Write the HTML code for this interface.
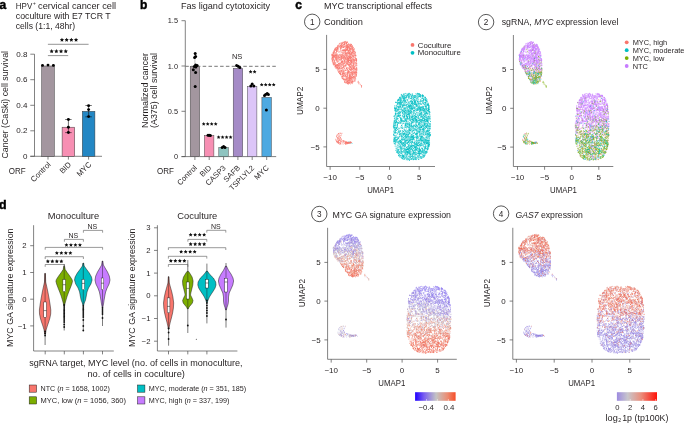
<!DOCTYPE html>
<html><head><meta charset="utf-8"><style>
html,body{margin:0;padding:0;background:#fff;}
body{width:685px;height:424px;overflow:hidden;}
svg{display:block;font-family:"Liberation Sans",sans-serif;will-change:transform;}
</style></head><body>
<svg width="685" height="424" viewBox="0 0 685 424" fill="#231f20">
<text x="-0.4" y="8.8" font-size="12" font-weight="bold" fill="#000" stroke="#000" stroke-width="0.45">a</text>
<text x="15.8" y="9.1" font-size="8.6" textLength="16.4" lengthAdjust="spacingAndGlyphs">HPV</text>
<text x="33" y="5.4" font-size="4.8">+</text>
<text x="38.1" y="9.1" font-size="8.6" textLength="77.9" lengthAdjust="spacingAndGlyphs">cervical cancer cell</text>
<text x="15.8" y="19.3" font-size="8.6" textLength="94.9" lengthAdjust="spacingAndGlyphs">coculture with E7 TCR T</text>
<text x="15.8" y="29.4" font-size="8.6" textLength="59.2" lengthAdjust="spacingAndGlyphs">cells (1:1, 48hr)</text>
<text transform="translate(8.4,104.8) rotate(-90)" text-anchor="middle" font-size="8.6" textLength="107.5" lengthAdjust="spacingAndGlyphs" fill="#231f20">Cancer (CaSki) cell survival</text>
<line x1="34.5" y1="54.2" x2="34.5" y2="156.3" stroke="#4d4d4d" stroke-width="0.7"/>
<line x1="30.3" y1="156.3" x2="102" y2="156.3" stroke="#4d4d4d" stroke-width="0.7"/>
<line x1="30.3" y1="54.2" x2="34.5" y2="54.2" stroke="#4d4d4d" stroke-width="0.7"/>
<text x="27.4" y="56.8" font-size="7.6" text-anchor="end" textLength="11.2" lengthAdjust="spacingAndGlyphs">0.8</text>
<line x1="30.3" y1="79.7" x2="34.5" y2="79.7" stroke="#4d4d4d" stroke-width="0.7"/>
<text x="27.4" y="82.3" font-size="7.6" text-anchor="end" textLength="11.2" lengthAdjust="spacingAndGlyphs">0.6</text>
<line x1="30.3" y1="105.3" x2="34.5" y2="105.3" stroke="#4d4d4d" stroke-width="0.7"/>
<text x="27.4" y="107.9" font-size="7.6" text-anchor="end" textLength="11.2" lengthAdjust="spacingAndGlyphs">0.4</text>
<line x1="30.3" y1="130.8" x2="34.5" y2="130.8" stroke="#4d4d4d" stroke-width="0.7"/>
<text x="27.4" y="133.4" font-size="7.6" text-anchor="end" textLength="11.2" lengthAdjust="spacingAndGlyphs">0.2</text>
<line x1="30.3" y1="156.3" x2="34.5" y2="156.3" stroke="#4d4d4d" stroke-width="0.7"/>
<text x="27.4" y="158.9" font-size="7.6" text-anchor="end" textLength="4.48" lengthAdjust="spacingAndGlyphs">0</text>
<line x1="48" y1="156.3" x2="48" y2="159.6" stroke="#4d4d4d" stroke-width="0.7"/>
<line x1="68.4" y1="156.3" x2="68.4" y2="159.6" stroke="#4d4d4d" stroke-width="0.7"/>
<line x1="88.6" y1="156.3" x2="88.6" y2="159.6" stroke="#4d4d4d" stroke-width="0.7"/>
<rect x="41.7" y="66" width="12.6" height="90.3" fill="#a3969f" stroke="#3a3a3a" stroke-width="0.5"/>
<rect x="62.1" y="127.2" width="12.6" height="29.1" fill="#f78fb3" stroke="#3a3a3a" stroke-width="0.5"/>
<rect x="82.3" y="111.3" width="12.6" height="45" fill="#2387c4" stroke="#3a3a3a" stroke-width="0.5"/>
<line x1="68.4" y1="119.5" x2="68.4" y2="132.6" stroke="#111" stroke-width="0.6"/>
<line x1="65.2" y1="119.5" x2="71.6" y2="119.5" stroke="#111" stroke-width="0.6"/>
<line x1="65.2" y1="132.6" x2="71.6" y2="132.6" stroke="#111" stroke-width="0.6"/>
<line x1="88.6" y1="105.5" x2="88.6" y2="116.8" stroke="#111" stroke-width="0.6"/>
<line x1="85.4" y1="105.5" x2="91.8" y2="105.5" stroke="#111" stroke-width="0.6"/>
<line x1="85.4" y1="116.8" x2="91.8" y2="116.8" stroke="#111" stroke-width="0.6"/>
<circle cx="42.5" cy="65.4" r="1.45" fill="#000"/>
<circle cx="48" cy="65.1" r="1.45" fill="#000"/>
<circle cx="53.4" cy="65.4" r="1.45" fill="#000"/>
<circle cx="68.4" cy="119.5" r="1.45" fill="#000"/>
<circle cx="68.4" cy="127.3" r="1.45" fill="#000"/>
<circle cx="68.4" cy="132.5" r="1.45" fill="#000"/>
<circle cx="88.6" cy="105.7" r="1.45" fill="#000"/>
<circle cx="88.6" cy="109.6" r="1.45" fill="#000"/>
<circle cx="88.6" cy="116.6" r="1.45" fill="#000"/>
<line x1="47.9" y1="44.3" x2="88.6" y2="44.3" stroke="#7a7a7a" stroke-width="0.8"/>
<line x1="47.9" y1="55.6" x2="68.2" y2="55.6" stroke="#7a7a7a" stroke-width="0.8"/>
<path d="M61.95 37.80L62.60 39.11L64.04 39.32L63.00 40.34L63.24 41.78L61.95 41.10L60.66 41.78L60.90 40.34L59.86 39.32L61.30 39.11ZM66.65 37.80L67.30 39.11L68.74 39.32L67.70 40.34L67.94 41.78L66.65 41.10L65.36 41.78L65.60 40.34L64.56 39.32L66.00 39.11ZM71.35 37.80L72.00 39.11L73.44 39.32L72.40 40.34L72.64 41.78L71.35 41.10L70.06 41.78L70.30 40.34L69.26 39.32L70.70 39.11ZM76.05 37.80L76.70 39.11L78.14 39.32L77.10 40.34L77.34 41.78L76.05 41.10L74.76 41.78L75.00 40.34L73.96 39.32L75.40 39.11Z" fill="#111"/>
<path d="M51.65 49.10L52.30 50.41L53.74 50.62L52.70 51.64L52.94 53.08L51.65 52.40L50.36 53.08L50.60 51.64L49.56 50.62L51.00 50.41ZM56.35 49.10L57.00 50.41L58.44 50.62L57.40 51.64L57.64 53.08L56.35 52.40L55.06 53.08L55.30 51.64L54.26 50.62L55.70 50.41ZM61.05 49.10L61.70 50.41L63.14 50.62L62.10 51.64L62.34 53.08L61.05 52.40L59.76 53.08L60.00 51.64L58.96 50.62L60.40 50.41ZM65.75 49.10L66.40 50.41L67.84 50.62L66.80 51.64L67.04 53.08L65.75 52.40L64.46 53.08L64.70 51.64L63.66 50.62L65.10 50.41Z" fill="#111"/>
<text x="8.8" y="174" font-size="8.6" textLength="16.9" lengthAdjust="spacingAndGlyphs">ORF</text>
<text transform="translate(51.3,165.0) rotate(-45)" text-anchor="end" font-size="7.7" fill="#231f20">Control</text>
<text transform="translate(71.7,165.0) rotate(-45)" text-anchor="end" font-size="7.7" fill="#231f20">BID</text>
<text transform="translate(91.9,165.0) rotate(-45)" text-anchor="end" font-size="7.7" fill="#231f20">MYC</text>
<text x="140" y="8.8" font-size="12" font-weight="bold" fill="#000" stroke="#000" stroke-width="0.45">b</text>
<text x="180.9" y="8.8" font-size="8.6" textLength="89.3" lengthAdjust="spacingAndGlyphs">Fas ligand cytotoxicity</text>
<text transform="translate(147.8,90.5) rotate(-90)" text-anchor="middle" font-size="8.6" textLength="75" lengthAdjust="spacingAndGlyphs" fill="#231f20">Normalized cancer</text>
<text transform="translate(157.0,90.5) rotate(-90)" text-anchor="middle" font-size="8.6" textLength="75" lengthAdjust="spacingAndGlyphs" fill="#231f20">(A375) cell survival</text>
<line x1="185.3" y1="20.7" x2="185.3" y2="156.6" stroke="#4d4d4d" stroke-width="0.7"/>
<line x1="181.5" y1="156.6" x2="276.2" y2="156.6" stroke="#4d4d4d" stroke-width="0.7"/>
<line x1="181.5" y1="20.7" x2="185.3" y2="20.7" stroke="#4d4d4d" stroke-width="0.7"/>
<text x="178" y="23.3" font-size="7.6" text-anchor="end" textLength="10.25" lengthAdjust="spacingAndGlyphs">1.5</text>
<line x1="181.5" y1="66" x2="185.3" y2="66" stroke="#4d4d4d" stroke-width="0.7"/>
<text x="178" y="68.6" font-size="7.6" text-anchor="end" textLength="10.25" lengthAdjust="spacingAndGlyphs">1.0</text>
<line x1="181.5" y1="111.3" x2="185.3" y2="111.3" stroke="#4d4d4d" stroke-width="0.7"/>
<text x="178" y="113.9" font-size="7.6" text-anchor="end" textLength="10.25" lengthAdjust="spacingAndGlyphs">0.5</text>
<line x1="181.5" y1="156.6" x2="185.3" y2="156.6" stroke="#4d4d4d" stroke-width="0.7"/>
<text x="178" y="159.2" font-size="7.6" text-anchor="end" textLength="4.1" lengthAdjust="spacingAndGlyphs">0</text>
<line x1="194.9" y1="156.6" x2="194.9" y2="160" stroke="#4d4d4d" stroke-width="0.7"/>
<line x1="209.2" y1="156.6" x2="209.2" y2="160" stroke="#4d4d4d" stroke-width="0.7"/>
<line x1="223.6" y1="156.6" x2="223.6" y2="160" stroke="#4d4d4d" stroke-width="0.7"/>
<line x1="237.9" y1="156.6" x2="237.9" y2="160" stroke="#4d4d4d" stroke-width="0.7"/>
<line x1="252.2" y1="156.6" x2="252.2" y2="160" stroke="#4d4d4d" stroke-width="0.7"/>
<line x1="266.7" y1="156.6" x2="266.7" y2="160" stroke="#4d4d4d" stroke-width="0.7"/>
<rect x="190.2" y="66.3" width="9.5" height="90.3" fill="#a3969f" stroke="#3a3a3a" stroke-width="0.45"/>
<rect x="204.4" y="135.5" width="9.5" height="21.1" fill="#f78fb3" stroke="#3a3a3a" stroke-width="0.45"/>
<rect x="218.8" y="147.5" width="9.5" height="9.1" fill="#8ec4c0" stroke="#3a3a3a" stroke-width="0.45"/>
<rect x="233.2" y="68.4" width="9.5" height="88.2" fill="#a58bc7" stroke="#3a3a3a" stroke-width="0.45"/>
<rect x="247.4" y="86.5" width="9.5" height="70.1" fill="#dcc5f8" stroke="#3a3a3a" stroke-width="0.45"/>
<rect x="261.9" y="97.4" width="9.5" height="59.2" fill="#4da9e1" stroke="#3a3a3a" stroke-width="0.45"/>
<line x1="185.3" y1="66.3" x2="277" y2="66.3" stroke="#777" stroke-width="1.0" stroke-dasharray="3.5 2.3"/>
<line x1="194.9" y1="57" x2="194.9" y2="75.5" stroke="#999" stroke-width="0.6"/>
<circle cx="195.2" cy="53.5" r="1.5" fill="#000"/>
<circle cx="195.6" cy="56.6" r="1.5" fill="#000"/>
<circle cx="194.6" cy="57.6" r="1.5" fill="#000"/>
<circle cx="195.6" cy="64.9" r="1.5" fill="#000"/>
<circle cx="197.1" cy="65.4" r="1.5" fill="#000"/>
<circle cx="194.3" cy="66.4" r="1.5" fill="#000"/>
<circle cx="195.8" cy="67.1" r="1.5" fill="#000"/>
<circle cx="193.3" cy="69.8" r="1.5" fill="#000"/>
<circle cx="195.6" cy="72.6" r="1.5" fill="#000"/>
<circle cx="195.2" cy="86.5" r="1.5" fill="#000"/>
<circle cx="208" cy="135.3" r="1.5" fill="#000"/>
<circle cx="209.2" cy="135.3" r="1.5" fill="#000"/>
<circle cx="210.4" cy="135.5" r="1.5" fill="#000"/>
<circle cx="222.2" cy="147.6" r="1.5" fill="#000"/>
<circle cx="223.6" cy="146.6" r="1.5" fill="#000"/>
<circle cx="225" cy="147.6" r="1.5" fill="#000"/>
<circle cx="236.6" cy="65.6" r="1.5" fill="#000"/>
<circle cx="238.2" cy="66.2" r="1.5" fill="#000"/>
<circle cx="239.8" cy="67.4" r="1.5" fill="#000"/>
<circle cx="250.8" cy="85.9" r="1.5" fill="#000"/>
<circle cx="252.2" cy="83.9" r="1.5" fill="#000"/>
<circle cx="253.8" cy="86.1" r="1.5" fill="#000"/>
<circle cx="265.6" cy="94.4" r="1.5" fill="#000"/>
<circle cx="267.2" cy="93.4" r="1.5" fill="#000"/>
<circle cx="268.4" cy="94.6" r="1.5" fill="#000"/>
<circle cx="264.5" cy="95.6" r="1.5" fill="#000"/>
<circle cx="266.4" cy="110" r="1.5" fill="#000"/>
<path d="M203.70 122.00L204.29 123.19L205.60 123.38L204.65 124.31L204.88 125.62L203.70 125.00L202.52 125.62L202.75 124.31L201.80 123.38L203.11 123.19ZM207.70 122.00L208.29 123.19L209.60 123.38L208.65 124.31L208.88 125.62L207.70 125.00L206.52 125.62L206.75 124.31L205.80 123.38L207.11 123.19ZM211.70 122.00L212.29 123.19L213.60 123.38L212.65 124.31L212.88 125.62L211.70 125.00L210.52 125.62L210.75 124.31L209.80 123.38L211.11 123.19ZM215.70 122.00L216.29 123.19L217.60 123.38L216.65 124.31L216.88 125.62L215.70 125.00L214.52 125.62L214.75 124.31L213.80 123.38L215.11 123.19Z" fill="#111"/>
<path d="M218.60 135.20L219.19 136.39L220.50 136.58L219.55 137.51L219.78 138.82L218.60 138.20L217.42 138.82L217.65 137.51L216.70 136.58L218.01 136.39ZM222.60 135.20L223.19 136.39L224.50 136.58L223.55 137.51L223.78 138.82L222.60 138.20L221.42 138.82L221.65 137.51L220.70 136.58L222.01 136.39ZM226.60 135.20L227.19 136.39L228.50 136.58L227.55 137.51L227.78 138.82L226.60 138.20L225.42 138.82L225.65 137.51L224.70 136.58L226.01 136.39ZM230.60 135.20L231.19 136.39L232.50 136.58L231.55 137.51L231.78 138.82L230.60 138.20L229.42 138.82L229.65 137.51L228.70 136.58L230.01 136.39Z" fill="#111"/>
<text x="237.1" y="58.9" font-size="7.5" text-anchor="middle">NS</text>
<path d="M250.60 69.80L251.19 70.99L252.50 71.18L251.55 72.11L251.78 73.42L250.60 72.80L249.42 73.42L249.65 72.11L248.70 71.18L250.01 70.99ZM254.60 69.80L255.19 70.99L256.50 71.18L255.55 72.11L255.78 73.42L254.60 72.80L253.42 73.42L253.65 72.11L252.70 71.18L254.01 70.99Z" fill="#111"/>
<path d="M261.70 82.70L262.29 83.89L263.60 84.08L262.65 85.01L262.88 86.32L261.70 85.70L260.52 86.32L260.75 85.01L259.80 84.08L261.11 83.89ZM265.70 82.70L266.29 83.89L267.60 84.08L266.65 85.01L266.88 86.32L265.70 85.70L264.52 86.32L264.75 85.01L263.80 84.08L265.11 83.89ZM269.70 82.70L270.29 83.89L271.60 84.08L270.65 85.01L270.88 86.32L269.70 85.70L268.52 86.32L268.75 85.01L267.80 84.08L269.11 83.89ZM273.70 82.70L274.29 83.89L275.60 84.08L274.65 85.01L274.88 86.32L273.70 85.70L272.52 86.32L272.75 85.01L271.80 84.08L273.11 83.89Z" fill="#111"/>
<text x="157" y="174" font-size="8.6" textLength="16.9" lengthAdjust="spacingAndGlyphs">ORF</text>
<text transform="translate(197.5,168.4) rotate(-45)" text-anchor="end" font-size="7.6" fill="#231f20">Control</text>
<text transform="translate(211.8,168.4) rotate(-45)" text-anchor="end" font-size="7.6" fill="#231f20">BID</text>
<text transform="translate(226.2,168.4) rotate(-45)" text-anchor="end" font-size="7.6" fill="#231f20">CASP3</text>
<text transform="translate(240.5,168.4) rotate(-45)" text-anchor="end" font-size="7.6" fill="#231f20">SAFB</text>
<text transform="translate(254.8,168.4) rotate(-45)" text-anchor="end" font-size="7.6" fill="#231f20">TSPLYL2</text>
<text transform="translate(269.3,168.4) rotate(-45)" text-anchor="end" font-size="7.6" fill="#231f20">MYC</text>
<text x="295.2" y="9.1" font-size="12" font-weight="bold" fill="#000" stroke="#000" stroke-width="0.45">c</text>
<text x="323.9" y="9.1" font-size="8.6" textLength="108.2" lengthAdjust="spacingAndGlyphs">MYC transcriptional effects</text>
<circle cx="312.2" cy="21.8" r="7.7" fill="none" stroke="#222" stroke-width="0.75"/>
<text x="312.2" y="24.7" font-size="8.2" text-anchor="middle">1</text>
<text x="323.9" y="24.6" font-size="8.6" textLength="39" lengthAdjust="spacingAndGlyphs">Condition</text>
<path d="M412.5 119.0h0M403.6 105.2h0M426.8 120.8h0M410.8 139.2h0M404.1 102.2h0M408.7 129.5h0M407.6 139.9h0M420.7 115.2h0M413.7 129.0h0M420.9 132.8h0M423.2 99.0h0M399.8 143.1h0M419.6 94.0h0M420.2 134.7h0M418.8 131.2h0M429.4 130.3h0M396.9 137.6h0M410.8 101.6h0M395.7 129.7h0M401.4 104.5h0M399.4 121.4h0M413.7 137.1h0M421.0 143.7h0M418.0 117.7h0M395.3 141.7h0M411.8 125.6h0M400.4 99.8h0M414.5 110.8h0M418.0 120.4h0M401.7 125.5h0M394.7 108.7h0M408.7 107.4h0M405.5 115.0h0M429.6 128.6h0M415.1 127.1h0M405.2 135.9h0M401.9 120.4h0M395.7 129.9h0M350.4 142.8h0M426.7 119.6h0M396.5 116.1h0M418.9 127.2h0M400.4 118.6h0M417.8 95.7h0M426.3 125.5h0M420.2 120.5h0M395.1 144.0h0M427.0 142.9h0M399.3 134.3h0M409.6 141.9h0M427.0 146.5h0M406.5 136.2h0M416.9 125.7h0M412.1 145.4h0M403.8 109.6h0M422.3 156.3h0M402.3 95.7h0M408.7 144.6h0M419.0 94.6h0M395.9 128.7h0M411.5 117.8h0M403.7 93.9h0M405.0 99.8h0M399.8 134.5h0M417.6 108.9h0M402.5 156.0h0M425.8 105.9h0M416.3 124.0h0M420.4 151.5h0M417.1 95.8h0M414.9 156.0h0M423.5 109.1h0M401.0 156.8h0M409.2 139.1h0M416.0 104.5h0M415.5 115.2h0M429.7 111.9h0M409.2 106.6h0M415.3 143.5h0M426.4 143.6h0M428.9 123.7h0M398.9 123.5h0M417.2 105.4h0M409.8 125.1h0M402.0 97.7h0M423.5 129.1h0M423.9 133.5h0M403.0 138.5h0M418.8 156.0h0M424.7 112.9h0M402.8 101.9h0M403.4 131.3h0M405.7 125.3h0M403.6 135.2h0M424.0 150.9h0M423.9 142.0h0M401.6 120.8h0M427.9 120.8h0M417.5 93.8h0M421.5 126.3h0M423.9 103.2h0M427.9 110.6h0M399.5 112.6h0M423.5 128.8h0M402.4 156.6h0M418.4 143.9h0M410.1 123.2h0M419.6 109.0h0M406.8 120.5h0M412.2 135.8h0M423.7 106.7h0M400.9 103.1h0M409.2 130.4h0M402.2 144.3h0M402.1 102.0h0M429.7 136.5h0M419.9 122.1h0M403.3 121.5h0M403.7 123.1h0M419.2 124.0h0M423.2 100.8h0M414.0 111.0h0M408.6 98.2h0M428.6 135.2h0M400.7 134.8h0M426.2 98.6h0M407.3 149.2h0M408.3 131.2h0M403.6 108.9h0M422.3 106.8h0M411.4 119.3h0M424.9 112.0h0M407.2 138.6h0M397.7 102.2h0M427.3 120.7h0M412.3 137.8h0M394.4 131.7h0M405.1 124.4h0M417.0 121.5h0M416.0 149.9h0M409.3 128.0h0M420.6 97.1h0M427.2 126.6h0M410.5 105.5h0M425.8 144.6h0M398.6 128.2h0M395.1 135.4h0M399.7 154.8h0M409.9 139.9h0M395.8 139.5h0M406.9 149.2h0M416.5 149.0h0M400.5 100.6h0M409.6 145.6h0M422.5 98.0h0M403.4 94.4h0M425.7 102.7h0M414.9 141.3h0M397.2 114.3h0M420.3 128.7h0M395.3 123.7h0M402.5 155.4h0M410.2 151.8h0M409.6 101.9h0M407.9 111.1h0M396.6 127.7h0M417.2 141.8h0M397.7 129.1h0M403.4 104.9h0M395.0 120.2h0M426.4 151.6h0M399.0 146.5h0M430.2 128.5h0M409.6 118.8h0M412.8 150.5h0M416.5 150.1h0M407.0 111.6h0M427.6 127.9h0M396.4 111.4h0M413.0 150.6h0M428.0 144.3h0M414.5 144.1h0M420.7 113.6h0M418.4 153.5h0M416.6 130.7h0M411.3 156.7h0M408.5 152.4h0M414.1 139.8h0M404.7 121.1h0M410.8 126.1h0M406.0 157.1h0M428.3 108.6h0M426.9 119.6h0M397.7 110.6h0M426.8 141.1h0M405.1 142.6h0M429.2 109.5h0M414.9 159.4h0M414.2 119.1h0M420.5 131.2h0M429.8 123.7h0M429.9 117.9h0M426.2 136.5h0M404.9 154.1h0M407.1 113.1h0M397.1 142.7h0M405.0 158.6h0M413.7 150.9h0M407.9 97.1h0M395.1 129.3h0M426.6 106.9h0M427.1 131.7h0M412.7 126.8h0M396.0 141.4h0M429.3 126.8h0M401.0 126.9h0M412.2 102.9h0M420.6 114.2h0M422.6 144.8h0M419.8 144.9h0M425.7 113.2h0M421.8 123.0h0M413.6 139.0h0M398.2 142.7h0M393.9 125.9h0M407.3 134.2h0M409.8 147.7h0M397.2 148.7h0M419.1 152.7h0M415.0 102.8h0M398.2 153.0h0M422.4 151.9h0M429.2 123.7h0M425.4 100.1h0M414.9 147.2h0M410.5 154.0h0M396.6 132.8h0M411.7 143.4h0M425.8 142.0h0M400.0 107.2h0M423.8 138.1h0M416.3 147.2h0M407.2 118.2h0M414.3 125.6h0M407.9 109.1h0M419.4 134.2h0M426.7 100.9h0M425.4 139.9h0M405.6 144.7h0M414.3 159.0h0M408.4 150.0h0M400.6 142.2h0M426.1 133.2h0M411.9 122.0h0M396.2 119.5h0M404.7 148.2h0M421.5 113.7h0M398.8 141.3h0M417.6 155.1h0M406.8 157.0h0M410.9 127.1h0M417.0 121.5h0M423.8 115.9h0M413.7 158.0h0M423.4 107.9h0M408.6 145.9h0M430.2 134.6h0M417.4 101.4h0M429.7 113.0h0M405.9 141.3h0M427.5 121.4h0M420.2 120.0h0M426.3 108.7h0M415.7 129.7h0M413.3 110.2h0M411.3 107.4h0M428.8 144.2h0M405.1 134.8h0M401.8 133.9h0M402.3 140.2h0M420.5 109.0h0M410.7 154.4h0M427.9 144.7h0M426.9 137.2h0M411.1 116.5h0M423.3 114.5h0M412.0 119.5h0M400.9 155.2h0M413.9 147.2h0M408.9 94.8h0M408.7 156.2h0M425.1 154.3h0M403.2 145.2h0M422.8 113.2h0M400.8 142.4h0M416.0 119.7h0M410.1 105.5h0M410.9 113.4h0M402.9 136.4h0M426.6 142.0h0M399.7 152.8h0M421.7 109.8h0M403.6 142.8h0M414.7 120.9h0M420.1 114.2h0M420.6 127.3h0M399.0 100.5h0M415.3 157.7h0M422.6 94.7h0M409.4 143.2h0M424.4 149.1h0M398.2 129.2h0M406.4 125.2h0M428.8 146.5h0M399.7 106.4h0M420.2 150.4h0M410.2 133.5h0M410.0 95.3h0M424.4 97.2h0M404.0 113.7h0M416.3 117.8h0M420.2 108.2h0M415.8 144.7h0M409.4 150.0h0M415.9 108.7h0M419.6 106.1h0M426.4 100.8h0M404.7 104.6h0M413.0 117.3h0M411.7 106.4h0M408.5 96.3h0M409.1 141.6h0M422.5 98.2h0M395.4 120.3h0M415.8 158.9h0M407.7 119.3h0M405.0 117.1h0M404.5 112.1h0M404.2 100.0h0M429.4 144.3h0M412.6 102.4h0M410.9 105.0h0M412.7 119.9h0M401.7 135.3h0M420.0 150.3h0M427.4 149.7h0M399.9 123.1h0M426.9 125.9h0M429.5 140.0h0M420.3 150.5h0M413.1 98.3h0M422.9 149.3h0M419.4 108.8h0M419.3 114.9h0M415.5 146.6h0M411.1 123.6h0M401.2 120.0h0M416.6 140.3h0M419.7 107.4h0M423.2 140.1h0M426.3 119.9h0M414.2 97.2h0M417.4 109.3h0M396.8 117.8h0M395.5 125.0h0M409.1 125.4h0M416.7 122.5h0M398.7 102.8h0M425.4 117.9h0M400.8 140.8h0M430.0 128.5h0M410.8 142.5h0M408.4 134.7h0M414.6 107.9h0M394.4 129.7h0M409.6 137.0h0M421.8 148.2h0M419.1 131.6h0M406.3 140.6h0M425.7 146.4h0M425.2 146.3h0M423.3 117.9h0M407.3 158.6h0M404.2 102.2h0M396.9 110.3h0M393.8 140.0h0M415.7 123.1h0M423.2 137.7h0M412.2 140.2h0M408.9 144.1h0M393.5 138.0h0M410.2 139.5h0M412.4 116.4h0M398.7 99.8h0M414.2 102.6h0M408.9 125.1h0M425.7 139.3h0M398.9 107.4h0M411.9 119.9h0M397.9 147.5h0M408.4 131.0h0M425.9 137.4h0M430.0 127.5h0M405.6 150.7h0M416.8 97.1h0M405.4 119.2h0M414.7 96.0h0M401.7 143.2h0M395.6 137.7h0M398.7 141.5h0M402.8 112.9h0M396.1 108.6h0M414.1 154.1h0M402.0 107.2h0M418.4 157.2h0M395.3 110.8h0M425.6 115.4h0M419.2 126.7h0M414.2 101.7h0M421.6 117.0h0M399.3 113.3h0M407.3 158.1h0M420.5 116.9h0M420.0 95.1h0M419.5 148.6h0M426.1 150.0h0M398.4 115.8h0M397.9 138.3h0M420.6 127.3h0M414.6 101.8h0M403.3 117.9h0M420.4 113.0h0M399.5 116.0h0M416.0 154.1h0M423.6 99.3h0M424.5 104.8h0M413.6 130.4h0M419.3 93.5h0M405.7 100.8h0M419.2 113.6h0M414.8 147.8h0M421.7 139.4h0M427.3 120.1h0M418.9 106.1h0M394.6 127.2h0M416.8 146.8h0M397.3 113.1h0M428.7 118.4h0M427.2 105.2h0M418.2 101.5h0M402.5 96.0h0M399.8 140.3h0M414.7 102.8h0M428.3 117.9h0M407.8 151.8h0M411.1 158.9h0M416.3 106.3h0M423.2 157.4h0M409.8 130.1h0M423.5 152.6h0M416.4 142.6h0M416.0 159.6h0M426.1 135.7h0M423.9 111.4h0M415.4 118.2h0M407.4 117.6h0M407.5 143.6h0M401.8 157.1h0M402.2 136.7h0M422.5 150.4h0M427.2 120.2h0M393.4 122.9h0M423.6 108.5h0M406.4 126.8h0M398.1 109.9h0M427.3 135.5h0M420.2 96.1h0M415.2 147.2h0M413.9 96.2h0M396.1 141.9h0M408.4 114.3h0M424.3 114.3h0M414.8 143.1h0M415.6 145.0h0M410.4 152.1h0M422.1 140.6h0M398.4 137.9h0M421.3 140.1h0M395.2 122.7h0M425.5 119.5h0M402.1 99.0h0M408.6 97.1h0M413.6 159.2h0M415.6 101.4h0M413.3 98.8h0M426.9 131.3h0M401.6 136.6h0M418.9 159.5h0M409.2 124.5h0M412.2 156.6h0M398.9 122.6h0M413.6 127.9h0M408.5 134.5h0M406.7 113.8h0M397.9 103.7h0M415.4 119.8h0M415.0 144.4h0M414.2 136.0h0M403.0 113.1h0M425.0 111.3h0M422.6 126.3h0M394.1 130.2h0M415.8 95.2h0M406.1 118.7h0M414.8 137.4h0M411.3 110.2h0M401.1 151.2h0M403.6 157.4h0M396.6 128.1h0M395.7 114.6h0M399.8 135.8h0M409.3 150.7h0M402.1 151.7h0M406.9 113.6h0M412.8 159.6h0M400.8 120.0h0M420.9 156.7h0M405.7 113.2h0M413.3 98.1h0M428.3 116.4h0M399.4 141.5h0M420.7 108.5h0M419.1 149.4h0M425.0 142.6h0M402.0 144.8h0M395.1 141.9h0M429.3 117.6h0M409.5 106.5h0M400.2 114.7h0M428.6 109.4h0M413.7 153.0h0M424.0 120.0h0M426.7 143.3h0M412.1 95.1h0M402.7 144.3h0M413.3 133.7h0M415.5 104.7h0M421.6 144.9h0M406.2 159.8h0M422.9 145.4h0M425.9 108.5h0M395.5 142.7h0M407.4 152.1h0M393.9 140.4h0M395.4 132.0h0M405.8 151.3h0M415.7 129.2h0M393.9 135.6h0M407.5 114.5h0M423.1 132.0h0M414.4 150.5h0M401.1 96.4h0M413.3 137.6h0M403.9 129.1h0M419.1 155.7h0M401.2 119.6h0M407.8 149.3h0M415.1 118.3h0M415.8 100.3h0M410.2 136.2h0M416.5 144.7h0M428.3 149.2h0M410.4 154.0h0M402.1 120.4h0M406.0 126.6h0M412.0 108.8h0M412.7 151.9h0M401.8 139.6h0M403.3 110.6h0M416.1 137.3h0M410.3 128.7h0M397.1 122.3h0M403.5 143.6h0M403.0 105.4h0M409.6 93.8h0M429.0 108.4h0M398.5 115.7h0M417.8 94.1h0M420.3 95.7h0M398.7 112.9h0M402.5 112.9h0M403.5 156.5h0M399.3 102.7h0M407.1 136.8h0M402.6 105.3h0M406.0 122.1h0M419.1 132.1h0M395.0 143.7h0M405.9 124.7h0M403.8 143.4h0M412.2 116.3h0M402.9 145.8h0M418.2 103.9h0M399.8 97.2h0M401.9 141.1h0M423.4 95.7h0M425.2 113.3h0M424.9 123.9h0M406.5 140.0h0M407.4 151.5h0M412.9 115.2h0M403.0 98.0h0M428.3 131.9h0M408.1 135.9h0M396.3 128.4h0M422.3 154.4h0M395.8 108.3h0M417.5 135.2h0M404.2 110.9h0M400.3 101.5h0M410.6 94.5h0M429.0 142.2h0M429.5 144.5h0M425.4 107.0h0M427.8 105.0h0M397.2 117.9h0M407.9 154.8h0M400.5 140.7h0M403.6 131.5h0M409.1 93.2h0M405.5 130.2h0M398.4 138.2h0M428.0 134.4h0M394.5 137.8h0M400.9 107.1h0M410.5 150.7h0M410.6 130.8h0M404.3 130.7h0M409.2 147.2h0M421.1 110.0h0M423.7 155.6h0M409.7 127.0h0M425.7 128.7h0M424.6 142.1h0M407.7 149.3h0M404.4 144.8h0M420.9 104.2h0M404.9 93.5h0M429.6 140.3h0M415.6 117.1h0M417.5 145.0h0M394.8 125.8h0M405.3 97.7h0M413.0 107.7h0M419.1 123.3h0M413.8 148.7h0M402.5 106.5h0M409.3 96.7h0M422.5 110.1h0M408.8 148.7h0M424.6 120.6h0M394.5 141.6h0M427.7 142.5h0M419.4 147.2h0M418.9 153.3h0M413.5 103.7h0M395.0 126.1h0M422.0 98.0h0M407.6 130.8h0M408.7 148.9h0M396.4 109.8h0M410.8 101.3h0M421.0 136.5h0M416.3 149.7h0M394.8 107.3h0M415.0 99.2h0M420.0 111.5h0M414.5 95.8h0M404.8 148.9h0M429.7 126.5h0M405.7 100.9h0M415.6 97.4h0M424.2 156.0h0M412.7 149.5h0M401.2 144.3h0M408.9 106.5h0M425.9 103.6h0M418.6 140.4h0M412.8 101.6h0M426.8 137.1h0M402.6 123.9h0M409.2 150.0h0M421.7 103.8h0M397.4 127.2h0M402.3 116.1h0M395.8 113.2h0M423.3 132.2h0M412.4 157.0h0M405.8 130.8h0M418.1 100.7h0M412.6 136.3h0M416.3 158.1h0M399.3 140.2h0M421.4 120.1h0M404.5 146.7h0M427.6 143.0h0M426.6 131.2h0M414.9 107.2h0M398.4 132.0h0M427.2 120.4h0M427.2 140.8h0M408.3 94.4h0M412.5 146.0h0M409.5 107.3h0M399.6 97.6h0M418.7 148.2h0M404.9 150.0h0M419.9 151.5h0M425.4 99.6h0M402.8 113.8h0M421.1 114.8h0M422.0 141.6h0M410.5 149.7h0M409.0 131.8h0M424.7 149.3h0M417.9 142.7h0M429.4 145.0h0M414.7 132.8h0M409.5 115.8h0M408.0 114.6h0M399.6 97.6h0M428.2 133.8h0M417.6 137.9h0M398.1 116.3h0M424.9 105.1h0M421.5 148.2h0M426.6 143.0h0M423.2 118.3h0M414.1 157.5h0M407.5 126.3h0M396.7 141.1h0M422.8 95.2h0M404.5 119.1h0M426.8 123.4h0M420.2 96.4h0M419.1 114.7h0M419.2 153.4h0M426.9 137.8h0M405.9 101.6h0M419.3 133.7h0M413.4 119.9h0M418.2 114.0h0M405.3 119.7h0M396.9 137.0h0M400.3 105.3h0M405.4 139.9h0M426.5 107.8h0M416.4 104.4h0M404.6 105.1h0M425.4 111.2h0M423.1 156.4h0M403.3 157.0h0M413.2 122.8h0M423.4 103.6h0M423.6 125.1h0M407.5 152.6h0M409.6 112.1h0M395.0 130.8h0M422.3 110.3h0M405.5 153.9h0M394.2 125.0h0M401.1 105.4h0M405.8 123.8h0M412.1 103.4h0M394.5 132.6h0M425.5 112.2h0M418.3 137.9h0M402.6 128.5h0M429.9 135.3h0M416.1 120.8h0M427.0 114.4h0M412.1 141.7h0M414.3 130.2h0M404.7 111.4h0M395.1 125.4h0M423.1 108.1h0M425.4 151.8h0M408.9 111.6h0M413.1 148.6h0M412.0 113.9h0M399.3 106.8h0M406.0 98.3h0M428.9 105.4h0M427.1 152.4h0M414.4 125.7h0M429.9 124.3h0M407.1 140.5h0M424.6 148.7h0M404.3 139.9h0M420.8 119.4h0M426.4 120.6h0M412.8 136.6h0M427.1 108.9h0M421.8 116.6h0M406.4 143.6h0M411.2 101.2h0M404.5 158.4h0M411.6 132.0h0M420.2 101.1h0M417.3 101.5h0M396.6 121.1h0M417.0 119.7h0M420.5 110.3h0M421.1 126.0h0M419.9 139.6h0M397.6 133.8h0M409.1 111.5h0M399.5 111.5h0M422.4 120.2h0M413.2 97.5h0M413.9 112.8h0M425.9 140.2h0M415.2 149.1h0M427.1 123.3h0M418.3 142.0h0M413.2 136.5h0M394.9 137.8h0M428.8 111.6h0M408.7 111.8h0M421.2 126.7h0M427.8 128.8h0M393.8 141.8h0M397.9 132.2h0M405.3 101.3h0M425.2 134.5h0M405.8 120.1h0M411.5 136.3h0M406.3 147.5h0M428.2 103.9h0M420.7 109.6h0M398.9 100.8h0M420.5 126.0h0M417.5 148.3h0M405.8 108.8h0M423.2 132.9h0M416.8 132.6h0M410.9 137.1h0M395.9 115.9h0M408.3 149.0h0M398.8 138.2h0M405.4 110.2h0M428.5 145.1h0M418.6 152.5h0M421.6 127.4h0M407.1 149.4h0M405.0 132.1h0M417.4 134.1h0M395.2 109.8h0M422.0 114.6h0M418.1 156.8h0M401.6 141.6h0M418.0 98.1h0M395.7 108.8h0M407.2 139.2h0M411.7 100.3h0M423.7 118.2h0M416.9 105.6h0M413.5 118.9h0M406.0 121.5h0M425.2 100.6h0M408.0 134.5h0M422.4 133.7h0M411.6 105.8h0M400.5 102.7h0M405.5 142.3h0M401.6 153.3h0M402.4 154.3h0M430.1 118.5h0M407.9 133.8h0M400.8 102.7h0M413.7 118.4h0M410.9 139.5h0M405.2 141.8h0M402.9 97.8h0M424.8 99.9h0M400.8 101.3h0M398.6 112.9h0M419.2 110.1h0M409.4 125.3h0M403.5 152.0h0M396.4 152.3h0M409.9 106.3h0M414.3 110.4h0M427.4 125.0h0M419.5 141.8h0M409.3 148.6h0M400.2 105.0h0M420.8 100.5h0M403.8 117.0h0M393.6 126.7h0M408.3 119.3h0M411.4 97.5h0M417.8 109.1h0M409.5 123.4h0M411.4 127.1h0M420.4 127.8h0M401.8 134.2h0M430.1 134.6h0M408.8 122.9h0M402.7 112.1h0M414.3 128.8h0M417.4 99.2h0M414.6 97.3h0M394.3 138.6h0M419.3 149.3h0M424.6 152.0h0M423.8 129.6h0M404.9 100.7h0M420.8 121.2h0M424.5 143.6h0M424.0 123.2h0M409.3 106.7h0M401.5 125.5h0M418.4 151.3h0M428.2 147.4h0M401.0 149.8h0M423.8 140.0h0M402.0 111.8h0M408.2 153.6h0M395.5 133.2h0M415.9 133.5h0M427.0 146.1h0M398.8 123.0h0M415.2 100.8h0M414.8 97.5h0M417.2 126.9h0M420.9 116.9h0M418.0 125.2h0M429.0 144.2h0M398.9 130.8h0M406.2 135.9h0M412.7 142.5h0M398.8 155.5h0M416.9 133.4h0M401.2 108.7h0M409.4 155.0h0M428.2 125.9h0M422.5 119.3h0M400.5 115.5h0M396.8 148.1h0M424.3 123.3h0M422.3 96.5h0M394.9 121.3h0M411.5 148.4h0M410.2 108.4h0M397.6 124.6h0M411.6 113.9h0M422.6 100.6h0M409.8 146.7h0M399.5 154.7h0M393.8 139.8h0M408.8 109.9h0M349.0 142.4h0M417.9 103.8h0M396.6 122.8h0M406.4 95.8h0M429.1 142.9h0M401.1 99.7h0M420.6 150.2h0M430.1 112.3h0M426.3 111.3h0M412.2 122.5h0M412.6 104.5h0M413.9 113.8h0M399.3 108.9h0M429.4 137.1h0M421.2 145.2h0M424.0 122.1h0M398.5 107.0h0M406.7 134.6h0M422.5 125.3h0M420.7 110.1h0M395.6 114.1h0M417.4 93.3h0M395.1 146.2h0M394.3 143.2h0M414.4 99.4h0M396.7 113.3h0M398.0 102.5h0M413.5 135.5h0M419.1 153.6h0M399.6 132.9h0M403.5 155.8h0M421.3 140.7h0M426.8 118.1h0M396.3 107.5h0M412.0 103.3h0M401.0 147.9h0M425.4 113.9h0M411.9 130.6h0M418.3 108.8h0M411.8 103.1h0M425.0 127.3h0M396.0 121.1h0M419.3 127.2h0M412.4 142.7h0M408.1 156.5h0M406.2 147.0h0M415.3 124.6h0M423.8 149.8h0M409.8 119.8h0M395.3 131.9h0M399.8 102.7h0M426.7 127.5h0M398.5 115.5h0M410.6 140.0h0M410.8 147.3h0M419.8 96.7h0M411.3 145.9h0M406.3 154.3h0M424.2 156.4h0M407.8 153.0h0M404.1 105.6h0M423.7 128.8h0M416.3 104.3h0M414.7 96.9h0M401.6 121.4h0M400.8 140.5h0M413.7 145.4h0M417.5 118.0h0M418.9 142.8h0M418.9 157.4h0M418.4 159.4h0M422.9 126.3h0M418.3 151.6h0M400.7 103.6h0M401.3 127.4h0M402.9 134.9h0M415.6 134.1h0M424.0 130.3h0M409.2 151.4h0M401.0 102.0h0M401.9 158.1h0M424.7 127.8h0M412.1 137.8h0M402.8 156.9h0M422.3 98.4h0M416.0 159.0h0M425.9 141.8h0M428.0 140.7h0M406.7 120.8h0M429.6 138.5h0M406.6 115.5h0M395.9 119.3h0M406.1 132.7h0M406.0 143.2h0M413.0 156.1h0M415.4 101.2h0M419.6 131.1h0M403.4 137.5h0M405.5 140.9h0M414.1 139.4h0M399.2 105.4h0M419.9 131.2h0M406.8 131.3h0M427.0 118.7h0M418.6 145.5h0M400.4 133.9h0M416.9 116.1h0M418.4 128.8h0M421.8 140.7h0M415.9 146.9h0M404.0 155.2h0M407.8 135.9h0M404.4 116.7h0M413.3 130.1h0M417.5 147.2h0M415.9 155.8h0M394.9 108.2h0M405.5 123.2h0M404.9 123.2h0M419.0 153.8h0M414.5 108.4h0M425.3 102.9h0M425.5 102.3h0M397.8 151.3h0M414.7 158.8h0M416.5 120.0h0M411.9 137.2h0M429.0 130.8h0M423.2 146.4h0M425.9 152.0h0M427.6 133.0h0M406.4 105.8h0M410.0 96.1h0M424.7 119.4h0M402.1 111.8h0M415.6 151.2h0M419.0 105.4h0M408.0 147.9h0M421.6 120.9h0M427.6 118.2h0M401.0 148.0h0M416.1 121.7h0M411.8 116.7h0M417.2 102.0h0M421.9 136.1h0M404.1 133.1h0M412.7 128.3h0M405.7 112.7h0M417.1 148.2h0M430.4 126.2h0M399.4 103.8h0M407.7 108.7h0M410.7 146.6h0M410.2 138.1h0M412.4 139.4h0M394.2 143.6h0M400.7 98.8h0M397.6 151.2h0M397.2 118.5h0M426.8 141.9h0M409.6 117.1h0M402.9 143.2h0M423.9 142.6h0M424.8 117.9h0M410.3 108.4h0M418.5 159.0h0M426.6 112.3h0M394.7 141.0h0M394.0 134.2h0M396.2 146.3h0M403.0 156.3h0M407.2 143.3h0M419.9 119.0h0M426.6 110.0h0M412.1 95.0h0M395.5 137.3h0M408.3 110.1h0M413.4 121.1h0M403.2 105.7h0M395.0 109.4h0M398.0 99.9h0M404.4 133.7h0M426.1 101.3h0M406.5 114.4h0M413.4 125.4h0M426.3 143.3h0M398.0 123.1h0M395.6 140.3h0M398.3 153.2h0M405.2 102.0h0M422.5 108.1h0M411.9 102.2h0M419.3 122.7h0M416.9 149.5h0M409.2 105.1h0M412.9 114.9h0M430.0 117.0h0M421.7 121.2h0M406.9 132.0h0M425.8 145.1h0M428.0 122.3h0M420.5 138.6h0M402.5 151.4h0M412.0 105.7h0M413.0 122.6h0M409.5 118.8h0M406.6 149.4h0M424.0 118.2h0M410.4 110.8h0M407.1 140.3h0M417.4 101.4h0M406.4 155.8h0M407.5 126.3h0M419.2 155.4h0M403.2 143.3h0M403.0 127.7h0M421.6 119.8h0M415.8 104.0h0M408.7 97.6h0M401.0 119.8h0M406.6 115.5h0M409.9 157.1h0M424.3 139.5h0M412.8 106.9h0M406.6 116.1h0M409.6 108.7h0M422.3 131.3h0M402.0 136.0h0M422.5 117.0h0M422.6 102.9h0M419.4 157.9h0M411.6 109.0h0M409.3 111.7h0M407.0 157.6h0M410.6 111.8h0M423.2 101.9h0M415.2 130.6h0M408.2 142.3h0M419.0 152.1h0M399.9 134.3h0M426.2 148.3h0M408.7 126.8h0M427.2 133.6h0M410.1 128.9h0M428.8 140.5h0M400.5 131.4h0M406.3 97.0h0M403.8 133.9h0M417.8 108.8h0M398.5 107.6h0M403.9 99.5h0M421.4 113.0h0M427.4 121.6h0M407.9 99.9h0M395.6 124.9h0M411.2 123.6h0M425.6 142.1h0M412.2 139.7h0M415.5 96.2h0M405.1 149.0h0M404.9 134.2h0M402.0 157.7h0M408.3 118.5h0M416.8 120.0h0M419.0 118.9h0M395.1 139.7h0M406.1 134.2h0M423.6 140.8h0M414.3 132.6h0M426.6 126.7h0M395.9 114.3h0M418.0 109.5h0M397.9 123.4h0M407.0 117.6h0M413.6 137.9h0M421.1 124.0h0M416.8 96.4h0M400.9 98.6h0M417.3 136.3h0M398.0 110.7h0M422.3 106.2h0M410.3 145.3h0M427.5 104.7h0M405.1 144.1h0M424.0 146.5h0M401.4 143.6h0M422.8 109.7h0M424.8 142.3h0M421.0 109.9h0M419.2 131.7h0M408.4 93.6h0M399.0 155.9h0M403.6 100.7h0M400.6 104.3h0M396.2 108.5h0M415.8 110.0h0M420.7 156.7h0M423.1 130.3h0M429.2 145.7h0M422.9 95.8h0M405.4 146.1h0M424.1 152.7h0M407.7 94.0h0M426.7 134.6h0M422.4 140.6h0M407.7 151.3h0M428.3 134.1h0M396.9 106.7h0M424.0 128.0h0M419.7 144.5h0M421.3 101.3h0M399.9 157.2h0M408.6 141.9h0M417.1 157.6h0M418.9 149.4h0M402.1 109.3h0M422.8 137.8h0M419.0 109.2h0M420.7 109.1h0M412.6 147.0h0M406.6 149.9h0M425.3 99.6h0M405.6 135.7h0M404.2 101.6h0M422.3 148.5h0M416.5 121.4h0M413.5 112.8h0M420.5 107.5h0M427.3 149.4h0M427.3 149.3h0M418.8 132.2h0M424.1 116.0h0M424.6 109.7h0M427.7 113.7h0M393.9 125.1h0M407.7 116.2h0M425.5 147.7h0M419.1 103.7h0M416.3 144.0h0M407.1 131.8h0M406.8 107.1h0M427.1 121.7h0M408.6 138.9h0M398.5 151.1h0M428.8 146.7h0M414.7 133.0h0M411.7 98.5h0M419.3 153.2h0M396.6 130.2h0M394.8 140.3h0M403.4 111.8h0M404.3 99.0h0M400.4 121.0h0M423.8 97.0h0M404.2 156.1h0M404.6 145.7h0M420.2 94.5h0M400.2 133.1h0M425.0 137.9h0M403.6 145.2h0M409.3 148.7h0M402.2 133.9h0M423.7 110.7h0M404.9 105.2h0M407.5 104.1h0M420.8 107.6h0M412.0 96.8h0M429.9 114.9h0M423.7 110.7h0M406.4 149.2h0M414.8 153.0h0M394.2 128.0h0M416.0 147.1h0M418.0 97.0h0M422.5 120.9h0M415.2 157.9h0M422.0 144.0h0M398.8 99.5h0M419.8 115.5h0M428.3 103.2h0M399.0 149.5h0M421.1 122.0h0M420.2 145.4h0M408.5 105.6h0M397.9 145.2h0M406.0 96.8h0M394.2 116.2h0M397.2 152.0h0M427.4 138.1h0M419.6 108.0h0M409.2 124.2h0M417.9 129.1h0M417.0 110.5h0M412.7 142.0h0M419.4 151.4h0M400.5 117.4h0M398.2 111.8h0M419.0 127.4h0M413.5 151.4h0M404.1 94.7h0M400.2 112.5h0M419.0 103.8h0M408.1 103.0h0M397.5 139.5h0M430.1 135.3h0M397.7 133.8h0M418.3 104.3h0M399.4 133.1h0M394.9 105.8h0M410.3 151.9h0M410.9 108.1h0M424.6 147.9h0M404.6 116.4h0M397.4 109.7h0M399.0 152.0h0M424.5 109.7h0M415.0 97.5h0M411.7 158.6h0M398.5 150.3h0M399.1 147.5h0M411.5 103.3h0M411.9 128.3h0M427.0 142.8h0M406.9 152.6h0M417.5 126.0h0M408.0 130.4h0M425.0 97.9h0M407.7 106.9h0M426.8 117.5h0M414.8 129.4h0M404.9 140.3h0M398.5 114.7h0M421.1 109.0h0M408.0 132.6h0M421.4 119.4h0M394.2 125.3h0M427.4 151.0h0M413.4 126.3h0M403.7 99.9h0M417.2 145.2h0M395.4 117.9h0M425.3 117.1h0M410.0 95.2h0M413.1 139.7h0M415.0 119.5h0M394.9 140.0h0M425.5 131.1h0M408.6 127.7h0M419.2 155.6h0M409.6 159.4h0M423.0 108.0h0M406.8 140.1h0M413.5 108.1h0M401.9 122.3h0M420.0 153.4h0M401.3 151.5h0M405.0 113.4h0M395.1 136.0h0M429.7 143.0h0M411.8 139.6h0M415.6 147.4h0M419.9 132.4h0M416.3 98.6h0M407.1 100.2h0M424.7 131.1h0M405.3 125.6h0M410.2 118.1h0M424.1 124.5h0M403.9 148.8h0M408.3 105.2h0M415.8 154.7h0M416.7 134.6h0M407.4 154.5h0M421.1 96.6h0M395.8 110.2h0M405.5 124.4h0M414.7 152.6h0M421.4 98.9h0M414.5 117.8h0M416.5 125.6h0M420.2 138.4h0M350.5 142.3h0M409.2 98.8h0M403.3 156.5h0M409.4 130.4h0M424.8 138.6h0M412.3 120.7h0M407.0 121.6h0M397.4 137.1h0M405.3 145.6h0M417.3 153.2h0M428.1 104.4h0M393.5 128.0h0M419.3 136.0h0M409.8 132.3h0M397.5 103.2h0M399.7 103.7h0M409.1 138.7h0M422.1 141.1h0M410.3 94.2h0M407.0 94.9h0M397.8 139.9h0M428.4 109.6h0M425.7 103.1h0M409.6 117.3h0M413.4 110.5h0M412.9 107.8h0M398.7 109.6h0M414.0 118.3h0M405.8 141.2h0M418.0 120.3h0M402.9 140.0h0M407.6 117.0h0M405.7 105.5h0M404.6 107.3h0M399.4 128.7h0M426.4 151.6h0M397.3 109.4h0M414.9 109.4h0M416.1 104.5h0M395.9 102.5h0M408.0 149.2h0M423.0 155.4h0M412.4 153.3h0M408.3 134.8h0M404.5 98.5h0M418.4 139.9h0M413.0 158.6h0M419.1 146.3h0M408.2 137.4h0M397.5 129.5h0M419.1 153.6h0M403.6 142.8h0M424.6 144.0h0M408.4 142.3h0M406.8 104.4h0M421.9 107.5h0M417.2 140.3h0M415.5 147.8h0M416.2 133.6h0M404.0 103.5h0M426.9 130.6h0M420.6 110.2h0M422.1 140.3h0M412.9 121.9h0M411.0 97.0h0M403.4 134.7h0M411.2 154.0h0M425.7 100.5h0M414.2 153.2h0M415.2 102.4h0M394.1 123.4h0M411.5 129.1h0M409.1 102.2h0M403.8 96.0h0M403.5 98.2h0M404.1 133.7h0M407.4 151.9h0M410.4 159.4h0M418.5 153.6h0M429.5 118.8h0M421.1 115.8h0M398.1 107.0h0M416.5 122.8h0M424.2 98.9h0M424.7 124.0h0M428.4 126.1h0M428.3 142.7h0M405.2 102.8h0M422.4 152.1h0M421.9 153.5h0M426.5 140.6h0M397.6 100.2h0M412.9 126.3h0M426.0 106.0h0M403.2 146.0h0M421.7 112.8h0M401.9 139.2h0M419.8 125.5h0M400.4 145.8h0M412.5 145.2h0M427.7 147.5h0M420.1 129.8h0M423.0 117.7h0M414.6 101.3h0M414.3 95.6h0M429.0 128.5h0M406.0 153.9h0M404.4 136.2h0M408.3 105.1h0M394.9 141.5h0M398.1 118.6h0M413.6 148.6h0M400.1 131.1h0M416.6 130.8h0M406.0 136.4h0M415.6 102.6h0M427.5 121.5h0M409.7 117.7h0M420.3 113.1h0M402.5 95.9h0M407.8 152.4h0M415.4 126.5h0M424.3 109.1h0M428.8 127.0h0M408.3 94.6h0M414.7 110.5h0M418.3 102.0h0M395.7 115.8h0M411.6 123.9h0M428.5 137.0h0M420.5 119.6h0M418.3 137.2h0M414.4 104.5h0M428.4 111.1h0M403.3 145.6h0M399.4 131.3h0M425.0 113.3h0M413.6 135.9h0M404.9 140.8h0M427.7 104.8h0M396.6 149.0h0M400.3 107.1h0M416.4 146.6h0M405.3 98.1h0M415.3 134.4h0M418.8 123.4h0M397.4 141.7h0M409.1 93.5h0M418.5 116.0h0M404.3 142.2h0M427.3 116.8h0M409.6 127.0h0M419.9 106.4h0M422.8 120.6h0M423.7 155.9h0M397.4 109.0h0M412.3 129.8h0M425.5 126.6h0M416.2 159.6h0M400.9 130.9h0M428.8 110.1h0M427.6 113.8h0M404.1 155.2h0M410.0 154.2h0M412.5 106.8h0M429.0 141.5h0M410.5 110.3h0M418.6 145.7h0M428.5 116.5h0M401.5 142.8h0M428.9 106.2h0M400.6 152.4h0M396.0 150.5h0M421.3 112.8h0M410.0 116.5h0M412.3 153.4h0M400.6 153.4h0M412.2 155.8h0M394.7 121.4h0M421.0 154.4h0M425.3 140.6h0M423.6 128.1h0M404.7 109.1h0M412.5 119.1h0M415.4 148.4h0M425.6 114.2h0M405.7 137.8h0M398.2 104.7h0M419.4 154.5h0M412.2 122.0h0M423.7 109.1h0M401.0 155.4h0M415.9 120.4h0M417.8 121.5h0M399.8 113.5h0M407.9 118.1h0M417.4 110.6h0M426.1 134.3h0M415.0 117.8h0M417.1 97.1h0M404.6 129.6h0M424.3 124.8h0M401.4 103.0h0M420.6 99.6h0M425.3 140.3h0M428.4 143.6h0M414.8 145.8h0M405.6 134.0h0M423.3 130.2h0M421.7 136.2h0M402.8 106.0h0M413.8 98.4h0M428.1 124.0h0M413.5 138.2h0M416.7 142.5h0M419.3 144.2h0M415.8 154.5h0M401.8 153.0h0M396.8 151.4h0M403.7 98.6h0M422.1 108.5h0M398.8 154.3h0M408.4 106.1h0M404.1 100.3h0M393.6 131.3h0M420.0 104.4h0M412.9 126.9h0M406.7 134.5h0M402.8 158.6h0M421.2 129.8h0M419.1 121.8h0M400.0 144.3h0M429.5 130.2h0M398.8 131.0h0M416.6 110.7h0M395.2 130.3h0M408.0 142.5h0M425.6 147.8h0M408.3 114.9h0M416.1 104.1h0M400.6 136.0h0M409.8 117.9h0M421.4 127.1h0M428.9 132.9h0M404.7 127.9h0M409.4 153.3h0M402.5 130.5h0M424.1 135.6h0M352.0 143.4h0M426.9 123.3h0M429.6 136.0h0M417.8 136.3h0M419.8 101.7h0M422.9 111.1h0M424.0 110.3h0M423.8 102.9h0M412.0 149.6h0M404.3 120.9h0M398.3 107.2h0M423.6 100.0h0M399.3 140.9h0M410.1 147.4h0M400.2 101.1h0M428.5 108.9h0M416.3 120.1h0M407.0 116.5h0M428.3 107.3h0M425.9 100.0h0M409.2 148.0h0M415.8 153.3h0M424.6 116.5h0M413.1 121.0h0M410.8 106.8h0M419.1 129.0h0M405.2 151.4h0M421.9 138.4h0M418.1 143.5h0M419.0 108.7h0M397.8 116.5h0M423.5 98.8h0M413.2 103.9h0M396.7 121.5h0M407.7 142.6h0M425.0 99.3h0M395.0 143.8h0M428.7 141.1h0M421.2 151.4h0M409.8 94.2h0M402.4 158.9h0M400.9 99.5h0M410.3 154.6h0M425.8 143.8h0M425.4 110.8h0M412.9 156.2h0M409.4 117.8h0M410.6 130.2h0M421.2 116.5h0M403.2 117.1h0M407.3 95.6h0M425.0 146.7h0M396.6 120.3h0M397.5 101.2h0M421.0 100.8h0M410.7 120.0h0M398.6 115.1h0M406.9 151.8h0M420.1 138.9h0M402.7 112.8h0M416.7 135.3h0M413.6 116.1h0M404.5 108.7h0M394.3 127.4h0M429.6 133.3h0M398.3 131.2h0M405.1 149.6h0M421.3 158.5h0M398.0 122.2h0M412.4 95.2h0M405.3 95.5h0M397.4 115.5h0M424.7 108.7h0M413.9 143.0h0M407.1 147.4h0M399.4 136.9h0M428.1 115.0h0M416.4 136.3h0M419.1 127.4h0M425.2 102.5h0M416.2 157.5h0M418.2 117.8h0M426.4 115.6h0M399.5 156.3h0M420.2 143.4h0M409.9 134.1h0M405.1 108.1h0M412.9 115.8h0M420.8 136.1h0M415.0 118.3h0M415.7 137.0h0M425.5 134.6h0M400.8 155.5h0M427.6 130.3h0M414.2 103.3h0M410.6 149.6h0M409.1 115.8h0M410.0 109.7h0M415.2 101.6h0M405.6 126.9h0M430.1 124.8h0M394.6 140.3h0M395.6 127.3h0M423.9 117.2h0M415.4 95.7h0M412.7 133.8h0M419.7 154.3h0M406.4 102.5h0M397.6 122.6h0M398.9 113.4h0M427.7 110.6h0M428.6 145.2h0M402.0 149.5h0M422.6 151.4h0M403.6 98.8h0M416.2 133.9h0M407.0 115.8h0M413.0 127.1h0M410.6 110.9h0M419.1 120.0h0M410.0 137.7h0M399.9 109.4h0M411.8 154.0h0M417.9 112.4h0M424.0 128.9h0M409.5 153.0h0M410.2 130.2h0M416.4 137.7h0M429.3 134.7h0M419.5 151.3h0M402.2 152.7h0M415.3 103.0h0M399.8 101.2h0M404.6 100.0h0M406.4 97.1h0M397.3 125.6h0M409.8 129.6h0M419.8 144.8h0M413.7 138.3h0M396.5 130.5h0M425.9 139.3h0M413.6 152.8h0M400.7 141.4h0M395.5 109.9h0M412.3 150.6h0M417.7 136.7h0M412.4 119.6h0M407.1 124.9h0M398.2 132.7h0M407.9 118.4h0M419.5 96.5h0M403.2 143.9h0M399.2 132.1h0M400.3 102.6h0M397.6 113.5h0M427.4 136.0h0M397.7 116.1h0M412.6 109.3h0M409.5 140.2h0M415.7 105.0h0M412.6 158.1h0M407.1 108.3h0M410.3 120.3h0M405.2 140.9h0M411.5 143.9h0M411.2 142.4h0M414.1 122.3h0M406.1 141.9h0M411.6 106.7h0M394.9 106.0h0M413.2 138.4h0M395.9 148.2h0M416.5 139.2h0M398.9 136.8h0M400.6 106.7h0M426.0 108.3h0M421.1 145.4h0M422.1 135.8h0M402.3 120.9h0M410.3 113.1h0M417.6 145.5h0M414.5 150.1h0M408.8 110.4h0M408.9 95.8h0M402.1 148.7h0M419.6 111.0h0M422.6 95.4h0M395.7 138.6h0M423.8 130.9h0M420.0 130.1h0M400.7 148.1h0M428.4 140.6h0M419.3 151.5h0M417.2 98.3h0M405.4 104.1h0M417.4 128.5h0M406.1 99.4h0M418.6 93.7h0M421.3 126.6h0M405.4 120.5h0M399.9 141.6h0M395.7 128.1h0M413.3 106.0h0M402.4 127.0h0M412.2 101.3h0M421.0 133.5h0M413.3 99.6h0M414.4 147.3h0M417.0 150.3h0M426.9 130.3h0M414.5 112.2h0M419.2 145.5h0M421.3 157.4h0M417.0 131.3h0M407.3 135.2h0M400.7 115.8h0M425.6 121.6h0M412.6 154.8h0M427.7 143.3h0M426.2 99.9h0M405.5 97.2h0M401.7 139.1h0M406.0 133.4h0M413.4 145.9h0M403.6 139.9h0M423.7 152.3h0M427.2 119.1h0M419.7 140.5h0M411.2 98.6h0M398.8 110.0h0M424.6 116.5h0M397.1 107.1h0M411.4 111.6h0M402.9 133.8h0M415.0 141.1h0M430.2 119.2h0M413.5 138.6h0M402.3 102.7h0M420.8 156.3h0M402.5 110.6h0M408.7 113.2h0M412.8 118.0h0M429.3 135.5h0M399.6 104.6h0M404.6 112.7h0M415.7 156.9h0M407.6 106.4h0M406.7 149.6h0M408.1 96.2h0M407.7 123.1h0M428.8 108.9h0M416.2 126.9h0M407.1 152.9h0M407.5 152.4h0M400.2 112.0h0M401.3 138.0h0M423.8 110.4h0M404.6 150.2h0M418.7 120.5h0M428.3 129.9h0M408.5 153.1h0M405.1 127.3h0M427.9 147.9h0M407.9 94.8h0M421.7 120.2h0M398.6 149.3h0M403.2 120.7h0M409.7 110.4h0M399.1 102.6h0M418.3 145.6h0M427.0 102.0h0M405.7 93.4h0M416.7 144.9h0M406.5 119.5h0M393.8 134.0h0M411.8 126.5h0M407.7 126.3h0M398.3 116.4h0M422.9 154.9h0M422.3 117.2h0M408.6 145.6h0M404.5 151.2h0M416.2 120.3h0M416.1 154.6h0M419.6 132.2h0M407.6 100.8h0M419.2 156.3h0M430.1 132.5h0M401.9 125.7h0M399.1 115.1h0M411.8 95.8h0M403.9 103.3h0M403.4 121.1h0M407.6 110.4h0M401.6 137.0h0M400.9 118.1h0M418.6 124.5h0M416.9 134.7h0M421.7 127.5h0M395.8 122.2h0M409.8 124.7h0M422.9 95.6h0M395.6 129.2h0M430.4 121.3h0M416.8 144.8h0M420.3 129.9h0M401.2 94.8h0M406.6 147.5h0M403.4 158.9h0M411.1 137.3h0M420.9 140.0h0M413.7 119.9h0M409.1 103.8h0M409.5 124.4h0M407.2 112.6h0M407.5 114.4h0M427.5 140.1h0M401.1 109.3h0M403.2 137.5h0M422.4 149.0h0M421.5 156.9h0M399.5 98.2h0M424.0 121.6h0M424.1 110.8h0M419.5 148.0h0M397.8 146.9h0M428.0 109.9h0M409.9 106.5h0M394.9 108.0h0M426.3 126.7h0M426.6 140.1h0M412.8 103.1h0M427.4 148.5h0M417.3 104.9h0M398.0 152.8h0M423.0 107.8h0M411.8 125.6h0M395.8 140.3h0M407.5 117.5h0M426.6 148.3h0M413.5 159.5h0M426.5 117.4h0M417.7 145.2h0M408.4 136.3h0M410.3 126.1h0M408.8 127.8h0M419.4 150.8h0M394.8 120.2h0M428.4 145.6h0M424.3 141.2h0M411.8 146.1h0M420.0 111.9h0M426.1 133.8h0M422.4 128.7h0M416.4 119.7h0M424.1 139.4h0M415.3 149.9h0M424.1 122.8h0M420.2 123.8h0M400.3 106.4h0M403.3 151.8h0M429.1 130.9h0M420.8 146.6h0M405.9 127.5h0M402.9 148.8h0M418.4 124.2h0M425.7 141.2h0M397.1 127.2h0M425.4 124.8h0M410.4 148.2h0M428.2 116.6h0M408.6 150.4h0M419.4 120.1h0M425.0 126.8h0M411.1 101.8h0M403.7 150.9h0M425.5 128.6h0M412.3 155.6h0M416.7 145.7h0M404.2 114.3h0M410.3 120.7h0M404.7 144.4h0M422.4 120.9h0M407.2 149.0h0M419.2 142.5h0M418.3 151.4h0M421.7 131.9h0M412.1 108.3h0M395.7 102.4h0M408.9 134.0h0M421.3 101.1h0M420.6 153.5h0M402.9 137.3h0M410.9 140.8h0M394.5 138.8h0M406.8 110.0h0M423.0 95.7h0M398.9 122.4h0M404.6 95.9h0M418.9 118.3h0M397.4 152.4h0M396.3 102.7h0M402.1 96.5h0M400.1 111.2h0M413.5 126.0h0M401.1 104.2h0M406.1 152.6h0M405.9 125.5h0M413.6 120.3h0M428.3 145.6h0M404.9 152.3h0M421.6 108.0h0M423.6 145.1h0M405.5 125.3h0M425.9 121.4h0M416.6 137.8h0M410.4 98.6h0M413.5 96.6h0M396.4 117.1h0M401.2 148.0h0M417.4 144.9h0M422.9 122.8h0M428.2 104.4h0M421.1 133.7h0M412.4 149.9h0M404.8 139.5h0M424.7 125.2h0M412.1 137.1h0M413.7 152.7h0M415.7 122.8h0M402.2 142.4h0M415.5 114.7h0M398.0 142.3h0M426.7 132.5h0M427.4 140.9h0M410.3 124.8h0M415.6 126.5h0M427.0 111.8h0M395.8 144.8h0M419.0 120.5h0M412.4 99.7h0M422.2 132.1h0M393.6 134.5h0M420.8 150.2h0M396.6 122.1h0M406.8 121.4h0M400.9 149.8h0M428.8 128.0h0M408.7 111.0h0M412.5 147.4h0M417.3 138.1h0M423.8 138.4h0M411.8 115.3h0M394.0 132.6h0M428.9 105.6h0M396.7 118.3h0M394.6 118.2h0M427.8 130.6h0M423.6 142.7h0M416.5 99.7h0M424.8 124.0h0M394.6 138.2h0M406.2 120.9h0M427.7 143.4h0M415.0 103.5h0M426.5 106.3h0M409.3 97.5h0M411.4 96.6h0M410.8 141.6h0M414.0 113.5h0M414.0 157.0h0M409.6 156.3h0M402.5 101.2h0M423.3 120.3h0M394.0 127.1h0M420.5 157.8h0M411.9 117.5h0M409.9 105.3h0M402.7 107.4h0M424.8 113.2h0M348.5 142.1h0M416.4 133.5h0M417.1 140.2h0M410.2 119.4h0M410.9 105.2h0M412.4 154.6h0M408.8 124.4h0M405.8 110.6h0M402.2 155.2h0M415.4 116.4h0M398.8 153.1h0M412.2 131.4h0M398.7 155.5h0M428.7 122.0h0M403.4 116.6h0M417.3 106.3h0M419.7 94.7h0M428.0 141.1h0M425.1 147.0h0M411.5 121.9h0M406.0 137.0h0M397.7 138.5h0M426.1 151.1h0M419.3 129.4h0M411.5 159.3h0M423.9 154.1h0M395.7 114.2h0M426.5 131.5h0M396.0 108.2h0M407.6 146.6h0M430.0 129.3h0M417.0 106.4h0M424.3 125.0h0M398.6 109.3h0M397.3 125.7h0M413.2 106.8h0M424.7 118.8h0M413.8 116.5h0M415.8 134.4h0M421.3 122.1h0M404.5 109.1h0M426.9 100.3h0M423.7 108.3h0M407.6 137.0h0M405.6 153.0h0M404.3 98.7h0M417.3 131.4h0M405.5 157.3h0M427.8 118.6h0M428.3 143.5h0M420.6 96.8h0M400.9 157.1h0M414.3 107.1h0M413.9 154.4h0M406.7 122.2h0M419.7 109.0h0M400.6 122.3h0M411.5 96.1h0M398.8 150.6h0M424.1 156.9h0M401.2 142.7h0M399.5 107.3h0M421.6 127.5h0M400.4 140.4h0M423.3 126.6h0M420.6 139.5h0M423.5 125.7h0M396.0 127.4h0M421.6 151.4h0M415.3 102.9h0M403.6 133.8h0M396.0 150.2h0M411.7 124.9h0M404.6 115.6h0M425.8 122.2h0M417.1 132.9h0M409.8 125.1h0M404.8 132.9h0M415.4 147.1h0M407.2 150.1h0M414.7 137.8h0M424.3 104.2h0M398.9 145.7h0M427.5 103.8h0M423.3 115.8h0M428.5 139.1h0M404.8 118.9h0M411.4 146.5h0M401.0 103.7h0M409.5 114.9h0M412.3 101.7h0M412.2 134.4h0M421.8 127.6h0M427.3 128.8h0M423.7 120.9h0M416.9 102.9h0M398.4 102.4h0M421.4 158.3h0M428.5 148.3h0M411.7 134.3h0M426.3 109.6h0M416.0 93.5h0M404.5 146.3h0M418.2 109.8h0M423.3 131.0h0M408.4 141.9h0M395.2 122.8h0M407.5 153.9h0M399.1 99.6h0M399.5 115.1h0M417.8 97.9h0M404.5 159.2h0M428.3 134.4h0M402.5 132.1h0M402.7 96.4h0M404.5 111.5h0M407.8 127.2h0M400.6 112.6h0M406.5 151.0h0M412.0 123.7h0M426.9 119.1h0M401.9 136.0h0M408.3 141.3h0M417.9 110.0h0M400.9 99.9h0M417.4 151.0h0M410.1 138.3h0M414.8 108.3h0M422.6 118.5h0M405.2 144.1h0M419.9 125.8h0M420.8 125.2h0M415.4 150.7h0M425.7 109.0h0M421.2 153.4h0M425.5 132.5h0M422.5 148.2h0M414.6 115.6h0M398.6 99.7h0M410.8 156.4h0M402.7 146.3h0M424.0 129.7h0M406.2 140.6h0M397.6 118.8h0M400.1 128.0h0M411.7 100.1h0M427.8 125.5h0M394.3 123.0h0M413.8 153.0h0M403.5 111.0h0M411.1 158.9h0M412.0 103.4h0M404.3 97.2h0M395.1 137.6h0M427.9 138.2h0M420.4 149.7h0M407.6 149.3h0M394.2 116.6h0M421.3 136.5h0M425.6 148.4h0M429.0 109.1h0M398.8 103.6h0M415.1 116.8h0M397.1 111.6h0M411.2 134.7h0M404.1 144.8h0M425.8 139.8h0M404.1 134.2h0M403.6 139.4h0M406.9 127.6h0M421.7 104.5h0M405.4 135.1h0M427.8 105.3h0M406.7 118.6h0M405.8 125.1h0M415.1 103.9h0M420.6 145.4h0M406.7 96.5h0M418.6 116.3h0M411.0 112.7h0M395.1 136.3h0M413.6 142.9h0M404.8 130.3h0M406.1 105.5h0M405.0 116.2h0M418.3 143.0h0M408.4 151.5h0M423.4 100.1h0M413.3 139.1h0M425.7 121.0h0M428.8 112.8h0M422.7 129.5h0M428.0 130.1h0M410.1 104.1h0M421.3 136.4h0M395.4 113.3h0M409.7 132.0h0M394.4 128.4h0M401.0 121.1h0M409.2 140.5h0M426.4 137.9h0M394.2 139.6h0M421.5 111.9h0M403.5 157.4h0M425.8 119.5h0M420.0 134.7h0M425.0 109.5h0M411.8 98.6h0M394.5 133.1h0M421.4 151.0h0M415.5 114.0h0M417.4 126.9h0M421.5 107.4h0M400.8 113.0h0M411.1 148.0h0M427.7 110.4h0M427.9 128.2h0M427.9 104.9h0M397.5 103.6h0M405.5 152.6h0M430.2 135.7h0M404.6 136.8h0M426.7 121.0h0M420.0 149.6h0M423.7 141.5h0M398.4 106.6h0M421.9 145.4h0M421.1 134.2h0M397.3 104.7h0M416.9 103.9h0M428.9 109.4h0M414.3 146.3h0M414.7 117.0h0M426.1 101.3h0M418.7 118.4h0M424.9 114.4h0M416.0 125.0h0M418.3 95.9h0M426.0 104.9h0M413.4 120.5h0M427.8 131.4h0M409.6 129.9h0M395.3 132.0h0M411.7 111.2h0M409.2 96.3h0M412.1 101.9h0M410.8 146.6h0M409.7 116.3h0M422.9 134.6h0M418.4 124.9h0M402.8 102.7h0M427.5 120.6h0M423.7 99.4h0M406.2 131.0h0M421.9 137.2h0M403.3 114.6h0M421.0 139.8h0M397.8 118.8h0M408.3 121.3h0M402.4 96.9h0M405.3 113.9h0M394.4 127.7h0M417.1 137.5h0M411.8 148.4h0M415.3 149.3h0M406.6 129.0h0M429.1 109.6h0M401.5 98.1h0M407.9 94.8h0M409.6 150.8h0M394.8 107.9h0M402.0 110.0h0M401.7 95.2h0M420.1 94.9h0M401.1 146.9h0M423.9 150.4h0M417.9 141.6h0M425.6 151.6h0M394.8 110.5h0M404.6 114.3h0M408.6 102.2h0M419.3 115.5h0M429.0 143.2h0M400.9 120.0h0M424.5 110.3h0M429.2 118.9h0M404.4 133.9h0M416.3 147.3h0M425.3 126.7h0M407.6 142.2h0M421.0 143.1h0M418.3 93.7h0M405.7 149.6h0M412.9 130.5h0M423.7 132.1h0M405.2 112.1h0M426.8 102.9h0M408.4 123.7h0M411.1 147.2h0M422.7 125.3h0M418.2 122.8h0M393.4 125.0h0M419.0 127.3h0M399.4 99.9h0M409.5 133.3h0M406.2 111.5h0M417.1 113.0h0M420.2 101.5h0M397.4 124.1h0M403.2 106.8h0M413.9 114.2h0M419.8 148.4h0M417.6 115.8h0M411.8 122.0h0M426.2 127.5h0M410.1 105.7h0M425.8 148.2h0M425.4 102.7h0M427.9 142.6h0M420.4 129.8h0M409.7 140.4h0M404.5 115.8h0M405.9 108.5h0M422.9 107.1h0M412.8 108.7h0M423.9 144.4h0M411.4 107.7h0M412.3 105.2h0M426.2 143.3h0M396.5 105.5h0M403.6 100.6h0M411.9 103.2h0M424.6 120.1h0M417.6 156.7h0M403.8 145.9h0M400.7 148.0h0M421.9 124.4h0M417.2 143.5h0M404.2 110.5h0M409.3 152.0h0M404.9 149.6h0M399.1 113.2h0M395.3 130.2h0M401.9 100.5h0M429.0 144.8h0M408.7 159.6h0M406.5 149.8h0M408.2 114.6h0M411.2 136.9h0M404.1 143.3h0M414.4 115.5h0M412.7 131.5h0M415.6 159.2h0M401.7 107.9h0M408.1 146.7h0M396.4 135.2h0M414.0 154.6h0M424.7 119.6h0M424.1 129.5h0M403.6 98.2h0M425.4 97.3h0M428.5 134.0h0M409.9 127.4h0M398.4 138.0h0M426.6 113.0h0M410.3 157.7h0M418.2 102.5h0M426.8 139.2h0M409.1 128.1h0M414.3 143.0h0M409.7 140.8h0M417.0 153.3h0M404.2 139.4h0M404.2 152.9h0M404.1 133.3h0M410.5 146.0h0M429.3 111.5h0M412.8 132.5h0M425.0 123.8h0M408.9 106.9h0M428.2 111.4h0M410.2 106.0h0M409.9 136.5h0M413.8 110.9h0M414.1 152.4h0M421.9 107.0h0M409.8 152.5h0M419.7 131.9h0M417.9 122.3h0M417.0 133.5h0M397.5 106.4h0M412.6 97.1h0M409.6 107.9h0M421.0 136.6h0M416.6 94.8h0M420.1 117.8h0M411.6 108.4h0M407.1 132.7h0M404.6 142.8h0M404.3 139.0h0M414.2 121.2h0M424.1 118.3h0M404.7 111.4h0M428.2 110.7h0M420.3 103.3h0M412.1 112.6h0M407.5 159.8h0M422.6 95.7h0M408.8 158.1h0M411.1 108.3h0M400.8 151.3h0M414.2 132.0h0M412.7 141.7h0M412.7 119.6h0M424.8 119.7h0M421.5 137.2h0M402.8 97.9h0M404.8 156.6h0M415.7 158.2h0M410.8 146.0h0M422.1 152.3h0M404.3 157.3h0M393.3 126.4h0M412.9 137.2h0M422.4 157.8h0M415.1 149.8h0M411.1 103.6h0M425.0 120.7h0M405.0 157.2h0M401.8 94.4h0M428.6 122.2h0M421.6 114.2h0M410.8 104.6h0M411.9 96.9h0M396.4 128.5h0M405.2 136.9h0M403.1 104.8h0M407.0 152.0h0M393.9 141.9h0M411.8 138.0h0M403.4 108.0h0M408.6 112.2h0M409.0 133.5h0M403.2 131.8h0M423.4 106.4h0M428.7 119.0h0M419.0 110.4h0M400.9 147.1h0M407.6 99.7h0M395.7 122.7h0M424.5 125.3h0M405.8 137.1h0M428.2 120.3h0M416.8 148.8h0M424.7 152.1h0M408.7 149.2h0M413.4 145.7h0M403.8 95.2h0M394.6 138.7h0M416.6 127.9h0M428.9 107.8h0M422.9 139.5h0M421.3 110.3h0M399.2 151.7h0M414.6 156.0h0M419.8 135.1h0M395.7 109.1h0M408.0 152.4h0M400.8 150.2h0M419.6 114.9h0M423.9 118.3h0M406.0 158.4h0M418.0 150.6h0M416.2 137.9h0M428.7 107.1h0M429.7 114.4h0M417.9 115.7h0M401.4 103.2h0M416.8 117.8h0M424.3 114.7h0M414.7 99.4h0M407.7 123.2h0M411.0 135.9h0M423.8 153.8h0M395.7 122.1h0M410.7 102.0h0M406.4 104.8h0M426.7 152.0h0M426.8 124.8h0M407.4 155.0h0M409.0 145.0h0M412.0 101.4h0M405.5 110.4h0M409.8 144.0h0M398.1 153.6h0M429.4 133.2h0M425.2 97.3h0M415.8 120.1h0M403.1 134.9h0M402.0 158.3h0M412.7 109.0h0M417.9 148.5h0M401.3 95.0h0M409.3 114.4h0M405.2 100.5h0M404.2 97.9h0M429.8 134.8h0M401.8 152.4h0M414.0 137.6h0M418.9 94.2h0M396.7 125.1h0M402.3 116.1h0M417.2 158.6h0M403.6 134.0h0M407.1 140.4h0M397.6 124.5h0M404.0 118.2h0M426.1 116.7h0M409.9 114.2h0M415.9 116.3h0M416.5 124.9h0M409.8 132.4h0M406.2 110.2h0M404.5 121.2h0M414.1 107.1h0M401.1 122.0h0M405.2 143.2h0M401.8 118.4h0M405.5 145.8h0M406.4 156.4h0M427.4 101.7h0M423.7 134.2h0M402.5 145.0h0M428.7 105.3h0M413.7 156.5h0M405.6 107.3h0M398.8 108.5h0M412.3 122.1h0M425.6 97.8h0M426.4 112.9h0M422.6 116.6h0M418.2 107.3h0M411.7 126.9h0M404.0 115.2h0M420.6 121.4h0M400.2 141.9h0M424.1 128.1h0M412.0 116.6h0M408.3 114.0h0M425.2 104.5h0M399.9 143.7h0M412.5 157.9h0M412.2 126.4h0M404.8 97.6h0M421.0 95.4h0M428.1 104.1h0M425.3 126.1h0M413.3 130.6h0M411.5 125.0h0M409.4 113.5h0M410.9 112.0h0M427.6 124.1h0M427.1 140.4h0M406.4 137.5h0M416.6 109.4h0M416.3 116.5h0M401.7 148.5h0M396.5 137.1h0M411.1 142.9h0M417.9 133.1h0M423.1 123.0h0M421.1 129.3h0M411.6 146.5h0M403.0 155.7h0M415.8 116.5h0M428.5 109.3h0M422.3 119.1h0M410.7 140.6h0M412.1 138.1h0M422.1 143.2h0M405.7 120.5h0M401.1 101.2h0M411.8 111.3h0M411.2 112.2h0M420.4 158.0h0M416.8 114.0h0M404.6 108.4h0M422.9 151.8h0M429.5 111.4h0M410.0 126.2h0M428.6 146.5h0M415.6 147.4h0M418.5 103.3h0M395.5 112.1h0M403.3 96.1h0M398.3 143.1h0M425.1 106.6h0M407.8 123.9h0M429.8 116.4h0M427.1 143.0h0M418.6 96.9h0M412.3 145.7h0M426.1 153.3h0M424.7 124.5h0M412.5 102.1h0M406.9 158.8h0M426.7 112.6h0M416.5 129.9h0M404.5 96.5h0M397.1 152.4h0M416.2 98.2h0M395.2 113.8h0M414.9 153.2h0M395.5 132.4h0M409.4 160.3h0M408.0 152.1h0M410.2 106.2h0M411.7 146.1h0M411.2 155.0h0M399.1 103.4h0M400.2 142.4h0M417.1 126.4h0M413.7 151.3h0M409.1 114.8h0M413.8 108.1h0M413.3 152.7h0M401.1 111.5h0M416.2 119.3h0M411.8 118.1h0M426.0 98.6h0M416.5 105.8h0M425.4 106.4h0M403.9 159.4h0M396.4 121.4h0M422.0 152.3h0M414.6 102.1h0M413.1 95.6h0M420.4 103.8h0M414.1 121.0h0M414.1 104.6h0M403.5 96.9h0M413.5 159.7h0M419.8 107.7h0M419.9 152.4h0M421.6 115.2h0M402.4 155.8h0M406.8 93.9h0M419.7 140.2h0M410.4 112.7h0M412.2 138.3h0M411.9 145.2h0M402.6 106.1h0M405.0 138.1h0M396.8 139.4h0M415.4 152.5h0M416.1 136.7h0M425.2 115.8h0M410.4 157.6h0M409.1 140.4h0M406.7 137.6h0M422.1 130.9h0M397.5 149.6h0M422.1 95.4h0M394.0 123.9h0M425.5 133.7h0M407.9 95.4h0M404.1 138.3h0M414.6 146.7h0M407.5 111.9h0M419.5 96.4h0M407.8 109.9h0M421.7 116.9h0M427.5 140.9h0M429.0 142.3h0M423.6 115.5h0M411.2 125.7h0M406.5 151.3h0M415.5 96.2h0M426.9 152.2h0M422.7 136.7h0M410.3 107.2h0M394.8 108.3h0M424.2 153.5h0M407.8 153.1h0M428.8 146.1h0M414.9 151.8h0M428.9 110.6h0M395.3 122.7h0M430.2 124.7h0M430.0 116.2h0M398.0 116.5h0M420.6 144.1h0M420.7 137.6h0M418.8 106.7h0M420.8 121.9h0M396.0 108.5h0M424.9 122.9h0M415.9 127.8h0M406.6 97.6h0M401.2 147.0h0M423.3 134.4h0M421.1 95.4h0M422.1 125.2h0M403.9 147.8h0M411.3 152.1h0M414.4 101.0h0M408.1 104.0h0M406.0 153.7h0M428.9 137.2h0M419.2 128.5h0M428.0 136.6h0M413.7 100.7h0M423.3 96.4h0M416.4 119.8h0M428.4 109.2h0M400.6 98.3h0M412.7 108.4h0M425.9 153.4h0M404.6 116.4h0M399.3 134.6h0M425.8 106.1h0M414.1 100.5h0M422.5 150.2h0M406.7 159.2h0M429.5 112.7h0M410.7 155.4h0M420.1 109.9h0M404.1 101.4h0M427.8 134.1h0M424.5 120.9h0M411.5 123.0h0M400.7 118.8h0M416.1 129.7h0M409.9 129.8h0M410.0 157.1h0M413.5 133.6h0M418.9 154.8h0M406.6 123.6h0M419.0 124.4h0M416.7 117.1h0M423.7 126.8h0M416.1 141.1h0M426.5 127.3h0M421.6 143.5h0M410.3 98.4h0M412.2 139.5h0M423.4 120.7h0M421.5 142.2h0M404.2 105.3h0M405.5 131.5h0M403.2 148.6h0M413.1 127.7h0M427.3 124.6h0M421.9 122.3h0M428.7 105.2h0M426.5 152.6h0M419.4 95.6h0M412.9 95.3h0M396.8 127.2h0M411.3 129.7h0M413.4 136.0h0M418.8 107.2h0M409.1 159.1h0M427.6 149.3h0M427.9 126.2h0M411.0 109.5h0M409.0 126.0h0M428.0 130.3h0M396.1 139.9h0M402.2 147.7h0M415.1 128.4h0M416.1 134.4h0M427.8 108.6h0M427.9 110.5h0M408.1 102.0h0M415.8 109.8h0M424.3 140.6h0M394.1 125.0h0M414.0 128.6h0M430.4 121.5h0M402.5 115.3h0M417.2 114.4h0M423.5 151.4h0M416.5 152.4h0M398.1 100.6h0M412.0 111.9h0M412.8 137.2h0M397.2 104.3h0M394.0 116.3h0M411.2 135.8h0M409.1 111.7h0M419.9 124.2h0M398.3 144.0h0M425.7 153.2h0M429.6 132.6h0M411.7 136.6h0M414.9 152.9h0M397.2 119.4h0M398.0 100.2h0M413.5 145.3h0M393.6 135.1h0M400.9 117.9h0M400.3 106.4h0M400.9 120.1h0M427.0 125.9h0M398.9 155.7h0M415.4 118.5h0M420.3 141.8h0M418.1 140.6h0M416.7 105.9h0M420.9 114.2h0M418.5 117.1h0M396.5 140.0h0M420.0 136.0h0M413.6 153.2h0M430.5 126.2h0M406.2 138.3h0M402.5 139.0h0M402.4 133.0h0M414.9 126.4h0M423.7 104.0h0M412.6 136.4h0M401.4 119.2h0M409.2 103.3h0M409.5 129.8h0M424.3 111.4h0M420.2 145.0h0M415.1 149.1h0M405.7 118.9h0M420.6 94.9h0M423.1 150.2h0M394.8 120.9h0M401.0 145.9h0M409.8 154.0h0M402.2 143.8h0M408.3 146.1h0M412.5 93.9h0M410.5 100.9h0M420.2 152.2h0M403.5 97.0h0M394.0 141.5h0M398.3 120.4h0M399.9 148.1h0M401.1 100.6h0M403.6 156.3h0M399.4 98.8h0M424.9 142.3h0M394.3 122.4h0M401.5 141.3h0M425.8 148.9h0M416.8 125.3h0M428.0 145.6h0M416.8 144.3h0M408.8 152.9h0M418.6 130.9h0M396.8 140.5h0M422.6 96.5h0M414.7 144.1h0M416.1 135.0h0M428.2 133.0h0M422.2 149.2h0M413.9 103.0h0M416.6 112.5h0M406.1 95.5h0M417.2 133.5h0M419.8 111.6h0M424.0 143.0h0M427.8 131.3h0M426.5 104.9h0M420.0 129.8h0M401.9 123.9h0M409.3 120.3h0M406.2 102.7h0M426.5 121.0h0M416.8 149.2h0M396.9 102.4h0M419.9 120.6h0M415.8 111.7h0M400.3 122.7h0M405.0 154.2h0M409.6 148.4h0M419.0 142.5h0M419.6 150.2h0M402.4 158.4h0M400.7 155.8h0M395.8 102.1h0M428.2 107.2h0M420.7 102.1h0M406.6 154.9h0M406.9 142.6h0M409.9 128.7h0M401.2 139.2h0M400.8 109.2h0M399.9 115.4h0M415.9 148.9h0M415.3 121.3h0M420.6 153.5h0M416.6 104.9h0M417.7 131.0h0M397.7 145.2h0M398.5 99.1h0M400.7 123.5h0M409.0 116.4h0M404.6 152.1h0M417.5 153.3h0M417.4 120.9h0M407.4 124.5h0M395.2 111.0h0M412.2 117.7h0M408.8 147.1h0M400.3 130.7h0M408.3 141.7h0M410.0 106.8h0M421.6 152.6h0M416.2 100.6h0M401.5 135.9h0M419.5 122.4h0M409.0 107.2h0M415.9 119.9h0M396.0 111.1h0M400.5 142.6h0M418.2 94.4h0M406.6 107.0h0M415.8 125.6h0M417.3 156.0h0M413.7 146.0h0M430.4 135.2h0M418.7 99.4h0M401.0 118.5h0M405.8 155.5h0M429.2 126.5h0M411.9 139.7h0M401.5 110.1h0M424.2 141.0h0M395.9 142.7h0M424.4 150.9h0M414.7 147.4h0M411.1 148.7h0M410.6 130.6h0M423.7 142.7h0M428.3 131.4h0M417.7 130.2h0M405.6 135.6h0M421.7 112.4h0M394.3 118.8h0M411.6 141.6h0M425.6 152.0h0M418.9 138.1h0M405.8 150.7h0M425.9 125.2h0M420.0 153.3h0M409.2 151.3h0M421.9 138.7h0M422.8 95.9h0M405.2 144.8h0M429.0 125.9h0M406.1 110.9h0M422.8 140.8h0M419.8 136.2h0M427.8 121.3h0M414.4 104.4h0M417.0 110.4h0M409.2 158.1h0M401.5 151.0h0M417.2 100.9h0M397.5 126.3h0M397.0 139.6h0M419.0 112.7h0M429.0 107.1h0M411.9 109.4h0M404.3 113.0h0M395.5 113.7h0M410.9 121.2h0M418.0 149.1h0M409.9 153.5h0M414.6 118.8h0M411.6 149.4h0M415.6 107.1h0M400.1 146.6h0M414.4 142.7h0M412.6 108.7h0M416.8 143.5h0M411.9 151.2h0M407.0 104.6h0M394.7 135.5h0M424.7 150.4h0M407.8 116.9h0M411.5 156.5h0M428.6 140.9h0M410.6 112.8h0M425.3 145.8h0M415.4 144.7h0M420.5 109.7h0M423.2 157.2h0M415.4 116.9h0M410.2 137.7h0M400.1 142.1h0M422.7 103.0h0M421.8 137.5h0M430.1 134.4h0M412.8 104.2h0M411.2 105.1h0M406.0 136.8h0M415.2 143.0h0M417.7 132.9h0M429.0 113.6h0M411.6 108.2h0M425.5 152.8h0M408.8 149.4h0M400.7 104.3h0M416.3 141.1h0M425.2 106.7h0M404.5 133.7h0M419.4 103.2h0M413.5 105.4h0M424.7 120.9h0M412.0 94.1h0M418.3 107.6h0M418.1 136.1h0M414.9 101.6h0M429.9 133.1h0M397.4 151.0h0M426.7 143.4h0M424.9 143.9h0M429.2 125.4h0M397.9 100.7h0M420.3 107.8h0M426.6 113.1h0M402.1 128.4h0M399.6 102.5h0M412.5 136.1h0M404.6 117.5h0M402.7 142.9h0M402.0 157.8h0M404.7 141.4h0M424.3 155.8h0M426.5 127.0h0M401.3 133.0h0M408.1 136.4h0M406.8 134.0h0M408.2 132.4h0M399.7 146.3h0M421.9 133.8h0M416.7 108.3h0M399.5 116.7h0M407.6 144.0h0M399.5 152.7h0M405.8 124.1h0M422.6 101.7h0M421.7 137.7h0M411.1 148.9h0M410.1 115.4h0M408.7 113.3h0M407.7 149.2h0M395.8 123.0h0M403.7 111.6h0M401.1 142.8h0M426.5 113.6h0M430.3 123.4h0M419.4 128.1h0M396.3 119.0h0M408.5 158.9h0M424.8 131.6h0M406.8 116.5h0M421.2 134.1h0M408.0 159.8h0M408.4 139.9h0M394.6 121.1h0M413.4 111.6h0M405.9 118.9h0M409.4 160.4h0M414.2 100.5h0M412.5 119.3h0M393.8 121.1h0M416.1 143.2h0M399.7 136.6h0M403.5 150.3h0M407.8 95.7h0M418.7 151.0h0M403.6 155.6h0M424.6 155.1h0M428.5 136.1h0M410.2 156.2h0M402.6 121.4h0M405.3 138.7h0M408.8 113.6h0M422.4 136.5h0M420.1 123.2h0M409.2 112.7h0M409.4 147.8h0M408.2 136.1h0M418.0 122.7h0M419.3 124.2h0M422.3 115.2h0M419.7 119.8h0M416.2 105.9h0M401.5 153.7h0M408.4 110.1h0M407.6 118.7h0M424.0 155.7h0M421.9 140.5h0M410.0 108.9h0M417.3 145.2h0M395.9 132.8h0M418.8 132.0h0M400.7 97.4h0M406.7 112.6h0M427.5 133.7h0M419.8 113.7h0M410.2 142.5h0M417.3 136.6h0M421.0 106.6h0M423.3 112.4h0M423.1 137.4h0M417.3 94.0h0M414.4 142.5h0M425.9 116.3h0M393.8 127.4h0M427.7 146.1h0M403.5 123.4h0M417.0 138.3h0M417.5 108.0h0M425.2 155.2h0M396.0 111.0h0M396.9 106.1h0M409.7 113.4h0M404.3 121.4h0M405.7 109.1h0M427.5 113.2h0M406.4 134.8h0M400.7 133.6h0M427.7 134.3h0M404.7 97.9h0M426.0 107.3h0M422.7 109.6h0M416.8 129.5h0M422.4 129.5h0M409.7 122.5h0M425.6 97.9h0M402.2 139.5h0M407.6 136.0h0M408.2 137.6h0M429.2 107.1h0M422.7 129.3h0M426.2 110.0h0M422.1 138.8h0M404.4 126.0h0M427.0 99.8h0M406.3 151.9h0M415.0 129.9h0M420.0 150.1h0M398.6 113.0h0M404.2 116.4h0M420.6 138.1h0M411.7 134.9h0M428.8 106.7h0M419.6 149.7h0M416.2 154.4h0M409.5 133.2h0M415.5 113.6h0M400.5 146.0h0M411.7 159.0h0M428.9 146.1h0M402.2 119.2h0M423.0 100.7h0M429.1 120.3h0M401.4 150.0h0M406.1 123.6h0M417.0 143.3h0M407.2 107.4h0M402.8 110.1h0M428.1 119.4h0M427.8 131.1h0M408.8 147.0h0M427.4 125.1h0M424.8 132.7h0M425.5 123.6h0M422.1 128.1h0M397.6 150.1h0M416.4 116.5h0M418.7 96.2h0M402.1 105.8h0M423.3 101.0h0M402.5 110.4h0M399.8 144.6h0M426.9 112.8h0M411.8 117.4h0M398.8 149.4h0M349.6 142.3h0M394.6 118.1h0M400.8 148.9h0M402.8 104.5h0M406.5 116.9h0M400.4 97.8h0M424.0 135.0h0M428.6 105.2h0M409.6 105.3h0M412.6 141.2h0M425.6 147.3h0M411.2 138.9h0M424.6 102.4h0M401.4 120.7h0M405.5 112.3h0M399.6 117.3h0M403.1 120.9h0M401.5 102.4h0M405.2 148.8h0M414.0 124.8h0M416.2 120.2h0M417.1 138.6h0M407.5 148.9h0M394.4 115.4h0M402.9 131.4h0M420.1 140.5h0M399.2 151.5h0M414.4 145.3h0M412.7 116.7h0M407.3 123.8h0M427.5 149.1h0M411.8 137.1h0M398.8 143.0h0M404.9 94.9h0M411.3 144.9h0M410.3 118.1h0M426.1 109.3h0M420.8 138.3h0M418.7 108.0h0M419.1 123.8h0M428.8 144.5h0M420.7 139.9h0M424.1 147.6h0M409.4 153.0h0M421.4 126.8h0M428.1 117.6h0M401.7 127.9h0" stroke="#00BFC4" stroke-width="0.72" stroke-linecap="round" fill="none"/>
<path d="M353.0 77.3h0M351.2 58.9h0M343.7 55.9h0M356.5 60.9h0M349.5 80.3h0M349.3 57.4h0M345.3 49.8h0M346.8 45.3h0M356.6 60.7h0M360.5 84.8h0M347.8 143.1h0M336.8 57.3h0M344.9 60.4h0M334.4 64.7h0M333.7 53.5h0M348.2 82.7h0M349.8 78.9h0M354.6 60.6h0M358.2 82.2h0M342.6 78.5h0M336.1 65.6h0M342.0 67.8h0M344.1 46.8h0M347.1 142.9h0M348.0 58.3h0M348.8 73.3h0M345.6 51.2h0M349.3 49.6h0M347.2 67.5h0M350.0 46.4h0M338.6 65.5h0M348.8 58.4h0M343.9 72.1h0M345.1 80.9h0M352.9 73.3h0M352.6 46.3h0M338.3 133.5h0M352.9 71.6h0M340.3 63.1h0M354.6 59.6h0M356.7 64.1h0M333.7 53.9h0M352.0 47.3h0M346.4 45.2h0M332.9 57.5h0M351.7 62.2h0M353.6 72.3h0M349.1 53.3h0M339.0 142.2h0M347.6 142.7h0M346.4 43.3h0M337.5 58.2h0M346.8 76.6h0M336.2 57.8h0M341.8 62.7h0M339.1 72.5h0M349.7 57.7h0M341.8 74.3h0M342.6 45.9h0M335.8 53.4h0M342.0 62.5h0M350.1 69.4h0M351.2 68.6h0M344.0 61.5h0M344.9 54.1h0M345.6 58.7h0M352.4 48.5h0M348.2 50.7h0M355.9 55.6h0M332.8 59.9h0M345.9 69.5h0M347.1 42.1h0M348.6 50.9h0M345.9 53.5h0M352.8 82.4h0M346.2 59.6h0M343.1 75.1h0M344.5 43.2h0M339.2 66.0h0M352.4 73.4h0M335.1 66.9h0M345.9 65.7h0M339.9 73.0h0M335.5 56.8h0M345.6 144.0h0M346.9 74.8h0M351.6 62.8h0M350.3 51.0h0M351.6 57.3h0M353.4 56.4h0M351.4 68.8h0M342.6 64.8h0M352.3 58.2h0M349.0 142.3h0M348.5 46.2h0M331.8 55.1h0M355.1 80.9h0M342.0 56.9h0M351.0 75.9h0M334.6 52.1h0M347.2 82.0h0M339.4 73.2h0M348.8 72.0h0M346.6 80.3h0M353.9 57.7h0M347.5 83.1h0M338.9 60.3h0M343.2 53.4h0M345.1 53.9h0M356.8 69.4h0M346.6 50.0h0M355.4 55.6h0M356.6 76.3h0M355.8 71.9h0M346.4 43.3h0M340.9 47.2h0M344.5 56.6h0M348.2 52.4h0M338.2 69.2h0M337.1 57.3h0M350.8 66.6h0M335.1 57.4h0M354.0 76.0h0M343.8 46.5h0M354.3 59.8h0M354.9 63.1h0M348.7 75.0h0M355.2 76.7h0M352.3 62.4h0M336.7 68.1h0M349.4 75.3h0M337.4 46.1h0M345.8 56.1h0M347.2 49.7h0M341.0 59.9h0M349.4 82.3h0M347.9 83.5h0M348.7 43.5h0M338.8 66.8h0M347.1 58.0h0M347.4 62.8h0M349.8 49.1h0M333.7 52.7h0M335.2 59.3h0M332.1 59.2h0M350.8 57.2h0M332.8 55.6h0M350.2 50.4h0M340.6 48.6h0M351.2 64.8h0M343.9 58.4h0M337.9 141.1h0M345.8 79.7h0M345.5 57.7h0M345.0 58.2h0M340.1 132.9h0M344.0 79.4h0M347.7 52.3h0M348.7 58.1h0M340.6 47.1h0M347.3 81.7h0M333.0 58.6h0M337.3 49.0h0M352.2 60.1h0M350.5 45.3h0M337.5 138.1h0M338.6 64.9h0M346.5 49.7h0M348.4 80.3h0M348.1 61.8h0M350.4 67.4h0M345.3 79.5h0M344.7 44.6h0M353.9 51.3h0M336.0 50.3h0M347.6 59.1h0M346.8 58.8h0M356.6 59.8h0M338.3 138.8h0M333.2 59.7h0M340.7 73.3h0M337.7 138.9h0M352.5 61.2h0M333.5 56.7h0M353.3 61.1h0M349.3 47.0h0M335.7 55.8h0M340.9 68.9h0M341.5 44.9h0M344.2 75.9h0M340.8 63.8h0M346.9 56.8h0M344.3 49.2h0M341.8 55.1h0M336.8 59.0h0M344.2 45.9h0M352.9 51.0h0M337.1 57.1h0M348.3 61.6h0M349.2 77.2h0M348.6 64.0h0M343.5 47.5h0M347.4 49.3h0M350.5 64.0h0M348.8 64.3h0M348.6 44.4h0M333.8 52.3h0M333.7 64.7h0M337.8 137.9h0M353.1 62.2h0M341.6 64.2h0M349.5 65.7h0M345.7 142.8h0M342.1 76.5h0M343.6 55.1h0M347.7 48.3h0M350.2 58.7h0M342.9 72.4h0M343.8 52.2h0M342.8 63.9h0M341.2 55.2h0M351.3 82.3h0M354.1 64.0h0M361.6 87.1h0M361.4 85.6h0M337.4 139.8h0M339.5 64.3h0M342.6 43.7h0M340.6 73.5h0M348.7 83.6h0M355.4 58.4h0M350.5 56.1h0M334.6 63.9h0M340.8 135.9h0M354.6 51.3h0M353.8 53.3h0M347.6 74.1h0M349.6 56.1h0M355.5 53.0h0M347.6 48.1h0M354.1 60.2h0M343.0 51.0h0M349.4 66.7h0M336.2 56.8h0M348.3 77.8h0M354.2 80.9h0M342.8 71.0h0M337.7 66.9h0M346.7 143.0h0M355.6 65.9h0M350.7 58.5h0M339.9 68.1h0M355.3 76.1h0M346.4 82.0h0M335.9 66.8h0M348.5 61.5h0M356.1 69.6h0M350.4 70.7h0M355.0 54.7h0M341.8 56.3h0M349.7 72.3h0M335.7 65.8h0M355.6 72.2h0M350.2 56.9h0M352.0 51.3h0M348.2 82.2h0M348.6 48.0h0M345.9 70.3h0M354.8 57.9h0M338.0 56.0h0M351.6 67.7h0M339.4 67.1h0M347.5 49.2h0M333.6 57.5h0M334.3 60.5h0M346.9 56.7h0M341.5 48.1h0M355.7 65.2h0M355.9 69.2h0M348.1 142.5h0M349.7 55.2h0M335.7 57.4h0M347.7 80.0h0M355.1 77.7h0M354.3 54.2h0M353.1 72.8h0M337.4 48.4h0M352.1 63.3h0M350.4 60.5h0M351.5 68.8h0M352.5 53.2h0M347.7 75.4h0M345.4 48.8h0M337.6 65.9h0M345.9 82.6h0M332.2 54.1h0M346.2 70.3h0M356.6 72.6h0M353.4 59.4h0M333.5 56.0h0M334.9 56.0h0M348.9 52.1h0M350.7 57.0h0M343.7 58.8h0M339.1 44.8h0M342.8 50.7h0M334.4 50.9h0M333.5 55.8h0M334.7 63.2h0M351.8 79.8h0M353.0 76.6h0M349.1 79.3h0M346.8 73.7h0M342.2 61.4h0M341.5 46.8h0M349.0 60.4h0M341.7 42.8h0M342.0 65.5h0M345.4 72.7h0M340.8 43.0h0M345.7 62.7h0M347.2 76.7h0M342.5 58.5h0M350.3 60.3h0M347.6 47.5h0M352.9 66.6h0M346.5 79.2h0M339.6 63.8h0M340.6 143.8h0M354.0 67.7h0M347.7 44.9h0M347.9 142.4h0M337.1 64.6h0M349.6 77.0h0M352.0 47.1h0M335.7 55.2h0M346.3 47.8h0M350.7 81.3h0M346.5 42.2h0M341.5 67.9h0M345.6 50.5h0M343.2 65.9h0M351.5 52.6h0M352.1 77.1h0M353.0 58.5h0M341.5 46.9h0M342.8 69.5h0M353.3 81.1h0M349.9 49.9h0M339.7 140.5h0M338.8 63.7h0M346.5 142.3h0M345.7 53.9h0M352.0 45.5h0M341.9 70.8h0M348.8 81.7h0M336.4 51.8h0M349.7 45.1h0M347.1 52.9h0M353.2 56.5h0M354.2 72.1h0M336.1 60.9h0M349.8 54.7h0M345.2 42.7h0M337.2 66.1h0M347.4 71.3h0M352.1 81.5h0M345.3 76.2h0M346.8 81.2h0M355.9 58.5h0M349.6 54.9h0M333.9 56.6h0M336.9 57.6h0M338.1 48.7h0M346.9 53.1h0M349.1 83.5h0M355.2 55.3h0M346.7 47.6h0M359.8 83.9h0M347.2 76.6h0M346.9 47.3h0M356.0 75.0h0M336.5 141.4h0M348.8 142.6h0M350.8 44.0h0M342.9 64.0h0M348.1 58.7h0M341.7 76.3h0M346.7 78.7h0M342.9 70.1h0M338.5 63.4h0M336.5 140.3h0M350.0 72.7h0M348.1 62.7h0M354.8 81.3h0M336.4 65.7h0M347.1 143.1h0M346.2 74.4h0M344.2 50.5h0M343.7 66.4h0M352.5 82.6h0M338.8 68.5h0M350.9 60.5h0M340.5 133.6h0M351.3 49.2h0M341.5 59.0h0M351.1 46.3h0M336.7 137.0h0M343.0 63.2h0M352.7 52.7h0M349.2 52.3h0M343.1 73.5h0M339.0 57.2h0M348.2 84.3h0M347.2 58.6h0M335.4 58.5h0M344.4 43.7h0M351.0 77.7h0M356.3 60.4h0M348.9 143.3h0M350.9 44.8h0M337.4 49.0h0M351.6 52.2h0M343.3 57.4h0M338.9 143.6h0M341.3 56.4h0M347.0 143.0h0M351.4 76.8h0M348.7 71.8h0M349.2 53.7h0M348.1 143.1h0M358.4 83.7h0M337.1 64.7h0M348.5 47.2h0M343.9 78.4h0M346.0 55.3h0M350.6 142.6h0M353.2 60.5h0M332.2 57.7h0M353.9 57.2h0M341.8 44.1h0M344.5 57.0h0M353.6 51.9h0M347.7 142.6h0M341.8 74.2h0M350.1 61.0h0M334.6 49.5h0M338.1 56.8h0M349.0 57.4h0M341.2 66.3h0M348.5 64.9h0M346.2 59.6h0M341.3 46.4h0M334.8 66.7h0M345.7 48.1h0M340.7 70.6h0M349.7 143.4h0M337.4 48.5h0M338.1 64.9h0M339.3 43.8h0M356.3 70.5h0M352.8 74.6h0M349.6 80.0h0M355.7 79.4h0M346.6 68.3h0M349.9 76.1h0M361.7 85.9h0M340.4 143.6h0M344.3 141.1h0M337.1 65.5h0M348.7 61.5h0M345.4 75.0h0M337.5 64.7h0M344.7 73.5h0M343.8 59.3h0M343.9 62.3h0M343.8 47.4h0M351.3 82.5h0M333.1 57.9h0M342.2 77.9h0M347.9 83.7h0M345.3 141.8h0M346.0 141.7h0M340.3 66.1h0M344.7 82.5h0M355.0 55.2h0M332.1 54.4h0M351.9 64.0h0M342.8 58.7h0M354.3 69.3h0M352.5 75.0h0M348.1 55.3h0M345.1 52.8h0M344.1 42.8h0M356.1 74.8h0M339.1 71.5h0M339.2 140.5h0M346.3 79.5h0M347.4 77.9h0M346.2 67.9h0M349.8 71.9h0M355.8 72.6h0M354.6 73.9h0M346.4 44.0h0M335.2 50.4h0M350.3 78.6h0M352.7 56.4h0M352.1 47.0h0M348.5 72.2h0M348.7 79.5h0M351.5 44.6h0M349.6 78.1h0M338.4 141.3h0M336.4 49.7h0M350.3 82.2h0M339.0 70.6h0M341.6 59.8h0M342.9 55.2h0M336.1 59.6h0M341.5 62.6h0M350.5 48.9h0M346.2 49.9h0M348.7 53.6h0M339.0 56.0h0M348.6 56.6h0M338.2 141.6h0M350.4 84.0h0M353.6 49.4h0M355.4 52.7h0M349.5 79.7h0M356.4 74.4h0M349.9 53.6h0M343.7 55.8h0M337.0 67.0h0M348.2 78.2h0M350.5 63.0h0M345.3 50.5h0M354.7 72.7h0M353.5 59.6h0M353.1 52.5h0M345.0 76.6h0M340.4 143.2h0M355.5 62.5h0M342.0 62.3h0M353.5 67.8h0M353.0 74.4h0M350.0 51.7h0M340.3 47.9h0M352.5 75.4h0M352.3 69.6h0M351.3 47.7h0M346.0 54.9h0M350.0 66.4h0M342.6 61.3h0M350.4 51.5h0M354.9 51.7h0M352.4 66.2h0M343.0 73.1h0M337.1 69.1h0M353.4 62.2h0M346.3 53.7h0M347.8 59.2h0M354.9 60.2h0M345.1 142.6h0M345.9 57.9h0M336.7 141.7h0M355.9 58.5h0M348.7 71.4h0M346.6 63.5h0M352.9 57.3h0M352.3 51.9h0M342.2 77.7h0M349.9 49.2h0M334.3 56.7h0M340.5 55.1h0M345.9 55.6h0M344.5 56.7h0M336.6 51.0h0M355.2 63.5h0M338.4 69.3h0M353.3 72.5h0M343.9 50.7h0M346.4 78.7h0M349.5 78.8h0M353.0 56.0h0M347.9 82.2h0M342.1 56.6h0M347.0 68.1h0M333.1 53.3h0M340.6 74.8h0M337.5 137.3h0M346.8 49.0h0M340.9 45.7h0M337.9 47.1h0M354.4 68.7h0M349.9 66.2h0M347.6 60.2h0M350.7 63.6h0M335.8 48.1h0M336.1 56.3h0M352.7 59.6h0M337.8 55.3h0M337.3 47.6h0M336.4 47.5h0M335.4 64.1h0M332.1 59.0h0M343.3 45.2h0M346.4 76.7h0M336.7 53.8h0M343.6 63.7h0M347.5 78.6h0M338.7 45.3h0M352.7 49.9h0M337.4 61.9h0M342.5 76.4h0M340.6 47.8h0M334.1 50.6h0M352.7 67.8h0M343.7 79.4h0M351.4 55.0h0M341.1 140.1h0M359.0 82.5h0M343.5 75.5h0M334.1 56.8h0M338.9 67.6h0M339.4 57.6h0M344.3 42.5h0M352.2 48.5h0M353.6 65.6h0M334.6 65.0h0M348.2 60.0h0M344.2 59.6h0M351.4 82.6h0M352.7 69.4h0M342.3 54.6h0M345.7 82.8h0M342.7 74.1h0M346.4 62.5h0M342.3 61.7h0M335.1 49.0h0M352.5 59.0h0M352.7 80.1h0M351.0 81.5h0M349.0 56.8h0M350.7 77.0h0M351.1 65.9h0M342.4 50.6h0M356.0 55.8h0M353.0 49.6h0M339.1 57.7h0M355.3 73.9h0M349.4 48.0h0M354.2 70.0h0M337.6 48.9h0M355.4 78.0h0M336.3 55.4h0M350.2 78.4h0M352.2 79.9h0M349.5 63.0h0M348.0 80.7h0M353.9 55.1h0M343.3 64.4h0M350.3 80.6h0M351.6 58.0h0M349.2 76.2h0M334.2 61.7h0M349.2 67.9h0M348.5 56.6h0M352.0 54.7h0M350.5 69.6h0M347.1 54.3h0M356.3 60.7h0M347.7 59.3h0M357.0 70.0h0M350.5 58.2h0M342.2 63.0h0M354.2 67.6h0M350.0 75.1h0M349.1 47.0h0M346.0 48.4h0M340.7 65.0h0M351.7 73.4h0M346.2 57.6h0M347.6 46.9h0M341.0 57.0h0M343.9 46.8h0M340.4 141.6h0M350.8 77.0h0M349.8 56.9h0M346.6 45.9h0M332.3 54.6h0M351.0 48.6h0M345.4 59.3h0M351.3 53.0h0M351.6 44.9h0M338.3 66.0h0M341.8 68.3h0M353.0 78.6h0M349.0 58.6h0M348.0 44.9h0M351.4 142.5h0M338.1 46.1h0M339.9 60.8h0M338.7 49.1h0M350.7 64.0h0M343.1 56.7h0M336.2 59.0h0M349.5 52.6h0M354.0 64.1h0M345.0 59.9h0M352.3 71.7h0M345.3 79.8h0M340.7 45.6h0M351.4 62.7h0M351.0 76.5h0M350.0 63.8h0M353.8 69.4h0M346.9 76.7h0M335.4 66.2h0M353.2 62.9h0M345.1 43.9h0M351.5 57.4h0M353.5 68.7h0M353.4 53.9h0M344.2 79.0h0M354.7 61.9h0M346.9 60.6h0M334.0 63.3h0M345.8 65.5h0M354.2 50.0h0M350.0 53.4h0M344.9 141.2h0M336.1 64.9h0M344.4 79.8h0M349.3 71.8h0M338.3 140.9h0M338.1 68.2h0M339.0 71.9h0M343.4 57.4h0M347.6 78.9h0M333.4 63.4h0M332.3 56.2h0M339.5 46.3h0M352.0 77.5h0M342.4 78.3h0M354.9 74.8h0M346.3 142.1h0M349.0 76.8h0M347.4 73.0h0M356.9 65.4h0M341.8 50.6h0M342.0 71.7h0M347.5 44.4h0M345.6 58.5h0M337.7 58.7h0M347.4 81.6h0M343.7 50.6h0M350.6 57.9h0M339.6 73.6h0M351.0 59.8h0M347.3 48.1h0M333.1 59.0h0M348.0 54.5h0M351.3 57.4h0M348.8 143.1h0M341.9 46.0h0M345.5 65.2h0M350.6 77.0h0M338.4 61.7h0M351.1 74.6h0M350.0 55.2h0M355.3 69.3h0M345.5 49.8h0M351.1 55.2h0M353.2 47.5h0M344.2 50.6h0M349.1 47.9h0M348.7 77.7h0M344.7 68.1h0M352.1 54.6h0M348.0 46.6h0M353.8 58.2h0M338.9 139.5h0M343.5 141.7h0M342.2 142.9h0M349.2 58.7h0M340.1 73.6h0M349.4 77.1h0M344.0 67.0h0M353.7 63.9h0M343.9 42.8h0M346.5 53.8h0M349.5 45.1h0M350.3 47.9h0M356.3 63.1h0M354.3 53.7h0M338.2 45.4h0M341.9 56.6h0M339.1 68.2h0M351.3 65.2h0M339.1 65.8h0M346.4 77.9h0M336.9 54.7h0M349.1 47.5h0M338.2 57.2h0M351.0 80.7h0M349.6 82.6h0M335.8 67.9h0M340.1 52.1h0M343.8 76.7h0M351.3 49.9h0M341.8 57.3h0M336.4 49.0h0M349.8 78.2h0M345.2 57.4h0M351.0 59.7h0M343.2 50.3h0M352.3 81.0h0M336.8 50.9h0M342.8 140.6h0M350.9 56.4h0M339.5 67.7h0M344.0 55.8h0M333.2 58.1h0M340.1 139.0h0M348.1 53.5h0M347.7 48.6h0M347.4 55.3h0M346.5 43.6h0M349.9 141.9h0M343.1 79.4h0M348.4 80.5h0M334.6 53.9h0M336.2 50.8h0M350.2 75.5h0M352.5 77.5h0M340.3 137.6h0M355.9 73.9h0M344.6 41.7h0M351.7 72.4h0M354.3 76.3h0M337.8 70.6h0M344.3 51.1h0M351.5 54.1h0M341.3 58.1h0M345.4 50.9h0M352.6 50.0h0M336.7 55.9h0M349.4 65.5h0M341.9 141.5h0M344.7 60.5h0M337.3 48.7h0M356.1 71.1h0M336.4 58.8h0M337.0 49.0h0M348.8 58.2h0M339.9 54.7h0M340.0 142.4h0M340.7 64.0h0M343.3 66.0h0M351.1 80.2h0M339.7 59.4h0M334.0 54.6h0M348.5 47.2h0M340.2 137.5h0M352.9 73.3h0M347.8 73.0h0M338.7 142.6h0M351.2 68.7h0M344.7 74.3h0M345.0 50.9h0M356.2 75.7h0M340.9 142.6h0M355.1 56.9h0M341.3 54.5h0M337.2 67.3h0M353.2 48.0h0M349.6 81.4h0M332.6 60.5h0M332.3 56.1h0M346.4 55.5h0M342.8 61.7h0M334.3 62.5h0M337.5 67.8h0M350.7 56.3h0M342.5 45.0h0M333.0 55.3h0M356.8 70.9h0M341.9 61.0h0M345.8 46.2h0M348.3 58.9h0M334.1 52.0h0M347.6 63.6h0M349.7 76.1h0M351.7 77.4h0M344.7 70.0h0M351.9 72.8h0M336.8 141.3h0M351.9 69.4h0M356.4 72.0h0M337.3 67.9h0M333.9 51.4h0M343.9 66.3h0M344.6 52.3h0M352.8 47.8h0M350.7 53.7h0M343.4 44.8h0M338.1 71.1h0M340.2 63.1h0M349.7 79.3h0M349.5 74.5h0M337.8 49.6h0M354.1 79.5h0M340.9 144.1h0M345.9 78.1h0M349.1 50.5h0M332.6 57.7h0M356.6 67.9h0M338.2 46.5h0M348.9 59.4h0M347.4 46.2h0M339.7 47.0h0M347.4 69.9h0M347.8 62.0h0M349.7 64.4h0M349.1 69.0h0M347.3 83.5h0M347.0 42.8h0M339.7 65.4h0M333.7 52.8h0M336.2 59.8h0M350.2 45.1h0M358.3 81.3h0M341.0 48.6h0M345.8 43.1h0M343.9 64.0h0M348.2 44.8h0M348.2 142.8h0M351.1 78.1h0M339.3 142.8h0M341.4 71.7h0M349.1 68.5h0M347.2 80.9h0M346.9 143.6h0M347.7 42.3h0M347.9 52.3h0M351.7 61.5h0M343.4 67.2h0M342.3 68.0h0M335.7 65.4h0M346.8 50.0h0M346.0 53.3h0M343.9 141.5h0M354.1 55.6h0M349.3 60.6h0M332.1 60.1h0M354.2 67.8h0M342.4 76.2h0M346.3 144.0h0M347.3 57.3h0M347.0 79.6h0M334.5 61.4h0M338.7 133.6h0M334.0 51.2h0M347.5 142.7h0M344.6 81.6h0M347.2 47.2h0M339.6 134.0h0M352.6 55.5h0M348.0 48.7h0M343.5 71.7h0M340.2 71.9h0M351.9 53.9h0M351.7 66.0h0M349.5 57.4h0M347.7 81.4h0M351.2 72.0h0M353.8 64.9h0M334.2 60.2h0M354.2 65.8h0M352.4 65.2h0M350.3 70.3h0M335.1 49.0h0M355.1 74.9h0M347.2 83.5h0M338.5 140.6h0M337.1 53.9h0M336.3 58.1h0M343.4 57.0h0M355.5 57.7h0M350.3 45.2h0M337.2 67.4h0M346.0 63.0h0M336.4 49.5h0M351.6 44.6h0M345.7 41.4h0M341.9 77.8h0M346.7 82.5h0M336.4 135.9h0M349.2 77.7h0M356.6 59.5h0M353.2 56.1h0M354.5 55.9h0M337.0 50.1h0M347.0 142.1h0M335.3 48.2h0M352.6 67.0h0M343.3 72.1h0M338.1 54.7h0M353.7 68.5h0M354.6 62.1h0M352.7 74.8h0M354.2 77.9h0M337.5 135.1h0M341.8 58.1h0M349.4 50.3h0M347.1 46.8h0M345.7 144.3h0M340.3 57.5h0M356.1 72.5h0M351.0 66.2h0M353.6 65.1h0M341.7 43.3h0M346.2 43.0h0M345.5 70.5h0M345.2 46.1h0M345.6 79.1h0M348.4 80.4h0M355.7 78.6h0M341.9 55.4h0M333.8 65.0h0M344.8 61.5h0M361.6 86.8h0M353.6 70.8h0M349.4 60.4h0M354.2 48.9h0M337.5 142.5h0M351.5 48.7h0M351.4 70.2h0M354.9 75.9h0M341.6 134.0h0M335.3 52.7h0M350.5 69.5h0M349.1 60.1h0M350.6 52.0h0M343.6 58.9h0M344.4 79.9h0M342.0 133.3h0M344.3 44.4h0M350.3 54.6h0M341.3 70.5h0M346.8 77.6h0M345.8 82.7h0M339.3 140.0h0M343.4 71.9h0M345.8 75.5h0M351.4 60.7h0M348.1 50.4h0M347.5 45.7h0M349.4 57.2h0M353.3 53.9h0M347.1 47.4h0M350.6 142.9h0M336.5 136.3h0M351.0 49.8h0M335.4 49.8h0M349.1 64.5h0M339.4 57.4h0M350.6 61.2h0M342.7 43.2h0M339.2 63.4h0M346.4 46.3h0M346.8 42.4h0M342.5 76.3h0M339.9 65.2h0M354.0 60.9h0M353.9 67.9h0M346.4 61.9h0M347.9 59.8h0M342.8 57.4h0M348.5 72.6h0M350.5 46.2h0M340.6 140.8h0M335.3 55.8h0M349.1 44.3h0M352.5 81.7h0M338.3 135.1h0M349.6 80.9h0M347.3 64.4h0M346.0 142.3h0M333.1 62.2h0M351.5 53.5h0M353.7 77.0h0M336.8 56.3h0M340.3 49.4h0M335.7 140.1h0M334.6 51.1h0M351.4 68.9h0M348.9 70.3h0M342.1 47.7h0M349.2 62.9h0M356.8 69.1h0M341.9 70.8h0M337.1 47.6h0M332.5 61.2h0M352.6 83.6h0M332.4 57.5h0M344.9 62.8h0M350.7 66.7h0M335.2 64.9h0M349.6 82.9h0M348.8 68.2h0M356.5 75.3h0M337.8 67.4h0M348.1 55.8h0M338.8 56.8h0M355.1 68.0h0M355.5 71.1h0M356.5 72.9h0M352.7 52.8h0M349.8 44.9h0M341.3 72.2h0M337.6 68.9h0M356.6 63.6h0M348.6 82.7h0M336.9 51.3h0M341.2 141.2h0M349.8 66.7h0M351.4 79.2h0M340.5 72.6h0M340.2 55.4h0M335.5 55.3h0M340.5 48.8h0M348.3 143.2h0M355.5 73.7h0M333.1 52.4h0M351.6 83.2h0M343.3 50.0h0M344.5 60.4h0M345.5 66.2h0M349.4 77.4h0M352.1 52.7h0M345.1 70.6h0M347.1 81.6h0M346.5 142.4h0M335.5 49.7h0M338.9 68.3h0M344.9 62.9h0M345.8 61.7h0M352.1 61.6h0M354.8 51.4h0M344.8 60.8h0M352.9 51.0h0M346.8 58.2h0M349.9 73.8h0M352.3 72.4h0M348.1 82.2h0M339.4 54.7h0M342.4 67.9h0M355.4 72.8h0M334.2 52.9h0M354.9 80.5h0M350.9 54.5h0M354.1 66.7h0M347.4 77.1h0M335.8 66.4h0M348.5 53.3h0M353.5 61.1h0M347.5 42.1h0M342.0 141.1h0M336.6 54.6h0M349.1 58.8h0M339.5 144.2h0M341.0 56.2h0M337.0 54.9h0M343.0 42.4h0M348.4 46.4h0M347.6 74.9h0M343.1 144.1h0M335.4 65.9h0M345.9 51.0h0M353.9 63.9h0M342.4 73.2h0M334.2 62.7h0M348.6 60.6h0M350.6 79.0h0M333.9 59.4h0M350.1 48.4h0M350.6 72.7h0M347.9 63.6h0M350.5 48.8h0M352.2 75.0h0M354.5 60.9h0M356.7 73.2h0M353.8 78.2h0M340.3 74.5h0M343.9 63.9h0M354.1 72.1h0M344.8 46.6h0M340.1 138.6h0M340.5 50.7h0M350.7 54.8h0M351.0 61.8h0M335.3 48.3h0M340.7 71.4h0M351.4 77.0h0M341.5 61.7h0M344.3 63.4h0M334.8 64.2h0M345.7 53.8h0M341.5 61.8h0M350.5 67.7h0M344.2 54.0h0M333.7 56.8h0M340.2 45.2h0M349.4 82.4h0M338.8 47.0h0M353.7 74.0h0M333.5 55.5h0M352.9 68.2h0M354.1 77.7h0M340.3 60.1h0M351.5 142.5h0M350.5 74.6h0M342.3 52.3h0M346.6 68.3h0M337.1 55.3h0M345.1 54.4h0M356.5 74.7h0M342.6 54.9h0M356.6 62.0h0M351.6 46.7h0M355.1 52.8h0M333.5 62.3h0M356.3 60.2h0M355.7 60.1h0M341.1 56.5h0M339.9 68.4h0M347.4 142.9h0M347.3 69.7h0M348.5 70.8h0M349.7 76.9h0M338.8 71.6h0M340.1 45.5h0M332.9 63.9h0M349.7 67.9h0M333.2 58.2h0M344.2 44.6h0M340.6 73.7h0M333.0 54.8h0M341.8 46.3h0M336.8 68.0h0M350.8 76.9h0M355.1 72.6h0M345.0 73.3h0M349.5 69.4h0M348.5 59.6h0M343.5 70.4h0M350.9 60.9h0M333.0 56.4h0M333.1 53.0h0M343.1 60.6h0M343.7 78.1h0M347.2 46.2h0M339.5 139.0h0M341.8 57.7h0M346.3 56.3h0M338.1 143.1h0M333.4 64.5h0M344.7 49.8h0M348.9 60.5h0M349.7 56.8h0M351.8 57.2h0M351.9 73.0h0M346.3 142.9h0M346.7 47.2h0M342.4 55.4h0M353.4 63.7h0M341.7 64.6h0M349.9 78.8h0M345.4 142.3h0M335.8 65.3h0M343.2 42.5h0M354.4 72.5h0M342.3 47.0h0M350.8 141.8h0M347.7 72.8h0M351.6 81.6h0M349.1 142.9h0M341.8 58.4h0M340.2 54.1h0M345.9 75.8h0M337.4 142.2h0M338.4 141.9h0M337.6 141.5h0M353.6 50.7h0M348.9 71.4h0M336.1 65.8h0M348.7 65.0h0M344.2 43.2h0M343.3 47.3h0M350.0 46.9h0M331.9 58.5h0M350.6 57.9h0M346.9 72.4h0M356.1 61.8h0M347.1 50.4h0M354.1 62.1h0M348.0 50.2h0M338.4 63.8h0M348.0 64.6h0M348.2 70.9h0M345.7 143.0h0M350.7 45.6h0M348.5 65.3h0M337.1 62.5h0M347.7 75.1h0M353.1 73.9h0M333.5 63.4h0M345.0 81.4h0M347.8 73.1h0M344.9 58.0h0M347.5 143.7h0M355.0 77.1h0M347.1 80.8h0M348.3 61.5h0M347.9 61.2h0M350.4 73.0h0M353.0 65.6h0M342.9 57.3h0M344.7 65.8h0M340.6 67.8h0M341.7 46.3h0M347.4 58.3h0M341.5 70.4h0M345.6 143.2h0M350.4 62.8h0M347.1 142.9h0M347.1 55.8h0M353.5 59.7h0M347.7 142.4h0M342.4 43.3h0M343.4 73.4h0M351.9 75.2h0M340.8 58.4h0M343.5 140.8h0M345.9 42.3h0M338.4 133.9h0M349.9 56.8h0M343.2 53.9h0M352.3 55.7h0M342.4 74.2h0M335.6 54.3h0M346.7 54.5h0M353.3 55.8h0M341.7 43.9h0M356.5 58.5h0M338.3 57.1h0M345.8 52.6h0M332.3 57.7h0M350.1 53.0h0M343.6 140.8h0M339.6 43.4h0M345.0 56.2h0M344.8 55.6h0M335.8 139.2h0M344.2 66.3h0M336.9 59.6h0M334.4 55.8h0M344.6 72.8h0M332.2 57.5h0M347.2 45.5h0M350.9 80.6h0M338.0 47.5h0M355.7 54.3h0M341.0 58.9h0M345.7 47.0h0M354.5 49.0h0M336.9 59.2h0M347.6 75.0h0M336.0 60.1h0M337.5 50.9h0M342.7 72.9h0M344.1 41.6h0M334.0 63.1h0M346.5 59.8h0M343.8 75.0h0M353.1 65.7h0M346.0 66.0h0M347.4 63.7h0M346.8 142.7h0M341.1 70.8h0M347.3 46.0h0M338.0 69.1h0M350.6 49.7h0M338.2 137.7h0M341.0 63.2h0M349.5 48.7h0M344.6 75.0h0M347.2 68.8h0M334.0 61.2h0M352.4 81.2h0M348.0 61.9h0M348.8 71.1h0M339.2 46.7h0M338.8 143.3h0M354.2 79.8h0M351.2 67.4h0M352.5 49.9h0M356.7 67.0h0M346.6 63.6h0M342.3 62.6h0M347.8 73.2h0M351.2 59.5h0M354.7 77.2h0M351.7 62.3h0M338.6 72.3h0M341.6 68.8h0M332.2 61.3h0M336.7 64.3h0M339.9 64.4h0M339.4 136.4h0M342.2 75.1h0M352.2 45.7h0M344.2 49.9h0M347.4 60.7h0M332.2 56.5h0M343.4 67.7h0M341.4 44.3h0M353.6 50.0h0M353.7 51.6h0M340.0 68.9h0M341.2 138.8h0M344.4 68.6h0M338.4 142.8h0M339.9 58.0h0M337.2 134.7h0M338.5 58.2h0M351.3 61.3h0M337.8 65.0h0M345.2 43.0h0M352.3 48.8h0M341.3 46.9h0M345.3 41.5h0M353.2 81.7h0M350.8 82.8h0M343.3 73.8h0M333.0 55.5h0M351.6 60.8h0M339.3 67.4h0M335.9 49.1h0M340.9 46.3h0M342.0 65.0h0M356.3 68.1h0M352.8 52.2h0M355.4 69.9h0M338.8 66.6h0M350.3 142.9h0M344.3 63.1h0M356.7 69.0h0M339.4 70.9h0M334.2 51.1h0M334.8 56.6h0M345.7 52.8h0M356.9 68.2h0M340.0 69.0h0M342.3 45.9h0M349.5 53.0h0M344.3 44.0h0M336.4 66.8h0M347.9 49.8h0M349.9 52.4h0M337.1 47.5h0M335.1 49.1h0M350.3 141.9h0M332.1 59.3h0M347.1 72.9h0M351.8 69.8h0M354.4 73.0h0M354.8 53.0h0M348.0 60.7h0M342.8 67.4h0M339.3 135.7h0M348.7 78.7h0M353.5 68.5h0M344.0 80.0h0M341.4 139.4h0M348.0 51.1h0M348.1 60.0h0M355.7 69.0h0M348.9 46.9h0M343.8 52.2h0M354.3 70.8h0M348.8 51.6h0M346.4 43.9h0M346.9 49.5h0M347.0 48.1h0M348.9 142.9h0M349.3 53.5h0M345.0 47.0h0M350.0 143.0h0M339.7 71.4h0M344.0 62.3h0M344.6 143.3h0M337.2 46.8h0M337.2 56.4h0M348.7 52.0h0M332.4 61.1h0M341.9 76.1h0M355.0 71.5h0M336.6 60.6h0M349.1 45.6h0M344.4 73.8h0M342.6 73.6h0M334.0 54.6h0M348.0 72.7h0M340.0 56.0h0M352.6 77.8h0M343.0 47.2h0M341.0 135.6h0M355.0 66.4h0M345.7 80.7h0M348.1 46.9h0M347.0 52.4h0M355.3 60.2h0M353.9 71.7h0M344.5 82.0h0M344.6 44.8h0M349.3 73.7h0M341.2 66.1h0M341.6 46.8h0M351.9 71.8h0M345.6 45.2h0M352.7 81.5h0M351.3 72.5h0M343.0 78.3h0M355.8 59.4h0M337.1 142.6h0M347.5 71.0h0M338.8 55.6h0M352.8 77.3h0M342.9 42.3h0M346.4 43.0h0M351.4 78.8h0M353.4 76.9h0M352.8 52.0h0M340.1 137.5h0M346.2 142.6h0M361.4 86.0h0M336.4 55.6h0M347.2 56.7h0M344.5 57.6h0M352.4 73.4h0M344.8 58.7h0M335.3 55.6h0M351.7 60.4h0M343.0 71.7h0M341.2 56.5h0M355.6 64.1h0M334.7 49.6h0M342.8 53.5h0M340.0 140.0h0M343.9 65.6h0M354.5 73.2h0M338.8 58.8h0M351.0 46.4h0M350.8 44.4h0M338.6 52.1h0M354.4 68.7h0M351.1 78.8h0M345.3 64.4h0M351.5 62.6h0M356.4 59.7h0M346.7 50.0h0M340.4 43.9h0M345.3 74.1h0M341.2 45.1h0M340.2 59.3h0M349.1 51.1h0M351.2 74.5h0M335.5 54.9h0M335.2 57.5h0M346.1 143.0h0M355.4 55.9h0M334.3 55.4h0M332.5 55.1h0M338.5 138.2h0M334.0 55.4h0M349.2 60.1h0M346.8 61.5h0M342.1 68.3h0M356.9 72.8h0M339.6 73.4h0M338.4 59.1h0M350.8 79.3h0M335.8 68.0h0M349.4 60.4h0M340.7 74.6h0M337.3 67.8h0M337.4 46.0h0M344.0 76.3h0M348.9 50.8h0M348.0 142.6h0M348.3 45.1h0M353.8 66.5h0M353.3 67.6h0M353.7 76.5h0M352.8 78.7h0M350.4 78.8h0M356.2 65.4h0M336.4 67.6h0M343.8 68.0h0M336.2 48.1h0M349.4 75.6h0M338.2 48.1h0M350.7 48.7h0M347.2 47.0h0M349.1 49.9h0M351.3 70.9h0M342.8 61.5h0M349.9 83.3h0M347.3 69.3h0M337.8 65.6h0M353.2 50.9h0M342.0 45.2h0M337.4 64.7h0M358.0 82.1h0M339.5 51.8h0M338.3 64.0h0M332.6 62.7h0M354.2 66.5h0M349.1 78.3h0M336.0 52.7h0M353.5 76.6h0M349.6 48.5h0M337.0 61.5h0M354.5 52.9h0M351.1 54.0h0M346.8 64.7h0M346.9 82.9h0M337.3 48.1h0M343.8 76.0h0M346.8 46.3h0M332.4 60.3h0M341.5 52.7h0M353.0 48.2h0M353.3 64.1h0M343.3 47.5h0M332.3 55.3h0M345.6 76.9h0M334.0 56.2h0M349.8 76.8h0M343.0 74.6h0M349.4 62.5h0M336.4 52.2h0M336.9 50.8h0M343.5 73.4h0M334.6 57.2h0M352.9 60.1h0M338.4 136.6h0M351.8 53.2h0M340.4 74.5h0M356.4 68.0h0M347.1 142.4h0M337.9 60.7h0M335.5 63.4h0M356.7 65.0h0M350.2 46.3h0M349.8 64.9h0M346.8 45.2h0M342.2 49.7h0M351.0 78.2h0M347.1 49.3h0M340.9 46.1h0M331.7 55.1h0M348.9 67.1h0M351.2 73.5h0M342.1 60.7h0M343.9 79.7h0M352.9 47.0h0M343.4 44.8h0M343.2 69.9h0M341.1 51.5h0M339.8 59.5h0M338.8 56.0h0M347.5 53.5h0M349.4 75.1h0M346.6 68.5h0M345.4 51.7h0M343.6 49.9h0M337.8 61.4h0M337.0 51.5h0M347.5 60.8h0M348.6 58.2h0M339.2 69.1h0M345.6 75.6h0M338.7 50.9h0M353.1 49.9h0M339.9 63.0h0M350.3 75.7h0M352.9 68.4h0M340.9 46.0h0M346.0 61.2h0M344.6 71.2h0M337.1 60.2h0M347.6 80.0h0M347.4 62.0h0M356.8 63.4h0M350.9 64.6h0M349.5 69.3h0M334.3 60.8h0M336.0 66.0h0M344.7 61.5h0M350.6 61.7h0M345.0 50.0h0M351.9 63.2h0M350.5 78.7h0M336.0 58.0h0M347.6 57.5h0M349.4 80.3h0M333.4 59.9h0M351.7 60.1h0M346.9 64.6h0M335.5 65.9h0M351.0 78.2h0M345.1 65.6h0M343.2 142.6h0M354.3 78.7h0M335.8 65.7h0M348.4 81.9h0M355.8 59.9h0M341.2 61.7h0M341.3 59.7h0M348.9 60.6h0M334.0 55.7h0M340.9 66.4h0M350.8 67.8h0M350.1 64.5h0M342.8 52.6h0M344.3 44.4h0M345.9 142.3h0M343.2 75.2h0M341.2 58.0h0M337.8 59.9h0M355.9 69.0h0M335.2 58.6h0M356.8 60.1h0M345.2 143.1h0M348.3 82.7h0M353.0 70.8h0M348.7 62.4h0M352.1 46.5h0M356.6 71.8h0M350.4 59.0h0M335.4 62.5h0M351.3 61.8h0" stroke="#F8766D" stroke-width="0.72" stroke-linecap="round" fill="none"/>
<line x1="326.6" y1="34.9" x2="326.6" y2="166.5" stroke="#4d4d4d" stroke-width="0.7"/>
<line x1="326.6" y1="166.5" x2="435" y2="166.5" stroke="#4d4d4d" stroke-width="0.7"/>
<line x1="323.4" y1="69.4" x2="326.6" y2="69.4" stroke="#4d4d4d" stroke-width="0.7"/>
<text x="319.6" y="72" font-size="7.6" text-anchor="end" textLength="4.44" lengthAdjust="spacingAndGlyphs">5</text>
<line x1="323.4" y1="108.2" x2="326.6" y2="108.2" stroke="#4d4d4d" stroke-width="0.7"/>
<text x="319.6" y="110.8" font-size="7.6" text-anchor="end" textLength="4.44" lengthAdjust="spacingAndGlyphs">0</text>
<line x1="323.4" y1="146.9" x2="326.6" y2="146.9" stroke="#4d4d4d" stroke-width="0.7"/>
<text x="319.6" y="149.5" font-size="7.6" text-anchor="end" textLength="9.1" lengthAdjust="spacingAndGlyphs">−5</text>
<line x1="330.1" y1="166.5" x2="330.1" y2="169.8" stroke="#4d4d4d" stroke-width="0.7"/>
<text x="330.1" y="179.7" font-size="7.6" text-anchor="middle" textLength="13.54" lengthAdjust="spacingAndGlyphs">−10</text>
<line x1="359.8" y1="166.5" x2="359.8" y2="169.8" stroke="#4d4d4d" stroke-width="0.7"/>
<text x="359.8" y="179.7" font-size="7.6" text-anchor="middle" textLength="9.1" lengthAdjust="spacingAndGlyphs">−5</text>
<line x1="389.5" y1="166.5" x2="389.5" y2="169.8" stroke="#4d4d4d" stroke-width="0.7"/>
<text x="389.5" y="179.7" font-size="7.6" text-anchor="middle" textLength="4.44" lengthAdjust="spacingAndGlyphs">0</text>
<line x1="419.2" y1="166.5" x2="419.2" y2="169.8" stroke="#4d4d4d" stroke-width="0.7"/>
<text x="419.2" y="179.7" font-size="7.6" text-anchor="middle" textLength="4.44" lengthAdjust="spacingAndGlyphs">5</text>
<text x="380.6" y="192.6" font-size="8.6" text-anchor="middle" textLength="26.9" lengthAdjust="spacingAndGlyphs">UMAP1</text>
<text transform="translate(303.2,100.8) rotate(-90)" text-anchor="middle" font-size="8.6" textLength="28.3" lengthAdjust="spacingAndGlyphs" fill="#231f20">UMAP2</text>
<circle cx="412.5" cy="44.9" r="1.9" fill="#F8766D"/>
<circle cx="412.5" cy="52.8" r="1.9" fill="#00BFC4"/>
<text x="417.8" y="47.5" font-size="7.4" textLength="33.5" lengthAdjust="spacingAndGlyphs">Coculture</text>
<text x="417.8" y="55.4" font-size="7.4" textLength="43" lengthAdjust="spacingAndGlyphs">Monoculture</text>
<circle cx="486.1" cy="22.1" r="7.7" fill="none" stroke="#222" stroke-width="0.75"/>
<text x="486.1" y="25" font-size="8.2" text-anchor="middle">2</text>
<text x="501.7" y="24.7" font-size="8.6" textLength="116.8" lengthAdjust="spacingAndGlyphs">sgRNA, <tspan font-style="italic">MYC</tspan> expression level</text>
<path d="M592.7 119.1h0M538.4 77.5h0M599.7 134.9h0M578.5 137.7h0M577.0 141.9h0M520.8 53.6h0M535.4 79.0h0M528.9 78.6h0M605.9 143.1h0M596.7 125.8h0M531.1 81.0h0M594.8 156.1h0M525.0 133.6h0M595.3 143.6h0M607.6 123.9h0M538.3 71.8h0M537.5 47.4h0M603.1 151.1h0M528.2 62.8h0M589.7 130.5h0M595.9 150.0h0M531.9 69.7h0M581.0 154.9h0M583.6 155.6h0M590.6 152.0h0M588.5 111.3h0M534.8 142.4h0M586.8 157.3h0M605.7 141.2h0M534.3 46.3h0M540.3 81.1h0M521.6 52.2h0M532.6 80.5h0M601.9 145.0h0M579.6 153.2h0M539.3 76.1h0M534.4 75.1h0M589.2 156.3h0M584.2 145.4h0M531.8 79.9h0M603.6 149.2h0M530.2 79.5h0M533.2 81.8h0M531.4 79.6h0M594.2 97.4h0M524.4 139.0h0M586.2 119.3h0M587.9 158.2h0M579.4 138.5h0M593.7 130.6h0M528.5 76.6h0M529.2 72.6h0M539.4 64.1h0M595.5 145.2h0M601.5 140.8h0M582.8 136.7h0M598.5 159.6h0M589.1 134.7h0M534.5 83.7h0M533.5 74.2h0M581.1 135.9h0M583.1 144.9h0M540.5 76.2h0M583.8 144.5h0M536.0 70.8h0M588.0 152.2h0M594.4 150.6h0M598.7 155.9h0M584.5 143.7h0M521.3 60.6h0M579.9 115.9h0M533.5 80.1h0M607.1 132.1h0M537.1 69.0h0M601.7 154.6h0M604.4 107.1h0M597.2 145.2h0M532.7 73.9h0M589.3 148.9h0M576.2 141.7h0M599.0 147.4h0M596.2 149.9h0M536.3 81.5h0M527.9 68.1h0M592.9 149.7h0M592.6 157.1h0M580.6 140.3h0M526.3 140.7h0M597.4 138.0h0M579.5 116.4h0M605.8 123.6h0M605.8 137.9h0M531.3 42.9h0M593.3 122.9h0M520.9 56.7h0M586.3 154.0h0M608.6 135.5h0M533.1 76.8h0M523.3 141.6h0M532.6 78.9h0M523.4 140.4h0M540.0 81.4h0M523.3 65.9h0M538.0 82.7h0M527.0 133.8h0M534.0 84.4h0M534.6 143.5h0M536.9 77.0h0M530.1 78.5h0M586.3 142.4h0M586.0 142.0h0M527.2 70.8h0M589.7 148.7h0M535.3 80.1h0M530.4 141.3h0M600.4 117.1h0M579.1 124.8h0M530.9 82.6h0M541.2 74.9h0M582.2 148.0h0M532.3 79.7h0M533.3 78.1h0M534.3 72.3h0M535.3 78.2h0M591.1 147.5h0M535.9 82.4h0M588.4 153.1h0M602.9 128.9h0M582.0 140.7h0M593.8 145.5h0M598.1 159.5h0M604.9 142.0h0M586.9 132.8h0M593.1 156.3h0M584.4 137.6h0M531.1 76.7h0M595.8 147.1h0M598.6 153.9h0M603.8 119.5h0M582.2 148.2h0M590.6 138.3h0M584.0 156.5h0M534.5 71.5h0M535.2 78.9h0M524.3 137.4h0M584.2 143.4h0M581.7 131.5h0M604.7 142.3h0M532.3 76.9h0M528.8 76.5h0M605.6 134.7h0M601.6 148.7h0M606.2 149.5h0M607.5 146.9h0M587.2 149.4h0M535.9 78.6h0M595.2 158.1h0M599.7 145.5h0M535.7 75.2h0M579.2 134.0h0M590.7 152.1h0M526.9 141.7h0M588.5 130.6h0M536.4 77.2h0M588.6 132.7h0M538.4 78.8h0M589.1 127.8h0M536.9 142.6h0M590.1 159.6h0M599.4 132.6h0M584.8 148.9h0M596.6 134.8h0M588.0 154.6h0M530.4 79.1h0M536.1 142.4h0M598.9 136.2h0M590.2 132.5h0M601.5 141.3h0M530.6 80.0h0M525.6 72.0h0M584.6 143.0h0M603.8 144.1h0M534.8 76.9h0M584.4 134.9h0M601.7 152.3h0M536.2 77.1h0M593.7 148.8h0M591.8 124.1h0M530.8 68.3h0M529.8 141.9h0M526.6 73.8h0M535.1 77.3h0M592.5 129.9h0M607.8 141.7h0M600.5 154.5h0M536.6 80.9h0M535.3 82.8h0M578.3 151.5h0M607.6 133.1h0M603.3 135.7h0M526.8 137.8h0M608.3 136.2h0M537.2 72.6h0M580.7 141.0h0M590.5 147.5h0M589.7 148.2h0M601.2 138.5h0M529.5 66.2h0M607.5 141.3h0M536.7 68.9h0M596.5 135.5h0M579.7 131.4h0M594.0 143.2h0M580.8 156.5h0M541.9 71.0h0M537.4 73.0h0M589.6 116.0h0M599.3 154.4h0M524.8 71.2h0M590.4 137.9h0M531.9 78.3h0M534.6 59.6h0M533.3 70.0h0M534.8 69.1h0M590.7 113.2h0M582.0 148.2h0M533.1 81.0h0M530.1 141.6h0M528.7 76.4h0M525.4 133.8h0M533.4 142.8h0M533.5 81.6h0M536.7 72.2h0M540.3 75.0h0M525.2 140.7h0M598.8 156.5h0M596.6 144.9h0M606.3 140.2h0M601.7 149.1h0M539.0 68.7h0M538.1 75.0h0M601.8 128.9h0M584.3 152.0h0M541.3 72.7h0M607.0 116.7h0M604.5 128.7h0M540.9 78.7h0M536.9 70.4h0M536.1 69.7h0M602.8 145.3h0M585.6 139.6h0M531.8 75.6h0M579.5 142.4h0M536.2 143.1h0M577.4 145.0h0M601.5 132.3h0M539.3 68.0h0M591.2 141.7h0M534.3 142.2h0M537.9 81.9h0M605.1 151.3h0M577.6 108.4h0M536.9 69.1h0M580.0 109.5h0M588.2 137.2h0M536.3 66.8h0M540.6 71.3h0M580.2 145.8h0M534.1 143.4h0M583.6 132.3h0M525.5 68.4h0M583.7 146.4h0M581.4 128.2h0M588.2 149.5h0M585.1 144.9h0M585.0 134.3h0M533.5 75.1h0M576.2 128.6h0M529.4 144.3h0M576.0 139.7h0M528.7 73.3h0M536.2 79.2h0M541.8 73.3h0M585.5 137.0h0M579.8 106.8h0M527.1 71.5h0M588.9 121.4h0M592.1 148.6h0M587.3 129.2h0M536.1 74.8h0M534.3 70.9h0M525.4 71.7h0M536.4 77.1h0M540.3 72.7h0M603.1 144.6h0M577.0 130.3h0M578.0 135.3h0M524.8 143.3h0M590.2 152.6h0M597.6 122.5h0M587.8 132.9h0M539.7 72.7h0M534.8 143.0h0M594.2 132.2h0M534.0 71.1h0M520.6 63.5h0M531.1 81.6h0M540.2 77.3h0M576.4 138.9h0M594.6 156.1h0M533.5 142.5h0M591.0 102.2h0M605.7 152.1h0M588.0 155.1h0M528.8 74.4h0M583.1 158.5h0M529.8 141.0h0M522.7 139.3h0M602.9 134.3h0M593.7 156.7h0M524.7 69.2h0M524.9 137.9h0M537.9 81.3h0M592.3 138.2h0M595.5 147.6h0M533.6 73.4h0M539.9 77.4h0M603.8 124.7h0M529.7 67.9h0M588.6 152.3h0M581.5 142.5h0M530.6 68.8h0M599.3 140.3h0M594.9 151.9h0M601.5 125.3h0M586.8 153.9h0M596.2 119.9h0M534.5 78.9h0M540.8 69.2h0M590.4 157.3h0M534.6 143.1h0M530.8 143.4h0M606.4 149.4h0M539.2 71.9h0M593.6 145.5h0M580.3 155.8h0M582.5 119.3h0M595.1 149.2h0M532.2 142.8h0M575.8 141.7h0M604.0 142.4h0M601.6 149.4h0M599.6 130.0h0M536.6 78.9h0M536.8 74.6h0M598.6 142.6h0M582.0 109.3h0M595.8 149.1h0M536.4 79.4h0M527.1 74.7h0M524.1 68.0h0M598.3 99.6h0M535.1 75.7h0M586.0 145.0h0M579.0 126.5h0M603.8 150.5h0M596.2 141.3h0M608.6 133.2h0M525.1 136.8h0M537.3 53.3h0M609.0 123.6h0M588.6 159.9h0M582.6 153.9h0M577.5 132.9h0M598.4 132.2h0M525.8 69.2h0M535.9 75.8h0M606.6 146.3h0M606.5 134.5h0M607.7 146.3h0M582.5 150.1h0M589.4 147.1h0M539.6 78.9h0M579.1 150.2h0M605.8 112.9h0M580.2 149.5h0M576.4 118.2h0M594.4 145.4h0" stroke="#F8766D" stroke-width="0.62" stroke-linecap="round" fill="none"/>
<path d="M584.5 105.4h0M605.8 121.0h0M536.8 59.1h0M529.9 56.0h0M585.0 102.4h0M541.6 61.1h0M589.2 129.7h0M588.2 140.0h0M535.0 57.6h0M600.2 115.3h0M593.8 129.2h0M602.4 99.2h0M531.4 50.0h0M599.2 94.2h0M532.8 45.5h0M608.1 130.5h0M541.6 60.8h0M591.1 101.8h0M533.7 143.2h0M577.3 129.8h0M523.6 57.5h0M582.5 104.6h0M580.7 121.6h0M531.0 60.5h0M521.4 64.8h0M597.7 117.9h0M592.0 125.8h0M594.5 110.9h0M597.7 120.6h0M582.9 125.6h0M576.4 108.8h0M589.3 107.6h0M586.3 115.2h0M586.0 136.0h0M583.0 120.6h0M605.6 119.8h0M578.1 116.2h0M523.0 65.7h0M581.6 118.7h0M597.5 95.9h0M599.7 120.7h0M530.3 46.9h0M533.0 143.1h0M533.9 58.5h0M592.4 145.6h0M584.8 109.8h0M531.7 51.4h0M583.4 95.9h0M598.7 94.8h0M535.0 49.7h0M533.1 67.6h0M535.6 46.5h0M591.8 117.9h0M584.7 94.1h0M585.8 100.0h0M534.5 58.6h0M597.3 109.0h0M604.8 106.0h0M596.2 124.1h0M596.8 96.0h0M602.7 109.2h0M595.9 104.6h0M595.5 115.3h0M608.4 112.1h0M589.7 106.8h0M538.0 46.5h0M526.8 63.2h0M539.8 59.8h0M580.3 123.7h0M597.0 105.5h0M541.8 64.3h0M590.3 125.2h0M583.1 97.9h0M603.1 133.7h0M520.8 54.1h0M584.0 138.7h0M603.8 113.1h0M583.8 102.1h0M532.4 45.4h0M586.5 125.4h0M520.0 57.6h0M537.2 62.3h0M603.1 142.2h0M534.9 53.5h0M582.8 120.9h0M533.5 142.9h0M532.3 43.5h0M606.7 120.9h0M597.3 93.9h0M524.3 58.4h0M600.9 126.5h0M523.1 58.0h0M603.1 103.4h0M606.7 110.7h0M580.8 112.7h0M590.5 123.3h0M599.1 109.2h0M587.5 120.7h0M535.4 57.9h0M602.9 106.9h0M583.2 102.1h0M599.4 122.3h0M584.3 121.7h0M584.7 123.3h0M528.9 46.0h0M602.4 101.0h0M594.1 111.2h0M522.7 53.6h0M589.1 98.3h0M528.3 62.7h0M535.7 69.5h0M530.2 61.6h0M531.0 54.3h0M531.7 58.8h0M605.2 98.7h0M537.8 48.6h0M588.9 131.4h0M584.6 109.1h0M601.6 106.9h0M591.6 119.5h0M534.0 50.9h0M579.2 102.4h0M541.1 55.8h0M520.0 60.0h0M592.5 137.9h0M586.0 124.6h0M589.7 128.1h0M600.1 97.3h0M606.1 126.7h0M590.8 105.6h0M580.0 128.3h0M533.0 42.2h0M534.4 51.1h0M590.3 140.0h0M531.9 53.6h0M581.8 100.8h0M532.2 59.8h0M601.8 98.2h0M584.4 94.6h0M530.6 43.4h0M604.7 102.9h0M522.1 67.0h0M532.0 65.8h0M522.4 57.0h0M599.8 128.9h0M590.0 102.1h0M537.2 63.0h0M578.2 127.9h0M535.9 51.1h0M584.4 105.1h0M576.7 120.3h0M608.9 128.7h0M590.0 119.0h0M537.2 57.4h0M592.9 150.7h0M587.6 111.7h0M606.5 128.1h0M578.0 111.5h0M594.5 144.2h0M600.2 113.8h0M537.0 68.9h0M585.6 121.2h0M528.9 65.0h0M537.7 58.4h0M591.1 126.2h0M605.9 119.7h0M579.2 110.8h0M607.9 109.6h0M594.9 159.5h0M594.2 119.3h0M608.5 123.8h0M608.5 118.0h0M605.2 136.7h0M519.1 55.2h0M587.8 113.3h0M528.4 57.0h0M588.5 97.3h0M576.9 129.5h0M605.5 107.1h0M606.0 131.9h0M592.9 126.9h0M608.0 126.9h0M592.5 103.1h0M600.0 114.4h0M534.6 72.2h0M539.2 57.8h0M525.5 60.5h0M604.7 113.4h0M601.2 123.2h0M529.5 53.5h0M593.7 139.1h0M579.6 142.9h0M531.2 54.1h0M575.8 126.1h0M578.7 148.8h0M541.9 69.5h0M532.6 50.2h0M595.0 103.0h0M540.6 55.7h0M608.0 123.9h0M541.7 76.5h0M604.4 100.2h0M594.8 147.3h0M592.0 143.6h0M581.3 107.4h0M596.1 147.3h0M587.9 118.4h0M594.3 125.7h0M588.5 109.3h0M605.6 101.1h0M532.4 43.4h0M527.4 47.4h0M586.4 144.8h0M530.6 56.8h0M534.0 52.5h0M523.9 57.5h0M536.4 66.7h0M522.1 57.6h0M592.1 122.1h0M577.8 119.7h0M530.0 46.6h0M600.9 113.9h0M539.6 60.0h0M591.2 127.2h0M596.8 121.6h0M603.0 116.0h0M537.8 62.5h0M602.6 108.1h0M597.2 101.6h0M523.5 68.3h0M586.6 141.4h0M605.3 108.9h0M524.1 46.3h0M531.8 56.2h0M593.4 110.4h0M591.6 107.6h0M533.1 49.8h0M527.4 60.1h0M600.0 109.2h0M534.5 43.7h0M591.4 116.6h0M602.5 114.6h0M592.2 119.7h0M582.1 155.3h0M589.4 95.0h0M533.0 58.1h0M604.2 154.4h0M602.1 113.3h0M533.3 62.9h0M535.5 49.3h0M595.9 119.9h0M590.5 105.6h0M591.3 113.6h0M520.8 52.9h0M522.1 59.4h0M519.3 59.3h0M601.1 110.0h0M536.4 57.4h0M519.9 55.7h0M535.8 50.6h0M527.1 48.7h0M530.1 58.6h0M599.6 114.3h0M580.4 100.7h0M601.9 94.9h0M531.6 57.9h0M579.7 129.4h0M531.1 58.3h0M587.1 125.3h0M581.0 106.5h0M533.6 52.5h0M527.1 47.3h0M590.4 95.5h0M603.6 97.4h0M585.0 113.8h0M596.1 118.0h0M520.1 58.8h0M599.7 108.4h0M589.8 150.2h0M524.0 49.2h0M595.8 108.9h0M537.6 60.2h0M536.1 45.5h0M599.1 106.3h0M524.3 138.3h0M605.4 100.9h0M585.6 104.7h0M593.2 117.4h0M525.2 65.1h0M591.9 106.5h0M589.0 96.5h0M532.4 49.9h0M533.9 62.0h0M536.0 67.5h0M577.1 120.5h0M530.9 44.8h0M588.3 119.5h0M539.2 51.5h0M585.9 117.2h0M585.4 112.2h0M585.1 100.1h0M522.9 50.4h0M592.8 102.6h0M591.2 105.1h0M592.9 120.1h0M533.5 59.3h0M532.7 58.9h0M541.7 59.9h0M605.8 126.0h0M608.2 140.2h0M593.3 98.4h0M520.3 59.8h0M599.0 109.0h0M598.9 115.1h0M591.4 123.7h0M582.4 120.2h0M599.3 107.5h0M605.3 120.0h0M577.2 125.1h0M589.5 125.5h0M596.5 122.6h0M580.1 103.0h0M604.5 118.0h0M582.0 141.0h0M538.0 61.3h0M520.6 56.8h0M538.7 61.3h0M588.9 134.8h0M594.6 108.1h0M535.0 47.1h0M598.7 131.8h0M602.6 118.0h0M585.1 102.3h0M578.4 110.4h0M575.6 140.2h0M522.6 56.0h0M595.6 123.2h0M592.4 140.3h0M527.4 69.0h0M527.9 45.0h0M590.6 139.7h0M592.6 116.5h0M530.4 76.1h0M580.1 100.0h0M527.2 64.0h0M594.2 102.7h0M589.4 125.3h0M532.8 56.9h0M580.3 107.5h0M530.5 49.3h0M592.1 120.1h0M589.0 131.2h0M608.6 127.6h0M596.6 97.2h0M528.2 55.3h0M523.6 59.2h0M594.7 96.2h0M530.3 46.0h0M577.2 137.8h0M538.3 51.1h0M577.8 108.7h0M594.2 154.3h0M583.1 107.4h0M577.0 110.9h0M523.9 57.3h0M604.6 115.6h0M594.3 101.9h0M601.0 117.1h0M580.6 113.4h0M534.1 61.7h0M534.3 64.1h0M600.0 117.1h0M599.5 95.2h0M529.8 47.7h0M533.3 49.5h0M579.8 116.0h0M536.1 64.1h0M534.6 64.4h0M594.6 101.9h0M584.3 118.1h0M534.4 44.6h0M599.9 113.2h0M580.9 116.2h0M602.8 99.5h0M603.6 104.9h0M598.9 93.7h0M586.5 101.0h0M598.8 113.7h0M520.9 52.4h0M520.7 64.9h0M598.5 106.3h0M538.5 62.4h0M578.9 113.3h0M607.5 118.5h0M606.1 105.3h0M597.9 101.7h0M583.6 96.2h0M528.0 64.3h0M594.7 102.9h0M535.2 65.9h0M607.1 118.0h0M596.1 106.5h0M590.2 130.2h0M602.7 152.8h0M595.8 159.7h0M595.3 118.3h0M588.0 117.7h0M529.8 55.3h0M533.6 48.4h0M535.9 58.8h0M530.0 52.3h0M529.1 64.0h0M527.6 55.4h0M606.1 120.3h0M575.2 123.0h0M602.8 108.6h0M587.1 126.9h0M579.6 110.1h0M606.2 135.7h0M599.7 96.3h0M593.9 96.3h0M589.0 114.5h0M603.5 114.5h0M594.8 143.3h0M576.9 122.8h0M604.6 119.6h0M524.2 140.0h0M526.1 64.4h0M583.2 99.1h0M589.1 97.2h0M528.9 43.9h0M593.7 159.3h0M595.6 101.6h0M593.5 99.0h0M589.7 124.6h0M592.4 156.8h0M580.3 122.7h0M587.4 113.9h0M527.1 73.6h0M579.4 103.9h0M540.6 58.5h0M536.1 56.3h0M594.3 136.2h0M584.0 113.2h0M521.7 64.0h0M604.1 111.5h0M601.9 126.5h0M575.9 130.3h0M595.7 95.3h0M527.3 136.1h0M539.9 51.5h0M539.1 53.4h0M594.8 137.6h0M591.6 110.4h0M535.3 56.3h0M578.2 128.3h0M577.4 114.8h0M540.7 53.1h0M533.5 48.3h0M539.4 60.3h0M583.2 151.9h0M587.6 113.8h0M529.3 51.2h0M582.0 120.1h0M535.1 66.8h0M586.5 113.3h0M593.4 98.3h0M523.0 57.0h0M607.1 116.6h0M529.1 71.2h0M600.2 108.6h0M524.4 67.1h0M608.0 117.7h0M589.9 106.6h0M540.8 66.0h0M581.4 114.9h0M536.3 58.7h0M526.5 68.3h0M607.4 109.5h0M593.8 153.2h0M603.2 120.2h0M522.8 66.9h0M534.3 61.6h0M592.3 95.2h0M593.5 133.9h0M541.2 69.8h0M595.4 104.8h0M540.2 54.9h0M604.9 108.7h0M528.2 56.4h0M577.1 132.1h0M575.7 135.8h0M588.1 114.6h0M602.4 132.2h0M582.3 96.5h0M584.8 129.2h0M522.6 66.0h0M582.4 119.8h0M595.1 118.5h0M535.9 57.1h0M537.5 51.4h0M595.7 100.5h0M596.3 144.9h0M534.4 48.2h0M590.7 154.2h0M583.2 120.5h0M540.0 58.1h0M586.7 126.7h0M592.2 109.0h0M524.7 56.1h0M526.0 67.3h0M533.4 49.4h0M582.9 139.8h0M520.7 57.6h0M590.7 128.9h0M578.6 122.4h0M532.9 56.9h0M527.9 48.3h0M541.0 69.3h0M584.0 105.5h0M590.1 94.0h0M533.9 142.7h0M607.7 108.6h0M597.5 94.3h0M535.4 55.3h0M599.8 95.9h0M580.1 113.0h0M583.5 113.1h0M522.6 57.6h0M580.6 102.8h0M583.6 105.4h0M586.7 122.3h0M586.6 124.9h0M592.4 116.4h0M597.8 104.0h0M539.6 54.3h0M581.1 97.3h0M524.1 48.6h0M537.5 63.4h0M602.7 95.9h0M604.3 113.4h0M604.0 124.1h0M587.2 140.2h0M593.1 115.4h0M584.1 98.2h0M588.7 136.1h0M536.0 60.7h0M538.0 53.3h0M577.9 128.6h0M533.6 75.5h0M531.5 49.0h0M524.4 66.1h0M519.4 54.3h0M577.5 108.4h0M597.3 135.3h0M532.2 70.5h0M585.1 111.0h0M581.5 101.7h0M590.9 94.7h0M520.6 56.1h0M606.7 105.2h0M578.7 118.0h0M521.9 56.2h0M534.7 52.3h0M536.3 57.2h0M529.9 58.9h0M589.6 93.3h0M525.7 45.0h0M576.2 138.0h0M529.1 50.9h0M521.4 51.0h0M582.1 107.2h0M520.6 55.9h0M521.7 63.3h0M537.3 80.0h0M538.4 76.8h0M600.5 110.1h0M590.1 127.1h0M604.7 128.9h0M600.4 104.4h0M585.7 93.7h0M576.6 125.9h0M586.2 97.8h0M593.1 107.8h0M528.5 61.6h0M598.7 123.4h0M527.9 47.0h0M583.6 106.7h0M534.7 60.6h0M589.8 96.8h0M528.1 43.0h0M601.8 110.3h0M528.4 65.6h0M603.7 120.7h0M527.3 43.1h0M531.7 62.9h0M528.8 58.6h0M536.0 60.4h0M533.5 47.6h0M593.6 103.9h0M538.3 66.7h0M601.4 98.2h0M588.2 131.0h0M526.2 63.9h0M589.2 149.1h0M578.0 109.9h0M591.1 101.4h0M539.3 67.8h0M576.6 107.5h0M594.9 99.4h0M533.5 45.0h0M533.7 142.5h0M523.9 64.8h0M599.5 111.7h0M594.5 95.9h0M537.5 47.2h0M522.7 55.3h0M532.3 47.9h0M586.5 101.1h0M595.5 97.6h0M532.4 42.3h0M531.6 50.7h0M529.5 66.0h0M582.4 144.5h0M589.4 106.6h0M604.9 103.7h0M593.0 101.7h0M537.0 52.7h0M583.7 124.0h0M601.0 104.0h0M578.9 127.3h0M583.3 116.2h0M577.5 113.4h0M538.4 58.7h0M602.5 132.3h0M527.9 47.0h0M597.8 100.8h0M600.8 120.2h0M594.9 107.4h0M606.1 120.5h0M588.8 94.5h0M589.9 107.4h0M580.9 97.7h0M535.6 50.0h0M604.4 99.8h0M525.4 63.8h0M583.9 113.9h0M600.5 115.0h0M590.8 149.8h0M589.5 131.9h0M531.8 54.0h0M537.5 45.6h0M528.3 71.0h0M608.1 145.1h0M590.0 116.0h0M588.6 114.8h0M580.9 97.7h0M523.2 52.0h0M604.0 105.3h0M535.4 45.3h0M533.0 53.0h0M539.5 72.2h0M522.9 61.0h0M602.4 118.4h0M588.1 126.5h0M602.1 95.4h0M585.4 119.2h0M599.7 96.5h0M535.5 54.8h0M598.7 114.9h0M598.8 153.6h0M586.7 101.8h0M598.9 133.8h0M593.5 120.0h0M597.9 114.2h0M586.1 119.8h0M581.6 105.5h0M533.3 71.5h0M605.4 107.9h0M596.3 104.5h0M585.5 105.2h0M604.4 111.3h0M602.6 103.7h0M602.8 125.2h0M541.0 58.7h0M535.3 55.1h0M588.1 152.8h0M590.0 112.2h0M576.7 131.0h0M601.6 110.4h0M523.7 57.7h0M524.8 48.9h0M532.8 53.3h0M582.3 105.6h0M586.6 123.9h0M576.3 132.7h0M604.6 112.4h0M598.0 138.0h0M596.0 121.0h0M606.0 114.6h0M540.4 55.5h0M532.6 47.8h0M592.4 141.8h0M532.8 47.4h0M585.6 111.5h0M576.8 125.6h0M602.4 108.2h0M534.6 142.7h0M592.3 114.1h0M580.7 106.9h0M586.7 98.4h0M536.4 44.2h0M607.7 105.5h0M529.2 64.1h0M533.9 58.8h0M608.5 124.4h0M529.1 70.3h0M525.1 63.5h0M600.3 119.5h0M605.3 120.7h0M592.9 136.8h0M606.0 109.1h0M601.2 116.8h0M591.5 101.3h0M532.2 74.6h0M591.8 132.2h0M530.4 50.6h0M599.7 101.2h0M529.9 66.5h0M525.4 68.6h0M597.0 101.7h0M578.1 121.2h0M596.8 119.9h0M600.0 110.5h0M600.6 126.1h0M536.4 60.7h0M536.8 49.3h0M589.5 111.6h0M527.9 59.2h0M536.7 46.4h0M593.3 97.6h0M593.9 113.0h0M529.3 63.4h0M538.1 52.9h0M606.1 123.5h0M607.5 111.7h0M589.2 112.0h0M535.0 52.4h0M600.6 126.8h0M529.4 73.6h0M525.6 57.3h0M606.6 128.9h0M586.1 101.5h0M604.3 134.6h0M586.5 120.2h0M533.1 58.8h0M522.3 58.6h0M530.6 43.8h0M541.4 60.6h0M607.0 104.0h0M600.1 109.8h0M580.3 100.9h0M536.5 45.0h0M600.0 126.2h0M524.1 49.1h0M537.1 52.3h0M529.6 57.5h0M586.6 109.0h0M602.4 133.1h0M527.7 56.6h0M577.5 116.0h0M586.2 110.4h0M534.9 53.8h0M523.8 64.8h0M534.3 47.4h0M600.9 127.5h0M576.9 109.9h0M601.4 114.7h0M532.0 55.5h0M536.2 142.7h0M538.5 60.6h0M597.7 98.2h0M577.3 108.9h0M519.4 57.8h0M592.0 100.5h0M602.9 118.3h0M528.1 44.3h0M596.7 105.7h0M530.6 57.1h0M586.7 121.7h0M538.9 52.0h0M604.3 100.8h0M591.9 106.0h0M581.8 102.9h0M535.8 61.1h0M521.6 49.7h0M524.8 56.9h0M608.7 118.6h0M588.5 133.9h0M582.0 102.9h0M593.8 118.6h0M534.7 57.6h0M534.3 65.1h0M584.0 98.0h0M532.2 59.8h0M527.8 46.5h0M603.9 100.0h0M582.0 101.4h0M580.0 113.0h0M521.8 66.8h0M598.8 110.2h0M531.8 48.3h0M589.8 125.4h0M524.2 48.7h0M524.8 65.1h0M525.9 43.9h0M541.4 70.7h0M590.3 106.5h0M581.4 105.2h0M600.3 100.7h0M584.7 117.1h0M591.7 97.7h0M597.5 109.3h0M589.9 123.6h0M591.7 127.2h0M582.9 134.4h0M532.5 68.5h0M589.4 123.1h0M583.7 112.2h0M597.2 99.3h0M594.6 97.4h0M585.8 100.8h0M600.2 121.3h0M603.2 123.3h0M523.9 65.7h0M589.8 106.9h0M534.5 61.6h0M582.7 125.6h0M603.0 140.2h0M524.2 64.9h0M583.1 111.9h0M588.8 153.7h0M577.1 133.3h0M580.2 123.2h0M594.8 97.7h0M530.0 59.5h0M597.7 125.3h0M596.7 133.5h0M530.1 62.5h0M582.4 108.8h0M607.0 126.1h0M530.0 47.6h0M601.8 119.4h0M581.7 115.7h0M603.4 123.4h0M520.2 58.0h0M601.6 96.7h0M576.6 121.5h0M591.8 148.5h0M590.6 108.6h0M591.9 114.0h0M601.9 100.7h0M589.4 110.0h0M597.6 103.9h0M578.2 123.0h0M587.1 95.9h0M582.3 99.8h0M608.7 112.4h0M605.3 111.5h0M592.4 122.7h0M526.8 66.3h0M592.8 104.6h0M594.0 114.0h0M580.6 109.1h0M540.2 55.4h0M608.1 137.3h0M600.7 145.3h0M603.1 122.2h0M519.3 54.5h0M579.9 107.1h0M537.4 64.2h0M529.1 58.9h0M539.6 69.4h0M587.4 134.7h0M601.8 125.5h0M600.2 110.2h0M577.2 114.2h0M597.2 93.4h0M594.5 99.6h0M578.2 113.5h0M579.4 102.7h0M533.9 55.5h0M531.2 53.0h0M530.3 42.9h0M600.7 140.8h0M605.8 118.3h0M577.9 107.6h0M525.7 71.7h0M592.3 103.4h0M598.0 108.9h0M592.1 103.3h0M532.2 68.0h0M535.4 72.0h0M604.1 127.4h0M577.6 121.2h0M598.9 127.3h0M539.8 74.0h0M595.3 124.8h0M532.4 44.2h0M522.1 50.6h0M577.0 132.0h0M581.1 102.8h0M538.1 56.6h0M537.6 47.1h0M537.0 44.7h0M579.9 115.7h0M599.3 96.9h0M523.3 49.8h0M585.0 105.8h0M528.0 60.0h0M529.2 55.4h0M523.0 59.7h0M527.9 62.8h0M596.2 104.4h0M536.1 49.1h0M532.2 50.1h0M594.7 97.0h0M534.5 53.8h0M582.7 121.5h0M525.6 56.2h0M534.4 56.8h0M597.3 118.2h0M598.5 157.6h0M582.4 127.5h0M603.2 130.5h0M589.7 151.5h0M539.0 49.6h0M540.6 52.9h0M582.2 102.2h0M603.8 128.0h0M592.4 137.9h0M535.6 53.7h0M529.9 55.9h0M601.6 98.5h0M587.4 121.0h0M587.3 115.7h0M577.6 119.5h0M595.3 101.3h0M531.3 50.6h0M580.5 105.5h0M538.8 59.7h0M538.5 52.6h0M605.9 118.9h0M596.7 116.2h0M601.2 140.9h0M540.6 62.6h0M588.4 136.1h0M528.3 62.5h0M585.3 116.9h0M586.3 123.3h0M538.8 68.0h0M594.5 108.5h0M604.3 103.1h0M604.6 102.4h0M526.8 48.1h0M596.4 120.2h0M537.8 69.8h0M536.8 47.9h0M532.0 55.1h0M535.7 66.6h0M587.1 106.0h0M590.4 96.3h0M583.2 112.0h0M528.9 61.5h0M598.6 105.6h0M536.0 51.6h0M601.0 121.0h0M606.4 118.3h0M540.1 51.9h0M595.9 121.9h0M592.1 116.9h0M537.8 66.4h0M597.0 102.2h0M585.1 133.3h0M592.9 128.4h0M609.1 126.3h0M529.2 73.3h0M580.7 103.9h0M588.3 108.9h0M523.8 69.2h0M538.8 62.4h0M581.9 99.0h0M578.7 118.6h0M532.2 53.9h0M533.6 59.3h0M590.1 117.2h0M603.9 118.0h0M590.7 108.6h0M575.8 134.4h0M540.1 60.3h0M531.2 142.7h0M577.8 146.4h0M531.9 58.1h0M587.8 143.4h0M599.4 119.2h0M605.6 110.1h0M592.3 95.1h0M588.8 110.2h0M593.5 121.2h0M541.1 58.7h0M584.2 105.9h0M532.5 63.6h0M576.7 109.6h0M579.4 100.0h0M538.3 57.5h0M537.8 52.0h0M605.1 101.4h0M587.2 114.5h0M593.5 125.6h0M579.4 123.2h0M535.5 49.3h0M521.3 56.9h0M586.0 102.2h0M527.0 55.2h0M601.8 108.3h0M531.9 55.8h0M592.1 102.4h0M530.7 56.9h0M523.5 51.2h0M540.4 63.6h0M589.7 105.3h0M593.1 115.0h0M608.7 117.2h0M601.1 121.4h0M538.7 72.7h0M587.6 132.2h0M600.0 138.7h0M530.1 50.9h0M592.2 105.9h0M593.2 122.7h0M590.0 118.9h0M603.2 118.4h0M538.4 56.2h0M597.2 101.6h0M528.5 56.7h0M532.9 68.3h0M520.2 53.4h0M527.0 75.0h0M588.1 126.5h0M532.7 49.2h0M598.8 155.6h0M601.0 119.9h0M595.7 104.1h0M589.3 97.8h0M582.2 120.0h0M587.3 115.6h0M527.4 45.8h0M592.9 107.1h0M590.1 108.8h0M524.6 47.3h0M583.1 136.1h0M601.8 117.2h0M601.9 103.0h0M591.9 109.1h0M589.8 111.9h0M539.7 68.9h0M535.6 66.4h0M590.9 111.9h0M602.5 102.1h0M595.1 130.8h0M533.5 60.4h0M581.2 134.5h0M589.2 126.9h0M536.3 63.7h0M522.7 48.2h0M523.0 56.4h0M538.1 59.7h0M524.5 55.4h0M590.5 129.1h0M587.0 97.1h0M524.1 47.8h0M523.2 47.7h0M597.5 109.0h0M580.0 107.8h0M584.8 99.7h0M600.8 113.1h0M606.2 121.7h0M588.5 100.1h0M577.3 125.0h0M591.5 123.8h0M595.4 96.3h0M586.0 149.2h0M522.3 64.2h0M519.3 59.2h0M588.9 118.6h0M596.6 120.2h0M529.5 45.4h0M598.6 119.0h0M523.5 53.9h0M529.9 63.9h0M594.4 132.8h0M605.6 126.9h0M597.7 109.6h0M525.4 45.5h0M579.4 123.6h0M587.7 117.8h0M538.1 50.1h0M600.6 124.2h0M596.7 96.6h0M582.1 98.8h0M579.5 110.9h0M601.7 106.4h0M590.7 145.4h0M524.1 62.0h0M606.4 104.8h0M527.0 48.0h0M521.2 50.8h0M602.1 109.9h0M538.1 67.9h0M603.9 142.5h0M536.9 55.1h0M600.4 110.0h0M598.8 131.8h0M588.9 93.7h0M584.6 100.9h0M581.8 104.5h0M577.8 108.7h0M595.7 110.2h0M602.2 96.0h0M529.7 75.7h0M588.3 94.1h0M601.7 140.7h0M521.1 57.0h0M578.5 106.8h0M603.2 128.1h0M596.9 157.8h0M525.5 67.7h0M583.2 109.4h0M598.6 109.4h0M526.0 57.8h0M600.2 109.2h0M592.8 147.1h0M604.4 99.7h0M530.5 42.7h0M585.1 101.7h0M537.7 48.6h0M596.4 121.5h0M539.0 65.8h0M600.0 107.6h0M521.6 65.2h0M534.0 60.2h0M530.3 59.7h0M598.4 132.4h0M603.3 116.1h0M603.7 109.8h0M606.6 113.8h0M575.8 125.2h0M538.1 69.6h0M588.3 116.3h0M528.7 54.7h0M604.6 147.9h0M598.7 103.8h0M596.1 144.1h0M587.8 131.9h0M587.5 107.3h0M592.0 98.7h0M532.3 62.6h0M528.6 61.8h0M522.1 49.1h0M538.0 59.1h0M584.4 111.9h0M534.7 57.0h0M585.2 99.1h0M581.7 121.1h0M603.0 97.1h0M536.6 66.1h0M599.7 94.7h0M528.7 50.8h0M541.1 56.0h0M538.4 49.7h0M581.5 133.2h0M604.1 138.0h0M525.7 57.9h0M602.9 110.8h0M585.7 105.4h0M588.1 104.3h0M535.2 48.1h0M600.3 107.8h0M592.2 97.0h0M608.6 115.1h0M602.9 110.9h0M539.4 70.2h0M524.3 49.0h0M576.0 128.2h0M540.6 78.1h0M523.2 55.5h0M597.7 97.2h0M535.2 63.1h0M539.2 55.3h0M529.6 64.5h0M537.1 58.1h0M580.2 99.7h0M535.0 76.4h0M521.2 61.9h0M599.4 115.7h0M607.1 103.4h0M600.5 122.2h0M535.0 68.1h0M534.3 56.8h0M589.0 105.8h0M537.5 54.9h0M536.2 69.7h0M586.8 97.0h0M533.0 54.5h0M541.4 60.9h0M576.0 116.4h0M599.1 108.1h0M589.7 124.4h0M597.6 129.2h0M533.6 59.4h0M596.8 110.6h0M581.7 117.6h0M579.7 112.0h0M598.6 127.6h0M536.1 58.3h0M528.5 63.2h0M539.5 67.8h0M585.0 94.8h0M534.8 47.1h0M581.4 112.7h0M598.6 103.9h0M588.7 103.1h0M532.0 48.6h0M527.2 65.1h0M598.0 104.5h0M580.7 133.2h0M532.2 57.7h0M533.4 47.0h0M576.6 105.9h0M591.2 108.2h0M527.4 57.2h0M530.1 47.0h0M585.4 116.5h0M579.0 109.8h0M595.0 97.6h0M591.8 103.5h0M597.2 126.2h0M535.5 57.1h0M604.1 98.0h0M588.3 107.0h0M605.7 117.6h0M594.8 129.6h0M579.9 114.8h0M532.6 46.1h0M600.5 109.2h0M519.5 54.7h0M536.6 48.7h0M531.5 59.4h0M536.9 53.2h0M537.2 45.0h0M600.8 119.6h0M576.0 125.4h0M606.3 151.1h0M593.5 126.4h0M525.0 66.2h0M584.6 100.0h0M597.0 145.4h0M604.3 117.2h0M534.7 58.7h0M590.4 95.3h0M595.0 119.7h0M533.8 45.0h0M604.5 131.3h0M524.8 46.2h0M602.3 108.2h0M583.1 122.4h0M526.4 60.9h0M525.4 49.2h0M536.3 64.1h0M529.4 56.9h0M523.1 59.2h0M535.2 52.8h0M539.3 64.3h0M531.1 60.1h0M537.7 71.9h0M585.8 113.5h0M531.4 80.0h0M592.1 139.8h0M596.2 98.8h0M527.2 45.8h0M536.9 62.9h0M535.6 64.0h0M587.8 100.4h0M586.1 125.7h0M539.1 69.6h0M590.6 118.2h0M522.4 66.3h0M603.3 124.7h0M538.6 63.0h0M531.2 44.0h0M588.9 105.3h0M537.1 57.5h0M538.9 68.8h0M577.5 110.4h0M586.3 124.5h0M600.8 99.1h0M594.5 118.0h0M538.8 54.1h0M596.3 125.8h0M599.7 138.6h0M589.7 98.9h0M539.9 62.0h0M532.8 60.8h0M607.0 104.6h0M575.3 128.2h0M531.8 65.6h0M579.0 103.4h0M581.0 103.9h0M539.5 50.2h0M590.7 94.3h0M587.6 95.0h0M607.2 109.7h0M535.7 53.5h0M604.7 103.2h0M590.0 117.4h0M593.5 110.7h0M593.0 108.0h0M580.1 109.7h0M594.0 118.4h0M597.8 120.4h0M523.0 65.1h0M588.2 117.2h0M586.4 105.7h0M585.4 107.4h0M580.7 128.9h0M578.8 109.6h0M594.8 109.6h0M524.8 68.3h0M596.0 104.7h0M577.6 102.6h0M529.6 57.6h0M585.4 98.7h0M598.0 140.1h0M520.5 63.5h0M519.6 56.3h0M526.0 46.4h0M593.2 158.7h0M579.0 129.6h0M587.5 104.6h0M601.3 107.7h0M597.0 140.5h0M595.5 148.0h0M584.9 103.7h0M600.1 110.3h0M542.0 65.5h0M593.1 122.0h0M591.3 97.2h0M528.2 50.8h0M604.8 100.6h0M533.4 44.5h0M531.6 58.6h0M595.2 102.6h0M575.9 123.5h0M589.6 102.4h0M584.7 96.1h0M529.9 50.7h0M584.4 98.3h0M536.2 58.1h0M598.1 153.8h0M608.2 118.9h0M600.5 116.0h0M579.6 107.1h0M596.3 123.0h0M603.4 99.1h0M603.8 124.1h0M607.2 126.2h0M586.0 102.9h0M526.1 73.8h0M536.6 60.0h0M533.2 48.3h0M520.2 59.2h0M533.8 54.6h0M579.1 100.3h0M593.0 126.5h0M605.0 106.2h0M536.8 57.5h0M601.1 113.0h0M599.4 125.7h0M528.2 46.1h0M592.6 145.3h0M531.5 65.4h0M602.3 117.8h0M594.6 101.5h0M594.3 95.8h0M607.7 128.7h0M525.1 61.8h0M585.3 136.3h0M588.9 105.3h0M579.5 118.8h0M535.6 55.3h0M540.5 69.4h0M586.8 136.6h0M595.5 102.7h0M606.4 121.7h0M531.5 50.0h0M536.7 55.4h0M538.6 47.7h0M599.8 113.2h0M583.6 96.1h0M595.3 126.6h0M530.4 50.8h0M603.4 109.2h0M588.9 94.8h0M534.9 48.1h0M594.7 110.6h0M598.0 102.2h0M577.3 116.0h0M598.0 137.4h0M594.5 104.7h0M607.2 111.2h0M537.5 54.7h0M533.9 46.8h0M604.1 113.5h0M539.2 58.3h0M593.7 136.1h0M606.6 105.0h0M581.5 107.3h0M596.3 146.8h0M586.1 98.2h0M589.6 93.6h0M598.2 116.2h0M606.2 116.9h0M590.1 127.2h0M534.9 58.8h0M599.4 106.5h0M602.1 120.7h0M530.2 67.1h0M604.5 126.7h0M582.1 131.1h0M530.1 42.9h0M532.5 53.9h0M535.2 45.3h0M535.9 48.1h0M607.5 110.2h0M606.5 114.0h0M541.4 63.2h0M539.6 53.9h0M524.9 45.6h0M590.4 154.4h0M592.6 106.9h0M607.3 116.7h0M600.7 113.0h0M590.4 116.7h0M528.3 56.8h0M525.7 68.3h0M592.4 156.0h0M576.4 121.5h0M536.9 65.4h0M585.6 109.3h0M592.7 119.2h0M604.6 114.4h0M525.7 65.9h0M579.6 104.9h0M592.5 122.1h0M523.7 54.8h0M602.9 109.2h0M534.8 47.7h0M524.9 57.3h0M595.8 120.5h0M597.6 121.6h0M581.1 113.7h0M588.5 118.3h0M522.7 68.1h0M597.1 110.8h0M595.0 117.9h0M526.6 52.3h0M536.8 50.1h0M528.2 57.4h0M523.2 49.1h0M596.8 97.3h0M585.5 129.8h0M603.5 125.0h0M582.5 103.2h0M531.3 57.6h0M600.1 99.8h0M536.6 59.9h0M529.4 50.4h0M583.8 106.1h0M593.9 98.5h0M606.9 124.1h0M593.6 138.3h0M523.6 51.0h0M529.1 140.7h0M584.6 98.8h0M601.5 108.6h0M588.9 106.2h0M536.5 56.6h0M526.1 67.9h0M585.0 100.5h0M575.5 131.4h0M530.2 56.0h0M599.5 104.6h0M520.4 58.2h0M593.1 127.1h0M533.9 53.7h0M533.6 48.8h0M598.7 121.9h0M533.3 55.5h0M581.3 144.4h0M580.2 131.2h0M532.4 43.8h0M596.4 110.9h0M535.6 142.1h0M588.8 115.1h0M596.0 104.2h0M581.9 136.2h0M521.6 54.1h0M590.3 118.1h0M600.8 127.3h0M523.1 50.9h0M585.6 128.0h0M605.8 123.5h0M530.8 41.9h0M599.4 101.8h0M602.2 111.3h0M603.2 110.5h0M603.0 103.0h0M585.2 121.1h0M579.7 107.4h0M602.8 100.1h0M524.6 70.7h0M530.5 51.3h0M537.0 54.3h0M581.4 101.2h0M527.7 58.3h0M607.3 109.0h0M596.1 120.3h0M587.6 116.7h0M607.1 107.4h0M604.9 100.1h0M531.5 51.1h0M603.8 116.6h0M538.0 50.2h0M523.5 56.0h0M593.3 121.2h0M591.1 106.9h0M535.2 65.6h0M530.8 60.6h0M524.1 48.8h0M523.2 58.9h0M523.8 49.1h0M598.6 108.9h0M526.4 54.9h0M527.2 64.2h0M579.2 116.7h0M526.2 59.6h0M602.7 98.9h0M578.2 121.7h0M604.1 99.5h0M521.1 54.7h0M534.3 47.3h0M590.3 94.3h0M582.1 99.6h0M604.5 110.9h0M589.9 118.0h0M600.7 116.6h0M588.0 95.7h0M578.1 120.5h0M579.0 101.3h0M600.5 101.0h0M533.7 73.1h0M591.1 120.2h0M580.0 115.3h0M525.3 142.7h0M530.8 74.5h0M531.1 51.0h0M583.8 113.0h0M593.7 116.3h0M585.4 108.8h0M579.4 122.3h0M527.7 54.7h0M524.0 67.5h0M592.6 95.3h0M538.5 48.1h0M586.1 95.7h0M578.9 115.7h0M603.8 108.9h0M606.9 115.2h0M519.8 60.7h0M596.2 136.4h0M598.7 127.5h0M604.3 102.6h0M532.4 55.6h0M596.1 157.7h0M529.1 61.8h0M597.9 118.0h0M605.3 115.7h0M524.2 67.9h0M536.3 56.4h0M528.9 45.2h0M520.1 55.4h0M528.3 61.1h0M586.0 108.2h0M531.8 46.3h0M534.1 59.1h0M521.2 52.2h0M593.1 115.9h0M594.9 118.5h0M533.4 63.7h0M535.4 76.2h0M604.5 134.8h0M606.5 130.4h0M594.2 103.4h0M591.0 149.7h0M590.4 109.9h0M595.1 101.7h0M586.4 127.1h0M608.8 124.9h0M577.2 127.5h0M524.1 68.0h0M521.0 51.6h0M530.1 66.5h0M603.1 117.4h0M595.3 95.9h0M530.7 52.4h0M587.1 102.6h0M580.3 113.6h0M606.6 110.8h0M538.2 47.9h0M536.3 53.9h0M529.6 44.9h0M526.7 63.2h0M584.6 98.9h0M596.0 134.1h0M587.7 116.0h0M593.1 127.3h0M590.9 111.0h0M598.7 120.1h0M581.2 109.5h0M597.6 112.5h0M590.6 130.3h0M524.6 49.7h0M596.3 137.9h0M583.3 152.9h0M595.2 103.1h0M581.1 101.4h0M585.5 100.1h0M527.3 144.2h0M587.1 97.3h0M578.9 125.7h0M534.9 50.7h0M519.8 57.9h0M541.7 68.1h0M577.2 110.0h0M592.5 150.7h0M524.9 46.6h0M597.4 136.9h0M592.6 119.8h0M587.8 125.0h0M579.7 132.8h0M533.3 46.3h0M588.5 118.6h0M599.1 96.6h0M581.6 102.8h0M579.1 113.7h0M579.2 116.2h0M592.8 109.5h0M526.2 47.1h0M595.6 105.1h0M592.8 158.3h0M533.7 62.2h0M587.8 108.5h0M590.7 120.4h0M535.4 64.6h0M586.0 141.1h0M591.8 144.1h0M594.2 122.4h0M533.0 42.9h0M591.9 106.9h0M526.2 65.5h0M576.6 106.1h0M520.8 53.0h0M581.8 106.8h0M605.0 108.4h0M523.0 59.9h0M583.4 121.0h0M594.5 150.3h0M535.9 45.3h0M527.5 48.8h0M589.3 110.6h0M589.4 96.0h0M583.2 148.9h0M599.2 111.2h0M601.9 95.5h0M531.8 43.3h0M530.1 64.1h0M603.0 131.0h0M599.5 130.3h0M607.2 140.8h0M597.0 98.4h0M586.2 104.3h0M597.1 128.7h0M586.8 99.5h0M598.3 93.9h0M536.7 78.2h0M586.2 120.7h0M527.8 71.8h0M534.9 68.6h0M581.2 141.7h0M533.6 42.4h0M577.3 128.2h0M583.5 127.2h0M592.4 101.4h0M533.7 52.4h0M593.4 99.8h0M537.2 61.6h0M529.6 67.4h0M594.4 147.5h0M528.6 68.1h0M522.6 65.6h0M605.9 130.4h0M594.5 112.3h0M596.8 131.4h0M587.9 135.4h0M532.8 50.1h0M581.9 116.0h0M605.2 100.0h0M586.3 97.3h0M532.0 53.5h0M539.4 55.7h0M535.1 60.7h0M519.3 60.3h0M593.6 146.0h0M539.5 67.9h0M533.2 57.4h0M591.5 98.7h0M521.5 61.6h0M580.1 110.1h0M603.7 116.7h0M578.6 107.2h0M591.7 111.7h0M583.9 133.9h0M594.9 141.3h0M608.8 119.3h0M583.4 102.9h0M583.6 110.7h0M589.2 113.4h0M593.0 118.2h0M608.0 135.6h0M585.5 112.8h0M588.2 106.5h0M588.6 96.4h0M588.3 123.2h0M607.5 109.1h0M596.1 127.1h0M587.7 153.0h0M533.1 47.4h0M538.1 55.7h0M603.0 110.6h0M598.4 120.6h0M607.1 130.0h0M533.8 48.9h0M529.7 71.8h0M526.8 72.0h0M537.4 54.0h0M537.2 66.1h0M535.2 57.5h0M539.1 65.1h0M588.5 95.0h0M601.1 120.4h0M584.2 120.8h0M590.1 110.5h0M580.4 102.7h0M521.2 60.3h0M605.9 102.1h0M586.4 93.6h0M539.4 65.9h0M587.2 119.7h0M579.7 116.5h0M601.6 117.4h0M589.1 145.7h0M537.9 65.3h0M536.0 70.5h0M596.1 120.4h0M522.0 49.2h0M596.0 154.7h0M523.9 54.1h0M588.2 101.0h0M583.0 125.8h0M580.4 115.2h0M592.0 95.9h0M584.9 103.5h0M523.1 58.2h0M529.6 57.1h0M584.4 121.3h0M588.2 110.6h0M540.7 57.8h0M535.9 45.4h0M582.1 118.3h0M598.3 124.7h0M596.7 134.9h0M523.9 67.5h0M532.0 63.2h0M523.2 49.6h0M537.2 44.8h0M590.2 124.9h0M531.7 41.6h0M602.1 95.8h0M577.3 129.4h0M599.8 130.1h0M541.7 59.6h0M582.4 95.0h0M538.6 56.3h0M591.4 137.4h0M539.8 56.0h0M523.8 50.2h0M589.6 103.9h0M589.9 124.6h0M587.9 112.8h0M588.1 114.5h0M582.3 109.5h0M584.2 137.7h0M522.2 48.4h0M580.8 98.3h0M603.2 111.0h0M538.0 67.2h0M606.9 110.1h0M590.3 106.7h0M576.6 108.2h0M605.3 126.9h0M593.0 103.2h0M597.0 105.1h0M602.2 108.0h0M524.8 54.9h0M588.2 117.6h0M605.5 117.5h0M590.7 126.3h0M589.3 127.9h0M576.5 120.4h0M539.9 62.2h0M599.6 112.1h0M605.1 134.0h0M528.1 58.3h0M596.3 119.8h0M535.1 50.5h0M595.3 150.1h0M603.3 123.0h0M533.0 46.9h0M599.7 123.9h0M581.6 106.6h0M607.8 131.0h0M586.7 127.7h0M578.6 127.4h0M604.5 125.0h0M526.8 57.7h0M536.6 66.3h0M539.0 65.3h0M589.1 150.5h0M528.1 43.5h0M532.2 43.2h0M599.0 120.2h0M591.4 102.0h0M592.5 155.8h0M596.5 145.8h0M585.1 114.5h0M590.7 120.8h0M601.8 121.0h0M531.3 46.3h0M592.4 108.5h0M577.4 102.6h0M589.4 134.2h0M600.1 153.7h0M528.2 55.5h0M520.9 65.2h0M530.9 61.6h0M587.5 110.2h0M602.3 95.8h0M580.3 122.5h0M535.1 60.5h0M585.5 96.0h0M539.5 49.1h0M598.5 118.4h0M583.2 96.7h0M581.4 111.4h0M537.1 48.9h0M582.2 104.4h0M593.6 120.4h0M607.1 145.7h0M522.3 52.9h0M534.9 60.3h0M601.0 108.1h0M586.3 125.4h0M536.2 52.2h0M529.8 59.1h0M604.9 121.6h0M590.7 98.7h0M593.6 96.7h0M578.0 117.3h0M530.5 80.1h0M530.4 44.5h0M535.9 54.7h0M527.7 70.6h0M602.2 123.0h0M607.0 104.6h0M532.7 77.7h0M603.8 125.4h0M592.3 137.2h0M595.6 122.9h0M595.4 114.9h0M536.9 60.8h0M534.0 50.6h0M533.4 45.9h0M535.1 57.3h0M538.7 54.0h0M595.5 126.7h0M606.0 112.0h0M533.0 47.5h0M598.6 120.7h0M592.6 99.9h0M536.6 49.9h0M522.3 50.0h0M578.1 122.2h0M534.8 64.7h0M587.5 121.5h0M526.0 57.6h0M589.2 111.2h0M592.7 147.5h0M536.2 61.4h0M529.0 43.3h0M525.8 63.5h0M532.4 46.4h0M532.8 42.5h0M526.4 65.4h0M592.1 115.5h0M575.8 132.7h0M607.7 105.8h0M578.3 118.5h0M539.3 61.0h0M576.3 118.4h0M606.6 130.7h0M596.4 99.9h0M532.3 62.1h0M586.9 121.1h0M533.8 60.0h0M594.9 103.7h0M605.5 106.4h0M529.1 57.6h0M589.7 97.7h0M591.7 96.7h0M594.0 113.6h0M594.1 157.1h0M590.1 156.4h0M602.6 120.5h0M536.2 46.4h0M527.1 140.9h0M575.8 127.3h0M522.2 56.0h0M592.2 117.7h0M590.3 105.4h0M583.8 107.6h0M603.9 113.4h0M596.2 133.6h0M590.6 119.6h0M591.2 105.3h0M589.3 124.6h0M534.8 44.4h0M586.6 110.8h0M595.3 116.5h0M592.4 131.5h0M580.1 155.6h0M607.4 122.1h0M584.4 116.8h0M533.2 64.5h0M597.1 106.5h0M599.2 94.9h0M537.0 53.7h0M579.2 138.6h0M523.6 56.5h0M598.9 129.6h0M577.3 114.4h0M521.6 51.3h0M596.8 106.5h0M603.5 125.2h0M578.8 125.9h0M534.6 70.4h0M593.4 107.0h0M593.9 116.6h0M528.4 47.8h0M534.9 63.1h0M600.7 122.3h0M585.4 109.3h0M605.8 100.4h0M602.9 108.5h0M541.9 69.3h0M528.3 71.0h0M585.2 98.9h0M523.9 47.7h0M519.7 61.4h0M606.7 118.7h0M600.1 96.9h0M519.6 57.6h0M594.3 107.3h0M599.2 109.1h0M581.8 122.4h0M591.8 96.2h0M531.0 63.0h0M582.4 142.8h0M580.8 107.5h0M601.0 127.7h0M522.1 65.0h0M534.6 68.3h0M541.6 75.5h0M524.5 67.5h0M533.9 56.0h0M595.3 103.1h0M525.4 57.0h0M577.6 150.3h0M591.9 125.0h0M540.3 68.2h0M585.4 115.7h0M604.8 122.4h0M590.2 125.3h0M585.7 133.1h0M538.1 53.0h0M535.5 45.0h0M603.4 104.4h0M606.4 103.9h0M602.5 115.9h0M524.4 69.1h0M541.7 63.7h0M585.7 119.0h0M523.7 51.5h0M535.5 66.9h0M591.6 146.6h0M582.2 103.8h0M590.0 115.1h0M592.5 101.8h0M601.2 127.7h0M596.7 103.0h0M579.8 102.6h0M526.7 55.5h0M522.4 55.4h0M527.0 49.0h0M605.3 109.7h0M595.9 93.7h0M597.9 110.0h0M588.9 142.0h0M576.9 123.0h0M580.5 99.8h0M580.9 115.2h0M597.6 98.0h0M583.8 96.5h0M520.3 52.5h0M585.4 111.7h0M581.8 112.7h0M592.2 123.9h0M605.8 119.3h0M529.6 50.1h0M530.6 60.5h0M597.6 110.2h0M582.1 100.0h0M590.5 138.5h0M594.7 108.5h0M531.6 66.3h0M601.9 118.7h0M599.4 125.9h0M600.3 125.3h0M604.8 109.1h0M537.5 52.8h0M531.2 70.7h0M532.4 142.5h0M522.4 49.8h0M580.0 99.9h0M531.0 63.0h0M531.9 61.8h0M537.6 61.8h0M540.0 51.5h0M579.1 118.9h0M530.9 61.0h0M538.3 51.2h0M532.7 58.4h0M592.0 100.2h0M537.8 72.6h0M533.9 82.4h0M606.7 125.6h0M525.9 54.9h0M576.1 123.2h0M593.9 153.2h0M584.5 111.2h0M528.7 68.1h0M592.2 103.5h0M585.2 97.4h0M521.3 53.0h0M576.0 116.7h0M607.8 109.3h0M580.2 103.8h0M536.5 54.7h0M578.7 111.7h0M591.5 134.8h0M604.8 139.9h0M587.6 127.7h0M601.1 104.6h0M606.7 105.5h0M587.4 118.7h0M539.4 66.9h0M595.1 104.0h0M587.4 96.7h0M522.7 66.6h0M534.2 53.4h0M538.8 61.3h0M598.3 116.5h0M591.3 112.8h0M533.4 42.2h0M523.4 54.7h0M534.8 59.0h0M586.9 105.6h0M585.8 116.4h0M602.7 100.2h0M527.4 56.3h0M523.8 55.0h0M604.7 121.1h0M529.3 42.6h0M607.5 113.0h0M602.0 129.6h0M534.2 46.6h0M606.8 130.2h0M590.5 104.3h0M600.7 136.5h0M577.1 113.4h0M590.1 132.1h0M582.2 121.3h0M522.3 66.0h0M531.9 51.2h0M539.2 64.0h0M600.9 112.0h0M521.3 62.9h0M534.4 60.8h0M521.0 59.6h0M604.1 109.7h0M592.1 98.8h0M576.2 133.3h0M535.8 48.5h0M595.4 114.2h0M533.8 63.7h0M600.9 107.5h0M582.0 113.1h0M536.1 48.9h0M539.7 61.1h0M606.6 110.6h0M606.8 105.1h0M579.0 103.7h0M608.8 135.8h0M530.1 64.1h0M605.7 121.2h0M600.5 134.4h0M578.8 104.8h0M596.7 104.0h0M607.6 109.6h0M530.9 46.8h0M527.0 50.9h0M536.3 54.9h0M536.6 61.9h0M522.3 48.5h0M594.7 117.2h0M605.1 101.4h0M598.4 118.6h0M595.9 125.1h0M598.0 96.1h0M527.9 61.8h0M530.4 63.6h0M605.0 105.1h0M593.5 120.6h0M521.8 64.4h0M531.7 53.9h0M590.0 130.1h0M527.9 61.9h0M536.1 67.9h0M591.9 111.3h0M530.4 54.1h0M520.8 56.9h0M589.7 96.5h0M592.3 102.0h0M526.8 45.4h0M591.1 146.7h0M590.2 116.5h0M598.1 125.0h0M525.4 47.2h0M583.8 102.9h0M602.9 99.5h0M520.6 55.6h0M584.3 114.8h0M579.3 119.0h0M538.3 68.3h0M583.4 97.1h0M586.1 114.1h0M576.1 127.8h0M526.8 60.2h0M607.8 109.7h0M582.6 98.3h0M588.5 95.0h0M576.6 108.1h0M583.1 110.1h0M582.9 95.3h0M528.6 52.4h0M532.5 68.4h0M599.6 95.1h0M582.3 147.0h0M603.1 150.6h0M523.9 55.5h0M531.2 54.5h0M528.9 55.1h0M576.5 110.6h0M585.5 114.4h0M589.1 102.3h0M598.9 115.6h0M537.1 46.9h0M540.4 52.9h0M582.1 120.1h0M603.6 110.5h0M520.6 62.4h0M541.4 60.4h0M540.9 60.3h0M598.0 93.9h0M527.6 56.7h0M593.0 130.7h0M586.0 112.2h0M605.7 103.0h0M589.0 123.9h0M591.4 147.4h0M597.9 123.0h0M598.6 127.5h0M526.6 45.7h0M580.7 100.1h0M520.0 64.1h0M586.9 111.7h0M596.9 113.2h0M599.7 101.6h0M535.4 68.0h0M578.9 124.2h0M584.2 106.9h0M520.3 58.4h0M594.0 114.4h0M530.3 44.8h0M597.4 116.0h0M592.1 122.1h0M590.5 105.9h0M520.1 54.9h0M604.5 102.9h0M528.2 46.4h0M585.4 116.0h0M586.6 108.6h0M523.7 68.1h0M602.2 107.3h0M592.9 108.9h0M531.1 73.4h0M591.7 107.9h0M592.5 105.3h0M578.1 105.7h0M584.6 100.8h0M592.1 103.4h0M603.7 120.2h0M534.3 59.8h0M601.3 124.6h0M585.1 110.7h0M589.7 152.1h0M529.8 70.5h0M580.5 113.4h0M583.0 100.6h0M588.8 114.7h0M536.4 61.1h0M520.2 56.5h0M594.5 115.7h0M520.2 53.2h0M582.8 108.1h0M529.3 60.8h0M603.8 119.8h0M603.3 129.6h0M584.6 98.3h0M604.4 97.4h0M529.9 78.3h0M590.3 127.5h0M533.1 46.3h0M605.5 113.1h0M526.1 139.2h0M589.6 128.3h0M528.2 57.8h0M532.3 56.5h0M530.8 49.9h0M535.4 57.0h0M537.3 57.3h0M537.4 73.2h0M585.0 133.4h0M532.3 143.0h0M590.9 146.1h0M532.7 47.3h0M608.0 111.7h0M592.9 132.6h0M528.7 55.6h0M589.4 107.1h0M607.1 111.6h0M590.6 106.1h0M593.9 111.0h0M594.1 152.6h0M601.2 107.2h0M538.8 63.8h0M579.0 106.5h0M528.1 64.8h0M592.7 97.3h0M590.0 108.1h0M535.6 79.0h0M596.4 94.9h0M591.8 108.5h0M522.7 65.5h0M529.4 42.6h0M594.2 121.4h0M603.3 118.4h0M528.7 47.2h0M585.6 111.5h0M536.4 141.9h0M599.8 103.4h0M592.4 112.7h0M601.9 95.8h0M528.1 58.5h0M526.7 54.2h0M591.4 108.4h0M524.4 141.7h0M539.0 50.9h0M534.7 71.5h0M523.0 66.0h0M592.8 119.8h0M534.5 65.2h0M530.3 43.4h0M603.9 119.9h0M529.6 47.4h0M583.9 98.1h0M535.6 47.0h0M591.1 146.2h0M575.1 126.6h0M519.2 58.7h0M595.1 150.0h0M591.4 103.7h0M536.2 58.1h0M532.8 72.5h0M604.1 120.8h0M541.2 62.0h0M533.0 50.5h0M539.4 62.3h0M582.9 94.5h0M533.8 50.4h0M525.1 64.0h0M533.8 64.7h0M607.3 122.3h0M531.8 143.1h0M536.3 45.7h0M534.3 65.4h0M523.9 62.7h0M601.0 114.4h0M591.1 104.8h0M592.1 97.0h0M578.0 128.6h0M584.1 105.0h0M584.4 108.1h0M589.1 112.4h0M531.0 58.1h0M584.2 132.0h0M602.6 106.5h0M607.5 119.1h0M598.6 110.5h0M534.1 61.6h0M533.8 61.4h0M588.3 99.8h0M577.4 122.9h0M603.7 125.5h0M607.0 120.4h0M529.2 57.5h0M584.7 95.3h0M596.5 128.1h0M530.8 66.0h0M527.1 67.9h0M528.1 46.4h0M533.3 58.4h0M607.7 107.9h0M527.9 70.6h0M600.7 110.5h0M536.1 63.0h0M599.3 135.3h0M577.4 109.2h0M599.1 115.1h0M603.1 118.4h0M607.5 107.3h0M608.4 114.5h0M582.6 103.3h0M596.6 118.0h0M603.5 114.9h0M594.7 99.6h0M588.3 123.3h0M591.3 136.0h0M538.9 59.8h0M587.1 104.9h0M605.7 125.0h0M592.2 101.5h0M586.3 110.6h0M528.7 43.4h0M608.1 133.4h0M527.2 58.5h0M532.0 42.5h0M604.3 97.5h0M525.0 134.0h0M535.6 56.9h0M529.4 54.1h0M537.8 55.8h0M522.5 54.5h0M595.7 120.2h0M532.7 54.7h0M592.8 109.2h0M582.5 95.2h0M538.7 56.0h0M589.7 114.5h0M586.1 100.6h0M585.1 98.1h0M528.0 44.1h0M541.6 58.6h0M525.0 57.2h0M598.6 94.4h0M578.2 125.3h0M583.3 116.2h0M531.8 52.8h0M519.5 57.9h0M535.7 53.1h0M596.9 158.7h0M587.7 140.6h0M579.1 124.7h0M584.9 118.3h0M605.1 116.9h0M590.4 114.3h0M595.8 116.5h0M526.1 43.5h0M531.1 56.3h0M530.9 55.8h0M596.3 125.1h0M590.3 132.5h0M586.9 110.4h0M530.4 66.5h0M523.7 59.8h0M585.4 121.4h0M594.1 107.2h0M582.3 122.2h0M521.5 56.0h0M519.4 57.6h0M582.9 118.5h0M587.2 156.6h0M606.2 101.9h0M533.1 45.6h0M607.4 105.4h0M524.7 47.6h0M540.9 54.4h0M527.4 59.1h0M586.3 107.5h0M531.8 47.1h0M539.7 49.1h0M523.7 59.3h0M580.2 108.7h0M592.5 122.2h0M604.6 97.9h0M522.9 60.3h0M605.4 113.0h0M601.9 116.8h0M524.3 51.1h0M597.9 107.5h0M530.3 41.7h0M521.0 63.3h0M532.5 59.9h0M585.0 115.3h0M538.5 65.8h0M603.2 128.2h0M532.0 66.1h0M592.2 116.7h0M533.2 63.9h0M532.7 142.9h0M588.9 114.1h0M527.5 71.0h0M592.7 158.1h0M592.4 126.5h0M585.7 97.7h0M600.4 95.6h0M533.2 46.2h0M606.9 104.2h0M604.4 126.2h0M593.4 130.8h0M591.8 125.1h0M589.9 113.6h0M591.2 112.2h0M606.5 124.2h0M587.1 137.6h0M596.4 109.5h0M596.1 116.7h0M536.2 49.9h0M527.5 63.3h0M591.9 146.6h0M535.2 48.8h0M595.7 116.6h0M530.7 75.2h0M533.1 68.9h0M521.0 61.4h0M607.3 109.4h0M586.5 120.6h0M582.3 101.4h0M533.8 62.0h0M592.0 111.4h0M525.8 46.8h0M596.6 114.2h0M585.5 108.5h0M608.2 111.5h0M536.7 67.5h0M537.9 50.0h0M541.7 67.2h0M598.2 103.5h0M528.6 62.7h0M577.2 112.3h0M536.8 59.6h0M584.3 96.2h0M537.2 62.4h0M604.2 106.7h0M588.4 124.1h0M608.4 116.6h0M598.2 97.0h0M523.5 64.4h0M526.4 64.5h0M592.6 102.2h0M605.6 112.7h0M596.3 130.0h0M585.4 96.6h0M596.1 98.4h0M528.6 75.2h0M537.7 45.8h0M576.9 114.0h0M530.4 50.0h0M533.3 60.9h0M519.4 56.7h0M589.8 160.5h0M527.8 44.4h0M538.9 50.1h0M539.0 51.7h0M592.0 146.2h0M580.4 103.5h0M526.5 69.0h0M525.1 142.9h0M526.5 58.2h0M589.6 115.0h0M593.9 108.2h0M593.4 152.9h0M582.3 111.7h0M525.2 58.3h0M536.8 61.5h0M592.0 118.3h0M524.5 65.2h0M605.0 98.8h0M596.3 105.9h0M604.4 106.6h0M531.2 43.1h0M584.8 159.5h0M578.0 121.5h0M537.8 48.9h0M527.7 47.1h0M531.3 41.6h0M593.2 95.8h0M599.9 104.0h0M594.2 121.2h0M594.1 104.7h0M520.2 55.7h0M584.5 97.1h0M537.1 61.0h0M522.8 49.3h0M599.3 107.9h0M601.0 115.4h0M587.5 94.0h0M590.8 112.9h0M592.4 138.5h0M583.7 106.2h0M527.4 46.5h0M528.4 65.1h0M595.3 152.6h0M538.2 52.3h0M540.6 70.1h0M604.3 115.9h0M525.5 66.7h0M601.5 131.1h0M601.5 95.5h0M575.8 124.1h0M588.5 95.6h0M530.4 63.2h0M588.2 112.0h0M599.0 96.5h0M541.8 69.1h0M526.0 71.1h0M588.4 110.1h0M521.3 51.2h0M601.1 117.0h0M602.8 115.6h0M591.5 125.9h0M595.5 96.3h0M521.8 56.7h0M590.7 107.4h0M576.5 108.5h0M603.3 153.6h0M531.8 53.0h0M526.5 69.1h0M528.6 46.1h0M535.2 53.2h0M588.4 153.3h0M607.7 110.8h0M577.0 122.8h0M530.5 44.1h0M608.8 124.9h0M523.3 67.0h0M608.7 116.3h0M579.5 116.6h0M533.7 50.0h0M535.6 52.5h0M523.8 47.6h0M598.4 106.9h0M522.1 49.2h0M600.2 122.1h0M604.0 123.0h0M587.3 97.8h0M519.3 59.5h0M537.3 69.9h0M600.5 95.5h0M591.6 152.3h0M594.4 101.1h0M588.7 104.1h0M540.1 53.2h0M593.8 100.8h0M533.8 60.8h0M602.5 96.6h0M529.1 67.5h0M581.9 98.4h0M592.9 108.5h0M604.9 153.6h0M585.5 116.6h0M604.8 106.3h0M608.2 112.8h0M591.0 155.6h0M599.7 110.1h0M533.8 51.2h0M534.0 60.1h0M585.0 101.5h0M603.6 121.0h0M591.8 123.2h0M581.9 118.9h0M534.6 47.0h0M596.0 129.8h0M530.0 52.3h0M539.6 71.0h0M593.6 133.7h0M534.5 51.8h0M532.4 44.0h0M587.3 123.8h0M532.8 49.6h0M532.9 48.3h0M596.5 117.3h0M605.4 127.4h0M531.1 47.2h0M590.7 98.5h0M592.4 139.7h0M602.6 120.8h0M585.1 105.4h0M526.3 71.5h0M593.2 127.8h0M530.2 62.5h0M601.2 122.4h0M607.4 105.3h0M599.0 95.7h0M593.1 95.4h0M591.6 129.9h0M598.4 107.4h0M524.0 56.5h0M534.5 52.2h0M606.7 126.4h0M591.3 109.7h0M589.5 126.1h0M519.6 61.2h0M595.1 128.6h0M595.9 134.5h0M540.3 71.7h0M523.5 60.7h0M606.6 108.7h0M588.7 102.1h0M595.7 110.0h0M534.9 45.7h0M530.6 74.0h0M575.9 125.1h0M594.0 128.7h0M521.1 54.7h0M533.8 72.9h0M526.6 56.1h0M609.0 121.6h0M583.6 115.5h0M597.0 114.6h0M529.3 47.3h0M540.2 66.6h0M579.6 100.7h0M534.0 47.0h0M592.2 112.1h0M592.9 137.4h0M578.7 104.5h0M532.9 52.6h0M575.8 116.5h0M540.5 60.3h0M589.6 111.8h0M599.4 124.4h0M608.3 132.8h0M591.9 136.7h0M530.7 45.0h0M578.8 119.6h0M579.5 100.3h0M535.0 73.8h0M527.6 66.3h0M582.1 118.1h0M581.6 106.6h0M528.0 47.0h0M537.4 72.0h0M531.6 45.4h0M595.3 118.7h0M600.3 114.3h0M598.2 117.2h0M609.1 126.3h0M540.9 59.6h0M583.4 133.1h0M594.9 126.5h0M602.9 104.2h0M525.5 55.7h0M589.6 103.4h0M590.0 129.9h0M603.5 111.6h0M529.2 42.4h0M532.3 43.2h0M586.5 119.0h0M538.2 52.1h0M600.1 95.1h0M533.1 56.8h0M592.7 94.1h0M530.6 57.7h0M590.9 101.0h0M584.5 97.2h0M530.9 58.9h0M579.7 120.6h0M582.2 100.8h0M522.2 55.7h0M580.7 99.0h0M537.2 60.5h0M527.6 56.6h0M576.1 122.5h0M540.7 64.3h0M521.7 49.8h0M529.1 53.6h0M530.1 65.8h0M601.9 96.6h0M596.0 135.1h0M539.8 73.3h0M594.0 103.2h0M525.4 59.0h0M596.4 112.7h0M586.8 95.7h0M599.3 111.7h0M536.5 46.5h0M536.4 44.6h0M605.5 105.1h0M525.3 52.3h0M539.7 68.9h0M583.0 124.0h0M531.4 64.6h0M537.0 62.8h0M541.5 59.8h0M526.9 44.0h0M589.7 120.4h0M587.0 102.9h0M605.4 121.1h0M596.6 149.4h0M527.7 45.3h0M578.5 102.6h0M526.7 59.4h0M599.5 120.7h0M595.7 111.9h0M534.8 51.2h0M581.5 122.8h0M522.4 55.1h0M522.2 57.6h0M577.4 102.3h0M607.0 107.3h0M600.2 102.2h0M590.3 128.9h0M582.4 139.3h0M540.6 56.0h0M595.2 121.5h0M596.4 105.1h0M521.3 55.6h0M519.7 55.3h0M521.0 55.5h0M579.9 99.3h0M582.0 123.6h0M589.5 116.6h0M597.2 153.5h0M597.2 121.1h0M588.0 124.6h0M576.9 111.1h0M535.0 60.3h0M532.7 61.6h0M592.4 117.8h0M528.4 68.4h0M526.1 73.5h0M525.1 59.3h0M522.7 68.1h0M535.1 60.5h0M590.4 106.9h0M524.2 46.2h0M530.2 76.5h0M534.7 51.0h0M596.0 100.8h0M599.1 122.5h0M589.5 107.4h0M595.8 120.1h0M533.8 142.8h0M577.7 111.2h0M597.9 94.6h0M587.3 107.2h0M595.7 125.8h0M534.1 45.3h0M539.1 66.7h0M538.6 67.7h0M582.2 118.7h0M538.2 78.9h0M536.0 78.9h0M608.0 126.6h0M592.1 139.8h0M541.3 65.5h0M582.6 110.2h0M603.4 141.1h0M607.1 131.6h0M523.1 48.3h0M601.1 112.5h0M576.1 119.0h0M591.9 141.7h0M598.5 138.3h0M604.9 125.3h0M524.9 48.2h0M536.3 48.9h0M533.1 47.1h0M602.1 96.1h0M534.8 50.1h0M607.8 126.0h0M586.9 111.1h0M594.4 104.6h0M596.8 110.6h0M582.7 151.2h0M597.0 101.0h0M598.6 112.9h0M529.1 61.6h0M607.7 107.3h0M592.1 109.5h0M585.2 113.1h0M577.2 113.8h0M591.2 121.4h0M594.6 119.0h0M595.5 107.3h0M581.4 146.8h0M524.6 65.7h0M594.4 142.8h0M592.8 108.8h0M587.6 104.8h0M576.5 135.7h0M538.6 51.1h0M591.8 156.7h0M528.3 45.4h0M590.9 112.9h0M524.1 64.9h0M526.1 51.9h0M525.0 64.2h0M519.8 62.9h0M600.0 109.9h0M595.3 117.0h0M602.0 103.2h0M593.0 104.3h0M591.5 105.2h0M522.9 52.8h0M597.4 133.1h0M535.3 48.6h0M591.8 108.3h0M581.9 104.5h0M523.8 61.7h0M539.8 53.1h0M536.6 54.2h0M532.8 64.8h0M604.3 106.8h0M524.1 48.3h0M532.8 46.5h0M519.6 60.4h0M599.0 103.3h0M527.9 52.9h0M538.4 48.3h0M593.6 105.6h0M603.8 121.0h0M592.3 94.3h0M538.7 64.3h0M594.9 101.8h0M529.6 47.7h0M519.5 55.5h0M607.9 125.6h0M579.3 100.8h0M531.6 77.0h0M599.8 107.9h0M605.5 113.3h0M521.0 56.3h0M580.9 102.6h0M585.5 117.6h0M535.1 62.7h0M523.2 52.3h0M605.4 127.2h0M523.7 51.0h0M588.7 136.5h0M529.8 73.5h0M588.7 132.5h0M601.2 133.9h0M596.5 108.5h0M521.6 57.4h0M538.3 60.2h0M580.9 116.9h0M586.6 124.2h0M601.9 101.9h0M524.6 60.8h0M522.5 63.5h0M590.5 115.5h0M589.2 113.5h0M541.8 65.2h0M577.5 123.2h0M535.8 46.4h0M535.5 65.1h0M582.3 142.9h0M605.4 113.7h0M532.7 45.4h0M528.6 49.8h0M577.9 119.2h0M533.0 49.4h0M527.4 46.3h0M587.5 116.6h0M519.0 55.3h0M576.3 121.2h0M593.5 111.8h0M586.6 119.0h0M594.2 100.6h0M592.7 119.5h0M575.6 121.2h0M588.4 95.9h0M538.3 47.1h0M529.6 45.0h0M529.5 70.1h0M526.3 59.7h0M590.6 156.3h0M583.7 121.6h0M586.2 138.9h0M589.3 113.7h0M525.4 56.2h0M533.4 53.7h0M599.6 123.3h0M589.7 112.8h0M597.7 122.9h0M598.9 124.3h0M531.5 51.8h0M601.6 115.3h0M529.8 50.1h0M596.0 106.0h0M590.4 109.1h0M597.0 145.3h0M524.6 61.5h0M581.9 97.5h0M587.4 112.8h0M523.8 51.7h0M599.3 113.8h0M533.4 61.0h0M534.4 58.3h0M525.3 51.0h0M597.0 136.8h0M600.4 106.7h0M538.5 50.0h0M602.5 112.5h0M526.4 63.2h0M597.1 94.2h0M604.9 116.5h0M538.3 68.5h0M575.6 127.5h0M527.4 46.1h0M532.0 61.3h0M530.8 71.3h0M597.3 108.2h0M523.9 60.3h0M533.3 62.2h0M541.9 63.6h0M536.5 64.8h0M577.6 111.2h0M535.2 69.4h0M578.4 106.3h0M521.4 60.9h0M590.1 113.6h0M585.2 121.6h0M522.9 66.2h0M586.5 109.3h0M530.8 61.6h0M606.4 113.4h0M536.2 61.9h0M581.9 133.7h0M605.0 107.5h0M602.0 109.7h0M590.1 122.6h0M604.7 98.0h0M583.3 139.6h0M531.1 50.1h0M537.4 63.4h0M607.9 107.2h0M605.2 110.2h0M585.3 126.1h0M606.0 100.0h0M580.0 113.2h0M585.1 116.5h0M522.9 58.2h0M533.5 57.7h0M600.0 138.3h0M520.5 60.1h0M537.2 60.3h0M532.8 64.8h0M607.5 106.9h0M595.4 113.8h0M522.4 66.0h0M583.3 119.4h0M602.3 100.9h0M536.5 78.4h0M607.8 120.4h0M586.8 123.8h0M596.8 143.4h0M587.8 107.6h0M583.9 110.2h0M607.0 119.5h0M606.3 125.3h0M604.6 123.8h0M601.5 128.3h0M596.2 116.7h0M598.3 96.4h0M583.2 106.0h0M602.6 101.1h0M583.6 110.5h0M540.9 60.1h0M527.6 61.8h0M592.1 117.6h0M527.7 59.8h0M534.6 60.8h0M521.1 55.8h0M527.4 66.5h0M583.9 104.7h0M587.2 117.1h0M581.7 98.0h0M607.4 105.3h0M590.1 105.5h0M535.7 64.6h0M529.1 52.7h0M530.5 44.6h0M603.7 102.6h0M582.5 120.9h0M586.3 112.5h0M527.7 58.2h0M580.9 117.5h0M524.5 60.1h0M522.1 58.8h0M584.1 121.0h0M541.8 60.3h0M582.6 102.5h0M594.0 124.9h0M596.1 120.3h0M534.4 62.5h0M599.6 140.7h0M537.6 46.6h0M580.6 151.6h0M541.7 72.0h0M536.0 59.2h0M592.9 116.8h0M592.1 137.2h0M585.7 95.1h0M590.7 118.2h0M605.1 109.4h0M598.3 108.1h0M522.4 62.7h0M536.9 62.0h0M600.8 126.9h0M607.0 117.7h0M582.8 128.1h0" stroke="#C77CFF" stroke-width="0.62" stroke-linecap="round" fill="none"/>
<path d="M591.2 139.4h0M535.2 80.4h0M600.4 133.0h0M581.1 143.2h0M545.2 85.0h0M581.7 99.9h0M534.0 82.8h0M595.1 127.3h0M539.9 60.8h0M577.4 130.0h0M536.1 143.0h0M543.1 82.3h0M598.5 127.4h0M528.3 68.0h0M605.2 125.6h0M580.7 134.4h0M590.0 142.0h0M605.9 146.6h0M587.2 136.3h0M601.6 156.4h0M577.5 128.9h0M525.3 65.6h0M581.1 134.6h0M583.6 156.1h0M599.9 151.7h0M582.2 157.0h0M538.3 73.4h0M605.4 143.8h0M598.5 156.2h0M584.6 135.4h0M538.9 72.4h0M525.6 142.3h0M532.7 76.8h0M602.7 128.9h0M583.4 156.8h0M525.7 72.6h0M598.1 144.0h0M592.5 135.9h0M583.3 144.4h0M608.4 136.7h0M607.3 135.3h0M581.9 135.0h0M587.9 149.3h0M604.0 112.1h0M606.2 120.9h0M576.2 131.8h0M596.8 121.6h0M604.8 144.7h0M576.8 135.5h0M577.4 139.7h0M587.6 149.4h0M538.2 82.5h0M596.4 149.2h0M590.1 145.8h0M529.4 75.2h0M525.8 66.1h0M594.8 141.4h0M578.7 114.5h0M526.5 73.1h0M577.0 123.8h0M531.6 144.1h0M532.8 74.9h0M579.2 129.3h0M605.4 151.7h0M580.4 146.7h0M538.7 56.6h0M596.3 150.3h0M593.1 150.8h0M606.8 144.5h0M598.1 153.6h0M596.4 130.8h0M591.6 156.8h0M589.0 152.6h0M594.1 140.0h0M607.1 108.7h0M600.0 131.4h0M585.7 154.2h0M593.8 151.1h0M536.6 76.0h0M582.2 127.1h0M526.0 73.4h0M590.2 147.8h0M598.7 152.9h0M601.7 152.1h0M590.8 154.1h0M578.2 132.9h0M604.8 142.2h0M603.0 138.3h0M541.0 72.0h0M599.0 134.4h0M604.4 140.1h0M524.9 69.4h0M589.0 150.2h0M581.8 142.4h0M605.1 133.3h0M585.6 148.4h0M587.5 157.2h0M540.1 63.2h0M540.4 76.8h0M589.1 146.0h0M608.4 113.2h0M535.2 75.4h0M599.7 120.2h0M595.6 129.8h0M607.5 144.4h0M585.9 134.9h0M582.9 134.0h0M583.4 140.3h0M591.0 154.5h0M533.7 83.7h0M606.7 144.8h0M605.8 137.4h0M594.0 147.4h0M525.4 67.0h0M582.0 142.5h0M584.0 136.6h0M581.0 152.9h0M536.8 64.9h0M594.7 121.1h0M524.7 141.3h0M595.2 157.8h0M589.9 143.4h0M526.6 133.0h0M607.5 146.6h0M590.6 133.7h0M595.7 144.9h0M589.6 141.7h0M608.1 144.4h0M582.8 135.4h0M606.3 149.8h0M525.0 139.0h0M599.8 150.7h0M602.1 149.4h0M596.5 140.5h0M527.2 73.5h0M597.2 109.5h0M608.7 128.7h0M576.2 129.9h0M587.0 140.8h0M604.3 146.5h0M588.0 158.7h0M589.4 144.3h0M604.7 139.4h0M579.3 147.6h0M604.9 137.6h0M582.8 143.3h0M580.1 141.6h0M583.8 113.1h0M605.1 150.1h0M595.9 154.2h0M594.8 148.0h0M601.1 139.5h0M606.2 120.3h0M524.5 138.1h0M596.6 146.9h0M581.1 140.4h0M588.4 151.9h0M602.5 157.5h0M596.2 142.8h0M605.1 135.8h0M603.1 111.6h0M582.9 157.3h0M583.3 136.9h0M536.9 82.5h0M601.8 150.5h0M546.2 87.2h0M546.0 85.8h0M595.2 147.4h0M577.7 142.1h0M579.8 138.0h0M600.7 140.3h0M595.3 119.9h0M594.9 144.5h0M586.8 118.9h0M582.3 151.3h0M584.6 157.6h0M589.7 150.8h0M593.0 159.8h0M600.4 156.9h0M534.1 77.9h0M539.5 81.0h0M580.7 141.7h0M598.7 149.6h0M604.1 142.7h0M576.8 142.1h0M532.6 143.1h0M605.7 143.4h0M532.3 82.1h0M601.0 145.0h0M587.0 160.0h0M577.2 142.9h0M586.6 151.5h0M595.6 129.3h0M593.4 137.8h0M535.4 72.5h0M540.8 72.3h0M588.4 149.5h0M607.1 149.3h0M534.0 82.4h0M531.9 70.4h0M537.1 67.9h0M592.9 152.1h0M584.3 110.7h0M596.0 137.5h0M540.9 65.4h0M584.5 156.6h0M587.8 137.0h0M598.7 132.2h0M576.7 143.9h0M584.7 143.6h0M583.9 145.9h0M540.3 77.9h0M538.5 72.9h0M583.1 141.2h0M541.7 72.8h0M607.7 142.3h0M538.8 59.5h0M608.2 144.6h0M588.5 154.9h0M581.7 140.8h0M584.6 131.6h0M586.3 130.4h0M606.8 134.5h0M590.9 150.9h0M590.9 131.0h0M585.2 130.9h0M589.7 147.3h0M602.9 155.7h0M603.8 142.3h0M585.3 144.9h0M534.9 79.4h0M608.3 140.4h0M595.5 117.3h0M593.9 148.8h0M531.5 72.8h0M533.1 76.8h0M576.7 126.3h0M532.5 79.3h0M527.1 144.0h0M600.4 136.7h0M585.7 149.0h0M603.4 156.2h0M605.8 137.3h0M589.7 150.1h0M529.1 69.6h0M586.5 130.9h0M592.8 136.4h0M596.2 158.2h0M538.6 81.3h0M585.4 146.8h0M605.5 131.4h0M579.8 132.2h0M592.7 146.1h0M585.8 150.1h0M601.3 141.8h0M603.8 149.4h0M532.5 142.5h0M597.7 142.9h0M594.7 133.0h0M607.0 134.0h0M605.6 143.2h0M538.6 56.6h0M594.1 157.6h0M578.3 141.3h0M578.4 137.2h0M586.2 140.1h0M537.6 81.6h0M602.3 156.6h0M584.3 157.2h0M575.9 125.2h0M592.3 103.6h0M583.7 128.6h0M534.9 83.7h0M544.6 84.1h0M594.3 130.3h0M541.2 75.2h0M604.5 151.9h0M593.3 148.7h0M606.0 152.5h0M594.4 125.8h0M603.7 148.8h0M585.2 140.0h0M535.7 72.9h0M587.1 143.7h0M533.9 62.8h0M533.0 143.3h0M585.3 158.6h0M579.1 134.0h0M601.7 120.3h0M604.9 140.3h0M595.2 149.2h0M576.6 138.0h0M579.3 132.3h0M587.0 147.6h0M536.6 77.8h0M597.2 148.5h0M596.6 132.8h0M525.5 143.7h0M532.9 143.1h0M591.2 137.3h0M580.2 138.4h0M607.3 145.2h0M598.2 152.7h0M533.9 143.3h0M543.3 83.9h0M587.8 149.6h0M585.8 132.2h0M597.2 134.3h0M597.8 156.9h0M582.7 141.7h0M587.9 139.3h0M539.2 57.3h0M593.6 119.1h0M533.6 142.7h0M588.6 134.7h0M582.7 153.5h0M591.2 139.6h0M584.5 152.2h0M578.0 152.4h0M538.2 74.7h0M575.5 126.9h0M599.9 128.0h0M608.7 134.7h0M594.3 129.0h0M598.9 149.5h0M603.7 152.2h0M603.0 129.8h0M535.6 76.3h0M546.3 86.1h0M603.6 143.8h0M526.9 143.8h0M531.5 75.1h0M598.0 151.4h0M582.2 149.9h0M595.8 133.7h0M605.9 146.3h0M530.8 73.6h0M597.0 127.0h0M607.8 144.3h0M580.2 131.0h0M586.9 136.1h0M592.9 142.7h0M580.2 155.7h0M589.9 155.1h0M536.8 82.7h0M578.3 148.3h0M528.5 78.0h0M590.2 146.9h0M580.8 154.8h0M575.6 140.0h0M607.8 143.1h0M531.3 142.0h0M600.1 150.3h0M532.0 141.9h0M537.9 75.1h0M576.8 146.3h0M576.1 143.4h0M593.6 135.7h0M580.9 133.0h0M584.5 155.9h0M604.4 114.1h0M592.1 130.7h0M525.8 140.6h0M540.9 72.7h0M588.7 156.7h0M586.9 147.2h0M603.0 150.0h0M590.2 120.0h0M535.9 78.7h0M605.7 127.7h0M525.0 141.5h0M591.0 140.1h0M591.5 146.0h0M587.1 154.4h0M603.3 156.5h0M525.6 70.8h0M598.6 142.9h0M598.0 151.8h0M581.9 103.7h0M583.9 135.0h0M536.0 84.1h0M583.0 158.3h0M535.2 79.9h0M541.5 74.5h0M523.8 67.2h0M583.9 157.1h0M595.9 159.1h0M606.8 140.9h0M534.0 78.3h0M608.3 138.6h0M586.7 143.3h0M536.1 63.2h0M599.2 131.2h0M594.1 139.6h0M539.9 72.9h0M581.6 134.0h0M598.1 129.0h0M526.9 143.4h0M584.9 155.4h0M593.4 130.2h0M595.8 156.0h0M576.7 108.4h0M585.8 123.4h0M535.7 51.9h0M579.3 151.4h0M594.7 159.0h0M607.8 130.9h0M602.5 146.5h0M604.9 152.2h0M606.5 133.1h0M595.5 151.3h0M588.6 148.0h0M601.3 136.2h0M596.9 148.4h0M592.6 139.5h0M575.9 143.8h0M579.1 151.4h0M605.8 142.1h0M584.0 143.3h0M598.1 159.2h0M605.5 112.4h0M576.4 141.2h0M523.5 141.9h0M577.2 137.5h0M528.5 77.8h0M605.2 143.5h0M577.3 140.4h0M579.7 153.3h0M598.9 122.8h0M596.7 149.6h0M583.5 151.5h0M587.3 149.5h0M590.7 110.9h0M587.7 140.5h0M533.7 82.4h0M587.1 155.9h0M590.4 157.2h0M587.3 116.3h0M601.7 131.4h0M587.7 157.7h0M598.6 152.3h0M606.1 133.8h0M607.6 140.6h0M584.7 134.1h0M583.1 157.9h0M576.8 139.9h0M586.9 134.4h0M602.8 140.9h0M533.3 78.7h0M577.6 114.4h0M593.6 138.0h0M586.0 144.2h0M582.5 143.8h0M529.9 79.6h0M527.5 140.2h0M580.3 156.1h0M602.3 130.4h0M607.9 145.9h0M586.2 146.3h0M603.3 152.8h0M543.9 82.6h0M588.3 151.4h0M607.1 134.3h0M599.2 144.7h0M600.7 101.4h0M581.2 157.4h0M589.1 142.1h0M598.5 149.6h0M586.3 135.8h0M606.2 149.5h0M536.9 82.7h0M589.1 139.0h0M580.0 151.2h0M531.7 83.0h0M594.7 133.1h0M529.0 74.2h0M598.9 153.3h0M578.2 130.3h0M576.6 140.4h0M538.1 80.2h0M536.3 77.2h0M585.1 156.3h0M585.4 145.9h0M589.7 148.8h0M583.3 134.1h0M540.5 74.0h0M594.8 153.1h0M601.8 121.0h0M537.7 80.0h0M601.4 144.2h0M533.9 80.8h0M579.4 145.3h0M578.7 152.1h0M606.3 138.3h0M592.8 142.1h0M598.9 151.5h0M542.0 70.1h0M593.6 151.6h0M579.0 139.6h0M608.7 135.4h0M537.3 73.6h0M603.7 148.0h0M580.3 152.1h0M603.6 109.8h0M591.9 158.7h0M579.9 150.5h0M592.2 128.5h0M605.9 142.9h0M585.8 140.4h0M528.1 68.5h0M577.0 118.1h0M593.3 139.8h0M576.6 140.1h0M598.8 155.8h0M593.6 108.2h0M599.5 153.6h0M582.5 151.7h0M576.8 136.2h0M608.4 143.2h0M595.5 147.5h0M536.6 76.6h0M603.8 131.3h0M532.8 76.9h0M595.7 154.8h0M600.5 96.7h0M594.7 152.8h0M584.3 156.6h0M589.9 130.5h0M592.5 120.8h0M597.1 153.3h0M589.6 138.8h0M579.2 140.1h0M531.0 141.3h0M586.6 141.4h0M525.0 141.1h0M588.5 149.3h0M602.3 155.5h0M588.9 135.0h0M533.4 79.1h0M537.5 77.7h0M528.7 78.4h0M598.7 146.4h0M598.7 153.8h0M589.0 142.4h0M532.3 142.3h0M601.4 140.5h0M591.5 154.1h0M533.2 81.8h0M588.1 152.1h0M590.7 159.6h0M601.3 153.7h0M583.0 139.4h0M534.6 143.3h0M581.7 145.9h0M606.6 147.7h0M599.6 129.9h0M586.8 154.0h0M581.4 131.2h0M590.2 117.9h0M588.4 152.5h0M607.6 127.1h0M534.5 77.9h0M607.3 137.1h0M584.3 145.7h0M580.7 131.4h0M585.8 140.9h0M578.2 149.2h0M525.5 139.7h0M595.3 134.6h0M598.4 123.6h0M578.9 141.9h0M528.6 143.0h0M578.9 109.1h0M596.0 159.8h0M539.1 64.0h0M585.0 155.4h0M590.9 110.4h0M582.6 143.0h0M607.7 106.3h0M581.9 152.5h0M592.5 153.5h0M581.8 153.5h0M604.4 140.7h0M602.8 128.2h0M595.3 148.5h0M586.5 137.9h0M599.0 154.7h0M582.2 155.5h0M605.1 134.4h0M530.0 76.9h0M535.4 78.3h0M604.4 140.4h0M594.8 145.9h0M586.4 134.1h0M602.5 130.4h0M601.1 136.4h0M596.5 142.7h0M537.8 81.1h0M598.9 144.3h0M595.7 154.7h0M582.9 153.1h0M580.1 154.5h0M526.6 139.2h0M587.4 134.6h0M583.8 158.8h0M600.6 129.9h0M608.2 130.3h0M576.9 130.4h0M588.6 142.7h0M604.6 147.9h0M534.2 80.7h0M589.8 153.5h0M583.6 130.7h0M535.9 75.7h0M537.9 77.7h0M537.5 143.5h0M541.0 74.0h0M597.5 136.5h0M592.2 149.8h0M539.6 76.5h0M595.7 153.4h0M598.7 129.1h0M528.3 141.7h0M586.0 151.5h0M541.2 71.3h0M534.6 58.4h0M597.8 143.6h0M593.4 104.0h0M588.3 142.7h0M576.7 144.0h0M526.7 137.7h0M591.0 130.4h0M604.1 146.8h0M599.6 139.0h0M527.4 142.7h0M576.1 127.6h0M608.3 133.4h0M600.7 158.6h0M535.3 81.5h0M580.7 137.1h0M521.3 62.6h0M599.7 143.6h0M590.3 134.3h0M600.2 136.2h0M595.6 137.2h0M537.2 77.5h0M530.8 70.1h0M582.0 155.7h0M523.6 141.4h0M576.3 140.5h0M537.4 69.6h0M541.5 72.1h0M579.1 122.8h0M607.4 145.3h0M583.1 149.7h0M601.9 151.5h0M603.2 129.0h0M535.4 79.5h0M590.0 153.1h0M535.2 74.6h0M608.1 134.8h0M599.1 151.4h0M590.3 129.7h0M599.3 144.9h0M593.8 138.4h0M578.1 130.6h0M604.9 139.5h0M593.7 153.0h0M581.9 141.6h0M584.2 144.0h0M580.5 132.2h0M606.3 136.2h0M589.9 140.3h0M533.2 83.7h0M591.5 142.6h0M586.9 142.1h0M593.3 138.5h0M577.6 148.3h0M596.4 139.4h0M580.3 136.9h0M601.5 135.9h0M543.2 81.4h0M534.0 45.0h0M534.0 142.9h0M600.4 133.6h0M598.8 145.6h0M600.7 157.6h0M604.6 121.7h0M606.6 143.5h0M582.8 139.3h0M584.6 140.0h0M602.9 152.5h0M606.1 119.2h0M599.2 140.7h0M593.6 138.8h0M600.2 156.5h0M580.9 104.7h0M595.6 157.0h0M587.4 149.8h0M588.2 152.5h0M526.2 134.2h0M581.5 112.2h0M589.1 153.3h0M585.9 127.5h0M606.7 148.1h0M580.0 149.4h0M598.0 145.8h0M596.5 145.1h0M592.0 126.7h0M588.3 126.5h0M602.2 155.1h0M585.4 151.4h0M599.2 132.4h0M608.7 132.6h0M582.8 137.1h0M601.1 127.6h0M528.3 78.0h0M532.6 82.7h0M523.3 136.1h0M534.9 77.8h0M600.4 140.1h0M532.9 142.3h0M603.2 121.8h0M579.3 147.0h0M529.5 72.3h0M605.6 140.3h0M606.2 148.6h0M577.5 140.5h0M605.6 148.4h0M593.6 159.7h0M597.4 145.3h0M588.9 136.4h0M599.0 150.9h0M603.4 141.3h0M603.2 139.5h0M531.7 144.4h0M600.2 146.7h0M583.9 149.0h0M598.1 124.4h0M604.7 141.4h0M590.8 148.4h0M584.7 151.1h0M531.6 70.6h0M585.6 144.6h0M598.8 142.6h0M598.0 151.5h0M531.7 79.3h0M601.1 132.1h0M600.7 101.2h0M583.9 137.5h0M591.2 140.9h0M546.2 87.0h0M538.9 70.9h0M524.2 142.6h0M578.9 152.6h0M577.9 102.8h0M593.6 126.2h0M540.2 76.0h0M528.0 134.2h0M586.9 152.8h0M586.7 125.7h0M582.3 148.1h0M597.2 145.0h0M528.4 133.4h0M600.5 133.8h0M531.8 82.9h0M525.9 140.2h0M592.6 150.1h0M529.6 72.1h0M593.7 152.9h0M583.3 142.6h0M605.7 132.7h0M606.3 141.1h0M575.5 134.7h0M582.1 150.0h0M607.6 128.2h0M597.1 138.2h0M528.9 76.5h0M603.0 138.5h0M602.8 142.9h0M603.9 124.1h0M576.4 138.3h0M606.5 143.5h0M534.3 72.8h0M600.0 157.9h0M596.9 140.4h0M592.6 154.8h0M583.3 155.4h0M525.0 135.2h0M535.3 81.1h0M580.2 153.3h0M532.0 142.5h0M604.2 147.2h0M591.8 122.0h0M539.0 77.1h0M586.8 137.1h0M603.1 154.3h0M526.8 49.5h0M522.6 140.3h0M588.2 146.8h0M603.8 118.9h0M595.7 134.6h0M586.4 153.2h0M586.3 157.5h0M607.1 143.7h0M582.1 157.3h0M594.0 154.5h0M587.4 122.4h0M580.2 150.7h0M603.3 157.1h0M602.6 126.7h0M600.1 139.7h0M602.7 125.8h0M577.6 127.6h0M601.0 151.6h0M584.6 133.9h0M596.9 133.0h0M595.3 147.2h0M587.9 150.2h0M594.7 137.9h0M607.3 139.2h0M527.6 141.3h0M592.4 134.6h0M527.0 72.8h0M606.2 128.9h0M602.9 121.1h0M600.8 158.4h0M607.3 148.4h0M585.4 146.5h0M602.6 131.2h0M588.4 127.4h0M587.2 151.1h0M583.0 136.2h0M537.2 83.4h0M588.9 141.5h0M597.2 151.1h0M586.0 144.2h0M535.1 77.6h0M600.6 153.6h0M533.0 81.8h0M604.6 132.6h0M601.8 148.3h0M591.1 156.6h0M586.9 140.8h0M535.6 73.9h0M591.4 159.1h0M576.8 137.7h0M606.7 138.3h0M540.6 73.0h0M600.7 136.6h0M604.7 148.6h0M540.2 80.6h0M595.0 116.9h0M586.3 135.2h0M586.6 125.3h0M600.1 145.5h0M533.3 77.2h0M576.8 136.5h0M528.3 141.3h0M598.0 143.2h0M588.9 151.7h0M593.4 139.3h0M605.4 138.1h0M604.8 119.6h0M600.8 151.2h0M597.1 127.1h0M537.7 75.1h0M591.4 148.2h0M606.7 128.4h0M586.3 152.7h0M599.5 149.7h0M539.4 72.2h0M602.9 141.6h0M526.6 138.8h0M594.3 146.4h0M604.0 114.5h0M537.0 77.1h0M606.7 131.5h0M535.1 82.6h0M602.2 134.8h0M606.4 120.8h0M539.0 74.2h0M586.9 131.1h0M601.3 137.3h0M539.4 77.8h0M595.3 149.4h0M537.0 142.7h0M590.1 151.0h0M597.6 141.7h0M541.6 74.8h0M604.6 151.8h0M541.7 62.2h0M585.3 134.0h0M604.3 126.9h0M588.2 142.4h0M586.5 149.8h0M602.9 132.3h0M526.4 68.6h0M533.3 143.1h0M602.0 125.4h0M575.2 125.2h0M535.4 77.1h0M589.9 133.4h0M527.1 73.9h0M604.9 148.3h0M606.7 142.7h0M599.9 130.0h0M590.1 140.5h0M605.2 143.4h0M535.2 69.6h0M584.7 146.0h0M581.9 148.1h0M597.0 143.6h0M589.3 159.8h0M587.2 150.0h0M585.0 143.5h0M592.9 131.6h0M588.7 146.8h0M594.1 154.7h0M579.8 138.1h0M590.7 157.9h0M597.9 102.7h0M594.3 143.2h0M534.7 60.7h0M596.8 153.4h0M585.1 139.6h0M585.1 153.0h0M604.0 124.0h0M590.3 136.6h0M599.2 132.1h0M596.8 133.7h0M600.5 136.8h0M599.6 117.9h0M585.4 143.0h0M585.2 139.1h0M607.0 110.9h0M588.1 160.0h0M537.1 81.7h0M589.3 158.2h0M531.9 76.0h0M582.0 151.5h0M524.1 142.3h0M600.9 137.4h0M585.6 156.7h0M595.6 158.3h0M585.2 157.5h0M593.1 137.4h0M601.7 158.0h0M585.8 157.4h0M533.5 75.2h0M538.5 74.0h0M587.6 152.1h0M575.7 142.1h0M589.5 133.6h0M533.4 143.8h0M586.5 137.3h0M596.6 148.9h0M536.0 73.1h0M603.8 152.2h0M589.2 149.4h0M593.5 145.8h0M531.6 143.3h0M602.2 139.7h0M580.5 151.9h0M588.6 152.5h0M582.0 150.4h0M533.0 143.0h0M586.8 158.5h0M597.7 150.8h0M596.0 138.1h0M597.6 115.9h0M533.0 56.0h0M577.4 122.2h0M589.5 145.2h0M579.6 153.8h0M537.4 75.4h0M529.7 141.0h0M584.1 135.0h0M597.6 148.7h0M583.0 152.5h0M594.1 137.8h0M584.5 134.2h0M586.3 145.9h0M536.5 80.7h0M583.5 145.2h0M533.4 75.2h0M591.9 127.0h0M600.0 121.5h0M530.0 75.1h0M581.5 142.1h0M604.2 104.6h0M581.2 143.9h0M606.1 140.6h0M582.9 148.7h0M578.1 137.3h0M602.4 123.2h0M584.0 155.8h0M601.6 119.2h0M591.0 140.7h0M601.5 143.3h0M591.5 112.4h0M525.4 143.5h0M539.5 79.9h0M607.3 146.7h0M606.0 143.2h0M519.4 61.5h0M592.5 145.8h0M605.1 153.5h0M587.6 159.0h0M578.6 152.6h0M526.0 136.6h0M577.2 132.6h0M591.5 155.1h0M596.9 126.5h0M593.8 151.5h0M524.0 134.8h0M596.0 119.4h0M601.4 152.4h0M594.6 102.2h0M536.4 82.9h0M593.6 159.8h0M525.9 67.5h0M592.1 145.3h0M541.4 68.3h0M596.0 136.8h0M587.4 137.7h0M579.0 149.8h0M604.5 133.9h0M535.9 143.1h0M585.0 138.4h0M606.4 141.0h0M607.7 142.5h0M587.2 151.4h0M605.9 152.3h0M602.0 136.8h0M542.0 68.4h0M607.6 146.2h0M600.1 144.2h0M600.2 137.7h0M577.6 108.6h0M595.7 128.0h0M582.4 147.1h0M533.0 73.1h0M602.5 134.5h0M584.8 147.9h0M539.6 73.2h0M607.7 137.3h0M598.8 128.6h0M606.8 136.7h0M525.9 135.8h0M538.9 68.6h0M530.2 80.2h0M580.7 134.8h0M594.1 100.7h0M587.3 159.4h0M598.5 154.9h0M598.7 124.5h0M602.9 126.9h0M535.0 53.6h0M601.0 143.7h0M535.6 143.1h0M586.3 131.6h0M584.2 148.7h0M524.0 46.9h0M605.5 152.7h0M578.3 127.3h0M593.5 136.2h0M589.6 159.2h0M606.9 130.4h0M528.3 76.3h0M583.3 147.8h0M606.8 110.7h0M528.9 73.8h0M538.1 78.0h0M602.7 151.6h0M527.5 135.7h0M596.4 152.5h0M579.7 144.1h0M530.7 82.1h0M604.7 153.4h0M594.9 153.0h0M575.4 135.2h0M582.1 120.3h0M605.9 126.1h0M599.8 141.9h0M538.1 81.6h0M596.5 106.1h0M536.9 72.7h0M578.1 140.2h0M599.6 136.1h0M593.7 153.4h0M529.3 78.4h0M586.9 138.5h0M583.6 139.2h0M523.9 142.7h0M533.4 71.1h0M592.8 136.6h0M538.2 77.4h0M599.8 145.2h0M536.9 78.9h0M538.8 77.1h0M602.4 150.4h0M526.6 137.6h0M546.0 86.1h0M523.3 55.8h0M588.8 146.2h0M581.1 148.2h0M529.2 71.8h0M604.8 149.1h0M596.6 125.5h0M606.8 145.7h0M596.6 144.4h0M589.4 153.1h0M598.2 131.1h0M578.4 140.7h0M594.7 144.2h0M607.0 133.2h0M597.0 133.7h0M603.1 143.2h0M606.7 131.4h0M532.7 50.1h0M531.3 74.3h0M590.0 148.5h0M599.1 150.3h0M583.4 158.5h0M581.9 155.9h0M587.3 155.0h0M587.6 142.8h0M532.1 143.2h0M581.2 115.6h0M600.0 153.7h0M525.1 138.3h0M597.4 131.2h0M579.2 145.3h0M585.4 152.2h0M589.3 147.3h0M541.9 73.0h0M581.6 130.8h0M588.9 141.8h0M601.0 152.7h0M597.0 156.2h0M609.0 135.3h0M539.0 76.6h0M586.6 155.6h0M523.2 67.7h0M530.0 68.1h0M603.5 151.0h0M594.7 147.5h0M591.4 148.9h0M586.4 135.8h0M604.7 152.2h0M586.6 150.9h0M601.3 138.8h0M602.1 140.9h0M599.3 136.4h0M606.6 121.4h0M589.7 158.3h0M536.8 71.1h0M578.6 139.7h0M597.7 149.2h0M590.3 153.6h0M533.2 69.5h0M592.1 151.3h0M588.4 117.1h0M607.4 141.1h0M542.9 82.3h0M595.3 144.9h0M602.4 157.3h0M590.6 137.9h0M581.3 142.2h0M601.2 137.6h0M539.4 66.6h0M608.8 134.6h0M534.8 78.4h0M586.8 136.9h0M595.1 143.1h0M538.8 76.8h0M607.8 113.7h0M532.8 83.0h0M605.7 143.6h0M604.0 144.1h0M583.2 128.6h0M535.5 77.0h0M592.7 136.2h0M583.8 143.1h0M583.1 158.0h0M585.6 141.6h0M603.5 156.0h0M582.4 133.2h0M587.5 134.1h0M581.0 146.4h0M588.2 144.1h0M526.9 74.7h0M533.0 142.6h0M601.1 137.8h0M584.6 111.7h0M536.6 78.4h0M600.6 134.2h0M534.6 67.2h0M536.8 73.7h0M588.9 140.0h0M528.5 60.9h0M530.1 79.8h0M596.0 143.3h0M581.0 136.7h0M584.5 150.4h0M598.3 151.1h0M584.6 155.8h0M527.5 51.7h0M607.3 136.2h0M589.9 148.0h0M588.7 136.3h0M532.6 68.7h0M599.3 120.0h0M589.0 110.3h0M588.2 118.9h0M601.3 140.6h0M606.4 133.8h0M590.6 142.6h0M531.7 75.8h0M602.4 137.6h0M594.4 142.6h0M596.8 138.5h0M533.4 80.1h0M587.1 134.9h0M585.6 98.0h0M596.7 129.7h0M601.7 129.7h0M588.2 136.2h0M602.0 129.4h0M601.4 139.0h0M587.0 152.1h0M594.9 130.0h0M599.5 150.2h0M535.1 80.4h0M591.9 135.0h0M599.1 149.8h0M596.1 154.6h0M591.9 159.1h0M531.2 65.7h0M606.7 131.3h0M529.4 142.8h0M522.7 65.8h0M581.1 144.7h0M536.4 67.9h0M582.0 149.0h0M603.2 135.2h0M604.6 147.5h0M531.9 142.5h0M529.5 75.3h0M541.0 69.1h0M586.0 148.9h0M596.9 138.8h0M531.3 143.2h0M534.1 82.8h0M538.4 70.9h0M588.1 149.0h0M583.9 131.6h0M588.0 124.0h0M606.4 149.3h0M580.2 143.1h0M591.6 145.0h0M607.6 144.6h0M600.1 140.1h0M603.3 147.8h0M589.8 153.1h0" stroke="#7CAE00" stroke-width="0.62" stroke-linecap="round" fill="none"/>
<path d="M598.5 131.3h0M593.7 137.2h0M600.4 143.8h0M608.3 128.8h0M576.8 144.2h0M534.6 73.4h0M589.2 144.8h0M530.1 72.3h0M589.6 139.2h0M602.7 129.2h0M584.4 131.5h0M582.1 103.3h0M528.2 74.5h0M598.8 124.2h0M536.7 68.7h0M587.8 138.7h0M537.9 73.5h0M597.0 142.0h0M585.9 142.7h0M578.6 142.8h0M585.9 158.7h0M533.1 82.2h0M577.6 141.5h0M599.4 145.0h0M533.3 83.3h0M587.9 134.4h0M594.3 159.1h0M580.2 141.5h0M597.3 155.3h0M593.8 158.1h0M608.8 134.7h0M606.4 121.5h0M535.1 82.4h0M605.6 142.1h0M584.6 143.0h0M600.1 127.4h0M599.7 150.5h0M534.4 58.2h0M534.2 80.4h0M601.8 98.4h0M595.7 159.1h0M599.5 150.4h0M581.2 123.3h0M595.4 146.7h0M602.4 140.3h0M578.4 117.9h0M591.1 142.7h0M590.1 137.1h0M601.2 148.4h0M604.8 146.5h0M602.4 137.9h0M575.3 138.1h0M586.4 150.8h0M598.1 157.4h0M598.8 126.8h0M534.9 77.3h0M599.1 148.7h0M600.0 127.5h0M576.4 127.3h0M591.4 159.1h0M531.8 142.9h0M588.1 143.8h0M590.8 152.2h0M605.9 131.5h0M593.7 128.0h0M602.2 145.6h0M575.7 140.6h0M590.6 136.3h0M588.1 151.7h0M531.9 82.7h0M579.8 138.3h0M588.3 149.5h0M606.5 142.6h0M598.6 153.5h0M535.3 77.1h0M608.4 126.6h0M598.3 140.5h0M537.6 77.3h0M606.5 143.2h0M606.1 141.0h0M598.3 148.3h0M599.4 151.6h0M534.5 81.9h0M600.9 148.3h0M524.0 66.3h0M531.3 76.3h0M532.8 81.3h0M589.4 111.7h0M528.1 76.5h0M587.7 140.7h0M599.5 139.8h0M580.8 111.7h0M523.5 137.2h0M598.0 142.1h0M593.4 136.7h0M575.6 141.9h0M591.7 136.5h0M588.8 149.1h0M534.4 72.0h0M601.7 133.9h0M528.2 74.3h0M583.5 154.5h0M527.6 66.4h0M535.4 143.6h0M594.3 110.5h0M606.3 125.2h0M599.1 141.9h0M588.9 119.4h0M540.8 79.5h0M576.1 138.8h0M607.0 147.5h0M595.2 101.0h0M533.7 83.8h0M534.8 142.5h0M598.7 153.8h0M592.6 142.9h0M534.5 79.7h0M602.1 126.5h0M524.9 141.8h0M595.5 134.3h0M586.3 141.1h0M599.4 131.3h0M587.4 131.5h0M598.3 145.7h0M597.3 147.4h0M538.4 74.5h0M537.9 75.5h0M592.2 137.3h0M586.4 112.9h0M591.0 146.8h0M603.1 142.7h0M585.3 133.8h0M525.1 69.4h0M604.8 145.2h0M606.8 122.5h0M532.3 78.9h0M584.0 127.9h0M603.5 139.7h0M598.9 158.0h0M588.8 142.5h0M605.2 148.5h0M592.4 139.9h0M585.7 134.3h0M597.1 136.5h0M603.2 146.7h0M600.1 156.9h0M602.1 138.0h0M587.3 150.1h0M593.6 113.0h0M606.0 121.9h0M536.5 81.7h0M584.6 145.4h0M595.9 147.2h0M535.9 80.8h0M580.3 149.6h0M580.5 147.6h0M587.6 152.8h0M587.5 140.2h0M603.9 138.8h0M587.7 121.7h0M578.9 137.2h0M586.2 145.7h0M521.1 63.5h0M583.9 140.2h0M605.4 151.7h0M535.0 71.9h0M592.6 153.5h0M588.8 137.5h0M540.1 74.9h0M596.0 133.8h0M533.3 73.2h0M605.8 130.7h0M528.4 71.8h0M594.2 153.4h0M591.8 129.2h0M524.5 58.8h0M585.0 133.9h0M607.1 142.8h0M605.5 140.8h0M584.2 146.2h0M536.7 74.7h0M576.6 141.6h0M596.5 130.9h0M599.9 119.7h0M585.2 142.4h0M602.9 156.0h0M598.2 145.8h0M577.6 150.7h0M532.3 78.0h0M607.2 143.8h0M529.4 79.5h0M526.5 142.6h0M536.7 80.4h0M600.6 151.6h0M583.5 159.0h0M590.7 154.7h0M604.8 143.9h0M593.1 156.4h0M538.3 73.5h0M584.2 117.3h0M587.6 151.9h0M541.3 75.9h0M586.0 149.7h0M540.3 57.0h0M587.7 147.6h0M519.5 56.2h0M592.9 134.0h0M592.0 154.2h0M539.4 79.7h0M600.6 145.5h0M597.3 145.7h0M577.3 138.7h0M598.9 151.7h0M600.7 126.7h0M525.9 142.9h0M532.8 143.8h0M593.4 106.2h0M596.8 150.4h0M592.7 154.9h0M586.8 133.5h0M532.3 144.2h0M532.9 79.8h0M521.1 51.4h0M530.7 81.8h0M582.4 138.1h0M585.4 150.4h0M575.7 134.1h0M533.1 83.6h0M577.5 122.4h0M609.0 121.5h0M587.3 147.6h0M584.4 159.1h0M593.8 120.0h0M600.9 157.1h0M599.1 148.1h0M579.4 153.0h0M592.1 125.8h0M607.2 145.7h0M539.5 78.0h0M524.2 135.3h0M592.0 146.2h0M604.1 127.0h0M587.8 149.1h0M534.2 80.5h0M576.3 139.0h0M585.7 152.4h0M596.5 138.0h0M590.7 125.0h0M523.3 136.5h0M600.3 150.4h0M583.6 101.3h0M520.3 62.3h0M606.9 141.2h0M591.8 159.5h0M605.5 131.7h0M608.6 129.5h0M597.1 131.6h0M538.0 83.7h0M581.6 140.5h0M535.3 83.0h0M541.6 73.0h0M527.8 72.4h0M534.4 82.8h0M537.0 79.4h0M592.0 134.4h0M588.2 154.1h0M540.7 73.9h0M585.4 159.4h0M607.1 134.5h0M595.4 150.9h0M594.6 115.8h0M603.2 129.9h0M599.9 149.8h0M584.5 139.5h0M593.7 143.0h0M585.7 130.4h0M526.0 144.4h0M589.7 140.6h0M584.5 157.5h0M599.5 134.9h0M536.2 72.9h0M539.1 78.4h0M526.8 74.6h0M601.3 145.6h0M577.0 132.2h0M600.5 140.0h0M596.9 137.6h0M607.8 143.4h0M608.0 119.1h0M596.2 147.4h0M600.4 143.3h0M533.2 69.9h0M599.4 148.5h0M605.1 127.7h0M597.3 156.9h0M585.7 149.8h0M607.7 145.0h0M591.5 137.1h0M595.5 159.3h0M607.3 134.2h0M605.7 139.3h0M590.1 140.9h0M520.5 64.6h0M531.4 142.4h0M533.6 73.0h0M592.8 141.9h0M525.1 142.1h0M601.4 152.5h0M586.0 137.0h0M592.1 138.2h0M533.7 73.2h0M533.1 81.0h0M582.1 147.2h0M538.4 65.7h0M603.0 154.0h0M590.2 144.2h0M529.7 73.5h0M608.4 134.9h0M530.7 72.9h0M586.0 143.4h0M529.0 73.0h0M591.4 143.0h0M597.6 133.3h0M600.6 129.5h0M599.9 158.1h0M534.6 71.3h0M602.2 152.0h0M590.4 126.3h0M532.5 63.7h0M579.7 143.3h0M525.3 72.4h0M528.0 69.0h0M594.9 153.4h0M590.6 106.4h0M527.7 139.0h0M538.6 81.9h0M529.5 73.9h0M599.5 152.6h0M583.5 155.9h0M585.8 138.3h0M578.3 139.5h0M590.8 157.7h0M589.6 140.6h0M594.6 146.9h0M536.0 142.0h0M607.2 109.3h0M527.8 139.6h0M601.8 150.4h0M606.6 134.3h0M590.3 130.0h0M596.0 141.3h0M600.9 142.4h0M606.2 124.8h0M577.7 140.0h0M603.4 140.8h0M531.7 80.9h0M591.5 135.9h0M597.8 140.8h0M576.5 121.0h0M582.2 146.1h0M590.2 154.1h0M583.3 144.0h0M537.9 73.5h0M599.7 152.3h0M584.5 156.4h0M582.6 141.4h0M526.5 140.1h0M585.9 154.4h0M582.7 136.1h0M581.7 142.8h0M593.8 146.2h0M577.6 142.9h0M591.0 130.8h0M602.9 142.8h0M597.4 130.3h0M599.6 153.4h0M589.7 151.5h0M535.6 83.5h0M591.9 149.5h0M596.6 143.7h0M604.3 145.9h0M604.6 152.9h0M589.3 149.6h0M585.4 133.9h0M530.0 76.2h0M598.0 107.7h0M597.8 136.2h0M578.9 151.1h0M529.2 74.7h0M580.8 152.8h0M541.5 68.2h0M591.4 149.1h0M588.3 149.3h0M599.0 128.2h0M589.0 159.0h0M603.9 131.8h0M589.8 160.6h0M603.7 155.3h0M601.7 136.6h0M535.1 75.2h0M603.1 155.9h0M584.5 123.6h0M604.3 155.3h0M588.7 137.8h0M536.1 78.9h0M589.9 133.3h0M581.7 146.2h0M603.9 132.8h0M534.2 82.0h0M535.3 142.4h0M592.7 141.4h0M591.5 139.0h0M576.1 115.6h0M600.2 138.5h0M598.7 124.0h0" stroke="#00BFC4" stroke-width="0.62" stroke-linecap="round" fill="none"/>
<line x1="513.4" y1="35" x2="513.4" y2="166.5" stroke="#4d4d4d" stroke-width="0.7"/>
<line x1="513.4" y1="166.5" x2="613.3" y2="166.5" stroke="#4d4d4d" stroke-width="0.7"/>
<line x1="510.2" y1="69.5" x2="513.4" y2="69.5" stroke="#4d4d4d" stroke-width="0.7"/>
<text x="506.4" y="72.1" font-size="7.6" text-anchor="end" textLength="4.44" lengthAdjust="spacingAndGlyphs">5</text>
<line x1="510.2" y1="108.3" x2="513.4" y2="108.3" stroke="#4d4d4d" stroke-width="0.7"/>
<text x="506.4" y="110.9" font-size="7.6" text-anchor="end" textLength="4.44" lengthAdjust="spacingAndGlyphs">0</text>
<line x1="510.2" y1="147.1" x2="513.4" y2="147.1" stroke="#4d4d4d" stroke-width="0.7"/>
<text x="506.4" y="149.7" font-size="7.6" text-anchor="end" textLength="9.1" lengthAdjust="spacingAndGlyphs">−5</text>
<line x1="517.5" y1="166.5" x2="517.5" y2="169.8" stroke="#4d4d4d" stroke-width="0.7"/>
<text x="517.5" y="179.7" font-size="7.6" text-anchor="middle" textLength="13.54" lengthAdjust="spacingAndGlyphs">−10</text>
<line x1="544.6" y1="166.5" x2="544.6" y2="169.8" stroke="#4d4d4d" stroke-width="0.7"/>
<text x="544.6" y="179.7" font-size="7.6" text-anchor="middle" textLength="9.1" lengthAdjust="spacingAndGlyphs">−5</text>
<line x1="571.7" y1="166.5" x2="571.7" y2="169.8" stroke="#4d4d4d" stroke-width="0.7"/>
<text x="571.7" y="179.7" font-size="7.6" text-anchor="middle" textLength="4.44" lengthAdjust="spacingAndGlyphs">0</text>
<line x1="598.8" y1="166.5" x2="598.8" y2="169.8" stroke="#4d4d4d" stroke-width="0.7"/>
<text x="598.8" y="179.7" font-size="7.6" text-anchor="middle" textLength="4.44" lengthAdjust="spacingAndGlyphs">5</text>
<text x="563.5" y="192.6" font-size="8.6" text-anchor="middle" textLength="26.9" lengthAdjust="spacingAndGlyphs">UMAP1</text>
<text transform="translate(491.8,100.7) rotate(-90)" text-anchor="middle" font-size="8.6" textLength="28.3" lengthAdjust="spacingAndGlyphs" fill="#231f20">UMAP2</text>
<circle cx="626.7" cy="42.3" r="1.9" fill="#F8766D"/>
<text x="632.7" y="44.9" font-size="7.4">MYC, high</text>
<circle cx="626.7" cy="50.2" r="1.9" fill="#00BFC4"/>
<text x="632.7" y="52.8" font-size="7.4">MYC, moderate</text>
<circle cx="626.7" cy="58.1" r="1.9" fill="#7CAE00"/>
<text x="632.7" y="60.7" font-size="7.4">MYC, low</text>
<circle cx="626.7" cy="66" r="1.9" fill="#C77CFF"/>
<text x="632.7" y="68.6" font-size="7.4">NTC</text>
<circle cx="319.3" cy="214" r="7.7" fill="none" stroke="#222" stroke-width="0.75"/>
<text x="319.3" y="216.9" font-size="8.2" text-anchor="middle">3</text>
<text x="332.6" y="218" font-size="8.6" textLength="118.4" lengthAdjust="spacingAndGlyphs">MYC GA signature expression</text>
<path d="M429.5 311.9h0M352.4 336.0h0M336.3 257.6h0M335.5 246.4h0M360.5 253.6h0M428.4 310.7h0M433.0 336.4h0M343.4 256.0h0M418.7 324.3h0M426.7 316.1h0M422.8 313.5h0M347.8 254.4h0M362.1 248.6h0M408.6 313.1h0M450.7 321.5h0M447.6 320.9h0M357.7 251.2h0M420.7 335.5h0M423.3 327.2h0M421.3 337.6h0M348.4 249.6h0M339.5 250.3h0M434.9 314.4h0M420.7 327.7h0M427.7 306.4h0M343.7 241.5h0M425.9 336.2h0M412.5 322.2h0M353.4 251.0h0M334.6 251.6h0M355.4 260.3h0M416.6 328.2h0M340.3 331.8h0M358.0 254.1h0M442.5 310.8h0M428.8 312.9h0M450.4 320.4h0M358.4 243.9h0M352.9 254.5h0M418.5 310.9h0M335.7 245.2h0M340.4 330.9h0M354.4 258.7h0M422.3 319.7h0M368.8 280.0h0M368.5 278.6h0M359.4 246.2h0M415.6 312.9h0M346.4 264.0h0M416.1 312.6h0M342.3 260.1h0M448.4 324.9h0M358.0 246.1h0M418.9 324.4h0M408.0 330.8h0M336.7 256.1h0M355.4 253.2h0M352.5 335.3h0M409.6 306.2h0M440.2 313.0h0M446.3 324.2h0M349.8 246.8h0M412.3 309.2h0M338.3 253.8h0M420.0 312.0h0M446.7 316.4h0M362.0 251.5h0M408.6 323.8h0M339.3 250.5h0M433.9 313.8h0M420.2 304.3h0M353.5 335.5h0M346.5 256.9h0M355.0 265.7h0M410.5 314.0h0M356.0 253.5h0M411.8 326.8h0M346.6 256.2h0M447.0 316.3h0M351.6 251.6h0M356.9 245.1h0M434.7 325.6h0M341.7 336.5h0M427.6 330.1h0M352.7 336.1h0M339.5 257.6h0M424.2 327.5h0M355.1 253.9h0M450.5 311.4h0M425.8 318.2h0M354.6 336.4h0M419.1 309.9h0M350.8 261.3h0M443.0 322.6h0M417.0 304.7h0M413.2 316.0h0M413.3 323.8h0M428.5 306.8h0M333.6 247.3h0M409.4 307.0h0M350.6 272.5h0M360.4 266.8h0M432.9 317.6h0M426.3 312.8h0M442.9 321.7h0M344.9 252.8h0M346.4 248.2h0M353.3 249.6h0M361.4 245.7h0M354.8 246.5h0M422.6 308.5h0M349.3 243.4h0M445.1 295.2h0M449.3 323.7h0M350.1 250.9h0M358.5 250.3h0M343.6 248.0h0M440.5 314.2h0M439.1 331.5h0M426.0 311.7h0M343.7 267.8h0M432.7 323.6h0M352.1 253.2h0M358.1 252.5h0M431.7 325.6h0M409.8 307.2h0M335.9 249.8h0M443.2 320.9h0M434.4 314.3h0M437.1 325.2h0M424.9 331.8h0M350.6 255.4h0M407.7 321.0h0M354.4 255.9h0M425.6 317.2h0M415.2 310.4h0M412.5 304.8h0M341.0 259.0h0M409.1 310.9h0M444.8 310.0h0M445.0 324.1h0M417.0 315.2h0M342.9 253.7h0M429.3 313.6h0M406.9 321.0h0M425.5 331.6h0M426.1 310.2h0M430.0 300.8h0M348.9 334.1h0M341.0 333.9h0M340.8 261.1h0M335.1 256.3h0M438.7 322.7h0M449.2 321.5h0M414.8 324.0h0M434.5 323.7h0M449.1 319.9h0M442.8 321.0h0M420.2 302.1h0M340.9 250.1h0M338.0 260.9h0M416.3 296.0h0M349.2 250.4h0M356.2 252.7h0M448.1 316.9h0M347.8 248.8h0M334.9 251.0h0M439.9 322.7h0M415.4 329.0h0M446.7 316.3h0M419.8 313.9h0M437.5 321.9h0M354.3 258.4h0M348.6 253.4h0M353.5 251.2h0M339.7 260.3h0M333.8 249.0h0M363.1 263.8h0M336.0 245.0h0M410.5 323.4h0M362.8 260.9h0M423.2 317.8h0M431.5 315.2h0M441.0 328.7h0M352.8 335.7h0M421.1 313.5h0M351.3 336.6h0M345.7 260.9h0M434.9 324.2h0M423.3 328.2h0M333.6 253.1h0M421.8 326.3h0M359.9 260.7h0M336.5 254.4h0M429.9 311.0h0M347.2 264.6h0M343.3 264.8h0M420.7 320.3h0M359.9 258.7h0M355.3 263.3h0M413.5 308.0h0M361.5 250.6h0M358.8 249.1h0M423.6 310.4h0M411.1 320.2h0M343.3 250.5h0M413.3 315.3h0M347.3 251.9h0M445.6 314.4h0M410.4 310.1h0M441.9 315.8h0M407.0 327.5h0M353.8 257.5h0M444.2 316.9h0M343.8 333.7h0M425.1 317.4h0M334.8 255.1h0M411.9 331.4h0M446.3 324.5h0M337.8 333.1h0M415.3 315.2h0M348.9 255.8h0M341.6 249.8h0M358.1 245.8h0M420.4 311.8h0M442.5 324.0h0M408.9 315.8h0M361.5 266.7h0M448.5 327.3h0M416.9 329.0h0M348.3 253.3h0M439.5 318.1h0M350.7 335.3h0M337.6 242.6h0M351.1 251.2h0M421.5 318.1h0M420.6 309.2h0M441.7 322.4h0M407.9 321.4h0M345.9 266.1h0M353.3 253.6h0M408.1 326.1h0M355.7 265.7h0M435.4 319.9h0M415.6 305.9h0M357.6 267.9h0M343.1 331.6h0M433.7 317.9h0M447.8 324.3h0M335.5 249.7h0M436.6 317.8h0M356.7 335.5h0M436.0 334.5h0M415.7 312.9h0M335.3 255.2h0M436.4 315.8h0M425.9 326.2h0M334.9 251.2h0M343.7 266.7h0M426.2 333.3h0M428.2 300.7h0M424.4 307.5h0M356.0 253.9h0M444.4 316.8h0M345.8 248.4h0M359.0 256.6h0M349.4 335.2h0M353.6 264.3h0M406.6 319.4h0M352.6 257.5h0M418.3 297.8h0M408.2 331.7h0M348.6 258.8h0M351.9 251.2h0M423.8 316.1h0M410.6 318.1h0M415.9 315.0h0M344.2 251.9h0M421.3 300.3h0M340.1 243.9h0M428.5 319.8h0M335.8 256.1h0M424.6 306.9h0M430.5 323.6h0M428.4 317.9h0M442.2 316.0h0M340.9 330.7h0M351.6 261.7h0M335.8 254.2h0M429.0 331.0h0M421.4 313.4h0M352.5 254.8h0M423.9 316.9h0M342.8 257.3h0M342.4 329.4h0M433.9 329.6h0M444.8 308.7h0M428.0 318.7h0M354.3 246.0h0M352.5 253.6h0M428.4 316.0h0M361.7 262.0h0M433.8 322.6h0M426.4 322.8h0M422.5 316.6h0M348.6 336.2h0M339.7 249.3h0M335.9 247.5h0M428.0 328.7h0M438.3 317.2h0M411.3 312.4h0M344.4 259.1h0M407.0 328.0h0M438.5 328.9h0M361.9 252.4h0M352.0 263.9h0M443.7 304.4h0M408.4 313.8h0M343.2 330.4h0M350.4 335.6h0M368.5 278.9h0M361.6 257.1h0M448.3 326.0h0M416.9 316.8h0M356.7 255.6h0M343.3 252.2h0M432.8 314.3h0M415.5 316.4h0M425.3 309.4h0M363.1 265.8h0M354.2 253.3h0M343.8 267.5h0M409.9 304.0h0M415.8 311.5h0M359.4 269.4h0M416.4 303.0h0M409.8 335.7h0M421.9 303.9h0M339.9 257.7h0M341.0 257.0h0M435.7 325.9h0M339.5 254.5h0M344.8 245.7h0M333.8 248.3h0M450.3 326.0h0M335.8 249.1h0M420.1 310.4h0M338.7 245.1h0M410.2 312.0h0M424.4 329.1h0M352.0 253.8h0M422.3 327.7h0M441.4 322.5h0M417.2 312.2h0M431.3 317.7h0M427.0 311.0h0" stroke="#c8c8c8" stroke-width="0.65" stroke-linecap="round" fill="none"/>
<path d="M418.9 298.2h0M362.7 253.9h0M438.7 327.7h0M339.2 250.3h0M351.4 335.9h0M349.8 244.2h0M354.1 242.5h0M442.7 302.0h0M360.4 252.6h0M426.4 318.0h0M335.5 246.9h0M444.1 305.9h0M357.3 240.2h0M334.5 250.4h0M416.6 313.7h0M414.1 305.5h0M338.0 246.4h0M424.0 304.1h0M356.9 255.8h0M410.6 320.7h0M429.8 319.7h0M407.4 318.9h0M423.2 311.2h0M360.1 252.8h0M446.1 301.7h0M430.5 303.2h0M352.2 245.3h0M420.3 297.5h0M419.6 292.9h0M429.8 312.9h0M416.0 313.0h0M409.3 317.9h0M450.5 321.5h0M408.0 322.7h0M419.7 295.1h0M410.9 303.2h0M344.7 237.8h0M409.0 303.7h0M355.5 256.9h0M414.1 309.0h0M447.1 313.1h0M412.4 302.9h0M339.9 332.8h0M412.2 296.7h0M352.1 267.0h0M354.3 259.6h0M425.9 299.4h0M428.9 301.8h0M352.0 242.2h0M354.6 248.1h0M335.3 248.9h0M411.3 310.8h0M444.0 313.5h0M343.7 336.8h0M349.7 243.5h0M346.9 258.8h0M447.2 313.3h0M420.9 312.6h0M335.7 249.5h0M426.0 305.0h0M415.9 298.4h0M421.6 316.7h0M450.3 328.3h0M366.7 276.9h0M352.6 251.6h0M338.9 333.2h0M425.4 304.4h0M441.4 313.1h0M350.2 248.3h0M333.7 250.6h0M359.6 250.1h0M348.4 249.9h0M336.6 242.5h0M340.7 249.7h0M418.1 290.8h0M407.0 319.7h0M435.2 319.8h0M347.6 252.3h0M416.1 301.6h0M448.2 318.9h0M334.8 250.8h0M429.7 297.4h0M439.3 303.0h0M436.5 301.7h0M428.7 296.1h0M340.9 334.6h0M358.7 245.4h0M355.0 259.4h0M447.5 311.1h0M438.3 312.0h0M424.5 303.0h0M430.6 314.0h0M350.9 256.4h0M357.7 244.8h0M354.8 242.1h0M336.2 249.7h0M450.4 310.0h0M430.2 315.5h0M423.6 319.3h0M447.3 314.5h0M441.8 302.7h0M439.7 302.8h0M446.5 327.5h0M411.0 299.6h0M407.4 318.0h0M410.6 323.1h0M415.2 313.9h0M441.5 313.8h0M439.8 315.0h0M421.9 289.8h0M362.5 253.7h0M437.3 320.4h0M352.0 239.8h0M420.1 309.3h0M343.5 334.5h0M354.8 249.9h0M440.2 312.4h0M355.6 335.2h0M411.6 296.2h0M412.0 332.9h0M430.6 303.5h0M347.0 250.4h0M419.4 296.5h0M363.2 258.3h0M352.5 247.4h0M411.8 293.1h0M438.3 318.5h0M412.3 311.6h0M356.3 248.2h0M357.4 247.5h0M411.5 301.9h0M347.8 259.9h0M341.9 258.7h0M412.5 297.7h0M424.0 311.1h0M440.6 329.2h0M339.2 243.8h0M343.4 330.6h0M412.6 300.2h0M348.1 244.1h0M434.1 313.1h0M343.0 335.4h0M430.9 309.1h0M437.4 320.3h0M346.4 254.6h0M429.8 326.8h0M433.9 326.9h0M412.5 325.6h0M352.8 237.8h0M352.4 245.2h0M415.5 308.8h0M447.1 312.0h0M414.2 297.5h0M423.8 319.3h0M338.7 328.9h0M426.9 319.1h0M359.3 258.1h0M344.9 327.0h0M353.9 253.1h0M356.6 253.6h0M426.9 317.8h0M441.1 325.1h0M342.3 250.4h0M449.1 321.0h0M425.0 304.0h0M355.6 254.2h0M449.2 298.6h0M408.2 311.2h0M359.7 260.8h0M426.5 298.2h0M339.2 249.3h0M343.4 242.3h0M409.5 307.2h0M422.6 315.2h0M353.5 261.1h0M420.1 308.5h0M362.8 256.5h0M446.1 302.5h0M353.0 336.2h0M414.1 308.0h0M414.8 321.0h0M342.3 247.7h0M344.2 249.1h0M446.5 314.0h0M411.4 297.6h0M348.7 239.6h0M432.2 310.0h0M444.4 307.3h0M417.9 295.7h0M335.3 248.4h0M424.6 314.2h0M346.1 247.9h0M351.8 335.9h0M406.7 318.0h0M438.9 322.8h0M416.9 293.4h0M444.1 312.6h0M426.5 320.3h0M350.5 249.3h0M354.6 249.8h0M338.0 258.3h0M429.1 305.5h0M427.8 301.2h0M429.7 312.6h0M333.4 251.5h0M427.5 297.6h0M348.9 250.9h0M438.0 307.9h0M347.2 333.8h0M345.0 236.9h0M362.7 251.4h0M450.2 327.7h0M411.8 317.5h0M419.4 311.1h0M350.8 252.7h0M427.7 305.0h0M447.6 317.0h0M340.6 262.0h0M433.4 309.4h0M341.5 336.3h0M350.9 256.5h0M345.7 255.5h0M359.4 244.5h0M344.5 331.8h0M356.5 254.3h0M410.4 314.3h0M440.4 308.2h0M355.3 335.9h0M424.0 288.4h0M423.9 302.9h0M336.9 249.5h0M408.4 301.3h0M351.4 241.1h0M442.5 313.6h0M354.9 335.9h0M339.6 239.7h0M344.2 328.5h0M412.3 293.1h0M436.8 310.0h0M358.3 244.9h0M344.5 249.4h0M434.5 305.5h0M438.2 304.5h0M425.7 313.2h0M415.0 315.6h0M414.5 308.4h0M437.9 315.3h0M419.8 305.9h0M409.3 306.6h0M351.8 262.3h0M358.8 243.9h0M449.5 318.4h0M412.1 293.6h0M440.7 326.7h0M429.5 312.3h0M341.5 249.0h0M425.6 305.6h0M351.9 255.0h0M419.7 314.4h0M348.6 254.4h0M349.0 242.9h0M419.8 318.9h0M413.0 306.0h0M449.3 313.2h0M448.2 312.3h0M441.1 321.1h0M417.6 303.3h0M353.6 253.6h0M335.9 248.6h0M418.0 297.5h0M350.1 335.3h0M337.3 251.6h0M363.0 253.1h0M353.4 255.3h0M355.4 252.0h0M429.8 309.6h0M416.7 320.9h0" stroke="#b4a0dc" stroke-width="0.65" stroke-linecap="round" fill="none"/>
<path d="M446.7 313.8h0M442.3 292.0h0M349.4 242.8h0M438.1 287.0h0M427.5 294.6h0M416.3 297.4h0M415.1 292.7h0M436.1 313.4h0M415.1 311.5h0M438.8 313.5h0M347.9 239.7h0M419.2 302.6h0M437.4 287.6h0M354.9 239.3h0M419.1 286.9h0M420.6 292.8h0M445.4 298.8h0M435.0 288.8h0M433.7 297.4h0M433.2 308.1h0M450.1 304.9h0M425.6 299.6h0M417.0 290.7h0M350.7 238.2h0M352.1 335.7h0M350.6 236.3h0M435.6 286.7h0M443.1 296.2h0M438.0 302.0h0M354.6 250.7h0M442.9 299.7h0M417.2 294.9h0M418.6 314.5h0M442.3 293.8h0M424.9 291.1h0M446.0 291.5h0M441.3 299.7h0M352.8 243.7h0M444.3 304.9h0M411.9 295.2h0M439.3 290.1h0M427.1 298.4h0M351.5 235.0h0M441.4 291.0h0M418.7 287.4h0M348.3 236.2h0M445.3 295.7h0M349.6 336.9h0M426.1 294.9h0M446.8 312.5h0M353.2 239.1h0M345.5 249.8h0M424.1 290.1h0M446.3 299.9h0M439.2 307.2h0M445.3 306.2h0M349.1 246.9h0M432.6 295.8h0M444.9 293.0h0M446.5 293.9h0M344.1 240.2h0M347.6 239.4h0M440.3 306.7h0M442.6 300.9h0M450.1 306.0h0M447.5 314.3h0M344.2 252.9h0M439.1 302.0h0M353.5 236.5h0M427.9 309.4h0M425.2 287.8h0M441.9 306.1h0M354.7 242.1h0M335.5 245.7h0M355.2 243.4h0M347.7 251.4h0M432.2 313.9h0M439.2 320.2h0M413.5 293.5h0M441.6 287.7h0M349.0 251.1h0M414.3 299.3h0M426.5 288.3h0M443.8 290.2h0M419.5 306.6h0M355.5 238.3h0M438.0 299.1h0M446.1 293.7h0M424.8 289.3h0M350.7 242.7h0M441.5 291.2h0M348.7 237.6h0M338.2 243.2h0M429.7 295.4h0M341.0 331.8h0M430.3 291.2h0M437.6 307.9h0M438.2 300.3h0M431.6 290.2h0M435.4 302.3h0M445.0 310.8h0M432.1 300.9h0M354.1 239.9h0M413.0 292.8h0M434.7 290.0h0M345.2 248.1h0M432.2 289.0h0M417.0 300.2h0M440.5 309.9h0M413.7 306.2h0M439.1 309.9h0M438.5 288.0h0M351.9 242.3h0M432.1 294.7h0M353.3 237.4h0M442.8 292.3h0M443.8 297.7h0M437.6 286.5h0M421.4 293.8h0M437.2 299.1h0M411.5 306.1h0M448.9 311.3h0M447.0 298.1h0M436.3 294.5h0M417.6 289.0h0M433.0 311.1h0M352.2 241.2h0M347.6 245.1h0M442.8 301.4h0M438.7 289.1h0M431.2 289.1h0M443.7 307.3h0M417.1 291.9h0M424.8 290.0h0M346.1 236.7h0M433.3 294.4h0M430.6 291.8h0M336.6 256.8h0M444.5 304.3h0M433.4 288.1h0M428.2 303.2h0M361.5 245.9h0M352.1 241.1h0M359.8 253.1h0M421.4 306.1h0M430.5 291.1h0M448.4 309.4h0M439.3 301.4h0M449.6 310.5h0M448.7 302.3h0M353.2 254.4h0M429.1 288.0h0M433.1 297.6h0M445.6 301.5h0M345.2 249.2h0M415.9 289.3h0M433.5 293.3h0M418.5 303.5h0M351.3 249.7h0M344.8 241.1h0M426.1 286.8h0M449.2 301.4h0M435.9 287.1h0M438.8 288.7h0M337.9 250.4h0M413.8 295.6h0M414.4 290.1h0M442.6 288.7h0M418.3 291.0h0M427.3 287.5h0M444.9 299.9h0M447.9 298.0h0M425.5 286.1h0M341.9 237.8h0M346.4 243.7h0M415.7 300.0h0M335.3 248.7h0M439.8 302.9h0M439.6 297.2h0M420.4 286.5h0M421.0 290.6h0M430.1 300.6h0M344.9 239.8h0M425.8 289.6h0M345.1 235.8h0M441.5 303.1h0M344.0 235.9h0M352.1 240.4h0M410.4 302.7h0M427.5 294.2h0M432.5 292.2h0M352.2 237.8h0M431.9 288.7h0M357.4 240.0h0M421.4 293.9h0M433.2 290.4h0M425.2 299.4h0M445.5 296.5h0M429.9 294.5h0M440.5 296.8h0M344.8 239.8h0M436.2 293.6h0M432.4 300.2h0M424.5 287.3h0M414.1 290.5h0M444.9 292.6h0M414.1 290.5h0M338.7 244.8h0M441.8 288.2h0M438.7 289.3h0M349.2 235.7h0M420.2 298.0h0M441.2 303.2h0M445.1 305.2h0M446.9 307.4h0M421.7 291.2h0M355.9 237.0h0M449.1 298.3h0M440.6 309.6h0M351.5 336.1h0M428.0 294.1h0M348.1 243.4h0M438.7 294.0h0M435.3 294.5h0M439.1 303.3h0M356.3 239.2h0M431.2 305.8h0M449.0 304.5h0M354.0 245.2h0M337.5 251.4h0M348.3 236.6h0M448.3 296.8h0M413.3 293.7h0M356.0 237.8h0M339.9 241.9h0M344.5 249.4h0M353.2 240.2h0M440.9 307.5h0M428.6 293.3h0M345.1 237.1h0M444.7 293.6h0M428.5 298.8h0M415.6 295.7h0M444.2 292.8h0M339.9 241.5h0M342.1 236.7h0M426.4 299.3h0M439.5 293.5h0M428.3 290.5h0M435.9 302.1h0M435.5 292.1h0M432.1 290.2h0M420.5 293.6h0M432.3 290.5h0M347.5 240.4h0M441.2 289.5h0M426.8 301.4h0M441.6 293.5h0M436.0 296.7h0M422.2 288.7h0M416.0 292.6h0M350.1 334.7h0M450.5 305.2h0M446.0 304.3h0M413.8 301.9h0M412.9 299.9h0M435.4 286.2h0M431.9 292.4h0M412.2 295.5h0M444.9 306.9h0M350.7 237.0h0M337.3 243.4h0M414.4 295.6h0M356.8 237.5h0M438.2 289.7h0M419.5 298.6h0M338.4 252.5h0M434.1 297.2h0M355.5 241.9h0M432.2 289.8h0M415.4 296.5h0M415.9 295.0h0M441.3 291.3h0M422.6 313.8h0M433.0 294.1h0M343.5 336.2h0M431.9 301.3h0M444.8 295.9h0M343.4 240.9h0M422.3 298.8h0M426.6 289.1h0M444.1 312.3h0M428.7 309.7h0M423.8 301.7h0M446.4 302.9h0M429.0 287.9h0M408.6 302.4h0M412.2 292.8h0M445.8 294.2h0M441.5 301.1h0M425.6 298.1h0M430.1 307.8h0M435.4 294.4h0M345.6 249.5h0M334.8 246.2h0M433.4 296.9h0M429.9 299.9h0M428.5 301.9h0M442.3 294.9h0M337.9 241.0h0M422.1 289.9h0M339.8 240.6h0M435.9 301.8h0M419.2 292.5h0M440.2 305.9h0M424.0 292.9h0M433.1 289.1h0M346.9 238.2h0M339.1 246.7h0M341.5 238.3h0M358.1 242.9h0M434.7 289.4h0M415.7 291.6h0M447.4 297.6h0M343.7 240.8h0M424.7 286.5h0M418.9 293.7h0M415.3 297.3h0M433.5 303.0h0M442.0 288.8h0M423.8 286.9h0M440.0 294.2h0M437.3 302.2h0M439.4 302.0h0M444.8 292.5h0M419.6 294.5h0M439.2 300.4h0M345.8 247.5h0M437.4 296.6h0M428.7 291.5h0M345.7 254.6h0M337.2 241.9h0M419.8 291.9h0M443.1 289.9h0M438.7 287.5h0M442.9 303.6h0M420.4 298.2h0M423.6 297.1h0M354.3 240.9h0M450.3 307.9h0M436.1 290.0h0M413.2 292.5h0M438.3 308.5h0M448.4 296.2h0M424.7 298.6h0M438.0 300.9h0M345.6 256.0h0M419.6 287.6h0M436.5 297.3h0M347.7 239.8h0M411.6 302.6h0M443.9 302.6h0M432.6 290.4h0M428.4 296.3h0M444.5 290.8h0M423.8 299.8h0M350.9 238.9h0M439.8 302.0h0M356.1 241.5h0M356.9 237.8h0M407.7 318.2h0M426.6 288.1h0M352.6 237.8h0M340.7 239.0h0M442.1 301.0h0M434.1 291.6h0M423.2 293.2h0M424.6 298.1h0M409.6 303.2h0M425.7 291.7h0M448.2 297.4h0M414.2 296.7h0M360.0 243.0h0M427.0 287.1h0M422.9 287.8h0M448.5 302.5h0M445.3 296.0h0M413.1 302.5h0M423.7 310.0h0M421.4 298.5h0M420.1 300.2h0M432.4 302.4h0M433.9 297.5h0M420.0 291.5h0M342.4 239.2h0M422.7 297.4h0M439.2 303.1h0M430.1 314.8h0M427.7 290.0h0M445.4 293.4h0M352.0 237.3h0M432.8 295.4h0M425.5 295.2h0M419.1 288.9h0M340.3 251.6h0M412.4 299.9h0M420.9 295.7h0M445.7 299.0h0M345.2 238.9h0M432.1 294.3h0M431.7 288.6h0M424.5 298.1h0M433.2 295.5h0M447.5 314.5h0M358.7 240.5h0M438.9 306.0h0M443.6 302.0h0M353.9 240.9h0M432.1 303.4h0M436.5 295.0h0M431.9 297.5h0M448.5 304.0h0M420.9 291.0h0M425.5 286.4h0M354.0 251.6h0M438.3 299.3h0M354.4 238.1h0M355.3 240.9h0M449.0 303.0h0M340.9 238.4h0M427.2 303.2h0M449.1 299.1h0M339.3 247.6h0M442.9 302.0h0M435.4 303.6h0M432.5 310.7h0M435.0 290.1h0M439.2 292.6h0M346.8 243.2h0M346.4 333.5h0M419.6 293.3h0M438.5 297.4h0M433.9 297.0h0M336.6 246.9h0M338.5 243.7h0M438.3 294.6h0M442.0 304.1h0M443.3 303.3h0M443.0 295.8h0M442.8 292.9h0M448.7 301.8h0M448.4 300.2h0M445.6 292.9h0M444.0 309.4h0M427.5 299.7h0M339.8 241.6h0M339.5 241.9h0M442.6 291.7h0M430.4 296.8h0M444.4 292.3h0M335.9 247.5h0M426.4 287.1h0M415.7 292.4h0M343.3 330.5h0M445.0 303.7h0M423.4 288.5h0M439.7 293.8h0M429.5 288.1h0M421.0 288.5h0M444.1 301.7h0M448.1 308.0h0M436.3 310.8h0M446.1 308.5h0M346.1 238.0h0M420.7 301.0h0M349.9 239.1h0M352.9 251.9h0M430.1 308.7h0M352.1 256.5h0M431.5 296.2h0M432.8 294.5h0M433.0 288.7h0M348.5 245.2h0M347.1 237.7h0M418.9 291.7h0M432.8 295.9h0M414.4 294.2h0M420.2 292.9h0M422.3 290.1h0M353.9 243.5h0M409.3 302.8h0M340.9 239.4h0M353.6 252.4h0M437.9 289.4h0M427.0 313.2h0M351.4 235.7h0M408.5 298.9h0M335.5 245.8h0M415.3 299.6h0M445.6 301.2h0M355.2 238.1h0M344.3 241.6h0M425.3 288.8h0M438.1 304.0h0M441.7 288.3h0M435.2 291.2h0M436.8 286.7h0M352.2 235.2h0M429.2 294.2h0M351.2 242.9h0M445.2 314.5h0M445.9 292.8h0M421.2 290.1h0M350.2 246.3h0M347.7 334.4h0M351.8 250.2h0M427.9 291.5h0M335.9 244.2h0M428.2 304.5h0M450.7 312.1h0M417.4 295.7h0M420.1 305.6h0M423.7 299.3h0M424.2 289.2h0M449.0 301.9h0M351.7 240.2h0M443.0 303.4h0M424.1 287.8h0M440.6 313.2h0M426.2 303.3h0M446.9 294.9h0M421.4 286.4h0M423.7 293.8h0M428.7 288.7h0M423.7 303.4h0M355.3 238.2h0M415.7 311.1h0M338.7 242.4h0M356.9 237.6h0M349.8 234.4h0M441.9 288.6h0M416.1 287.8h0M448.1 302.9h0M435.2 297.9h0M442.1 300.8h0M340.8 247.7h0M446.3 310.3h0M354.2 243.3h0M415.0 299.4h0M345.1 236.3h0M350.5 236.0h0M426.9 313.6h0M349.2 239.1h0M429.1 301.3h0M440.0 294.0h0M442.1 288.6h0M420.1 288.8h0M410.2 295.6h0M417.1 289.5h0M414.8 304.2h0M356.8 241.7h0M415.9 297.2h0M427.0 291.5h0M430.7 289.5h0M355.3 247.5h0M448.2 297.4h0M352.0 238.7h0M358.9 246.8h0M446.9 304.8h0M351.5 240.3h0M429.4 292.7h0M356.2 242.7h0M337.5 242.8h0M346.2 236.1h0M351.2 235.3h0M434.3 292.7h0M432.5 296.5h0M446.3 299.2h0M425.7 290.5h0M428.2 289.5h0M417.7 294.1h0M442.5 313.3h0M355.6 239.2h0M434.2 326.4h0M427.7 298.1h0M353.9 237.2h0M438.1 287.7h0M356.8 246.5h0M412.9 302.3h0M430.4 299.8h0M440.1 315.1h0M420.0 302.1h0M446.7 293.2h0M442.9 301.3h0M439.3 289.7h0M431.7 300.1h0M432.9 295.9h0M354.8 237.8h0M447.4 296.7h0M415.9 296.6h0M434.8 295.8h0M337.6 248.2h0M343.6 241.8h0M433.8 286.5h0M436.3 302.8h0M435.9 290.8h0M446.8 312.1h0M436.0 303.0h0M415.7 292.8h0M445.3 301.9h0M360.6 244.3h0M429.0 296.3h0M419.7 290.2h0M336.1 245.8h0M449.3 302.1h0M413.2 296.6h0M440.5 297.4h0M447.8 298.3h0M432.7 296.8h0M422.7 289.5h0M346.7 235.4h0M449.0 305.8h0M353.0 239.4h0M426.7 297.1h0M350.1 244.0h0M440.3 304.8h0M428.7 291.6h0M447.7 303.4h0M412.8 299.6h0M434.8 296.8h0M449.1 302.4h0M343.7 243.7h0M445.7 294.2h0M436.5 288.9h0M445.7 297.9h0M425.6 289.3h0M429.0 294.8h0M343.3 238.2h0M447.5 313.6h0M442.9 292.3h0M412.0 311.8h0M417.5 289.9h0M449.3 302.5h0M416.4 291.1h0M345.7 245.2h0M438.6 287.9h0M424.9 295.1h0M443.8 303.3h0M436.4 286.7h0M344.3 249.5h0M343.1 238.5h0M413.9 292.9h0M438.7 294.4h0M418.5 299.7h0M431.2 307.2h0M348.0 237.6h0M435.7 308.8h0M426.7 298.7h0M445.0 295.7h0M345.2 239.2h0M421.6 301.4h0M442.0 300.1h0M429.9 301.7h0M410.5 298.5h0M428.8 296.2h0M353.2 252.6h0M419.6 303.5h0M334.8 246.0h0M416.6 300.9h0M418.9 291.1h0M444.9 290.2h0M351.7 239.1h0M446.3 305.9h0M345.2 250.6h0M348.6 242.7h0M353.6 253.5h0M351.1 240.1h0M449.6 304.5h0M425.3 299.9h0M448.3 304.4h0M426.9 298.9h0M440.7 300.0h0M411.6 299.3h0M426.0 300.9h0M434.4 287.7h0M346.8 235.4h0M431.6 314.2h0M443.4 311.2h0M345.8 240.0h0M355.9 334.7h0M448.3 303.7h0M438.9 296.2h0M441.6 288.6h0M343.2 247.0h0M359.3 243.7h0M347.0 240.2h0M418.0 290.9h0M354.9 239.8h0M427.8 296.5h0M355.6 250.9h0M444.4 313.6h0M416.7 287.3h0M448.7 315.1h0M440.4 307.2h0M428.8 289.8h0M424.9 305.2h0M442.6 299.3h0M437.3 303.3h0M423.8 292.6h0M419.2 288.1h0M449.2 300.7h0M416.4 296.1h0M443.7 307.7h0M432.2 292.4h0M427.4 295.0h0M422.3 297.7h0M429.0 294.3h0M345.8 236.2h0M350.1 235.3h0M444.7 290.3h0M416.2 288.0h0M425.7 307.3h0M420.9 293.4h0M419.6 290.9h0M437.2 287.2h0M349.9 245.6h0M348.8 248.6h0M431.5 300.0h0M336.4 248.8h0M333.7 250.4h0M447.3 294.7h0M448.8 298.2h0M349.9 239.9h0M413.2 301.5h0M445.2 290.7h0M446.2 305.8h0M436.3 300.3h0M347.9 234.5h0M444.7 297.4h0M420.4 290.5h0M439.7 288.4h0M448.2 297.0h0M354.4 241.6h0M448.6 302.2h0M449.9 304.3h0M436.8 296.3h0M418.6 289.0h0M444.6 299.5h0M436.8 289.8h0M429.5 295.0h0M434.0 291.2h0M333.7 249.5h0M344.7 237.2h0M359.3 242.9h0M426.8 299.2h0M413.5 296.3h0M416.0 304.5h0M445.6 291.6h0M434.3 298.7h0M444.9 299.4h0M349.2 235.9h0M357.7 241.7h0M432.0 295.0h0M344.6 239.9h0M349.3 234.4h0M430.2 288.6h0M431.4 297.5h0M338.1 242.1h0M438.2 300.7h0M422.8 286.8h0M417.8 299.0h0M344.1 239.3h0M358.3 245.1h0M437.9 289.3h0M336.1 244.0h0M440.5 309.8h0M442.8 308.4h0M433.2 289.1h0M426.9 300.2h0M348.2 236.9h0M354.9 245.3h0M339.5 240.4h0M422.6 290.6h0M439.8 288.3h0M431.8 293.9h0M424.3 296.9h0M360.7 246.0h0M431.0 293.6h0M442.4 289.4h0M448.5 302.1h0M445.4 299.1h0M449.9 305.6h0M352.7 252.9h0M353.6 239.8h0M350.7 236.8h0M351.3 242.4h0M434.5 310.1h0M426.9 291.3h0M440.8 315.2h0M448.9 298.1h0M437.8 288.5h0M430.1 288.2h0M437.0 300.2h0M447.8 301.5h0M424.3 294.9h0M353.9 238.5h0M417.6 308.3h0M346.6 240.1h0M411.3 297.3h0M351.4 245.4h0M425.5 304.6h0M348.5 237.8h0M415.0 299.4h0M446.9 318.9h0M433.0 311.5h0M434.6 298.9h0M443.0 297.0h0M425.6 296.2h0M346.5 235.2h0M350.6 236.0h0M439.2 287.9h0M338.8 248.6h0M351.6 249.6h0M429.6 286.9h0M427.2 293.8h0M418.8 290.0h0M413.9 291.8h0M441.6 289.4h0M431.2 296.0h0M421.9 288.5h0M356.1 239.3h0M355.9 237.4h0M446.3 297.9h0M341.4 245.1h0M343.4 236.8h0M422.1 295.7h0M344.5 238.1h0M411.0 295.4h0M433.5 304.7h0M353.9 244.0h0M361.4 248.8h0M336.2 248.4h0M408.9 303.9h0M354.0 253.1h0M426.6 299.7h0M339.9 239.0h0M425.4 300.2h0M436.4 287.4h0M422.5 300.0h0M352.9 238.1h0M436.9 292.4h0M338.5 241.1h0M440.5 305.3h0M340.9 241.0h0M355.8 241.7h0M441.9 288.9h0M353.9 242.9h0M434.9 303.4h0M435.2 293.8h0M433.3 300.1h0M429.6 301.6h0M422.9 297.6h0M439.2 302.7h0M429.9 297.1h0M354.5 241.4h0M415.4 297.3h0M444.7 299.6h0M339.8 241.1h0M351.2 239.3h0M437.8 296.1h0M358.6 241.1h0M430.7 298.4h0M444.1 313.8h0M432.4 294.6h0M347.0 240.5h0M438.9 300.7h0M446.3 306.1h0M434.6 301.3h0M441.7 294.7h0M355.1 239.2h0M419.0 304.5h0M351.1 238.2h0M345.7 242.6h0M450.8 316.4h0M431.6 293.4h0M423.9 288.7h0M347.1 237.8h0M438.7 316.1h0M441.3 308.1h0M438.2 306.6h0M353.3 251.1h0M341.5 243.8h0M358.6 242.8h0M435.3 287.0h0M344.1 238.9h0M435.5 301.0h0M410.9 299.1h0M421.4 302.1h0M447.4 306.2h0M420.3 290.8h0M445.7 300.3h0M441.8 302.5h0M445.2 290.8h0M449.4 300.0h0M446.9 292.8h0M352.1 250.5h0M449.0 299.7h0M433.1 306.6h0M442.1 293.7h0M418.0 303.0h0M447.3 318.1h0M434.2 309.5h0M436.9 289.2h0M417.1 298.8h0M442.5 293.9h0M446.7 305.7h0M428.8 310.4h0M415.2 290.8h0M448.8 298.1h0M348.2 237.4h0M443.9 295.4h0M421.2 305.3h0M416.4 295.3h0M420.4 287.9h0M445.8 302.2h0" stroke="#8c78f0" stroke-width="0.65" stroke-linecap="round" fill="none"/>
<path d="M427.6 332.2h0M449.8 323.3h0M367.4 277.8h0M408.8 337.0h0M422.4 329.1h0M441.2 349.2h0M351.6 260.4h0M341.4 258.4h0M347.7 265.1h0M425.6 332.0h0M358.5 266.2h0M358.4 264.6h0M424.6 324.2h0M426.1 338.6h0M431.4 332.8h0M445.9 329.5h0M353.5 265.0h0M412.5 335.7h0M441.3 344.9h0M432.4 340.1h0M431.6 318.5h0M444.9 332.9h0M444.6 347.2h0M438.5 343.2h0M446.7 318.8h0M449.9 333.0h0M409.4 330.6h0M354.0 270.1h0M432.8 340.2h0M441.1 333.6h0M408.9 315.6h0M437.4 342.4h0M361.3 269.0h0M418.9 349.4h0M352.2 268.3h0M447.7 335.4h0M344.8 260.9h0M440.8 334.6h0M442.2 349.4h0M351.6 269.6h0M362.1 268.0h0M444.0 341.6h0M439.1 319.0h0M353.4 264.8h0M436.2 349.7h0M427.6 332.4h0M437.9 334.7h0M358.3 267.5h0M443.8 336.6h0M340.0 257.7h0M348.6 266.4h0M429.8 335.5h0M408.5 314.3h0M439.2 343.1h0M360.1 262.2h0M430.8 328.5h0M428.8 323.5h0M350.4 260.8h0M444.5 320.2h0M355.3 275.2h0M418.0 349.9h0M448.0 333.7h0M431.5 332.4h0M415.1 326.8h0M358.5 267.3h0M445.5 345.0h0M427.4 339.6h0M429.5 332.3h0M407.7 336.6h0M443.1 335.5h0M423.2 336.2h0M412.6 346.1h0M422.5 342.3h0M441.3 324.2h0M420.8 337.0h0M347.2 268.5h0M352.8 253.0h0M418.7 304.7h0M358.2 273.0h0M433.7 340.0h0M440.9 337.0h0M354.0 269.2h0M430.3 332.6h0M351.2 269.7h0M358.8 255.8h0M437.4 339.2h0M435.2 333.3h0M448.4 335.6h0M419.9 329.1h0M429.4 322.7h0M409.9 343.5h0M350.6 270.8h0M444.9 333.2h0M437.6 337.1h0M449.1 325.9h0M360.1 269.3h0M423.8 335.5h0M445.4 336.7h0M434.6 328.3h0M354.5 274.3h0M343.2 256.0h0M415.5 334.4h0M411.9 309.0h0M428.0 335.4h0M434.4 332.2h0M354.2 253.5h0M422.5 340.4h0M440.3 349.9h0M428.7 339.0h0M437.6 335.4h0M439.2 346.5h0M418.1 330.3h0M408.1 331.8h0M442.8 338.1h0M435.5 337.8h0M439.8 326.6h0M407.5 320.1h0M429.2 324.3h0M423.7 339.6h0M415.1 333.3h0M420.4 325.9h0M356.7 272.2h0M420.0 339.3h0M441.5 341.1h0M447.9 331.1h0M419.6 337.7h0M430.5 332.1h0M415.8 314.1h0M438.5 327.7h0M359.8 265.0h0M343.8 264.3h0M427.5 339.5h0M351.8 262.7h0M334.5 256.9h0M347.2 263.3h0M420.4 342.6h0M419.5 336.3h0M412.7 330.9h0M351.2 265.3h0M360.9 270.1h0M438.2 328.1h0M421.8 351.3h0M449.7 326.2h0M418.9 327.0h0M421.2 338.7h0M346.3 265.8h0M414.9 334.9h0M414.5 336.7h0M410.5 330.1h0M356.4 260.3h0M429.2 331.3h0M419.6 331.2h0M428.1 345.1h0M359.1 261.4h0M437.2 347.7h0M446.3 345.5h0M430.6 329.0h0M410.0 332.8h0M348.3 266.8h0M352.5 265.7h0M434.3 345.3h0M358.2 274.4h0M359.0 269.9h0M426.3 346.9h0M424.5 339.0h0M407.5 334.5h0M414.5 341.0h0M448.0 338.5h0M432.1 337.0h0M437.3 335.4h0M338.0 260.9h0M415.0 323.6h0M358.3 271.7h0M437.2 331.1h0M356.5 263.9h0M436.1 342.0h0M448.8 333.9h0M440.6 330.4h0M425.1 342.4h0M347.6 269.0h0M358.9 257.1h0M417.0 350.8h0M439.9 327.0h0M433.9 336.1h0M421.0 331.7h0M354.3 268.0h0M435.2 329.6h0M358.4 261.3h0M348.6 264.1h0M443.3 328.0h0M445.2 340.3h0M423.6 341.8h0M443.4 340.6h0" stroke="#f07864" stroke-width="0.65" stroke-linecap="round" fill="none"/>
<path d="M358.6 270.3h0M338.4 258.5h0M355.0 262.3h0M445.4 337.5h0M426.5 332.8h0M413.5 339.5h0M446.6 334.0h0M439.2 324.2h0M413.2 334.3h0M424.9 338.8h0M433.4 322.6h0M417.4 333.1h0M431.3 340.2h0M425.0 349.1h0M418.1 329.4h0M426.8 326.5h0M425.5 334.5h0M352.1 252.1h0M441.9 342.2h0M425.4 318.3h0M424.7 327.6h0M426.1 329.9h0M412.1 340.4h0M440.5 332.3h0M434.7 339.7h0M417.3 329.7h0M409.9 334.9h0M432.3 336.1h0M427.1 345.0h0M440.1 333.1h0M359.9 273.8h0M342.9 261.1h0M430.6 326.7h0M426.8 329.1h0M422.4 333.0h0M435.6 328.1h0M412.8 331.1h0M358.5 269.6h0M419.9 337.7h0M435.5 338.0h0M431.1 341.6h0M339.6 257.6h0M450.1 319.4h0M355.8 274.3h0M420.1 339.6h0M438.3 344.4h0M341.6 256.6h0M350.8 335.3h0M421.1 332.9h0M351.9 264.3h0M351.2 274.1h0M407.7 318.0h0M345.1 269.3h0M346.4 263.1h0M350.4 267.4h0M413.2 331.2h0M416.5 334.5h0M355.7 335.5h0M423.3 332.1h0M421.2 335.2h0M416.5 346.3h0M345.2 267.1h0M336.8 259.6h0M340.7 257.9h0M410.4 345.2h0M447.3 318.0h0M437.7 342.3h0M339.5 258.5h0M422.0 328.9h0M411.8 317.6h0M449.3 335.9h0M357.2 257.0h0M362.2 267.7h0M427.5 340.3h0M418.1 327.8h0M425.7 344.3h0M429.1 330.7h0M430.1 349.1h0M422.7 324.3h0M345.4 255.3h0M442.4 339.3h0M409.4 333.2h0M420.4 327.1h0M408.8 332.7h0M347.4 256.7h0M442.8 333.7h0M430.8 330.8h0M427.0 338.2h0M416.3 336.6h0M347.5 272.4h0M437.5 324.6h0M439.3 349.7h0M429.7 339.9h0M445.1 340.7h0M434.0 336.9h0M414.9 326.0h0M444.5 330.8h0M417.3 326.9h0M413.4 342.4h0M343.9 257.9h0M446.8 335.7h0M424.2 325.5h0M419.3 341.7h0M341.8 264.8h0M424.6 327.8h0M419.0 335.8h0M424.7 335.2h0M360.8 267.7h0M418.7 327.7h0M418.5 339.0h0M355.7 269.9h0M428.4 316.9h0M430.9 328.9h0M411.5 334.7h0M419.8 335.2h0M442.9 348.8h0M449.3 334.5h0M347.6 269.7h0M346.7 272.3h0M448.9 334.1h0M352.4 265.9h0M407.9 320.4h0M413.9 329.9h0M347.7 259.3h0M426.5 330.7h0M354.6 272.3h0M426.8 323.1h0M411.5 318.5h0M429.3 343.5h0M354.6 257.4h0M420.8 333.9h0M409.8 341.1h0M413.3 329.7h0M437.6 344.5h0M353.9 261.4h0M434.9 343.2h0M437.6 338.4h0M407.3 326.9h0M361.1 267.8h0M354.0 270.6h0M345.1 251.1h0M418.6 344.8h0M335.7 258.0h0M368.8 279.8h0M359.2 263.7h0M407.4 325.5h0M426.1 349.2h0M445.8 344.1h0M345.3 263.8h0M448.4 336.5h0M355.8 259.6h0M337.3 257.8h0M432.2 330.7h0M343.6 265.6h0M447.2 321.7h0M433.0 343.7h0M445.1 325.4h0M341.7 261.2h0M361.4 265.8h0M407.7 309.5h0M421.1 328.0h0M420.4 323.2h0M446.2 330.9h0M362.8 255.0h0M353.2 263.7h0M354.6 260.8h0M425.1 352.6h0M419.5 326.2h0M352.2 265.8h0M350.1 268.8h0M427.5 339.0h0M352.2 268.0h0M407.3 334.9h0M432.1 348.9h0M412.6 336.1h0M429.3 338.6h0M444.3 315.8h0M360.2 266.0h0M437.5 321.4h0M448.0 329.5h0M429.2 332.5h0M440.3 335.2h0M443.6 333.6h0M407.5 317.9h0M348.4 274.9h0M450.0 325.6h0M426.0 322.7h0M348.8 251.7h0M356.4 267.4h0M426.1 341.3h0M438.0 343.1h0M422.5 347.8h0M416.1 332.1h0M423.4 317.4h0M407.9 311.8h0M440.8 331.6h0M408.4 328.5h0M433.0 337.7h0M414.7 335.0h0M445.1 345.7h0M434.1 334.1h0M351.2 257.6h0M333.9 253.2h0M436.3 329.0h0M429.5 329.0h0M346.6 267.5h0M424.3 329.3h0M414.1 309.7h0M423.7 336.9h0M362.6 261.0h0M363.0 258.0h0M416.0 335.7h0M408.2 314.0h0M347.7 272.6h0M419.0 348.6h0M346.9 262.9h0M435.3 338.1h0M340.4 254.3h0M442.2 330.4h0M447.7 339.1h0M355.6 254.7h0M417.2 332.4h0M360.1 271.7h0M415.6 341.8h0M355.1 257.4h0M346.8 268.1h0M420.8 341.7h0M431.8 338.2h0" stroke="#f08c78" stroke-width="0.65" stroke-linecap="round" fill="none"/>
<path d="M356.4 251.9h0M347.4 248.8h0M449.9 321.6h0M420.8 328.8h0M449.1 316.7h0M357.0 255.1h0M431.4 304.0h0M345.4 255.5h0M407.9 324.6h0M357.8 266.3h0M410.4 304.3h0M431.6 312.1h0M410.1 312.5h0M339.1 261.1h0M354.3 268.2h0M433.7 312.7h0M438.6 307.1h0M340.1 331.1h0M434.6 315.4h0M337.9 248.8h0M439.2 320.3h0M353.6 257.2h0M335.4 257.7h0M423.5 310.5h0M359.9 256.9h0M446.8 324.3h0M417.2 313.3h0M418.3 298.3h0M412.9 308.7h0M421.8 315.1h0M357.4 256.2h0M355.5 253.5h0M415.0 294.5h0M448.1 327.3h0M345.6 254.4h0M358.4 259.5h0M411.5 320.1h0M442.3 311.2h0M423.5 319.3h0M429.0 306.9h0M352.7 255.6h0M341.6 261.4h0M407.2 334.7h0M425.9 316.4h0M443.0 333.0h0M349.3 334.8h0M431.3 306.8h0M444.2 320.8h0M436.6 321.8h0M350.0 248.6h0M422.9 325.0h0M427.0 303.7h0M425.0 319.7h0M415.2 324.3h0M423.0 310.6h0M358.2 260.7h0M355.6 262.5h0M407.7 309.2h0M427.6 301.0h0M435.5 319.0h0M360.6 254.8h0M440.5 305.8h0M341.1 254.6h0M354.9 248.1h0M359.5 251.1h0M426.5 309.5h0M422.6 327.4h0M354.8 334.9h0M417.9 305.8h0M425.5 308.8h0M421.4 319.9h0M334.2 250.7h0M424.0 311.4h0M423.2 301.3h0M353.8 261.9h0M435.4 321.5h0M341.5 326.6h0M450.5 325.4h0M436.9 317.5h0M450.9 314.3h0M438.9 322.9h0M431.0 312.8h0M358.1 260.0h0M434.2 312.6h0M436.6 317.2h0M444.4 319.8h0M419.7 307.3h0M430.7 319.0h0M347.1 264.9h0M437.3 313.5h0M447.8 323.5h0M352.5 252.8h0M337.4 248.8h0M409.8 320.4h0M445.4 315.2h0M344.4 334.1h0M417.6 325.1h0M438.4 318.7h0M411.7 311.7h0M422.9 320.5h0M338.0 259.4h0M348.0 246.9h0M339.5 248.3h0M408.4 303.4h0M334.7 249.3h0M340.8 336.1h0M438.6 310.7h0M351.5 243.3h0M355.8 238.5h0M339.5 255.5h0M335.3 256.3h0M352.0 336.6h0M341.0 326.8h0M354.8 249.7h0M426.4 325.3h0M422.0 303.2h0M348.0 259.3h0M420.0 314.2h0M361.8 247.2h0M356.4 252.4h0M339.0 257.2h0M341.3 251.1h0M340.4 258.0h0M345.4 257.9h0M362.5 261.1h0M437.1 299.7h0M333.5 252.3h0M441.0 318.1h0M347.7 255.3h0M410.8 320.1h0M447.9 319.2h0M448.1 323.2h0M339.0 253.5h0M429.9 330.2h0M416.3 312.1h0M338.7 260.5h0M449.3 306.5h0M349.7 269.8h0M354.2 255.5h0M339.3 243.8h0M347.2 266.3h0M340.5 253.6h0M354.7 257.9h0M351.5 242.2h0M344.1 239.1h0M424.7 332.8h0M422.6 305.6h0M357.2 256.2h0M439.2 331.1h0M335.2 252.9h0M425.9 326.1h0M344.6 252.6h0M407.9 308.4h0M440.2 319.7h0" stroke="#c8b4c8" stroke-width="0.65" stroke-linecap="round" fill="none"/>
<path d="M419.5 295.2h0M408.3 301.6h0M409.7 321.7h0M353.9 246.3h0M341.8 335.1h0M345.1 255.6h0M346.1 238.8h0M348.8 247.1h0M418.9 301.9h0M438.9 321.7h0M423.0 304.5h0M353.8 335.2h0M450.2 316.6h0M450.3 310.8h0M341.7 253.3h0M350.9 243.0h0M337.2 250.4h0M360.8 256.0h0M357.7 255.3h0M438.7 313.0h0M355.9 250.2h0M409.2 313.3h0M437.8 301.8h0M425.2 318.1h0M445.2 308.4h0M439.0 306.0h0M443.2 304.4h0M347.3 248.1h0M424.7 307.3h0M421.9 311.7h0M353.3 241.0h0M413.1 305.8h0M349.5 241.8h0M437.4 316.2h0M346.0 251.4h0M337.9 248.1h0M350.7 235.1h0M357.3 238.4h0M354.6 238.1h0M444.9 304.1h0M354.5 247.9h0M361.1 248.3h0M442.2 301.0h0M447.0 301.9h0M338.7 258.7h0M356.5 242.1h0M430.4 290.4h0M358.2 245.7h0M351.4 335.9h0M421.0 303.2h0M430.7 311.9h0M359.2 244.8h0M353.2 257.9h0M414.8 298.0h0M439.6 309.9h0M441.5 312.2h0M415.2 308.5h0M407.2 332.8h0M412.8 308.5h0M419.8 309.7h0M421.2 316.1h0M339.5 262.0h0M415.5 291.8h0M446.4 305.2h0M360.8 253.1h0M422.4 307.3h0M412.2 316.0h0M429.0 298.7h0M358.5 249.0h0M336.0 243.6h0M348.0 252.5h0M443.4 308.9h0M447.7 306.6h0M439.5 300.6h0M428.9 289.8h0M443.0 303.7h0M428.9 321.3h0M412.8 307.6h0M356.5 246.0h0M423.0 314.5h0M355.0 246.3h0M431.3 311.2h0M345.2 243.6h0M349.7 251.4h0M347.4 243.5h0M418.8 291.1h0M437.0 316.4h0M343.1 245.1h0M443.7 317.8h0M431.1 291.3h0M441.0 301.4h0M343.1 332.0h0M350.7 236.6h0M423.0 309.5h0M358.0 243.0h0M342.6 252.4h0M411.7 294.1h0M341.4 335.5h0M349.0 243.8h0M412.6 324.2h0M358.7 240.9h0M411.5 308.5h0M447.7 303.6h0M355.7 246.7h0M421.9 292.3h0M359.9 248.5h0M423.9 316.0h0M414.9 305.0h0M358.1 248.5h0M336.1 253.1h0M428.7 319.5h0M425.5 296.7h0M416.0 302.3h0M337.4 241.2h0M437.8 313.0h0M427.9 294.8h0M422.8 303.0h0M360.0 241.9h0M437.2 311.2h0M340.0 335.4h0M355.5 262.5h0M352.7 243.4h0M421.5 303.6h0M438.1 301.9h0M414.0 300.3h0M443.6 297.2h0M442.4 308.7h0M442.9 313.9h0M412.7 295.4h0M347.0 242.9h0M413.0 292.7h0M428.6 293.0h0M422.6 311.5h0M421.9 298.4h0M339.4 247.8h0M425.5 321.1h0M436.0 315.3h0M353.0 254.4h0M349.7 336.1h0M448.9 300.1h0M436.0 308.7h0M351.5 248.8h0M446.6 317.8h0M421.3 303.4h0M333.8 250.7h0M355.1 245.9h0M339.3 252.1h0M441.6 309.6h0M429.0 309.5h0M428.7 304.2h0M428.0 305.2h0M446.5 305.5h0M339.7 327.6h0M334.7 248.5h0M420.1 309.4h0M431.4 293.5h0M349.0 240.0h0M419.7 298.2h0M433.8 327.3h0M433.5 302.8h0M435.1 307.4h0M407.5 309.3h0M415.9 293.6h0M407.8 315.3h0M434.7 318.3h0M436.8 323.9h0M351.1 242.9h0M409.6 295.1h0M334.1 248.1h0M353.7 243.8h0M433.6 312.9h0M445.5 318.1h0M428.1 298.0h0M428.4 301.1h0M414.2 295.4h0M358.4 253.0h0M357.1 246.1h0M421.6 311.8h0M426.6 301.9h0M442.4 305.3h0M409.9 304.0h0M354.3 262.2h0M344.5 251.0h0" stroke="#a0a0dc" stroke-width="0.65" stroke-linecap="round" fill="none"/>
<path d="M425.0 322.5h0M436.1 310.7h0M437.2 320.2h0M413.4 316.5h0M421.5 318.2h0M442.7 321.7h0M448.7 328.1h0M447.0 319.5h0M409.0 316.6h0M356.7 261.7h0M420.2 314.0h0M363.1 262.3h0M361.4 248.5h0M362.8 269.3h0M410.6 325.7h0M340.8 262.2h0M428.9 312.5h0M418.9 335.8h0M410.8 310.7h0M429.2 333.1h0M447.2 313.1h0M349.9 335.7h0M407.6 323.1h0M354.4 249.1h0M340.3 259.9h0M414.8 307.7h0M443.3 313.0h0M446.5 336.2h0M433.4 322.1h0M354.6 265.3h0M421.8 319.5h0M340.2 258.9h0M427.3 323.8h0M426.2 319.9h0M345.4 258.4h0M423.7 323.8h0M342.6 256.7h0M346.3 262.4h0M418.0 306.7h0M439.8 307.8h0M435.7 330.8h0M446.4 336.0h0M410.9 330.0h0M423.1 333.5h0M341.2 256.3h0M434.9 312.7h0M420.9 294.3h0M421.7 314.5h0M424.1 326.7h0M350.4 252.6h0M431.7 321.8h0M343.5 336.6h0M426.3 339.7h0M360.9 248.2h0M410.2 300.4h0M418.7 330.4h0M359.1 252.5h0M446.8 311.7h0M359.1 255.2h0M446.7 334.9h0M430.6 318.4h0M361.2 256.4h0M449.1 333.4h0M445.2 335.1h0M422.0 327.2h0M439.9 317.0h0M421.3 328.6h0M359.3 258.6h0M358.1 262.4h0M353.8 249.8h0M354.1 260.9h0M353.1 249.6h0M413.9 326.0h0M344.2 250.0h0M432.6 312.5h0M355.8 256.9h0M443.4 317.5h0M411.6 330.0h0M354.1 264.7h0M446.7 323.5h0M356.2 252.8h0M334.8 252.0h0M415.0 300.1h0M445.0 319.5h0M359.4 256.8h0M408.3 314.3h0M356.1 249.4h0M361.9 266.8h0M413.8 333.8h0M412.0 309.5h0M344.1 335.5h0M412.2 315.1h0M355.7 249.2h0M334.6 248.2h0M434.2 330.7h0M350.1 271.1h0M421.9 334.9h0M427.0 306.0h0M364.9 274.2h0M443.0 323.8h0M351.6 273.8h0M350.5 337.0h0M438.1 333.5h0M444.0 309.5h0M342.5 327.0h0M357.0 258.9h0M418.5 313.6h0M347.0 265.1h0M340.0 328.1h0M445.7 326.8h0M438.7 316.7h0M449.3 323.8h0M441.4 313.8h0M345.2 248.3h0M348.7 254.4h0M355.7 245.0h0M410.7 311.3h0M354.0 255.9h0M435.3 324.4h0M416.1 335.6h0M442.5 319.5h0M439.2 332.5h0M352.6 248.8h0M435.1 325.8h0M413.3 338.6h0M428.7 327.2h0M334.8 245.3h0M348.9 255.8h0M418.9 332.3h0M359.1 254.1h0M342.4 337.2h0M440.1 329.3h0M360.3 253.9h0M442.0 327.6h0M407.9 320.6h0M422.5 322.0h0M413.6 306.2h0M429.8 324.4h0M448.6 327.0h0M432.7 342.8h0M418.4 324.8h0M409.5 315.7h0M358.6 258.5h0M343.8 260.7h0M355.5 255.8h0M409.5 315.0h0M418.3 327.8h0M422.3 330.4h0M436.0 326.1h0M357.9 274.1h0M347.1 260.7h0M431.5 314.0h0M447.5 333.8h0M450.7 317.7h0M409.8 301.4h0M355.3 334.8h0M346.4 260.3h0M437.4 317.3h0M446.2 320.2h0M432.7 321.4h0M361.0 264.5h0M346.1 266.6h0M343.1 248.9h0M361.2 253.1h0M438.8 334.7h0M412.6 313.4h0M362.6 252.6h0M426.4 321.7h0M350.3 336.0h0M339.8 260.8h0M358.8 260.5h0M347.6 260.9h0M432.1 311.8h0M425.0 306.3h0M422.8 309.4h0M407.3 314.0h0M414.3 329.5h0M441.4 329.4h0M409.7 325.7h0M355.6 271.7h0M361.9 252.9h0M344.1 259.3h0M434.0 313.1h0M356.6 254.8h0" stroke="#dcb4b4" stroke-width="0.65" stroke-linecap="round" fill="none"/>
<path d="M423.7 332.8h0M437.1 324.1h0M434.8 318.6h0M434.1 316.9h0M341.0 326.4h0M418.2 331.5h0M342.3 266.2h0M353.4 267.9h0M351.8 255.7h0M356.4 257.7h0M357.5 253.0h0M351.1 251.7h0M422.1 333.6h0M444.7 339.3h0M407.2 333.0h0M429.5 309.3h0M416.6 329.5h0M343.7 266.4h0M361.6 265.1h0M352.7 335.5h0M333.7 247.1h0M446.7 330.1h0M421.5 323.7h0M345.3 263.8h0M448.3 326.8h0M408.1 325.5h0M351.0 271.7h0M438.4 332.6h0M422.6 327.5h0M437.7 320.1h0M427.3 332.9h0M435.5 311.0h0M359.1 260.8h0M346.6 266.1h0M341.1 262.2h0M354.8 259.2h0M427.3 304.7h0M355.8 256.5h0M344.3 333.0h0M448.4 327.1h0M447.2 342.3h0M356.2 258.9h0M356.8 250.9h0M351.5 247.3h0M424.1 323.4h0M355.9 270.0h0M432.3 322.4h0M354.9 256.8h0M337.5 259.1h0M421.2 317.3h0M338.4 257.9h0M447.7 340.5h0M356.5 258.2h0M420.2 322.6h0M424.2 335.5h0M420.2 320.8h0M417.6 323.5h0M431.2 336.0h0M334.2 253.5h0M345.3 253.9h0M408.1 333.3h0M449.7 327.6h0M428.4 336.9h0M439.7 326.4h0M440.6 320.4h0M434.7 337.7h0M359.3 261.5h0M354.3 253.3h0M421.2 318.2h0M440.6 320.5h0M422.0 323.9h0M439.7 336.1h0M354.4 262.4h0M428.0 329.9h0M443.4 322.4h0M335.2 257.4h0M429.9 325.4h0M352.8 263.9h0M349.9 335.9h0M430.7 338.6h0M434.5 320.9h0M436.1 343.6h0M427.9 335.8h0M422.7 330.5h0M412.2 309.4h0M439.3 337.0h0M357.1 262.7h0M360.1 263.8h0M417.3 340.6h0M354.1 266.6h0M357.8 266.3h0M438.5 322.8h0M345.5 261.2h0M431.0 339.0h0M435.7 323.1h0M449.3 318.8h0M437.7 317.1h0M447.4 326.6h0M431.8 335.4h0M350.2 254.1h0M351.3 257.6h0M414.4 337.5h0M435.0 331.6h0M358.5 263.7h0M448.2 310.5h0" stroke="#dcb4a0" stroke-width="0.65" stroke-linecap="round" fill="none"/>
<path d="M354.4 273.2h0M431.0 322.0h0M439.6 325.8h0M439.7 336.6h0M352.8 275.6h0M354.7 271.8h0M346.1 271.4h0M446.9 335.9h0M426.1 334.8h0M446.9 339.4h0M425.0 337.6h0M417.7 348.9h0M349.0 273.8h0M432.4 348.9h0M415.9 349.8h0M437.1 349.0h0M418.9 328.2h0M359.3 265.2h0M443.2 343.9h0M351.1 269.6h0M417.5 349.6h0M341.9 265.4h0M345.2 267.3h0M356.4 261.5h0M423.3 342.1h0M423.2 331.5h0M429.3 330.7h0M433.7 342.8h0M350.0 262.5h0M422.9 342.2h0M358.3 275.3h0M346.8 268.0h0M350.1 258.6h0M342.9 265.9h0M417.6 348.4h0M426.8 344.8h0M435.2 334.8h0M446.2 344.5h0M429.9 343.5h0M434.3 343.1h0M430.1 343.6h0M448.1 337.3h0M432.0 337.0h0M436.6 346.4h0M428.1 349.6h0M424.7 345.4h0M432.4 352.3h0M420.5 347.0h0M411.1 335.6h0M420.6 351.5h0M351.6 275.0h0M350.9 273.3h0M441.7 337.8h0M438.3 337.8h0M351.9 276.1h0M430.9 331.9h0M426.3 340.6h0M411.3 341.6h0M437.4 345.7h0M412.5 346.0h0M427.1 346.9h0M428.6 336.4h0M431.7 351.9h0M424.7 343.0h0M415.3 335.2h0M445.8 326.1h0M420.3 341.2h0M435.6 348.1h0M422.8 350.0h0M431.0 350.9h0M450.6 327.5h0M449.0 337.2h0M416.8 326.8h0M427.4 347.3h0M354.2 275.2h0M352.4 276.5h0M447.9 337.6h0M415.7 348.1h0M341.6 259.8h0M418.4 338.2h0M414.2 345.7h0M432.9 350.6h0M443.8 342.0h0M347.8 272.3h0M438.8 343.3h0M351.8 274.6h0M433.5 337.7h0M425.8 343.0h0M353.1 273.2h0M349.3 272.4h0M433.5 351.9h0M447.3 342.6h0M438.9 343.5h0M433.2 339.5h0M434.5 333.3h0M442.3 333.1h0M427.5 335.5h0M440.7 341.2h0M445.4 339.3h0M423.4 351.5h0M348.1 268.9h0M445.3 332.2h0M445.6 330.4h0M421.3 343.6h0M416.6 336.1h0M431.5 347.1h0M436.6 350.2h0M423.3 351.0h0M445.8 342.9h0M433.8 347.0h0M432.3 340.8h0M414.4 333.2h0M423.9 344.7h0M427.9 351.9h0M442.7 345.6h0M434.2 335.6h0M433.7 352.5h0M423.6 336.6h0M416.8 350.1h0M356.5 275.3h0M441.5 343.3h0M433.2 338.0h0M430.8 352.1h0M437.2 352.4h0M429.2 349.6h0M430.9 320.8h0M353.4 276.5h0M432.5 337.3h0M431.6 329.0h0M415.9 344.1h0M419.0 350.4h0M414.5 328.7h0M417.2 344.7h0M429.9 352.6h0M439.6 349.7h0M444.4 335.5h0M417.0 337.7h0M431.0 346.0h0M350.6 274.9h0M417.9 337.3h0M440.5 337.8h0M422.1 352.8h0M409.3 335.7h0M423.5 345.0h0M407.3 333.4h0M437.5 348.7h0M424.0 342.3h0M352.8 275.2h0M427.0 347.0h0M429.8 344.9h0M418.8 336.5h0M361.8 258.2h0M408.7 336.7h0M361.0 270.7h0M416.9 334.0h0M423.5 344.5h0M441.3 347.4h0M350.1 275.5h0M449.8 337.4h0M424.1 347.7h0M415.2 333.6h0M421.2 323.2h0M427.2 343.7h0M357.1 272.8h0M442.9 348.5h0M444.0 335.1h0M353.9 272.2h0M425.1 341.7h0M349.8 255.7h0M351.6 269.6h0M437.8 340.2h0M350.8 272.1h0M359.7 260.6h0M439.7 329.5h0M434.1 342.7h0M354.5 269.9h0M420.4 341.8h0M443.5 349.0h0M429.8 342.5h0M436.9 333.3h0M425.7 342.9h0M429.4 349.9h0M434.1 351.0h0M447.2 333.8h0M436.9 341.1h0M420.5 342.9h0M427.1 342.6h0M425.3 324.7h0M444.1 342.2h0M436.1 335.7h0M353.5 274.7h0M440.3 341.1h0M431.4 350.4h0M437.5 346.4h0M446.7 330.7h0M357.5 274.4h0M418.6 350.0h0M349.3 269.1h0M423.6 345.6h0M421.2 346.8h0M353.9 276.5h0M431.7 323.1h0M444.9 344.7h0M430.3 341.5h0M447.0 345.3h0M429.9 329.6h0M360.7 274.2h0M420.0 351.4h0M358.0 275.5h0M432.8 342.0h0M436.5 334.9h0M408.5 330.8h0M352.8 277.2h0M422.1 340.4h0M356.2 270.6h0M435.5 341.3h0M424.5 341.9h0M356.6 269.8h0M448.7 338.0h0M436.8 345.5h0M420.5 325.0h0M417.5 347.3h0M420.8 334.8h0M343.9 263.6h0M418.8 345.0h0M362.5 263.5h0M425.7 341.5h0M354.4 272.9h0M450.6 327.5h0M361.7 272.3h0M443.9 345.0h0M349.5 267.9h0M436.5 344.2h0M448.3 340.3h0M415.8 342.7h0M424.4 346.5h0M409.2 326.1h0M446.9 339.1h0M449.3 337.1h0M413.2 348.5h0M425.9 347.9h0M356.5 275.5h0M410.8 341.1h0M345.6 270.8h0M428.4 341.3h0M414.0 347.6h0M352.4 276.6h0M348.7 275.4h0M440.0 338.1h0M408.8 339.1h0M437.4 346.6h0M418.9 348.7h0M440.0 333.6h0M342.0 264.5h0M415.8 340.8h0M351.9 270.9h0M354.7 264.8h0M361.9 265.5h0M429.5 335.7h0M424.3 349.5h0M422.0 340.0h0M443.0 342.8h0M355.3 271.5h0M409.1 324.8h0M353.4 272.5h0M354.5 271.0h0M422.2 347.2h0M443.5 349.3h0M423.9 345.9h0M341.8 263.6h0M415.6 333.5h0M431.0 338.3h0M437.2 335.7h0M437.1 350.4h0M436.6 352.3h0M436.5 344.6h0M355.4 276.9h0M416.9 351.1h0M339.4 260.0h0M433.7 351.9h0M352.8 271.1h0M450.0 331.4h0M421.2 333.9h0M436.9 338.5h0M349.0 269.5h0M433.6 339.9h0M419.4 348.2h0M435.6 340.2h0M433.7 348.8h0M412.0 344.2h0M432.2 351.8h0M357.9 268.3h0M428.9 330.1h0M433.3 344.1h0M424.2 340.8h0M415.8 341.0h0M435.0 341.2h0M426.8 331.1h0M418.1 336.1h0M436.7 352.0h0M418.2 349.3h0M409.3 330.3h0M353.4 264.3h0M446.0 336.3h0M434.9 342.4h0M358.9 265.5h0M445.5 338.0h0M417.6 344.3h0M350.6 271.7h0M423.1 333.3h0M352.4 275.2h0M422.3 348.7h0M351.4 261.1h0M418.5 336.2h0M426.5 350.0h0M437.7 350.8h0M423.0 350.5h0M414.5 327.3h0M420.8 342.0h0M417.0 350.7h0M351.9 271.5h0M413.4 348.9h0M449.5 338.7h0M421.1 339.1h0M443.4 345.6h0M423.8 344.2h0M414.6 350.2h0M424.9 334.9h0M435.0 350.6h0M437.2 342.4h0M441.2 341.5h0M447.2 342.3h0M356.6 275.5h0M349.8 275.8h0M437.7 346.1h0M355.7 270.0h0M419.6 349.1h0M418.9 338.2h0M422.3 342.2h0M432.4 345.9h0M355.2 271.4h0M357.6 272.8h0M432.8 350.9h0M352.6 273.6h0M355.3 273.6h0M438.8 338.3h0M412.1 338.1h0M411.3 344.9h0M429.7 334.9h0M437.7 344.3h0M363.3 262.9h0M360.0 260.6h0M411.7 332.4h0M357.0 266.4h0M426.9 344.9h0M413.4 344.9h0M428.6 351.5h0M412.9 343.3h0M413.6 340.4h0M422.9 345.6h0M420.5 333.2h0M447.4 343.9h0M358.6 271.6h0M437.5 348.6h0M426.1 352.4h0M438.4 346.4h0M433.3 340.3h0M356.6 255.7h0M433.5 347.6h0M423.4 347.4h0M359.2 261.6h0M432.2 345.6h0M348.1 271.9h0M438.7 331.4h0M418.6 349.4h0M444.2 331.6h0M421.0 338.5h0M435.3 346.1h0M426.3 325.3h0M421.6 334.2h0M418.1 333.0h0M348.3 272.8h0M446.2 344.5h0M424.1 342.1h0M442.1 348.3h0M429.5 346.3h0M352.0 271.9h0M436.6 332.9h0M357.4 270.5h0M430.2 351.5h0M345.9 271.2h0M437.5 346.6h0M441.0 333.3h0M428.0 346.9h0M345.5 264.6h0M431.5 346.2h0M351.8 274.6h0M423.5 344.9h0M427.0 352.4h0M436.7 346.6h0M342.5 266.6h0M441.3 345.1h0M440.8 346.5h0M446.3 333.6h0M416.9 332.2h0M415.1 338.7h0M421.8 346.8h0M356.3 267.5h0M424.0 345.3h0M353.4 270.7h0M436.5 330.2h0M418.6 338.5h0M413.9 324.2h0M410.6 342.0h0M434.2 339.6h0M343.1 266.6h0M354.3 270.1h0M433.9 352.6h0M419.5 348.2h0M426.6 347.2h0M416.4 335.8h0M429.3 346.3h0M341.9 261.1h0M415.3 346.3h0M429.2 348.8h0M439.7 347.3h0M444.9 333.5h0M433.0 341.3h0M437.8 347.5h0M415.9 348.3h0M356.2 273.7h0M445.8 327.2h0M354.7 271.1h0M432.3 338.7h0M421.3 326.9h0M430.7 331.1h0M357.7 273.9h0M433.5 347.5h0M416.8 345.9h0M410.8 344.3h0M418.0 351.6h0M414.7 337.2h0M445.2 340.7h0M353.1 273.5h0M425.8 346.3h0M355.2 268.5h0M443.4 328.5h0M450.0 329.0h0M340.4 263.5h0M426.7 340.3h0M425.6 341.0h0M433.5 346.2h0M420.8 344.3h0M440.8 331.3h0M436.3 336.4h0M356.3 273.2h0M408.7 336.8h0M440.0 344.4h0M417.5 351.8h0M430.0 349.2h0M358.4 266.3h0M422.9 344.7h0M362.4 268.7h0M440.0 351.4h0M423.1 340.4h0M434.0 350.5h0M414.1 349.3h0M439.4 329.0h0M354.6 269.0h0M357.0 270.3h0M357.2 265.8h0M415.6 348.5h0M362.6 264.9h0M438.2 347.2h0M411.8 315.6h0M448.8 338.1h0M417.0 342.5h0M441.6 344.3h0M428.7 347.0h0M426.0 345.9h0M354.3 267.4h0M437.9 344.2h0M417.2 345.7h0M359.9 272.5h0M445.5 332.3h0M430.9 345.8h0M418.5 336.8h0M426.0 333.1h0M429.7 351.1h0M351.7 276.5h0M435.6 338.5h0M431.9 343.1h0M417.1 341.7h0M356.3 271.0h0M344.7 264.6h0M347.1 260.2h0M431.8 340.3h0M446.8 323.2h0M440.0 350.4h0M429.6 347.7h0M447.7 336.3h0M430.7 338.8h0M345.9 269.2h0M418.9 332.8h0M443.0 345.3h0M430.8 331.6h0M348.5 274.6h0M439.4 349.3h0M433.4 349.8h0M422.6 342.6h0M423.1 345.8h0M416.1 330.9h0M420.1 343.2h0M424.8 346.1h0M352.2 274.4h0M447.9 340.9h0M413.0 342.2h0M434.6 337.9h0M442.0 347.9h0M424.9 338.5h0M420.0 344.2h0M433.9 347.5h0M437.6 349.3h0M416.6 329.9h0M345.3 270.8h0M351.0 275.5h0M418.7 351.9h0M439.6 332.9h0M447.4 333.0h0M438.0 340.9h0M412.0 339.8h0M446.4 333.1h0M447.3 341.4h0M412.2 345.8h0M446.4 341.2h0M430.8 352.5h0M435.7 338.1h0M437.8 343.7h0M448.5 338.5h0M358.2 267.8h0M360.0 270.8h0M443.6 334.1h0M432.9 342.9h0M439.4 339.5h0M418.1 341.8h0M445.3 334.2h0M424.9 343.3h0M419.1 343.9h0M429.3 348.6h0M434.6 338.6h0M420.2 337.4h0M423.2 341.9h0M436.5 344.3h0M349.7 272.1h0M361.8 271.5h0M411.5 345.4h0M421.9 345.6h0M430.8 313.2h0M448.4 338.5h0M420.4 345.2h0M434.5 330.8h0M416.0 340.9h0M348.2 272.9h0M351.1 270.5h0M349.9 275.7h0M429.4 342.9h0M444.1 318.2h0M349.9 268.4h0M430.9 345.7h0M447.4 333.9h0M439.5 343.2h0M415.7 342.8h0M346.1 269.3h0M442.8 335.7h0M447.7 336.3h0M431.4 349.9h0M353.2 265.6h0M439.1 350.7h0M429.4 347.6h0M357.9 274.7h0M417.3 348.2h0M354.5 273.9h0M413.2 346.1h0M444.6 340.0h0M421.8 329.9h0M428.4 352.3h0M443.1 347.1h0M353.6 263.2h0M421.4 346.0h0M421.2 350.3h0M358.0 276.5h0M415.7 350.1h0M431.3 347.3h0M413.2 343.5h0M443.4 349.9h0M354.4 275.8h0M362.7 268.3h0M440.4 344.4h0M361.5 264.1h0M362.7 265.8h0M423.3 343.0h0M353.3 275.6h0M440.1 351.2h0M448.7 341.2h0M424.6 334.8h0M420.0 352.2h0M422.4 343.9h0M356.9 276.2h0M435.4 343.9h0M354.3 270.4h0M439.9 346.4h0M427.5 349.4h0M417.9 339.2h0M354.9 266.7h0M352.7 275.2h0M431.1 346.0h0M427.9 351.9h0M345.9 260.9h0M439.0 342.6h0M423.7 342.3h0M440.0 329.4h0M360.9 273.4h0M351.8 270.0h0M408.8 329.3h0M430.9 335.8h0M424.6 344.5h0M352.1 267.9h0M426.2 324.9h0M336.1 255.7h0M355.7 272.0h0M418.9 350.3h0M440.2 344.0h0M427.9 341.0h0M359.5 271.2h0M421.2 345.5h0M438.5 342.5h0M442.9 334.4h0M440.8 338.4h0M356.7 269.9h0M354.3 275.4h0M358.4 261.1h0M359.8 270.6h0M435.1 330.4h0M428.7 341.4h0M426.1 343.8h0M350.9 261.2h0M415.9 339.8h0M443.1 343.4h0M445.1 344.6h0M449.3 336.2h0M434.1 340.2h0M423.7 335.2h0M421.4 342.6h0M342.9 261.4h0M427.9 340.2h0M354.6 269.9h0M341.6 264.5h0M438.3 341.3h0M445.5 341.1h0M443.2 337.4h0M445.9 336.2h0M419.2 338.8h0M415.5 340.9h0M435.2 336.4h0M425.7 344.9h0M449.2 337.8h0M433.2 352.1h0M424.3 339.6h0M431.4 347.5h0M347.4 271.1h0M426.9 350.7h0M431.7 336.0h0M426.2 333.7h0M434.9 346.2h0M419.6 332.4h0M419.6 345.8h0M426.5 329.4h0M431.4 345.4h0M439.7 329.6h0M354.9 271.8h0M419.8 331.9h0M423.6 352.8h0M356.8 274.5h0M425.2 351.0h0M415.6 344.3h0M420.3 349.5h0M433.4 351.1h0M441.0 345.3h0M419.7 350.3h0M441.4 350.8h0M420.6 350.2h0M423.0 344.9h0M349.0 274.4h0M415.7 340.0h0M421.5 330.1h0M434.7 341.7h0M444.1 345.0h0M425.0 342.2h0M344.8 263.4h0M413.7 344.7h0M424.2 345.3h0M415.6 343.2h0M433.9 330.9h0M427.7 328.8h0M443.1 346.8h0M446.5 344.9h0M423.5 347.9h0M425.4 338.0h0M347.1 266.3h0M412.4 346.6h0M357.2 268.2h0M345.9 267.2h0M417.1 351.3h0M436.0 341.5h0M416.8 345.3h0M435.1 351.5h0M348.5 265.7h0M422.3 349.4h0M356.0 273.5h0M417.6 338.0h0M430.9 349.5h0M429.6 350.9h0M416.7 341.5h0M428.5 339.4h0M418.2 348.6h0M348.5 268.0h0M442.0 344.8h0M360.0 272.7h0M448.7 339.5h0M360.5 270.2h0M445.8 346.3h0M422.9 351.8h0M411.2 345.4h0M432.4 346.2h0M425.8 353.3h0M424.2 345.1h0M428.6 339.0h0M428.0 347.9h0M430.5 345.7h0M419.2 352.3h0M440.9 345.2h0M355.9 275.7h0M346.9 266.7h0M430.8 352.6h0M438.4 345.4h0M417.5 348.7h0M428.8 338.1h0M433.0 345.4h0M361.4 262.9h0M427.1 350.5h0M425.5 333.4h0M411.6 342.6h0M445.1 326.7h0M432.1 339.7h0M449.2 335.3h0M446.8 345.1h0M441.7 329.6h0M443.5 346.4h0M423.9 346.1h0M449.1 339.0h0M432.4 344.7h0M439.4 330.5h0M416.1 339.9h0M419.2 340.7h0M421.8 346.7h0M449.2 330.1h0M445.6 346.4h0M347.8 273.0h0M422.6 352.2h0M427.4 348.4h0M426.6 350.1h0M440.5 336.5h0M342.7 264.3h0M418.5 341.5h0M425.5 352.0h0M447.5 342.2h0M345.3 269.1h0M358.1 270.8h0M442.7 344.4h0M349.8 273.7h0M412.6 336.9h0M445.3 346.2h0M428.6 329.5h0M430.8 338.3h0M357.2 264.8h0M413.3 348.6h0M436.3 333.6h0M430.9 346.2h0M346.6 271.2h0M417.4 325.9h0M358.3 270.2h0M432.7 342.0h0M442.2 343.2h0M417.3 336.8h0M438.7 345.1h0M418.9 349.2h0M444.3 335.2h0M346.6 264.6h0M445.4 341.9h0M347.7 258.6h0M425.2 345.9h0M410.8 333.5h0M360.3 261.7h0M349.3 267.1h0M434.7 342.2h0M420.6 347.2h0M417.5 351.3h0M415.4 348.7h0M422.9 335.6h0M433.6 341.9h0M439.2 346.5h0M411.9 338.1h0M420.1 345.0h0M435.5 346.3h0M342.5 266.3h0M347.8 269.3h0M416.5 328.9h0M415.2 335.6h0M435.2 349.0h0M421.6 348.4h0M443.6 333.9h0M432.2 340.3h0M427.9 341.7h0M442.9 335.6h0M428.5 334.5h0M445.2 345.0h0M421.5 343.7h0M438.6 346.2h0M425.6 344.3h0M420.8 337.8h0M438.2 329.2h0M425.6 351.1h0M416.5 344.0h0M354.9 276.3h0M426.5 346.4h0M428.5 342.3h0M414.8 339.6h0M434.7 336.5h0M428.8 344.1h0M444.1 343.3h0M428.4 349.5h0M442.3 350.1h0M426.8 330.7h0M353.9 271.2h0M421.8 329.7h0M432.8 335.9h0M359.1 269.6h0M351.3 275.8h0M420.0 326.7h0M411.5 343.9h0M446.5 336.4h0M444.3 336.9h0M443.7 348.8h0M414.3 339.2h0M343.5 267.5h0M414.0 345.6h0M427.9 341.9h0M423.9 342.1h0M356.1 271.2h0M424.8 351.8h0M353.6 260.0h0M424.2 352.7h0M425.8 353.4h0M418.8 343.2h0M436.9 343.9h0M444.0 348.1h0M426.8 349.1h0M416.4 346.7h0M426.8 335.4h0M349.7 268.6h0M355.3 268.6h0M434.9 331.3h0M444.7 348.1h0M424.4 330.6h0M422.1 344.9h0M438.5 343.0h0M354.3 273.2h0M356.9 253.1h0M438.0 342.6h0M434.0 347.4h0M428.6 351.9h0M449.1 339.1h0M416.3 342.9h0M444.2 325.6h0M338.0 258.6h0M411.8 343.0h0M353.0 274.8h0M413.2 342.3h0M355.9 260.7h0M429.6 334.2h0M428.0 331.8h0M352.9 275.6h0M413.7 344.4h0M423.4 316.8h0M447.5 342.1h0M413.2 335.9h0M428.1 337.8h0M425.8 345.9h0" stroke="#f06450" stroke-width="0.65" stroke-linecap="round" fill="none"/>
<path d="M354.1 250.4h0M439.3 308.1h0M362.8 253.6h0M425.1 300.4h0M432.7 320.1h0M355.5 335.8h0M435.8 288.7h0M417.4 288.7h0M435.6 301.8h0M358.1 239.3h0M418.0 294.9h0M440.3 319.3h0M415.7 296.1h0M349.7 251.6h0M357.8 241.4h0M350.1 246.4h0M415.3 293.6h0M350.4 252.6h0M355.3 243.9h0M418.7 297.9h0M439.3 306.6h0M448.5 301.5h0M449.5 302.4h0M333.2 248.0h0M415.8 319.9h0M359.6 250.6h0M414.6 300.2h0M350.7 236.2h0M435.4 294.4h0M428.1 300.4h0M351.6 242.6h0M442.4 307.4h0M426.7 298.4h0M337.3 252.2h0M333.6 252.1h0M440.6 302.8h0M334.4 248.5h0M438.7 301.2h0M339.7 242.0h0M433.6 301.7h0M352.7 254.8h0M423.8 312.3h0M359.6 244.3h0M420.0 305.0h0M362.8 252.7h0M335.2 249.6h0M358.9 254.1h0M431.5 295.5h0M351.3 249.7h0M421.1 312.1h0M348.0 238.8h0M410.0 301.5h0M437.5 319.6h0M347.3 240.5h0M412.7 308.8h0M437.5 306.5h0M448.4 310.8h0M425.6 317.4h0M433.0 312.7h0M361.4 251.3h0M355.5 249.1h0M418.2 306.0h0M344.0 328.9h0M422.9 306.6h0M338.4 249.8h0M355.2 249.9h0M357.4 244.2h0M360.6 250.9h0M335.3 250.4h0M417.7 298.2h0M339.9 241.4h0M444.7 306.2h0M409.6 301.2h0M419.6 303.8h0M353.7 245.1h0M347.4 251.7h0M336.3 243.8h0M419.7 323.7h0M433.3 310.1h0M408.5 318.7h0M417.6 299.5h0M441.0 291.0h0M408.5 300.3h0M350.6 240.7h0M356.7 245.5h0M429.7 329.2h0M426.0 300.2h0M354.9 242.8h0M351.5 245.8h0M354.7 247.6h0M437.4 307.7h0M430.6 312.8h0M436.3 307.0h0M442.6 296.5h0M340.8 241.7h0M351.2 246.1h0M351.0 240.6h0M351.2 240.2h0M425.2 304.5h0M413.8 299.7h0M353.6 336.3h0M347.0 250.3h0M421.6 301.8h0M442.3 325.9h0M409.7 308.8h0M354.0 246.6h0M408.9 302.7h0M436.2 291.0h0M443.0 311.1h0M434.9 298.5h0M353.8 250.4h0M415.6 294.2h0M349.8 241.1h0M424.5 312.2h0M417.8 305.0h0M439.4 314.1h0M425.7 299.7h0M353.4 254.4h0M429.1 315.5h0M446.7 311.1h0M358.1 249.4h0M357.5 239.9h0M341.1 334.3h0M338.7 242.6h0M350.4 242.9h0M416.5 314.3h0M434.8 309.0h0M423.9 328.9h0M408.6 301.2h0M420.5 316.2h0M434.4 313.0h0M356.5 240.7h0M346.1 254.3h0M355.4 244.4h0M360.8 244.7h0M435.1 295.0h0M350.5 246.7h0M426.1 310.0h0M426.9 301.4h0M420.9 295.0h0M428.8 295.2h0M443.3 311.2h0M440.4 312.7h0M422.5 309.1h0M340.5 240.1h0M441.5 310.0h0M425.8 304.7h0M360.2 261.7h0M338.4 249.2h0M340.4 248.2h0M426.7 321.9h0M333.6 252.0h0M424.6 311.4h0M437.3 311.8h0M436.2 302.4h0M339.9 254.8h0M357.6 241.4h0M422.8 300.1h0M446.9 314.7h0M432.2 325.9h0M345.9 243.6h0M340.1 241.8h0M357.4 247.7h0M434.9 303.4h0M355.6 251.1h0M353.9 239.9h0M437.3 296.7h0M424.3 295.9h0M333.8 247.5h0M419.0 292.8h0M356.6 335.4h0M343.9 238.6h0M426.8 311.0h0M349.1 236.8h0M439.8 289.5h0M440.2 291.9h0M431.9 310.8h0M335.9 256.3h0M411.4 302.4h0M449.9 311.7h0M439.8 308.8h0M443.5 291.9h0M442.1 310.6h0M349.5 242.8h0M426.3 310.7h0M417.6 288.9h0M424.6 287.6h0M444.5 306.3h0M341.7 332.5h0M447.2 309.7h0M441.8 313.5h0M347.6 235.7h0M447.6 306.8h0M362.4 256.0h0M360.0 246.7h0M448.7 309.5h0M429.6 312.0h0M445.2 307.2h0M429.2 314.9h0M353.8 240.5h0M433.7 313.3h0M414.4 306.5h0M356.4 242.9h0M419.0 291.6h0M437.4 314.7h0M351.8 248.3h0M434.4 303.7h0M426.4 310.9h0M414.8 294.0h0M339.1 248.8h0M425.9 310.8h0M440.0 309.4h0M420.0 301.6h0M350.7 248.4h0M336.2 255.4h0M426.6 302.7h0M443.2 310.2h0M422.3 295.4h0M358.3 240.7h0M427.2 303.8h0M437.5 312.9h0M351.8 239.1h0M415.1 295.6h0M411.8 306.5h0M342.6 239.9h0M433.3 297.9h0M428.5 299.7h0M421.0 297.1h0M430.4 299.0h0M430.6 292.6h0M431.9 305.1h0M413.2 302.9h0M411.1 300.0h0M352.0 335.6h0M425.0 306.2h0M434.0 319.9h0M352.6 241.7h0M357.2 246.8h0M441.3 310.2h0M434.0 313.2h0M337.1 242.0h0M339.6 246.9h0M419.3 296.3h0M347.0 249.9h0M360.3 248.8h0M351.4 335.1h0M414.1 291.1h0M443.3 314.6h0M426.4 299.5h0M408.6 301.0h0M441.4 321.7h0M351.5 239.7h0M445.0 317.8h0M409.5 295.4h0M337.5 245.7h0M348.1 237.3h0M433.1 307.7h0M350.6 239.2h0M444.2 306.2h0M426.8 312.4h0M448.9 314.9h0M350.1 335.3h0M434.9 299.3h0M339.6 240.5h0M447.9 311.5h0M334.0 250.4h0M339.3 244.3h0M426.0 307.9h0M429.3 294.6h0M343.2 248.3h0M420.0 304.5h0M432.2 301.3h0M432.0 308.6h0M418.9 304.0h0M356.1 247.5h0M432.6 309.7h0M411.2 304.5h0M353.1 246.2h0M436.9 309.3h0M352.0 235.0h0M353.8 251.8h0M442.6 293.0h0M445.3 313.9h0M448.1 323.0h0M409.1 306.2h0M355.1 241.3h0M440.3 300.3h0M355.6 241.7h0M448.0 297.9h0M411.6 296.5h0M347.7 256.9h0M355.8 247.7h0M430.6 313.4h0M349.8 246.7h0M344.9 254.7h0M428.6 304.1h0M418.6 307.6h0M420.9 306.9h0M424.0 287.8h0M417.0 302.9h0M416.7 288.1h0M437.6 308.4h0M356.8 239.7h0M449.5 311.9h0M420.8 305.0h0M441.7 318.2h0M411.5 317.0h0M418.9 293.6h0M444.0 313.0h0M440.8 317.4h0M346.7 253.6h0M429.6 290.1h0M353.8 335.8h0M345.1 251.3h0M341.1 334.9h0M348.0 236.2h0M418.7 300.9h0M448.9 311.9h0M443.9 318.3h0M448.3 313.2h0M346.5 250.3h0M345.0 239.2h0M440.0 303.3h0M450.1 307.3h0M359.2 252.6h0M352.2 335.3h0M337.7 247.3h0M429.8 302.0h0M358.9 248.8h0M417.3 309.0h0M426.5 307.1h0M416.7 311.3h0M340.6 240.4h0M360.3 241.9h0M439.2 314.3h0M429.2 319.3h0M351.7 239.0h0M355.7 242.7h0M416.0 294.2h0M420.2 301.3h0M357.9 242.8h0M444.1 317.5h0M357.6 238.6h0M348.1 242.8h0M351.8 253.7h0M341.2 335.7h0M342.9 251.0h0M425.5 307.8h0M431.1 301.0h0M428.7 311.1h0M439.0 296.8h0M441.0 288.3h0M423.6 304.8h0M349.8 245.8h0M343.0 261.9h0M345.8 238.9h0M352.4 242.8h0M337.2 242.0h0M439.4 314.9h0M415.4 291.2h0M429.8 301.3h0M438.7 302.9h0M352.5 244.0h0M419.5 294.3h0M443.9 313.8h0M354.2 246.4h0M353.4 245.0h0M448.0 303.5h0M412.4 293.5h0M352.7 239.8h0M428.9 304.9h0M415.7 310.9h0M344.9 239.8h0M415.7 313.1h0M349.7 238.2h0M439.5 307.1h0M432.4 319.3h0M348.4 250.5h0M438.4 313.5h0M337.6 247.9h0M448.2 300.1h0M341.2 331.1h0M412.9 292.1h0M435.4 313.9h0M351.1 254.4h0M429.2 310.6h0M341.1 252.1h0M359.5 259.5h0M431.8 297.4h0M449.2 300.1h0M428.8 302.3h0M427.7 314.2h0M423.9 309.9h0M345.4 238.2h0M441.8 296.0h0M338.3 245.6h0M429.0 287.1h0M436.5 300.5h0M422.7 326.9h0M446.2 306.5h0M437.8 321.0h0M430.6 304.6h0M344.3 244.5h0M347.3 242.9h0M433.9 298.8h0M423.7 311.7h0M339.4 244.5h0M426.2 306.4h0M445.9 303.0h0M421.9 316.6h0M423.2 300.4h0M445.1 316.6h0M422.4 309.9h0M426.1 298.3h0M346.4 245.5h0M340.4 252.9h0" stroke="#a08cdc" stroke-width="0.65" stroke-linecap="round" fill="none"/>
<path d="M414.4 336.0h0M409.5 322.6h0M409.1 334.7h0M409.5 322.8h0M410.5 309.0h0M352.6 251.3h0M425.6 323.3h0M447.3 313.7h0M342.0 258.9h0M356.9 250.2h0M408.8 322.3h0M449.5 316.7h0M434.1 340.1h0M437.8 327.2h0M355.9 259.5h0M359.7 268.9h0M428.8 314.9h0M361.1 269.6h0M351.5 250.9h0M427.6 297.9h0M414.5 316.1h0M446.1 312.8h0M408.2 320.1h0M442.4 350.3h0M445.8 328.6h0M346.4 256.8h0M412.7 330.8h0M413.9 334.5h0M362.2 262.6h0M337.9 258.8h0M434.3 337.7h0M419.1 336.4h0M449.2 335.1h0M359.1 252.3h0M355.8 250.0h0M445.3 321.7h0M437.2 346.3h0M357.4 270.1h0M413.8 333.1h0M447.6 336.0h0M412.7 325.0h0M442.8 318.0h0M338.8 334.4h0M450.3 317.2h0M422.3 336.5h0M428.4 325.0h0M347.5 259.3h0M430.4 329.5h0M346.7 266.4h0M412.1 325.1h0M423.1 342.4h0M425.2 315.9h0M368.9 278.9h0M353.8 335.3h0M441.5 318.3h0M428.1 338.8h0M355.6 256.0h0M447.6 325.9h0M357.8 259.2h0M440.8 329.0h0M419.6 326.1h0M429.8 321.2h0M410.1 339.2h0M346.0 269.3h0M336.6 258.0h0M423.1 324.7h0M358.0 251.9h0M345.1 261.3h0M408.8 329.0h0M428.8 332.6h0M444.1 324.1h0M359.5 262.4h0M425.8 323.3h0M437.7 329.0h0M349.5 258.2h0M430.8 341.6h0M361.2 262.2h0M409.5 308.8h0M348.7 261.1h0M436.8 338.6h0M413.3 324.0h0M408.9 323.2h0M440.1 320.1h0M435.8 329.3h0M357.0 265.4h0M349.5 243.9h0M343.9 257.0h0M427.0 347.5h0M445.0 327.6h0M430.2 320.1h0M431.0 331.2h0M435.7 329.7h0M352.3 255.0h0M415.5 341.0h0M440.0 319.5h0M342.2 335.7h0M357.0 254.4h0M337.8 258.4h0M416.6 332.1h0M418.1 326.7h0M448.4 322.8h0M354.4 250.3h0M409.6 315.2h0M441.3 341.9h0M428.8 318.6h0M360.5 255.0h0M362.3 265.5h0M425.3 327.0h0M421.7 318.5h0M345.4 326.2h0M429.1 330.0h0M435.3 331.0h0M443.0 331.3h0M359.7 253.8h0M422.0 313.9h0M351.7 257.3h0M344.6 265.2h0M423.6 346.9h0M424.0 320.2h0M357.4 245.6h0M349.1 263.5h0M447.8 318.4h0M436.5 336.0h0M344.8 254.6h0M355.5 260.7h0M426.3 309.3h0M444.8 319.7h0M355.9 269.9h0M361.1 265.5h0M349.0 266.2h0M446.6 332.1h0M357.2 266.0h0M423.1 325.7h0M360.3 265.5h0M431.5 325.0h0M339.9 335.1h0M340.2 334.5h0M353.5 258.0h0M440.3 330.2h0M430.1 330.2h0M428.7 331.0h0M351.5 273.8h0M357.7 248.6h0M420.8 336.2h0M351.1 335.7h0M344.3 263.8h0M427.4 333.5h0M439.0 350.9h0M362.9 260.0h0M352.3 266.2h0M341.4 265.2h0M434.3 322.8h0M345.7 268.0h0M343.0 261.8h0M414.9 335.3h0M410.8 332.3h0M409.0 315.6h0M430.8 326.5h0M428.2 322.7h0M425.4 318.9h0M356.6 271.7h0M443.2 336.0h0M335.8 248.3h0M435.7 324.0h0M424.5 334.6h0M352.5 335.6h0M355.4 271.7h0M428.8 332.6h0M354.2 268.5h0M359.9 259.4h0M450.6 327.4h0M420.2 334.4h0M446.2 320.0h0M424.4 325.3h0M341.1 329.6h0M417.8 314.4h0M352.0 246.5h0M350.9 261.5h0M436.2 315.7h0M438.2 312.8h0M437.1 325.0h0M342.9 256.0h0M336.3 253.7h0M338.2 259.0h0M447.7 327.3h0M423.7 329.0h0M338.3 251.0h0M349.1 258.5h0M344.4 254.6h0M362.0 261.9h0M362.9 264.8h0M449.0 337.4h0" stroke="#dca0a0" stroke-width="0.65" stroke-linecap="round" fill="none"/>
<path d="M351.2 238.3h0M413.9 314.4h0M428.7 318.6h0M416.7 318.4h0M421.2 308.0h0M416.9 313.4h0M414.4 327.4h0M447.9 313.7h0M338.5 250.8h0M447.9 303.5h0M438.4 315.1h0M437.6 317.0h0M334.5 252.8h0M353.3 243.9h0M337.2 259.8h0M411.3 307.3h0M434.4 323.6h0M411.9 303.6h0M423.1 306.1h0M429.2 295.9h0M440.7 316.0h0M424.0 302.1h0M352.8 245.3h0M427.6 320.0h0M421.6 334.2h0M422.3 318.1h0M430.2 310.2h0M341.3 257.9h0M420.6 310.0h0M427.9 316.5h0M413.1 295.8h0M433.4 316.0h0M424.7 324.0h0M339.2 252.0h0M417.9 305.9h0M353.2 256.9h0M430.9 323.4h0M355.2 251.6h0M344.5 248.2h0M406.7 315.8h0M342.5 257.2h0M422.6 306.7h0M409.5 307.6h0M351.0 335.9h0M361.7 258.8h0M355.8 251.5h0M338.2 259.7h0M361.0 247.7h0M423.6 307.4h0M419.3 322.0h0M426.9 321.7h0M421.6 317.7h0M360.1 247.1h0M353.7 253.4h0M358.5 251.5h0M442.4 325.1h0M342.7 333.5h0M358.8 249.4h0M421.7 294.6h0M439.5 312.3h0M343.6 326.6h0M339.0 330.0h0M425.0 304.8h0M440.0 319.6h0M444.7 327.4h0M421.5 313.0h0M362.5 253.4h0M439.3 302.6h0M347.7 271.3h0M440.4 320.3h0M415.3 295.7h0M431.0 311.4h0M413.0 305.8h0M348.1 334.1h0M425.2 302.8h0M352.7 248.3h0M353.4 246.6h0M341.8 249.0h0M441.9 319.3h0M443.3 323.3h0M409.8 312.3h0M361.5 255.4h0M350.2 247.9h0M417.1 304.8h0M433.8 314.7h0M421.4 305.7h0M352.3 252.1h0M349.1 335.5h0M339.0 334.7h0M437.6 315.6h0M348.4 249.7h0M340.1 330.2h0M415.8 312.8h0M422.5 308.4h0M338.7 240.5h0M341.7 260.5h0M342.3 250.6h0M430.7 305.8h0M362.1 248.8h0M447.4 331.1h0M352.2 252.2h0M414.8 305.5h0M446.6 310.4h0M349.5 252.2h0M430.6 319.2h0M338.5 252.0h0M357.7 264.7h0M420.6 306.3h0M438.3 325.4h0M356.8 250.3h0M333.9 249.1h0M350.6 335.1h0M355.6 250.9h0M434.3 315.8h0M351.7 241.1h0M348.1 243.6h0M436.7 309.0h0M347.2 334.7h0M426.2 320.0h0M345.3 249.6h0M345.1 250.2h0M442.4 323.2h0M342.5 260.7h0M352.7 246.5h0M352.3 241.6h0M357.4 336.3h0M344.6 251.1h0M342.9 247.7h0M353.2 240.1h0M418.5 310.1h0M410.5 313.3h0M413.0 308.1h0M438.6 331.8h0M344.6 247.5h0M432.5 311.3h0M348.6 262.9h0M447.6 323.2h0M414.5 302.3h0M436.0 305.3h0M340.4 242.5h0M409.5 331.5h0M423.6 345.3h0M359.5 257.9h0M422.4 312.5h0M423.6 307.3h0M418.4 330.5h0M443.4 303.8h0M425.1 320.7h0M443.3 332.3h0M443.5 315.8h0M356.1 259.1h0M445.0 321.5h0M427.7 333.7h0M342.2 333.0h0M433.4 315.7h0M417.2 335.4h0M354.2 250.1h0M433.2 319.5h0M338.8 329.3h0M346.4 250.4h0M353.1 335.0h0M341.0 328.0h0M433.0 309.3h0M428.4 314.8h0M345.5 240.6h0M334.1 254.2h0M428.4 289.0h0M428.6 317.8h0M415.4 305.5h0M426.6 331.3h0M443.3 322.7h0M348.7 253.8h0M358.4 244.0h0M427.7 305.6h0M345.4 334.1h0M338.9 247.5h0M346.7 337.1h0M359.6 256.8h0M444.5 302.5h0M433.1 307.0h0M352.5 256.5h0M437.0 311.4h0M341.6 240.0h0M343.4 253.0h0M408.5 300.9h0M349.1 247.3h0M420.2 307.2h0M362.5 253.2h0M424.7 316.7h0M420.1 308.8h0M339.3 260.9h0M431.9 308.5h0M350.5 335.8h0M444.2 312.7h0M362.2 254.8h0M409.6 302.0h0M351.4 335.8h0M434.7 310.8h0M346.8 246.9h0M341.0 250.0h0M347.3 333.8h0M349.0 249.1h0M338.0 332.1h0M429.3 315.0h0M419.5 308.1h0M434.4 302.3h0M434.1 309.5h0M441.2 312.0h0M426.6 319.1h0M409.3 305.1h0M408.9 306.8h0M427.0 305.7h0M362.9 261.9h0M347.6 245.1h0M353.6 335.9h0M450.9 314.4h0M339.6 335.5h0M341.6 248.5h0M357.0 253.3h0M343.0 332.9h0M447.9 324.2h0M446.2 313.9h0M439.3 295.0h0M433.5 318.6h0M449.5 319.4h0M441.8 333.7h0M447.8 314.2h0M340.4 258.5h0M427.2 305.7h0M433.0 309.8h0M360.3 245.9h0M354.7 269.8h0M345.6 253.7h0M349.5 244.6h0M445.5 309.3h0M407.2 320.3h0M418.9 316.4h0M337.6 258.8h0M354.4 335.2h0M408.2 311.0h0M416.2 313.7h0M418.1 324.4h0M436.9 300.9h0" stroke="#b4b4dc" stroke-width="0.65" stroke-linecap="round" fill="none"/>
<path d="M411.0 330.5h0M413.9 327.2h0M353.5 251.4h0M439.0 344.5h0M443.2 335.0h0M420.8 317.4h0M409.6 332.5h0M411.9 322.1h0M449.6 319.7h0M443.0 331.1h0M361.9 264.8h0M339.9 239.1h0M343.2 325.8h0M449.0 339.4h0M334.9 252.6h0M425.2 337.1h0M343.9 256.8h0M413.4 300.3h0M437.9 341.5h0M412.1 331.3h0M344.9 257.1h0M410.6 321.1h0M407.4 328.6h0M442.2 325.0h0M431.8 343.4h0M432.7 311.3h0M336.2 253.4h0M362.0 262.1h0M423.1 329.8h0M418.1 338.7h0M444.3 316.9h0M450.0 333.2h0M349.5 265.6h0M417.8 316.8h0M432.2 325.8h0M339.6 259.1h0M438.9 320.8h0M433.6 326.5h0M436.2 318.1h0M434.8 326.3h0M342.0 333.4h0M416.1 320.3h0M433.3 327.1h0M438.0 324.0h0M438.3 324.1h0M357.7 262.6h0M413.9 296.7h0M362.0 251.5h0M412.1 316.4h0M441.3 333.5h0M423.8 309.1h0M336.0 254.7h0M450.5 328.2h0M422.8 333.0h0M346.7 249.7h0M349.0 252.9h0M434.3 318.6h0M441.0 334.1h0M428.4 322.0h0M448.5 319.0h0M430.0 319.3h0M439.0 312.5h0M345.7 335.8h0M350.8 246.7h0M428.9 342.6h0M430.3 314.0h0M427.3 323.2h0M444.5 339.6h0M449.9 326.2h0M339.2 334.2h0M443.3 321.8h0M429.4 312.6h0M413.7 325.0h0M447.4 329.0h0M425.2 303.4h0M438.5 323.1h0M412.6 309.3h0M357.8 258.1h0M438.0 325.2h0M425.9 317.4h0M349.8 337.2h0M356.6 263.2h0M446.5 325.5h0M428.9 310.5h0M418.7 309.6h0M336.6 244.1h0M356.6 261.9h0M443.7 318.0h0M433.5 327.4h0M340.4 260.3h0M350.0 254.6h0M419.5 327.1h0M425.6 333.4h0M445.4 312.4h0M420.1 329.8h0M426.1 322.9h0M334.6 247.7h0M438.1 324.9h0M434.9 326.5h0M338.3 258.8h0M341.1 256.8h0M433.6 309.3h0M342.5 236.3h0M350.1 258.9h0M439.9 322.3h0M333.7 254.3h0M342.1 260.3h0M415.4 311.7h0M442.9 319.7h0M421.2 324.4h0M430.2 320.6h0M416.4 334.2h0M360.4 266.1h0M341.5 251.8h0M349.4 257.4h0M415.6 302.1h0M440.4 345.5h0M443.7 343.8h0M427.3 323.6h0M411.7 319.3h0M346.3 254.4h0M431.8 335.6h0M336.6 250.2h0M351.4 335.4h0M426.6 308.3h0M409.7 316.0h0M425.2 306.5h0M424.7 303.1h0M342.1 262.0h0M447.9 324.1h0M349.2 336.0h0M428.7 330.0h0" stroke="#c8b4b4" stroke-width="0.65" stroke-linecap="round" fill="none"/>
<path d="M348.9 253.3h0M430.9 330.0h0M345.4 260.8h0M442.7 322.0h0M340.1 251.2h0M429.2 328.7h0M450.1 329.5h0M419.1 316.1h0M415.5 327.8h0M425.7 320.9h0M432.4 334.2h0M427.5 319.0h0M361.0 273.9h0M356.2 268.8h0M446.8 330.2h0M415.6 333.8h0M437.4 324.6h0M442.3 330.7h0M344.1 261.8h0M426.8 332.5h0M413.1 334.4h0M358.6 255.2h0M426.4 323.0h0M345.5 269.4h0M346.5 265.4h0M413.3 315.5h0M355.4 263.6h0M409.1 324.9h0M448.4 342.1h0M356.8 260.7h0M433.8 330.3h0M424.3 328.9h0M356.8 261.8h0M351.1 266.7h0M408.0 334.5h0M425.0 341.9h0M358.8 274.1h0M449.7 337.9h0M426.0 308.8h0M436.4 330.8h0M417.8 321.4h0M429.1 334.6h0M431.8 318.6h0M344.8 252.0h0M445.6 333.1h0M428.3 329.3h0M365.0 276.7h0M358.7 253.4h0M416.8 327.2h0M347.7 255.3h0M410.6 315.8h0M449.7 330.1h0M346.3 251.7h0M357.9 267.9h0M446.5 320.5h0M362.6 267.3h0M445.5 334.8h0M422.0 325.6h0M430.5 323.0h0M451.0 319.1h0M411.3 311.4h0M407.5 327.2h0M354.4 271.7h0M437.5 348.4h0M417.0 328.9h0M419.2 326.9h0M409.4 317.8h0M428.0 316.6h0M337.5 257.0h0M446.4 319.7h0M435.3 329.3h0M412.3 303.7h0M443.3 339.5h0M444.2 335.3h0M442.1 323.2h0M365.7 275.4h0M438.1 337.5h0M420.1 338.7h0M361.3 266.8h0M436.0 322.0h0M444.0 340.8h0M424.9 320.6h0M341.5 242.0h0M416.2 344.5h0M420.9 318.5h0M434.6 327.6h0M350.0 258.4h0M411.6 322.4h0M407.6 316.3h0M419.5 326.7h0M356.5 250.3h0M408.5 334.4h0M433.0 319.4h0M448.6 329.9h0M420.5 333.7h0M415.6 323.9h0M415.4 345.3h0M421.4 330.7h0M354.5 275.6h0M357.9 270.5h0M356.7 247.1h0M338.7 251.7h0M346.9 259.0h0M356.4 261.7h0M340.0 260.7h0M426.5 327.1h0M433.4 330.0h0M427.3 342.5h0M357.3 262.4h0M340.7 264.0h0M351.9 262.8h0M342.6 258.3h0M430.3 331.3h0M417.4 313.8h0M347.7 256.9h0M448.5 333.6h0M414.5 334.5h0M409.4 321.0h0M432.5 334.1h0M351.6 276.4h0M418.7 314.1h0M434.8 327.7h0M362.8 252.4h0M409.6 333.3h0M349.6 263.4h0M360.9 268.8h0M344.6 263.4h0M412.3 335.2h0M355.6 335.9h0M422.7 314.3h0M429.5 340.3h0M342.0 256.3h0M428.7 308.3h0M350.6 254.9h0M408.2 331.1h0M435.0 333.2h0M359.3 269.9h0M437.6 322.4h0M450.4 322.3h0M411.4 318.7h0M440.4 320.5h0M442.6 318.6h0M418.9 326.7h0M433.0 340.0h0M340.2 261.9h0M448.6 332.0h0M429.2 327.4h0M357.7 265.4h0M407.8 316.0h0M445.4 332.7h0M359.9 259.7h0M337.5 258.8h0M363.0 266.1h0M447.9 321.2h0M439.8 327.2h0M409.0 325.0h0M440.8 330.1h0M432.9 342.2h0M355.5 267.6h0M362.7 267.6h0M437.3 320.3h0M428.7 314.9h0M409.0 323.1h0M427.2 338.9h0M429.8 334.7h0M410.4 321.4h0M358.6 266.8h0M442.0 332.5h0M431.4 330.6h0M423.1 333.4h0M442.9 327.1h0M358.6 258.6h0M351.8 256.7h0M433.3 340.4h0M431.0 344.3h0M348.3 261.6h0M356.9 253.8h0M438.2 333.1h0M441.0 323.9h0M407.5 316.9h0M348.1 256.0h0M342.3 263.9h0M363.2 261.2h0M338.7 259.8h0M433.6 320.8h0M351.4 265.9h0M342.1 328.6h0M353.4 271.7h0M433.8 334.1h0M431.3 321.5h0M360.9 259.4h0M359.6 264.7h0M432.5 345.8h0M451.0 319.1h0M438.8 338.0h0M434.7 337.2h0M433.8 327.9h0M355.9 272.2h0M362.3 258.3h0M448.4 324.4h0M444.8 338.7h0M334.2 255.7h0M416.1 326.0h0M421.5 317.0h0M444.3 324.6h0M339.6 253.1h0M356.0 257.6h0M415.5 326.5h0M434.7 322.5h0M426.2 315.4h0M441.8 322.2h0M441.0 331.8h0M419.7 309.3h0M415.2 339.0h0M438.6 333.5h0M437.5 316.8h0M439.3 332.9h0" stroke="#dca08c" stroke-width="0.65" stroke-linecap="round" fill="none"/>
<path d="M431.9 303.7h0M417.2 337.2h0M428.2 312.3h0M434.9 314.4h0M337.6 249.8h0M359.0 249.4h0M346.1 257.8h0M446.9 324.7h0M443.1 308.8h0M349.9 249.0h0M349.6 250.7h0M339.6 250.1h0M441.6 319.3h0M408.8 334.9h0M340.6 248.9h0M417.6 305.9h0M430.0 308.2h0M417.3 309.0h0M424.2 307.6h0M430.3 315.7h0M414.0 304.5h0M443.2 316.1h0M416.5 318.4h0M355.0 244.7h0M444.2 310.8h0M418.2 320.7h0M424.4 335.3h0M434.7 313.0h0M417.2 302.2h0M358.5 242.5h0M338.6 248.3h0M359.6 248.1h0M354.3 245.6h0M359.7 257.1h0M351.2 253.6h0M436.2 313.2h0M444.1 316.9h0M352.6 239.6h0M430.1 319.9h0M449.8 323.1h0M410.7 314.5h0M427.4 313.0h0M361.0 249.8h0M339.8 260.8h0M437.0 313.4h0M341.2 333.5h0M338.5 251.0h0M339.6 260.3h0M350.1 256.0h0M423.2 305.6h0M440.5 324.9h0M431.3 306.4h0M361.0 261.0h0M428.9 316.7h0M336.8 257.2h0M359.3 267.0h0M361.1 245.7h0M361.8 253.1h0M430.0 323.5h0M342.5 332.0h0M345.0 257.6h0M420.2 304.3h0M359.8 255.1h0M352.6 243.2h0M353.1 258.2h0M352.5 254.2h0M433.5 313.0h0M434.3 317.9h0M339.3 252.6h0M338.2 253.1h0M444.9 319.0h0M425.9 306.4h0M435.0 319.3h0M420.6 331.1h0M442.4 327.3h0M434.2 312.7h0M447.8 327.1h0M353.5 244.6h0M447.2 317.6h0M427.8 302.5h0M333.9 254.0h0M421.4 311.8h0M346.4 246.4h0M435.1 326.5h0M337.3 250.4h0M437.3 305.7h0M342.5 244.7h0M356.2 247.0h0M417.2 321.4h0M337.7 256.3h0M333.1 248.1h0M414.1 310.3h0M337.6 255.5h0" stroke="#b4b4c8" stroke-width="0.65" stroke-linecap="round" fill="none"/>
<path d="M364.7 275.1h0M353.5 266.2h0M351.2 267.7h0M421.8 350.1h0M445.5 335.0h0M406.8 330.9h0M437.4 325.0h0M429.6 338.9h0M360.0 265.0h0M447.8 321.7h0M344.5 259.2h0M407.9 331.6h0M407.8 336.2h0M414.1 325.8h0M353.2 265.1h0M354.4 272.7h0M360.5 265.7h0M437.3 346.7h0M443.7 332.5h0M429.1 332.7h0M346.2 267.0h0M425.7 341.6h0M361.4 270.9h0M435.2 338.2h0M424.4 330.3h0M351.8 266.0h0M432.9 327.4h0M413.1 347.3h0M407.0 324.2h0M438.7 336.4h0M426.4 322.5h0M427.9 330.2h0M342.8 258.2h0M424.6 334.3h0M349.6 259.1h0M450.7 328.6h0M348.1 256.4h0M419.8 326.8h0M357.1 250.1h0M420.1 335.8h0M426.3 337.0h0M351.1 247.5h0M352.0 268.0h0M347.5 267.9h0M344.9 261.8h0M352.1 272.9h0M425.2 339.9h0" stroke="#f08c64" stroke-width="0.65" stroke-linecap="round" fill="none"/>
<path d="M446.5 312.6h0M346.8 246.3h0M340.6 334.1h0M431.6 294.7h0M434.1 299.3h0M436.3 296.8h0M437.5 303.0h0M432.8 293.8h0M443.6 316.2h0M410.6 306.3h0M440.4 313.8h0M344.1 238.6h0M356.6 247.9h0M418.0 298.9h0M424.5 307.9h0M348.5 234.7h0M438.6 304.9h0M440.5 300.9h0M410.5 315.0h0M441.6 311.5h0M436.3 295.5h0M445.8 309.7h0M449.1 303.6h0M346.8 335.6h0M357.5 239.4h0" stroke="#8c8cdc" stroke-width="0.65" stroke-linecap="round" fill="none"/>
<path d="M446.0 318.4h0M443.2 326.5h0M436.6 336.8h0M413.0 321.1h0M360.5 244.3h0M416.8 332.6h0M411.1 315.2h0M437.7 326.6h0M419.7 332.8h0M439.8 318.9h0M441.4 326.7h0M408.3 334.0h0M419.9 326.6h0M422.5 342.9h0M449.0 339.7h0M408.5 333.2h0M355.0 268.0h0M450.1 336.0h0M356.1 269.4h0M444.0 336.9h0M353.8 269.7h0M429.5 338.1h0M448.5 336.6h0M420.8 342.5h0M409.3 320.3h0M439.9 338.3h0M356.3 265.0h0M436.5 338.6h0M448.1 334.0h0M423.7 330.0h0M428.2 339.4h0M422.0 333.6h0M439.7 332.8h0M443.4 321.0h0M441.1 336.1h0M356.6 265.5h0M429.7 329.4h0M421.3 328.6h0M364.5 275.1h0M440.5 330.6h0M363.1 256.4h0M432.5 322.8h0" stroke="#f08c8c" stroke-width="0.65" stroke-linecap="round" fill="none"/>
<path d="M429.1 338.4h0M446.4 334.9h0M343.9 266.3h0M447.2 328.5h0M410.7 334.1h0M428.3 320.0h0M350.6 269.7h0M441.8 330.8h0M356.1 274.5h0M359.9 263.0h0M347.0 257.3h0M430.7 344.4h0M413.9 321.7h0M433.9 326.6h0M434.2 329.2h0M338.4 252.7h0M424.6 329.2h0M409.8 343.1h0M357.4 254.6h0M428.0 327.6h0M442.9 325.1h0M355.5 265.9h0M447.0 333.4h0M409.3 325.4h0M341.6 259.5h0M422.4 344.2h0M413.8 327.6h0M410.5 333.0h0M422.0 331.3h0M411.1 332.5h0M448.7 329.0h0M425.9 340.8h0M435.0 336.2h0" stroke="#f0a08c" stroke-width="0.65" stroke-linecap="round" fill="none"/>
<path d="M446.1 336.6h0M408.8 328.3h0M414.3 347.7h0M434.4 342.0h0M431.0 343.9h0M409.8 334.3h0M415.5 335.3h0M349.9 272.7h0M449.7 337.2h0M424.8 327.5h0M432.3 330.4h0M425.7 343.6h0M352.9 270.7h0M442.0 338.4h0M421.6 344.3h0M430.5 330.6h0M350.1 263.2h0M352.2 272.9h0M358.7 265.7h0M350.4 263.3h0M362.8 265.6h0M425.6 340.1h0M423.8 342.3h0M416.1 337.3h0M435.4 327.1h0M354.8 269.1h0M343.4 259.1h0M409.8 314.0h0M421.8 336.1h0M440.6 333.7h0M411.7 344.2h0M345.6 270.6h0M437.3 345.1h0M445.9 341.3h0M447.1 326.6h0M412.9 344.0h0M411.9 326.8h0M408.6 332.9h0M349.4 272.8h0M433.2 340.8h0M421.8 329.4h0M434.5 335.5h0M345.3 334.5h0M362.2 264.1h0M348.6 267.3h0M438.2 337.7h0M417.5 320.0h0M351.3 272.6h0M449.6 328.4h0M416.9 318.6h0M408.4 313.2h0M427.1 341.2h0M353.0 273.3h0M420.3 332.4h0M409.6 337.8h0M427.6 334.5h0M413.1 348.4h0M363.1 262.1h0M354.7 259.7h0M420.8 337.0h0M351.5 274.6h0M408.8 330.5h0M445.2 341.4h0M439.2 338.3h0M407.7 332.5h0M343.4 267.4h0M356.1 254.7h0M431.7 339.2h0M447.9 335.5h0M435.6 349.7h0M422.4 342.8h0M410.4 328.1h0M426.4 345.4h0M420.8 329.8h0M352.4 266.0h0M425.4 326.4h0M344.2 256.1h0M353.6 264.1h0M446.9 336.0h0M358.7 274.7h0M441.5 343.2h0M417.7 332.0h0M415.8 338.9h0M441.2 342.2h0M356.2 271.7h0M425.1 340.1h0M450.9 328.1h0M417.9 335.9h0M356.4 266.5h0M443.2 348.7h0M440.8 333.4h0M428.6 327.8h0M356.1 271.2h0M439.4 331.3h0" stroke="#f07850" stroke-width="0.65" stroke-linecap="round" fill="none"/>
<path d="M435.2 298.3h0M362.9 257.1h0M426.0 311.8h0M336.5 245.0h0M343.8 240.1h0M434.1 310.8h0M428.6 299.3h0M348.2 242.1h0M432.2 295.7h0M445.1 312.4h0M346.6 244.0h0M429.2 309.2h0M410.2 321.4h0M336.9 249.0h0M430.8 296.7h0M408.6 319.1h0M438.4 304.5h0M444.4 298.1h0M415.0 298.3h0M446.2 300.7h0M434.2 297.3h0M429.1 296.4h0M408.8 318.4h0M446.1 313.5h0M341.8 250.1h0M409.5 301.7h0M352.2 335.5h0M344.6 239.3h0M431.7 303.3h0M443.2 315.0h0M349.2 245.8h0M348.0 235.7h0M429.0 296.2h0M344.8 255.6h0M359.3 242.4h0M347.4 248.7h0M413.6 298.3h0M437.3 298.4h0M418.5 298.7h0M339.0 244.0h0M448.0 315.3h0M347.7 243.7h0M351.1 242.0h0M425.1 290.6h0M426.1 301.6h0M441.6 295.8h0M412.9 300.6h0M441.3 299.2h0M410.1 301.5h0M348.2 235.5h0M444.0 302.6h0M342.0 250.7h0M350.1 241.4h0M350.4 250.5h0M408.5 298.7h0M353.7 251.5h0M430.7 301.0h0M359.0 246.9h0M409.8 295.4h0M440.8 300.5h0M353.5 336.1h0M447.7 297.8h0M429.5 299.7h0M440.1 305.8h0M435.9 314.4h0M338.7 241.9h0M424.6 299.0h0M437.3 301.7h0M444.7 295.4h0M450.6 317.7h0M335.8 244.4h0M413.3 306.4h0M423.0 308.8h0M344.0 337.0h0M429.7 302.3h0M350.0 236.1h0M417.7 303.5h0M413.5 295.5h0M426.3 317.7h0M409.4 322.2h0M339.4 243.0h0M446.1 319.7h0M429.9 296.0h0M421.7 320.5h0M448.3 309.5h0M417.9 300.4h0M435.3 299.3h0M409.8 301.2h0M444.1 311.7h0M431.1 309.4h0M419.7 291.7h0M426.4 318.1h0M413.6 292.6h0M417.9 289.3h0M335.8 252.4h0M337.4 241.3h0M446.6 295.8h0M422.0 304.5h0M435.1 306.0h0M445.9 320.5h0M429.3 298.1h0M431.1 303.8h0M428.5 301.3h0M443.1 311.2h0M344.0 251.3h0M351.6 238.4h0M342.1 239.6h0M434.7 307.0h0M357.0 255.2h0M450.2 309.4h0M420.0 289.4h0M433.9 312.2h0M418.8 289.9h0M450.5 309.1h0M344.6 332.4h0M337.4 248.5h0M336.7 242.6h0M434.5 297.9h0M434.0 293.6h0M351.6 239.9h0M358.4 239.9h0M342.8 252.5h0M415.5 290.3h0M439.6 299.5h0M418.3 313.8h0" stroke="#8c78dc" stroke-width="0.65" stroke-linecap="round" fill="none"/>
<line x1="327.6" y1="227.8" x2="327.6" y2="359.3" stroke="#4d4d4d" stroke-width="0.7"/>
<line x1="327.6" y1="359.3" x2="456.8" y2="359.3" stroke="#4d4d4d" stroke-width="0.7"/>
<line x1="324.4" y1="262.4" x2="327.6" y2="262.4" stroke="#4d4d4d" stroke-width="0.7"/>
<text x="320.6" y="265" font-size="7.6" text-anchor="end" textLength="4.44" lengthAdjust="spacingAndGlyphs">5</text>
<line x1="324.4" y1="301.1" x2="327.6" y2="301.1" stroke="#4d4d4d" stroke-width="0.7"/>
<text x="320.6" y="303.7" font-size="7.6" text-anchor="end" textLength="4.44" lengthAdjust="spacingAndGlyphs">0</text>
<line x1="324.4" y1="339.9" x2="327.6" y2="339.9" stroke="#4d4d4d" stroke-width="0.7"/>
<text x="320.6" y="342.5" font-size="7.6" text-anchor="end" textLength="9.1" lengthAdjust="spacingAndGlyphs">−5</text>
<line x1="331.2" y1="359.3" x2="331.2" y2="362.6" stroke="#4d4d4d" stroke-width="0.7"/>
<text x="331.2" y="372.5" font-size="7.6" text-anchor="middle" textLength="13.54" lengthAdjust="spacingAndGlyphs">−10</text>
<line x1="366.7" y1="359.3" x2="366.7" y2="362.6" stroke="#4d4d4d" stroke-width="0.7"/>
<text x="366.7" y="372.5" font-size="7.6" text-anchor="middle" textLength="9.1" lengthAdjust="spacingAndGlyphs">−5</text>
<line x1="402.1" y1="359.3" x2="402.1" y2="362.6" stroke="#4d4d4d" stroke-width="0.7"/>
<text x="402.1" y="372.5" font-size="7.6" text-anchor="middle" textLength="4.44" lengthAdjust="spacingAndGlyphs">0</text>
<line x1="437.6" y1="359.3" x2="437.6" y2="362.6" stroke="#4d4d4d" stroke-width="0.7"/>
<text x="437.6" y="372.5" font-size="7.6" text-anchor="middle" textLength="4.44" lengthAdjust="spacingAndGlyphs">5</text>
<text x="391.8" y="386.2" font-size="8.6" text-anchor="middle" textLength="26.9" lengthAdjust="spacingAndGlyphs">UMAP1</text>
<text transform="translate(304.9,293.2) rotate(-90)" text-anchor="middle" font-size="8.6" textLength="28.3" lengthAdjust="spacingAndGlyphs" fill="#231f20">UMAP2</text>
<defs><linearGradient id="g3" x1="0" x2="1"><stop offset="0" stop-color="#1f00ff"/><stop offset="0.22" stop-color="#7a5ef0"/><stop offset="0.52" stop-color="#c4c4c4"/><stop offset="0.8" stop-color="#ec8c72"/><stop offset="1" stop-color="#f64d28"/></linearGradient><linearGradient id="g4" x1="0" x2="1"><stop offset="0" stop-color="#9d8be0"/><stop offset="0.27" stop-color="#c8c6cc"/><stop offset="0.6" stop-color="#ea8e7c"/><stop offset="1" stop-color="#ff1208"/></linearGradient></defs>
<rect x="415.1" y="392.2" width="40.5" height="8.6" fill="url(#g3)"/>
<line x1="426.5" y1="399.2" x2="426.5" y2="400.8" stroke="#fff" stroke-width="0.6"/>
<line x1="437.4" y1="399.2" x2="437.4" y2="400.8" stroke="#fff" stroke-width="0.6"/>
<line x1="448.4" y1="399.2" x2="448.4" y2="400.8" stroke="#fff" stroke-width="0.6"/>
<text x="426.2" y="410.2" font-size="7.6" text-anchor="middle" textLength="15.3" lengthAdjust="spacingAndGlyphs">−0.4</text>
<text x="448.9" y="410.2" font-size="7.6" text-anchor="middle" textLength="10.99" lengthAdjust="spacingAndGlyphs">0.4</text>
<circle cx="501.1" cy="213.6" r="7.7" fill="none" stroke="#222" stroke-width="0.75"/>
<text x="501.1" y="216.5" font-size="8.2" text-anchor="middle">4</text>
<text x="515.4" y="217.5" font-size="8.6" textLength="67.5" lengthAdjust="spacingAndGlyphs"><tspan font-style="italic">GAS7</tspan> expression</text>
<path d="M621.3 311.9h0M533.7 248.8h0M535.8 242.8h0M630.4 287.0h0M550.1 253.6h0M535.3 253.3h0M547.6 253.6h0M541.7 239.3h0M627.8 301.8h0M617.1 299.6h0M636.8 305.9h0M640.9 313.7h0M614.1 313.5h0M630.7 315.1h0M531.6 255.5h0M610.0 301.9h0M637.1 304.9h0M631.7 290.1h0M540.0 243.9h0M536.6 246.4h0M614.2 342.2h0M615.5 304.1h0M642.6 302.4h0M518.6 248.0h0M533.1 246.3h0M535.6 246.9h0M522.9 250.4h0M533.9 239.4h0M548.4 269.6h0M635.0 307.4h0M538.1 250.9h0M639.3 334.9h0M604.2 293.5h0M636.5 290.2h0M542.4 238.3h0M620.3 299.3h0M634.1 291.2h0M535.1 237.6h0M610.7 292.9h0M523.9 243.2h0M621.5 295.4h0M639.6 318.8h0M637.8 310.8h0M623.4 295.5h0M537.8 249.7h0M545.5 243.9h0M604.8 309.0h0M641.4 310.8h0M625.0 311.1h0M538.8 241.2h0M635.5 301.4h0M608.1 291.9h0M629.5 352.4h0M634.2 319.3h0M546.6 246.2h0M619.8 303.2h0M606.8 289.3h0M547.8 250.9h0M521.8 253.4h0M628.1 287.1h0M612.9 317.7h0M519.1 247.1h0M610.7 303.8h0M611.6 286.5h0M612.2 290.6h0M634.1 303.1h0M536.2 255.7h0M546.8 260.6h0M537.1 240.7h0M633.0 296.8h0M602.1 320.1h0M637.7 292.6h0M637.1 298.1h0M634.9 311.2h0M628.6 307.0h0M541.3 247.9h0M537.8 240.2h0M604.5 299.7h0M542.9 253.5h0M543.4 242.1h0M543.2 239.2h0M642.0 304.5h0M540.8 245.2h0M538.2 251.6h0M542.9 237.8h0M631.5 319.0h0M525.7 241.9h0M527.6 336.5h0M525.3 257.6h0M519.1 250.6h0M629.8 303.0h0M520.3 250.8h0M519.0 247.3h0M532.6 251.7h0M627.6 286.2h0M628.7 301.7h0M610.6 298.6h0M607.4 314.3h0M633.8 291.3h0M542.4 256.0h0M604.3 298.3h0M625.7 339.9h0M599.0 301.2h0M637.9 295.2h0M642.4 323.7h0M543.4 240.7h0M618.2 289.1h0M629.6 298.4h0M546.2 255.2h0M620.8 287.9h0M529.7 248.0h0M548.5 256.4h0M628.0 301.8h0M610.3 292.5h0M600.3 307.2h0M545.2 242.9h0M530.4 333.0h0M609.8 304.7h0M540.5 249.8h0M635.8 289.9h0M532.1 243.6h0M527.9 250.7h0M524.4 248.3h0M543.8 250.9h0M539.8 249.6h0M616.2 298.6h0M615.8 295.9h0M639.5 310.4h0M537.5 238.9h0M530.0 238.6h0M546.1 246.9h0M537.8 253.6h0M602.2 296.2h0M617.6 310.2h0M602.0 302.4h0M638.2 293.4h0M536.1 251.4h0M602.4 293.1h0M633.0 305.8h0M634.7 310.6h0M642.3 321.5h0M617.8 310.7h0M540.7 240.9h0M605.8 300.1h0M638.0 307.2h0M635.6 302.0h0M540.6 240.5h0M543.4 242.9h0M524.5 241.9h0M535.6 250.4h0M638.4 292.9h0M524.8 248.8h0M622.1 314.0h0M637.2 292.3h0M637.8 303.7h0M602.2 294.1h0M539.0 265.9h0M537.2 248.4h0M628.6 310.8h0M611.9 301.0h0M625.0 288.7h0M628.2 305.3h0M539.0 255.0h0M612.2 297.1h0M629.1 286.7h0M539.1 245.2h0M537.7 242.9h0M638.0 314.5h0M619.6 291.5h0M522.1 254.4h0M642.0 301.9h0M633.8 310.2h0M525.4 246.9h0M620.4 288.7h0M524.3 251.0h0M536.6 256.0h0M606.9 287.8h0M525.2 243.0h0M617.0 296.7h0M641.1 302.9h0M615.0 310.4h0M636.1 315.8h0M618.5 313.6h0M633.0 300.9h0M542.2 247.5h0M634.5 315.8h0M625.1 307.7h0M524.5 329.3h0M546.8 253.8h0M598.5 311.2h0M619.3 298.1h0M612.8 303.6h0M538.4 257.3h0M620.1 314.8h0M525.0 249.3h0M631.7 289.7h0M522.9 257.8h0M527.5 249.8h0M611.6 325.9h0M540.0 275.6h0M525.1 244.3h0M617.5 307.9h0M529.3 248.3h0M611.1 304.5h0M606.6 292.8h0M623.9 308.6h0M605.6 321.0h0M545.5 244.0h0M620.3 293.0h0M624.7 296.8h0M613.2 298.4h0M530.3 249.1h0M632.7 300.3h0M611.2 329.8h0M543.0 254.7h0M613.3 323.9h0M607.3 291.1h0M598.8 303.4h0M616.4 295.1h0M543.8 239.7h0M549.8 253.2h0M529.2 238.5h0M634.6 300.1h0M601.0 298.5h0M620.5 296.2h0M520.2 249.3h0M623.8 308.5h0M636.8 312.6h0M641.7 327.0h0M541.4 249.8h0M531.2 257.6h0M620.1 301.3h0M531.3 251.3h0M539.2 243.2h0M531.2 239.2h0M636.4 307.7h0M637.5 290.3h0M537.6 247.5h0M629.5 287.2h0M608.3 309.0h0M519.2 250.7h0M535.2 248.6h0M634.2 309.6h0M606.9 294.2h0M615.3 316.9h0M534.4 242.8h0M619.7 318.7h0M643.6 309.1h0M525.3 240.4h0M532.7 260.3h0M636.6 313.8h0M606.3 311.7h0M533.9 245.1h0M525.5 249.3h0M531.1 239.8h0M621.4 286.9h0M544.0 253.3h0M537.6 242.9h0M529.3 252.2h0M606.4 302.1h0M540.4 243.8h0M626.0 293.6h0M629.2 292.4h0M642.4 318.8h0M599.7 306.6h0M619.3 314.2h0M525.7 241.1h0M537.7 238.2h0M533.4 237.8h0M527.5 249.0h0M616.2 303.1h0M627.1 331.3h0M627.7 301.0h0M535.0 254.4h0M638.8 303.0h0M639.8 292.8h0M625.2 306.6h0M641.2 312.3h0M637.9 316.6h0M530.7 252.6h0M598.6 311.0h0M621.6 309.6h0M632.7 319.7h0" stroke="#e09080" stroke-width="0.65" stroke-linecap="round" fill="none"/>
<path d="M609.9 298.2h0M598.7 301.6h0M611.8 292.8h0M625.7 297.4h0M528.0 258.9h0M627.6 294.4h0M640.9 337.6h0M541.5 242.1h0M633.1 302.8h0M599.6 313.3h0M611.8 310.0h0M619.3 297.9h0M612.3 312.1h0M525.0 252.0h0M538.5 242.3h0M629.9 286.5h0M521.2 245.2h0M608.6 289.0h0M640.1 328.5h0M532.3 236.7h0M616.3 327.5h0M625.5 288.1h0M599.9 307.6h0M523.9 259.7h0M600.1 301.2h0M640.9 298.0h0M542.7 250.0h0M618.9 323.8h0M598.8 300.3h0M612.7 293.9h0M536.3 246.8h0M524.0 253.8h0M617.6 305.0h0M637.9 305.2h0M608.8 321.4h0M614.4 333.5h0M616.9 304.4h0M631.7 302.6h0M620.3 293.3h0M606.5 295.7h0M628.4 318.1h0M631.8 303.0h0M620.5 296.1h0M600.3 314.0h0M524.1 252.5h0M527.7 249.0h0M640.6 325.9h0M609.5 298.7h0M523.2 257.0h0M543.5 247.9h0M615.2 286.9h0M631.1 287.5h0M634.0 313.8h0M546.8 248.1h0M527.4 242.0h0M632.3 289.5h0M641.2 297.4h0M622.4 303.5h0M615.1 310.0h0M538.3 241.1h0M534.0 235.7h0M525.0 243.8h0M635.4 292.9h0M641.7 301.8h0M539.9 240.1h0M632.5 309.4h0M602.1 308.5h0M534.1 259.3h0M604.0 306.4h0M617.9 322.5h0M614.5 317.8h0M632.5 319.5h0M639.7 323.2h0M545.1 248.5h0M639.8 294.9h0M615.1 293.8h0M600.1 315.2h0M604.8 291.1h0M538.1 239.7h0M601.7 320.2h0M535.1 254.4h0M540.7 253.1h0M618.5 317.8h0M537.8 235.3h0M635.7 331.3h0M624.4 296.5h0M529.4 242.3h0M522.2 244.1h0M636.3 297.2h0M534.7 253.3h0M536.5 254.6h0M598.0 309.5h0M539.8 246.2h0M523.2 258.8h0M530.5 249.5h0M620.4 314.9h0M520.1 247.7h0M615.9 307.5h0M628.5 295.5h0M617.7 333.7h0M618.8 338.9h0M642.7 304.5h0M546.1 256.6h0M619.5 296.5h0M549.5 254.8h0M610.2 288.1h0M642.3 300.7h0M628.2 308.7h0M612.5 303.4h0M626.8 307.0h0M532.0 255.5h0M637.3 299.5h0M618.4 299.2h0M543.4 254.3h0M526.2 258.0h0M615.4 288.4h0M625.2 289.1h0M539.1 242.8h0M625.6 320.8h0M613.9 290.6h0M539.4 252.9h0M613.8 316.6h0M618.5 291.3h0M641.0 303.5h0M625.5 302.8h0M620.6 304.9h0M626.7 298.9h0M632.0 307.1h0M636.4 304.4h0M547.4 261.7h0M529.5 236.8h0M630.8 313.5h0M540.6 244.0h0M606.9 332.1h0M616.9 300.2h0M640.8 314.2h0M543.4 263.9h0M530.9 245.7h0M642.6 318.4h0M545.5 253.0h0M616.5 306.3h0M533.6 242.9h0M549.1 252.9h0M530.2 259.3h0" stroke="#e07060" stroke-width="0.65" stroke-linecap="round" fill="none"/>
<path d="M639.6 313.8h0M615.0 332.8h0M612.0 328.8h0M600.0 322.8h0M538.0 335.9h0M613.7 329.1h0M616.5 337.6h0M534.1 265.1h0M535.5 273.8h0M631.4 344.5h0M624.3 348.9h0M526.9 326.4h0M642.2 316.7h0M529.5 256.0h0M547.6 252.6h0M617.9 318.0h0M520.0 250.4h0M607.5 313.7h0M538.8 335.7h0M621.0 328.7h0M610.1 316.1h0M614.7 342.1h0M616.0 324.2h0M619.9 312.3h0M621.0 330.7h0M640.0 319.5h0M536.5 262.5h0M522.8 259.8h0M529.0 265.9h0M537.8 267.7h0M640.5 320.9h0M611.9 335.5h0M623.5 312.1h0M548.2 273.9h0M599.2 322.3h0M538.2 275.0h0M600.3 334.3h0M606.7 319.9h0M537.5 273.3h0M603.1 335.7h0M624.3 340.1h0M620.3 336.4h0M638.3 335.0h0M549.2 264.8h0M623.6 318.5h0M623.6 351.9h0M526.7 262.2h0M616.1 343.0h0M638.6 326.1h0M620.5 314.9h0M600.6 312.5h0M611.4 341.2h0M622.9 350.9h0M616.3 338.8h0M643.2 306.0h0M642.0 337.2h0M639.7 330.2h0M616.4 349.1h0M519.8 248.5h0M610.0 335.8h0M534.1 251.4h0M526.4 334.1h0M536.4 272.7h0M636.5 342.0h0M605.0 299.3h0M534.1 272.3h0M625.6 337.7h0M607.5 328.2h0M634.5 342.2h0M606.9 313.0h0M634.9 333.1h0M626.7 315.4h0M619.1 335.5h0M520.7 249.6h0M546.0 254.1h0M617.7 329.9h0M638.2 339.3h0M530.2 261.8h0M597.1 330.9h0M534.4 268.9h0M530.0 256.8h0M612.5 343.6h0M607.5 336.1h0M598.6 320.1h0M536.3 335.7h0M635.3 345.6h0M531.7 269.4h0M625.7 352.5h0M615.0 336.6h0M532.6 256.8h0M543.5 275.3h0M634.1 343.3h0M624.8 340.2h0M600.4 334.9h0M624.2 336.1h0M625.2 338.0h0M632.6 333.1h0M528.5 257.2h0M639.7 324.3h0M607.5 329.5h0M602.8 296.7h0M540.2 276.5h0M613.1 311.7h0M621.7 352.6h0M632.1 349.7h0M539.6 270.7h0M547.1 273.8h0M629.7 342.4h0M528.9 261.1h0M548.9 265.1h0M618.4 329.1h0M540.0 241.0h0M620.6 301.8h0M526.4 248.9h0M607.7 332.6h0M609.9 336.5h0M549.1 258.2h0M609.9 349.4h0M599.1 336.7h0M610.2 336.4h0M545.8 265.7h0M544.4 256.2h0M607.9 334.0h0M613.7 333.0h0M538.9 268.3h0M537.0 263.3h0M641.1 327.3h0M611.1 337.7h0M625.3 310.1h0M598.8 318.7h0M535.9 265.6h0M537.3 272.1h0M632.1 329.5h0M541.3 269.9h0M542.6 274.3h0M621.6 342.5h0M616.7 299.4h0M639.6 330.1h0M544.4 270.1h0M600.1 306.2h0M635.1 325.1h0M628.5 293.6h0M626.2 351.0h0M640.1 333.8h0M621.4 338.9h0M636.8 342.2h0M537.4 335.3h0M628.3 335.7h0M540.2 274.7h0M627.8 330.8h0M623.3 350.4h0M634.4 288.2h0M639.6 316.4h0M629.8 346.4h0M630.0 326.6h0M601.4 330.0h0M535.7 269.1h0M614.9 345.6h0M612.8 316.7h0M540.7 276.5h0M623.6 323.1h0M599.2 318.4h0M549.4 268.0h0M539.3 251.6h0M643.4 317.2h0M531.3 269.3h0M527.1 256.3h0M621.7 329.6h0M524.8 330.0h0M545.2 245.7h0M640.0 316.3h0M539.4 277.2h0M637.5 327.4h0M613.4 340.4h0M626.8 325.6h0M538.0 335.9h0M615.9 341.9h0M539.4 336.1h0M534.0 271.3h0M635.6 311.1h0M613.0 314.5h0M607.4 346.3h0M608.5 347.3h0M637.0 292.8h0M530.0 263.6h0M526.6 257.9h0M630.2 334.7h0M545.3 267.5h0M617.2 341.5h0M617.5 316.4h0M623.6 321.8h0M636.7 345.0h0M636.5 336.6h0M635.9 316.1h0M529.5 336.6h0M606.7 342.7h0M625.6 326.5h0M604.0 323.8h0M613.3 328.9h0M621.6 335.5h0M626.9 326.3h0M602.4 317.6h0M642.4 335.9h0M529.5 259.1h0M635.9 315.0h0M599.2 339.1h0M622.7 328.5h0M539.4 248.3h0M609.9 348.7h0M527.9 264.5h0M528.0 333.4h0M541.5 264.8h0M549.2 265.5h0M630.0 320.1h0M547.6 266.8h0M615.7 349.5h0M635.6 321.7h0M622.9 338.3h0M629.4 350.4h0M526.8 334.6h0M609.1 327.8h0M617.2 344.3h0M541.2 272.7h0M625.8 351.9h0M600.3 312.3h0M621.9 349.1h0M609.8 330.4h0M535.4 269.5h0M633.1 333.7h0M615.3 328.9h0M611.0 309.7h0M622.3 323.0h0M612.4 316.1h0M545.6 267.3h0M602.6 344.2h0M544.9 268.3h0M636.8 312.3h0M627.1 341.2h0M598.0 336.6h0M597.8 327.2h0M548.0 253.1h0M614.5 336.2h0M549.3 251.5h0M611.0 326.6h0M638.8 336.3h0M621.9 307.8h0M527.0 262.2h0M546.0 265.5h0M614.2 325.0h0M613.8 342.3h0M636.0 311.2h0M613.6 348.7h0M615.0 319.3h0M609.5 336.2h0M632.9 312.7h0M615.9 335.3h0M638.8 341.3h0M640.1 326.6h0M606.0 324.3h0M620.9 332.7h0M612.0 342.0h0M639.3 319.7h0M622.7 330.8h0M612.0 337.0h0M607.2 336.6h0M604.1 348.9h0M533.5 268.5h0M639.4 327.5h0M627.2 350.6h0M629.4 342.4h0M634.4 330.8h0M528.3 250.6h0M621.5 339.9h0M613.8 342.9h0M612.5 328.6h0M640.1 342.3h0M629.3 325.2h0M616.4 331.8h0M624.1 325.9h0M630.0 346.1h0M601.1 323.1h0M610.9 291.9h0M542.6 270.0h0M610.8 349.1h0M610.0 338.2h0M608.2 326.9h0M613.6 342.2h0M625.8 340.0h0M542.1 271.4h0M630.6 308.5h0M640.3 331.1h0M630.1 344.3h0M602.3 332.4h0M643.7 328.2h0M604.1 344.9h0M620.3 351.5h0M604.3 340.4h0M639.7 335.7h0M614.3 345.6h0M627.7 319.0h0M622.5 319.2h0M545.7 271.6h0M629.8 348.6h0M614.1 333.0h0M542.7 256.9h0M544.7 264.7h0M643.2 336.0h0M620.5 332.6h0M625.3 340.3h0M612.1 318.5h0M546.6 262.4h0M610.4 341.7h0M545.9 255.8h0M614.8 347.4h0M546.3 261.6h0M624.1 345.6h0M536.4 258.4h0M617.9 325.3h0M633.6 334.1h0M602.6 332.9h0M534.7 272.8h0M526.7 261.1h0M625.9 297.5h0M538.7 271.9h0M629.7 339.2h0M615.9 330.3h0M602.2 322.4h0M616.1 335.2h0M548.0 267.7h0M537.1 335.1h0M540.5 269.7h0M538.4 266.0h0M639.6 323.5h0M633.5 333.3h0M621.9 314.8h0M619.7 346.9h0M531.7 264.6h0M623.4 346.2h0M620.1 322.0h0M610.2 288.9h0M618.6 352.4h0M628.9 346.6h0M641.6 319.0h0M528.5 266.6h0M543.1 252.8h0M609.5 339.0h0M607.8 332.2h0M540.3 336.1h0M542.6 269.9h0M622.7 341.6h0M613.1 329.4h0M540.2 270.7h0M628.8 330.2h0M535.1 261.1h0M601.1 342.0h0M629.0 309.0h0M610.9 335.2h0M531.9 335.8h0M546.5 256.8h0M610.6 348.2h0M607.3 335.8h0M621.0 348.8h0M637.6 333.5h0M625.0 341.3h0M630.1 347.5h0M537.1 270.8h0M543.1 273.7h0M638.7 327.2h0M533.9 269.7h0M541.5 271.1h0M624.3 338.7h0M633.1 329.2h0M641.1 316.9h0M622.5 331.1h0M601.3 344.3h0M613.9 327.4h0M609.0 351.6h0M603.9 324.0h0M599.3 323.2h0M615.6 335.5h0M533.0 272.3h0M632.6 320.1h0M608.6 323.5h0M545.0 270.5h0M549.2 266.8h0M543.9 265.4h0M547.3 269.3h0M618.3 340.3h0M626.2 313.1h0M617.1 341.0h0M625.6 346.2h0M541.1 258.4h0M531.5 334.5h0M524.4 251.7h0M615.2 335.5h0M599.1 336.8h0M632.4 344.4h0M618.6 347.5h0M621.8 349.2h0M527.4 335.5h0M535.0 267.3h0M549.7 268.7h0M631.0 331.8h0M612.0 342.5h0M519.7 253.5h0M525.8 260.7h0M618.0 327.1h0M544.0 270.3h0M544.2 265.8h0M606.4 348.5h0M608.0 342.5h0M629.8 312.9h0M618.1 330.7h0M626.3 330.7h0M630.6 337.7h0M622.9 331.2h0M601.0 323.4h0M550.2 260.9h0M622.8 345.8h0M606.3 334.4h0M621.0 343.5h0M615.4 311.4h0M604.4 325.0h0M538.5 262.8h0M612.0 333.9h0M538.3 276.5h0M620.1 336.9h0M600.2 341.1h0M632.3 338.3h0M618.6 306.0h0M627.8 338.5h0M606.4 341.0h0M528.1 335.7h0M540.7 261.4h0M608.5 320.0h0M632.5 350.4h0M627.0 324.2h0M640.7 336.3h0M534.1 334.4h0M537.1 337.0h0M610.0 332.8h0M630.4 333.5h0M537.9 272.6h0M527.4 326.6h0M631.8 349.3h0M621.7 311.0h0M642.7 328.4h0M616.3 346.1h0M543.9 258.9h0M628.7 338.6h0M626.7 337.9h0M634.6 347.9h0M611.2 344.2h0M548.3 267.8h0M538.2 276.4h0M527.1 333.5h0M524.5 242.4h0M537.6 275.5h0M524.5 328.9h0M545.9 249.1h0M609.8 351.9h0M617.5 317.4h0M640.4 333.0h0M538.0 335.1h0M633.9 341.9h0M602.6 339.8h0M638.9 319.7h0M602.8 345.8h0M639.3 341.2h0M618.5 319.1h0M545.2 267.8h0M525.8 328.1h0M531.3 251.1h0M636.0 332.3h0M605.9 299.4h0M631.8 339.5h0M628.8 317.2h0M549.6 265.5h0M610.2 343.9h0M637.8 321.5h0M628.7 344.3h0M616.8 327.0h0M539.7 273.3h0M598.4 331.8h0M546.3 263.7h0M629.4 311.2h0M602.1 345.4h0M641.4 338.5h0M542.4 262.5h0M606.9 340.9h0M621.2 342.9h0M608.2 335.4h0M625.2 319.5h0M528.0 256.3h0M617.7 349.2h0M529.9 333.7h0M631.5 350.7h0M618.4 312.4h0M621.2 347.6h0M544.9 274.7h0M625.0 309.3h0M603.8 348.4h0M536.7 335.3h0M546.5 269.9h0M602.5 331.4h0M629.9 322.4h0M523.5 333.1h0M603.6 302.3h0M602.0 318.7h0M625.6 327.4h0M550.5 262.1h0M612.5 350.3h0M606.6 350.1h0M606.1 315.2h0M636.1 349.9h0M635.1 319.5h0M635.3 318.6h0M632.9 344.4h0M526.2 260.3h0M550.0 265.8h0M638.2 315.2h0M604.0 338.6h0M611.5 311.8h0M620.9 327.4h0M620.4 327.2h0M539.7 336.2h0M615.0 346.9h0M611.1 352.2h0M615.4 320.2h0M613.7 343.9h0M543.9 276.2h0M616.0 334.3h0M627.6 343.9h0M624.2 301.3h0M634.2 311.5h0M541.1 270.4h0M631.9 318.1h0M535.6 263.5h0M537.3 335.3h0M535.3 255.8h0M608.9 339.2h0M602.3 311.7h0M544.7 265.4h0M539.4 275.2h0M640.8 318.4h0M619.6 351.9h0M532.1 260.9h0M640.9 331.1h0M638.0 341.4h0M548.1 273.4h0M603.9 296.6h0M609.9 332.3h0M629.1 309.3h0M611.6 323.2h0M641.1 323.0h0M598.3 321.4h0M639.0 330.9h0M550.4 266.1h0M529.5 267.4h0M612.4 345.5h0M635.6 334.4h0M529.1 331.6h0M536.3 246.7h0M599.4 325.0h0M617.1 289.3h0M619.2 339.5h0M527.5 240.0h0M632.2 332.8h0M616.0 314.2h0M627.2 330.4h0M543.7 335.5h0M617.7 343.8h0M637.9 344.6h0M642.3 336.2h0M636.6 303.3h0M615.1 335.2h0M612.6 342.6h0M621.8 323.5h0M616.1 316.7h0M538.4 335.9h0M634.3 318.2h0M539.9 263.7h0M629.6 320.3h0M527.5 264.5h0M541.4 260.8h0M520.4 251.2h0M640.9 335.5h0M631.3 322.8h0M611.2 308.8h0M638.7 336.2h0M610.2 338.8h0M617.2 344.9h0M611.6 342.6h0M610.6 336.3h0M636.1 322.4h0M533.7 271.1h0M603.3 330.9h0M618.5 350.7h0M528.5 332.0h0M639.5 332.1h0M623.6 336.0h0M544.1 250.1h0M537.0 335.8h0M623.3 345.4h0M630.4 324.9h0M602.2 299.3h0M523.7 258.3h0M611.2 335.8h0M610.9 331.9h0M616.6 351.0h0M540.6 335.8h0M525.7 335.1h0M611.5 349.5h0M621.9 330.2h0M637.2 313.6h0M547.0 255.1h0M612.0 329.8h0M545.7 266.8h0M614.3 344.9h0M597.6 334.9h0M620.5 331.0h0M539.0 266.0h0M548.1 270.1h0M612.8 330.1h0M636.9 345.0h0M598.5 331.7h0M536.2 336.1h0M634.6 332.5h0M604.4 344.7h0M626.0 330.9h0M538.8 335.3h0M639.5 317.8h0M603.0 346.6h0M533.5 333.8h0M532.1 267.2h0M533.6 333.8h0M626.4 317.9h0M617.9 325.3h0M608.6 338.0h0M521.4 256.1h0M537.4 252.7h0M605.3 336.7h0M621.4 350.9h0M620.1 317.9h0M640.0 333.4h0M619.5 335.8h0M634.8 316.0h0M526.8 330.7h0M633.6 336.1h0M641.8 339.5h0M625.3 340.4h0M539.0 266.2h0M543.4 252.4h0M547.7 270.2h0M639.9 336.0h0M636.8 317.5h0M531.9 268.0h0M617.3 353.3h0M620.3 339.0h0M529.0 261.8h0M530.6 331.8h0M605.7 335.3h0M627.2 319.3h0M633.4 345.2h0M542.8 275.7h0M623.4 314.0h0M630.8 345.4h0M548.6 262.9h0M637.5 308.7h0M633.5 323.9h0M602.2 342.6h0M637.9 326.7h0M550.3 261.9h0M521.7 244.0h0M634.3 329.6h0M642.1 339.0h0M643.8 317.7h0M631.9 314.9h0M542.2 334.8h0M538.0 265.9h0M610.3 340.7h0M642.2 330.1h0M629.8 321.4h0M626.3 312.7h0M641.6 302.1h0M546.2 261.4h0M549.0 262.0h0M625.9 322.6h0M629.4 347.7h0M528.7 264.3h0M640.2 317.6h0M633.3 315.2h0M640.5 342.2h0M600.5 332.8h0M531.5 269.1h0M608.3 340.6h0M625.9 327.3h0M539.2 265.7h0M548.5 253.1h0M546.7 264.7h0M638.1 346.2h0M543.5 265.5h0M601.0 333.0h0M630.9 328.9h0M549.1 252.4h0M608.4 325.9h0M538.6 263.9h0M608.3 336.8h0M616.0 339.0h0M631.1 345.1h0M605.2 341.0h0M598.2 315.3h0M607.3 334.2h0M638.2 341.9h0M529.0 332.9h0M616.7 345.9h0M627.3 326.5h0M625.5 304.7h0M611.8 347.2h0M629.6 335.4h0M608.4 351.3h0M606.3 348.7h0M613.8 347.8h0M631.6 346.5h0M627.9 324.0h0M627.7 346.3h0M531.7 261.2h0M528.5 266.3h0M616.0 334.6h0M606.0 335.6h0M606.6 311.5h0M642.6 319.4h0M549.6 258.3h0M607.3 303.0h0M620.2 334.5h0M612.8 343.7h0M638.3 318.1h0M630.9 346.2h0M630.6 329.2h0M617.1 351.1h0M607.4 344.0h0M628.3 342.0h0M620.2 342.3h0M526.3 258.5h0M620.5 344.1h0M637.6 338.7h0M634.9 350.1h0M633.1 330.4h0M643.8 327.4h0M627.9 325.9h0M637.9 345.7h0M537.7 257.6h0M611.1 326.7h0M521.4 249.1h0M621.3 329.0h0M608.9 335.9h0M608.0 350.8h0M639.1 320.0h0M614.1 326.9h0M615.8 325.3h0M527.0 329.6h0M604.8 345.6h0M538.0 335.4h0M615.3 342.1h0M541.5 257.9h0M606.9 335.7h0M616.2 351.8h0M530.2 239.1h0M615.6 352.7h0M617.3 353.4h0M623.5 293.4h0M605.1 329.5h0M633.9 329.4h0M615.8 329.1h0M536.2 268.6h0M542.2 268.6h0M597.5 320.3h0M640.7 339.1h0M535.0 264.1h0M637.5 348.1h0M640.6 327.3h0M544.2 256.2h0M520.7 252.9h0M543.9 253.1h0M630.3 342.6h0M626.1 347.4h0M607.2 342.9h0M613.1 316.6h0M640.3 318.1h0M539.7 274.8h0M605.1 337.5h0M639.6 305.7h0M603.9 342.3h0M541.2 335.2h0M636.0 328.0h0M638.0 340.3h0M623.2 317.7h0M535.7 336.0h0M539.6 275.6h0M631.0 333.5h0M619.8 337.8h0M631.8 331.3h0M631.7 332.9h0M617.4 345.9h0" stroke="#a090e0" stroke-width="0.65" stroke-linecap="round" fill="none"/>
<path d="M619.2 332.2h0M545.7 270.3h0M616.5 322.5h0M541.2 273.2h0M632.1 325.8h0M605.2 336.0h0M631.1 327.7h0M629.4 324.1h0M642.9 323.3h0M601.5 330.5h0M539.0 336.0h0M525.0 250.3h0M622.8 330.0h0M632.1 336.6h0M599.5 334.7h0M620.4 318.6h0M539.5 275.6h0M541.5 271.8h0M612.4 308.0h0M542.3 335.8h0M552.2 275.1h0M532.3 271.4h0M524.1 258.5h0M605.9 311.5h0M638.8 318.4h0M599.2 337.0h0M639.8 335.9h0M617.6 334.8h0M639.8 339.4h0M540.2 266.2h0M626.9 318.6h0M620.9 338.4h0M633.8 349.2h0M538.2 260.4h0M620.0 310.7h0M527.3 258.4h0M608.6 348.9h0M626.2 316.9h0M606.7 349.8h0M545.5 266.2h0M624.9 336.4h0M639.0 336.6h0M545.4 264.6h0M550.3 257.1h0M635.3 322.0h0M635.9 326.5h0M609.2 331.5h0M629.4 349.0h0M544.3 240.2h0M609.8 324.3h0M544.0 255.1h0M546.4 265.2h0M635.9 343.9h0M635.9 335.0h0M537.7 269.6h0M632.7 319.3h0M604.8 305.5h0M635.3 321.7h0M531.3 255.6h0M608.4 349.6h0M527.9 265.4h0M628.9 336.8h0M617.1 323.3h0M608.2 337.2h0M531.4 267.3h0M643.3 329.5h0M609.6 314.5h0M629.9 317.0h0M641.8 328.1h0M541.9 262.3h0M534.2 254.4h0M606.3 327.8h0M614.6 331.5h0M519.9 252.8h0M598.3 324.6h0M625.8 342.8h0M617.2 320.9h0M638.3 337.5h0M599.2 328.3h0M605.1 347.7h0M618.0 332.8h0M600.0 332.5h0M545.3 275.3h0M626.5 342.0h0M617.7 338.6h0M536.9 252.6h0M533.0 268.0h0M544.8 266.3h0M624.3 334.2h0M536.6 258.6h0M599.4 316.6h0M608.6 348.4h0M536.1 336.9h0M618.4 344.8h0M601.1 320.7h0M602.5 322.1h0M639.1 344.5h0M604.2 339.5h0M621.7 343.5h0M626.4 343.1h0M621.9 343.6h0M641.1 337.3h0M623.9 337.0h0M628.8 346.4h0M619.8 349.6h0M616.2 345.4h0M623.3 332.8h0M543.6 261.7h0M619.1 319.0h0M540.5 335.2h0M613.1 350.1h0M641.5 301.5h0M602.5 303.6h0M639.5 334.0h0M631.6 324.2h0M638.7 329.5h0M611.6 347.0h0M601.7 335.6h0M611.8 351.5h0M622.9 343.9h0M543.1 268.8h0M639.8 324.7h0M621.6 319.7h0M528.3 266.2h0M540.3 265.0h0M630.6 337.8h0M622.8 331.9h0M597.7 318.9h0M617.9 340.6h0M601.9 341.6h0M550.4 262.3h0M629.7 345.7h0M603.1 346.0h0M642.6 316.7h0M550.2 269.3h0M637.7 293.0h0M601.1 325.7h0M635.7 331.1h0M626.1 340.1h0M614.6 311.2h0M630.1 327.2h0M637.7 332.9h0M612.6 337.6h0M542.7 259.5h0M546.8 268.9h0M606.2 335.2h0M603.9 334.3h0M627.8 348.1h0M614.1 350.0h0M548.0 256.0h0M524.9 261.1h0M541.1 268.2h0M631.1 313.0h0M625.4 322.6h0M622.4 303.2h0M538.2 242.6h0M607.7 326.8h0M608.4 333.1h0M530.3 252.9h0M619.0 347.3h0M541.0 275.2h0M539.1 276.5h0M620.6 312.5h0M606.5 348.1h0M623.2 340.2h0M527.5 259.8h0M637.3 347.2h0M609.4 338.2h0M625.8 312.7h0M605.0 345.7h0M522.9 252.2h0M631.6 320.2h0M624.9 350.6h0M529.2 325.8h0M613.5 318.1h0M642.0 339.4h0M538.4 274.6h0M618.4 326.5h0M626.1 310.8h0M617.3 343.0h0M525.9 331.1h0M539.8 273.2h0M617.1 334.5h0M542.3 260.3h0M535.8 272.4h0M642.8 337.2h0M630.8 343.2h0M640.3 342.6h0M605.3 316.1h0M526.9 331.8h0M643.0 333.0h0M631.3 343.5h0M520.4 252.6h0M625.2 339.5h0M619.6 316.5h0M529.9 266.3h0M616.9 318.3h0M643.6 321.5h0M526.1 331.8h0M598.3 322.7h0M629.7 324.6h0M613.4 333.6h0M637.5 339.3h0M614.7 351.5h0M597.5 333.0h0M625.4 316.0h0M634.9 330.7h0M620.9 333.1h0M616.7 337.1h0M618.4 332.5h0M621.2 309.3h0M603.7 292.8h0M616.7 318.1h0M638.1 332.2h0M602.7 340.4h0M638.4 330.4h0M643.6 320.4h0M599.8 330.6h0M603.8 334.4h0M623.4 347.1h0M628.8 350.2h0M539.6 254.5h0M540.7 270.1h0M540.0 256.9h0M630.3 341.5h0M638.7 342.9h0M602.8 331.3h0M631.6 320.3h0M540.3 257.2h0M609.6 310.9h0M625.8 347.0h0M622.7 323.4h0M521.0 257.7h0M624.2 340.8h0M633.0 332.3h0M526.2 330.9h0M615.3 344.7h0M619.6 351.9h0M635.0 350.3h0M626.3 335.6h0M638.7 328.6h0M542.1 251.6h0M532.8 265.4h0M607.7 350.1h0M608.2 329.7h0M597.0 315.8h0M556.3 278.6h0M633.6 333.6h0M603.4 330.8h0M599.3 315.6h0M525.7 332.8h0M621.0 349.6h0M622.8 320.8h0M529.8 266.4h0M625.0 312.7h0M624.5 337.3h0M530.1 328.9h0M538.7 267.0h0M606.8 344.1h0M610.1 350.4h0M605.2 328.7h0M608.1 344.7h0M614.3 306.6h0M541.1 259.6h0M604.6 334.5h0M637.2 335.5h0M608.0 337.7h0M599.1 334.9h0M642.7 310.5h0M537.5 335.9h0M548.9 258.8h0M542.7 251.5h0M641.8 302.3h0M622.9 346.0h0M636.0 313.0h0M548.5 269.0h0M639.4 336.2h0M537.1 274.9h0M622.4 326.7h0M549.5 262.6h0M633.0 337.8h0M634.6 338.4h0M599.7 335.7h0M614.8 345.0h0M597.6 333.4h0M599.5 324.9h0M612.9 344.3h0M597.7 328.6h0M634.8 325.0h0M610.4 322.0h0M541.4 265.3h0M523.6 258.8h0M629.8 348.7h0M615.4 342.3h0M624.6 311.3h0M542.1 249.9h0M626.4 337.7h0M641.4 342.1h0M539.5 275.2h0M618.6 347.0h0M608.1 313.3h0M536.6 263.2h0M528.3 260.1h0M621.6 344.9h0M618.5 321.7h0M549.3 262.1h0M539.4 335.5h0M614.5 329.8h0M613.0 315.1h0M538.8 272.9h0M629.7 325.0h0M609.1 338.7h0M548.2 270.7h0M614.9 344.5h0M641.5 324.9h0M615.8 328.9h0M543.7 261.8h0M600.6 321.4h0M633.8 347.4h0M536.6 275.5h0M627.7 328.1h0M550.2 265.6h0M642.3 335.1h0M642.9 337.4h0M615.5 347.7h0M606.0 333.6h0M533.7 251.7h0M612.4 323.2h0M598.4 330.8h0M545.6 269.6h0M610.9 323.7h0M617.1 340.1h0M635.5 348.5h0M617.8 319.9h0M638.1 321.7h0M636.8 335.1h0M615.2 342.3h0M540.7 272.2h0M632.1 297.2h0M643.1 333.2h0M627.6 338.0h0M537.7 266.7h0M629.7 316.2h0M623.0 341.6h0M531.6 258.4h0M616.6 341.7h0M636.7 313.5h0M598.4 334.5h0M538.2 269.6h0M640.6 335.4h0M630.1 340.2h0M629.5 346.3h0M599.0 319.1h0M545.4 259.5h0M615.1 323.8h0M616.4 341.9h0M600.9 302.7h0M626.2 342.7h0M539.1 335.3h0M643.2 319.4h0M530.9 260.9h0M636.2 349.0h0M533.2 258.8h0M607.0 337.3h0M638.3 296.5h0M629.1 333.3h0M617.2 342.9h0M532.6 262.4h0M621.2 349.9h0M612.7 323.7h0M621.5 329.2h0M545.9 274.1h0M632.7 313.0h0M611.2 339.6h0M640.6 336.0h0M639.2 324.2h0M603.3 325.0h0M629.2 341.1h0M611.7 342.9h0M630.7 344.4h0M528.7 333.5h0M633.4 334.6h0M618.7 342.6h0M616.8 324.7h0M531.4 263.8h0M642.8 337.9h0M624.1 325.8h0M641.3 326.8h0M632.8 341.1h0M639.3 336.0h0M547.1 265.0h0M601.2 334.1h0M629.7 307.7h0M639.6 330.7h0M613.0 294.6h0M525.5 259.1h0M612.3 332.9h0M538.5 264.3h0M544.4 274.4h0M634.8 349.4h0M609.7 350.0h0M622.2 315.7h0M549.3 251.5h0M599.0 323.8h0M612.4 346.8h0M598.5 325.5h0M625.9 313.8h0M554.3 276.9h0M620.9 334.6h0M538.2 269.6h0M637.7 344.7h0M622.1 341.5h0M524.5 334.4h0M540.2 335.5h0M639.9 345.3h0M532.7 256.9h0M623.7 318.6h0M537.5 271.7h0M532.7 263.1h0M636.7 341.6h0M610.8 332.8h0M524.6 333.2h0M541.8 265.7h0M539.3 255.6h0M547.9 274.2h0M524.5 258.7h0M538.1 336.1h0M611.1 351.4h0M536.9 267.4h0M620.1 325.0h0M545.0 275.5h0M527.5 261.4h0M601.0 314.0h0M627.0 312.7h0M632.3 318.9h0M630.8 332.6h0M602.4 326.8h0M529.7 326.6h0M638.4 333.1h0M624.8 342.0h0M598.9 330.8h0M632.4 319.6h0M533.0 266.4h0M597.5 334.7h0M602.7 325.1h0M612.7 313.0h0M620.0 329.3h0M543.1 270.6h0M540.4 336.3h0M627.7 341.3h0M634.9 325.9h0M619.3 330.1h0M543.6 269.8h0M641.7 338.0h0M629.1 345.5h0M552.5 276.7h0M614.5 342.4h0M627.6 327.1h0M633.4 307.5h0M607.4 334.5h0M614.6 332.1h0M622.6 311.9h0M538.9 335.5h0M633.9 326.7h0M612.4 335.2h0M615.5 326.7h0M619.2 332.4h0M612.0 334.8h0M539.9 257.9h0M617.4 318.2h0M541.4 336.4h0M609.9 345.0h0M600.9 345.2h0M549.8 263.5h0M610.2 309.9h0M597.3 319.7h0M541.2 272.9h0M643.7 327.5h0M537.4 261.3h0M598.2 331.6h0M630.0 342.3h0M635.7 322.6h0M541.7 269.1h0M534.5 334.1h0M525.3 258.5h0M540.1 254.4h0M535.9 267.9h0M607.4 318.4h0M628.8 344.2h0M641.3 340.3h0M635.6 333.0h0M615.9 346.5h0M599.6 326.1h0M639.8 339.1h0M627.3 319.8h0M642.4 337.1h0M603.9 348.5h0M534.1 255.3h0M617.4 347.9h0M543.4 275.5h0M634.1 312.2h0M601.3 341.1h0M531.8 270.8h0M620.1 341.3h0M617.8 339.7h0M604.7 347.6h0M597.5 332.8h0M539.1 276.6h0M540.5 335.3h0M601.1 315.8h0M535.7 334.8h0M631.7 343.1h0M536.6 334.7h0M620.9 315.5h0M535.1 275.4h0M642.8 330.1h0M603.5 299.9h0M544.1 257.0h0M544.9 267.9h0M613.9 327.5h0M634.0 318.3h0M598.1 336.2h0M604.9 325.8h0M549.5 267.7h0M632.5 333.6h0M606.7 340.8h0M637.7 306.9h0M620.6 323.5h0M537.1 272.5h0M538.5 270.9h0M537.0 260.8h0M637.3 320.2h0M621.2 335.7h0M613.3 340.0h0M635.7 342.8h0M617.9 312.8h0M542.2 271.5h0M599.5 324.8h0M639.4 320.5h0M539.9 265.1h0M540.2 272.5h0M541.3 271.0h0M618.9 332.9h0M619.7 338.8h0M613.5 347.2h0M636.2 349.3h0M615.3 345.9h0M527.8 263.6h0M531.1 252.8h0M530.9 255.6h0M606.4 333.5h0M627.7 311.0h0M628.9 352.3h0M628.7 344.6h0M607.0 320.3h0M625.3 327.1h0M636.0 323.3h0M542.3 276.9h0M607.8 351.1h0M636.9 320.8h0M525.2 260.0h0M609.0 349.9h0M638.3 334.8h0M641.0 333.7h0M643.1 331.4h0M613.2 325.6h0M613.0 336.1h0M630.4 324.0h0M612.4 333.9h0M623.4 332.4h0M629.1 338.5h0M605.9 326.8h0M529.6 336.2h0M610.4 348.2h0M627.7 340.2h0M625.7 348.8h0M611.7 316.2h0M629.6 346.7h0M624.1 351.8h0M626.4 313.0h0M620.6 330.1h0M544.7 262.6h0M635.0 339.3h0M638.3 345.0h0M541.8 259.4h0M625.3 344.1h0M532.4 254.3h0M615.6 340.8h0M606.7 341.0h0M620.5 309.7h0M633.3 329.0h0M610.7 326.1h0M644.2 319.1h0M619.0 339.6h0M618.4 331.1h0M621.2 332.3h0M525.3 262.0h0M602.3 344.2h0M601.8 311.4h0M539.0 252.1h0M609.2 336.1h0M636.9 310.8h0M628.9 352.0h0M535.6 335.5h0M600.5 339.2h0M609.2 349.3h0M536.6 250.9h0M524.8 334.7h0M599.7 330.3h0M540.1 264.3h0M531.8 270.6h0M622.5 318.4h0M599.8 333.2h0M603.2 346.1h0M629.9 315.6h0M627.0 342.4h0M617.1 298.1h0M643.6 310.0h0M633.0 314.2h0M638.3 338.0h0M631.5 331.5h0M608.6 344.3h0M537.1 271.7h0M541.2 271.7h0M614.4 333.3h0M537.9 261.1h0M529.8 267.8h0M629.8 348.4h0M606.7 312.8h0M618.1 350.0h0M636.4 332.5h0M608.0 328.9h0M634.1 295.8h0M547.4 261.7h0M614.3 350.5h0M635.0 294.9h0M629.6 345.1h0M616.4 319.7h0M618.3 321.9h0M610.2 326.9h0M603.6 300.6h0M611.6 327.1h0M607.9 350.7h0M599.2 332.7h0M613.2 327.2h0M537.1 269.7h0M533.7 256.7h0M635.4 333.7h0M538.5 271.5h0M602.9 303.7h0M618.6 338.2h0M532.2 269.3h0M636.0 339.5h0M533.8 272.4h0M636.9 335.3h0M629.8 324.6h0M625.6 303.0h0M634.8 323.2h0M642.6 338.7h0M612.3 339.1h0M636.1 345.6h0M553.2 275.4h0M633.9 333.5h0M615.2 344.2h0M641.5 327.1h0M521.5 249.8h0M630.5 337.5h0M605.3 350.2h0M616.4 334.9h0M527.6 260.5h0M633.8 341.5h0M626.5 314.3h0M631.6 300.4h0M640.1 342.3h0M636.1 308.9h0M543.5 275.5h0M597.7 318.0h0M637.9 340.7h0M626.1 336.9h0M614.4 324.7h0M603.6 344.0h0M536.3 275.8h0M532.4 267.0h0M532.0 254.6h0M598.8 333.2h0M545.2 273.0h0M543.0 274.5h0M611.2 338.7h0M548.5 266.8h0M624.3 345.9h0M598.0 321.0h0M548.6 270.9h0M544.6 272.8h0M624.8 350.9h0M633.4 337.0h0M539.3 273.6h0M533.3 257.3h0M542.2 273.6h0M521.6 254.7h0M604.1 342.4h0M632.2 315.0h0M631.1 338.3h0M540.8 260.9h0M602.8 338.1h0M549.8 253.7h0M598.1 309.2h0M628.2 322.0h0M538.9 252.2h0M621.5 334.9h0M606.0 310.4h0M629.6 320.4h0M550.6 262.9h0M622.6 344.4h0M541.8 268.0h0M540.6 239.9h0M628.8 297.3h0M604.7 326.0h0M544.0 266.4h0M537.0 250.5h0M529.6 334.5h0M624.5 290.4h0M542.8 270.0h0M624.3 322.4h0M611.7 333.2h0M640.3 343.9h0M526.9 259.0h0M599.5 310.9h0M598.9 332.9h0M637.8 324.1h0M616.4 320.6h0M617.7 352.4h0M607.9 315.2h0M607.0 344.5h0M599.2 329.0h0M535.8 272.8h0M543.0 269.4h0M636.8 324.1h0M537.8 269.7h0M618.4 311.0h0M523.2 259.1h0M636.1 317.5h0M625.5 347.6h0M626.7 327.6h0M612.4 317.3h0M534.4 271.9h0M542.4 335.2h0M609.7 349.4h0M617.4 323.3h0M637.0 331.6h0M602.2 330.0h0M612.2 338.5h0M627.5 346.1h0M521.5 256.3h0M630.0 329.0h0M617.0 331.6h0M535.3 334.1h0M612.8 334.2h0M628.4 313.2h0M609.1 333.0h0M604.6 321.7h0M639.1 344.5h0M527.8 264.8h0M615.5 342.1h0M634.7 348.3h0M621.2 346.3h0M628.8 332.9h0M520.6 256.3h0M544.4 270.5h0M622.0 351.5h0M532.1 271.2h0M629.8 346.6h0M610.1 335.8h0M636.8 336.9h0M627.3 333.3h0M625.2 340.8h0M626.0 326.6h0M609.7 327.7h0M597.9 316.3h0M538.4 274.6h0M610.6 326.7h0M614.9 344.9h0M626.4 315.8h0M641.4 335.6h0M633.9 345.1h0M520.2 252.0h0M639.2 333.6h0M621.8 319.3h0M630.6 318.5h0M605.9 338.7h0M621.3 338.1h0M640.7 340.5h0M536.0 258.2h0M613.1 346.8h0M611.0 329.1h0M598.9 334.4h0M605.6 324.0h0M626.6 323.7h0M640.5 314.5h0M615.4 345.3h0M625.0 319.4h0M642.1 319.9h0M641.7 329.9h0M631.4 312.5h0M641.6 304.0h0M609.6 338.5h0M622.7 328.9h0M611.7 333.7h0M640.7 297.8h0M626.3 339.6h0M527.7 332.5h0M624.9 327.4h0M602.1 334.7h0M533.5 334.7h0M617.7 320.0h0M529.2 266.6h0M635.5 348.8h0M541.1 270.1h0M534.1 259.9h0M637.8 319.5h0M626.0 352.6h0M606.5 323.9h0M618.2 347.2h0M642.4 334.5h0M618.8 303.2h0M629.1 338.6h0M606.2 345.3h0M600.3 343.5h0M621.0 346.3h0M527.8 261.1h0M606.1 346.3h0M598.6 314.3h0M632.2 347.3h0M635.4 321.0h0M543.5 258.2h0M527.8 258.7h0M612.7 330.7h0M606.7 348.3h0M628.1 314.4h0M605.2 306.5h0M523.8 260.9h0M627.5 303.6h0M624.5 310.7h0M611.3 322.6h0M636.4 317.8h0M637.7 333.2h0M612.5 326.9h0M635.0 323.2h0M544.7 273.9h0M629.9 337.1h0M625.5 347.5h0M532.7 333.5h0M607.7 345.9h0M603.8 347.3h0M616.1 299.0h0M543.0 249.4h0M528.5 260.7h0M597.3 324.2h0M529.1 332.0h0M621.9 319.9h0M632.3 322.7h0M605.4 337.2h0M642.9 323.1h0M541.6 334.9h0M638.0 340.7h0M616.0 307.9h0M539.8 273.5h0M606.2 329.0h0M642.2 325.9h0M617.3 346.3h0M542.1 268.5h0M636.1 328.5h0M529.4 330.6h0M544.3 336.3h0M628.0 329.3h0M620.7 342.6h0M610.9 313.9h0M604.5 333.8h0M535.0 253.4h0M612.0 344.3h0M549.5 264.1h0M628.5 336.4h0M529.1 335.4h0M530.0 257.0h0M543.2 273.2h0M635.3 291.7h0M601.2 314.5h0M642.0 334.1h0M608.5 351.8h0M638.2 336.7h0M545.4 266.3h0M637.2 339.6h0M619.0 313.0h0M543.3 261.7h0M626.7 328.3h0M530.2 335.5h0M598.2 320.4h0M643.0 326.2h0M603.2 324.2h0M632.5 351.4h0M612.2 288.5h0M541.3 274.3h0M623.1 336.0h0M614.4 340.4h0M626.3 329.2h0M626.1 350.5h0M604.8 349.3h0M631.1 336.4h0M531.5 253.9h0M631.9 329.0h0M541.5 269.0h0M625.4 330.0h0M637.8 327.6h0M640.6 323.2h0M525.0 334.2h0M643.8 317.7h0M599.8 320.3h0M550.0 264.9h0M525.6 260.8h0M521.3 244.4h0M621.6 326.8h0M630.5 347.2h0M641.8 338.1h0M542.6 246.7h0M634.2 344.3h0M526.6 264.0h0M529.3 256.0h0M622.0 320.1h0M620.4 347.0h0M636.0 321.8h0M541.4 272.3h0M617.6 345.9h0M618.4 323.1h0M541.1 267.4h0M630.2 344.2h0M608.2 345.7h0M605.1 294.2h0M547.0 272.5h0M530.1 337.0h0M536.6 271.1h0M519.7 250.7h0M638.3 332.3h0M627.9 329.7h0M603.2 325.6h0M640.3 329.0h0M617.5 333.1h0M619.6 335.4h0M613.2 334.9h0M622.2 331.3h0M626.4 332.2h0M604.0 329.7h0M524.2 252.7h0M633.6 328.7h0M608.4 313.8h0M623.8 343.1h0M608.1 341.7h0M599.9 331.5h0M635.7 323.8h0M630.9 323.1h0M641.6 333.6h0M539.4 335.7h0M543.2 271.0h0M612.3 313.5h0M530.8 264.6h0M538.2 273.8h0M537.8 336.6h0M620.9 294.2h0M632.1 326.4h0M544.0 254.4h0M533.4 260.2h0M623.7 340.3h0M532.0 260.9h0M627.0 343.2h0M523.5 258.4h0M623.9 305.1h0M629.9 338.4h0M614.6 328.2h0M606.3 308.8h0M621.4 347.7h0M536.7 246.3h0M607.5 332.1h0M613.1 326.3h0M622.5 338.8h0M547.1 260.7h0M532.1 269.2h0M635.6 345.3h0M640.1 312.0h0M609.1 326.7h0M624.5 334.1h0M643.8 312.1h0M538.6 335.6h0M622.6 331.6h0M534.9 274.6h0M625.4 349.8h0M626.0 319.9h0M614.4 345.8h0M615.0 345.3h0M528.5 327.0h0M607.0 330.9h0M611.2 343.2h0M641.4 322.8h0M533.5 264.6h0M611.9 320.3h0M538.8 274.4h0M640.9 340.9h0M603.6 342.2h0M609.5 313.6h0M547.1 258.7h0M613.7 312.5h0M597.6 326.9h0M620.4 319.5h0M615.2 319.3h0M616.4 338.5h0M544.8 258.1h0M542.2 263.3h0M625.9 347.5h0M630.4 325.2h0M607.9 318.6h0M533.3 249.9h0M607.5 329.9h0M629.1 317.5h0M633.1 320.4h0M531.5 270.8h0M599.8 322.2h0M626.8 337.7h0M631.2 322.9h0M540.7 270.6h0M619.5 330.2h0M632.0 332.9h0M609.5 330.5h0M523.0 241.2h0M632.8 349.9h0M545.1 260.0h0M639.3 333.1h0M640.2 341.4h0M600.1 333.3h0M622.6 352.5h0M627.9 338.1h0M616.1 329.2h0M630.1 343.7h0M598.8 313.2h0M641.6 338.5h0M546.4 261.5h0M547.2 270.8h0M636.3 334.1h0M638.6 326.8h0M634.0 321.7h0M624.9 342.9h0M631.1 316.7h0M536.3 337.2h0M609.7 344.8h0M642.4 323.8h0M613.0 320.5h0M638.1 334.2h0M618.7 341.2h0M546.4 258.1h0M641.3 309.5h0M616.4 343.3h0M630.1 313.0h0M621.1 348.6h0M626.7 338.6h0M536.0 263.4h0M611.4 337.4h0M614.6 341.9h0M629.9 335.4h0M536.2 272.1h0M633.0 324.9h0M631.6 346.5h0M549.1 271.5h0M531.4 248.3h0M521.2 258.0h0M609.1 330.3h0M619.3 333.7h0M556.5 279.8h0M604.0 315.3h0M543.5 263.2h0M531.1 327.0h0M613.2 345.6h0M622.7 313.2h0M611.6 345.2h0M635.5 338.1h0M626.6 330.8h0M534.6 272.9h0M530.7 263.4h0M632.3 326.6h0M537.7 270.5h0M536.4 275.7h0M528.2 333.0h0M611.5 332.4h0M533.4 264.9h0M536.4 268.4h0M620.8 330.0h0M622.8 345.7h0M602.9 335.2h0M639.4 325.5h0M543.5 253.6h0M640.3 333.9h0M538.1 240.3h0M542.5 335.9h0M600.1 337.8h0M621.2 292.7h0M633.6 325.1h0M631.9 343.2h0M614.0 314.3h0M606.5 342.8h0M642.1 321.0h0M621.3 340.3h0M532.3 269.3h0M528.9 258.2h0M597.7 325.5h0M601.2 311.3h0M635.5 335.7h0M539.1 252.8h0M640.6 336.3h0M619.2 334.5h0M623.2 306.4h0M623.3 349.9h0M539.9 265.6h0M539.8 335.0h0M626.3 326.4h0M627.2 333.2h0M616.6 317.4h0M608.3 348.2h0M526.9 328.0h0M541.3 273.9h0M603.9 346.1h0M621.0 324.3h0M641.1 334.0h0M638.7 344.1h0M620.1 352.3h0M615.1 339.6h0M643.5 322.3h0M543.6 261.9h0M636.4 318.0h0M615.1 330.0h0M612.6 346.0h0M531.5 263.8h0M627.4 324.4h0M519.5 254.2h0M641.4 336.5h0M545.0 276.5h0M623.1 347.3h0M614.0 315.2h0M603.9 343.5h0M607.0 335.6h0M632.9 320.5h0M542.7 259.6h0M605.9 333.3h0M540.3 261.1h0M631.7 332.5h0M550.1 268.3h0M600.3 343.1h0M548.3 261.0h0M548.7 264.1h0M611.2 308.5h0M627.2 325.8h0M625.0 340.0h0M545.2 245.8h0M614.6 343.0h0M624.1 330.7h0M641.7 332.0h0M550.2 256.5h0M619.9 339.4h0M606.7 296.6h0M633.1 320.5h0M529.7 265.6h0M640.1 321.7h0M603.4 295.4h0M632.6 351.2h0M641.7 341.2h0M635.1 324.0h0M616.1 334.8h0M548.8 266.7h0M641.5 327.3h0M608.6 325.1h0M628.2 303.0h0M612.0 337.0h0M630.7 318.7h0M625.0 343.7h0M632.4 346.4h0M538.1 274.6h0M634.0 341.1h0M603.7 292.7h0M636.0 322.7h0M544.4 254.6h0M613.3 333.6h0M541.7 266.7h0M598.1 316.0h0M599.2 330.5h0M631.4 342.6h0M548.6 265.8h0M615.0 342.3h0M619.7 327.6h0M610.7 337.7h0M638.2 332.7h0M610.6 327.1h0M614.2 320.5h0M612.3 328.0h0M613.9 311.5h0M612.8 318.1h0M631.7 338.3h0M523.7 259.4h0M546.2 254.1h0M619.4 305.6h0M599.2 329.3h0M531.5 334.1h0M524.7 247.5h0M622.7 335.8h0M628.7 336.0h0M616.1 344.5h0M528.4 337.2h0M634.3 322.4h0M538.7 267.9h0M632.5 329.3h0M617.7 324.9h0M533.0 337.1h0M617.1 333.4h0M598.0 332.5h0M632.8 304.8h0M532.1 266.1h0M521.7 255.7h0M540.0 253.6h0M609.9 350.3h0M630.8 327.7h0M632.6 344.0h0M625.1 307.0h0M627.5 319.9h0M606.5 305.9h0M619.6 341.0h0M640.7 303.4h0M643.9 328.6h0M639.4 314.0h0M630.8 342.5h0M547.0 265.0h0M633.3 338.4h0M632.3 327.2h0M623.6 339.2h0M624.2 310.0h0M529.9 264.3h0M543.6 269.9h0M531.0 254.6h0M534.5 256.4h0M640.8 324.3h0M617.6 322.9h0M531.0 254.7h0M541.0 275.4h0M634.6 327.6h0M628.9 317.8h0M640.5 313.6h0M546.5 267.0h0M602.6 311.8h0M545.5 261.1h0M620.5 341.4h0M624.9 342.2h0M613.8 322.0h0M542.4 267.6h0M537.4 261.2h0M606.8 339.8h0M635.8 343.4h0M628.2 334.5h0M550.0 267.6h0M550.1 255.0h0M611.0 326.8h0M626.2 340.2h0M637.6 319.7h0M632.1 336.1h0M635.6 325.1h0M528.9 261.4h0M619.6 340.2h0M541.4 269.9h0M617.5 326.2h0M630.6 341.3h0M534.4 237.6h0M638.7 320.5h0M638.3 341.1h0M617.7 333.3h0M612.9 301.4h0M525.0 260.9h0M542.8 269.9h0M548.3 265.5h0M635.9 337.4h0M541.2 262.4h0M636.7 313.0h0M627.8 349.7h0M606.3 340.9h0M627.4 336.4h0M533.5 263.3h0M599.4 323.1h0M642.3 337.8h0M616.5 352.6h0M621.6 324.4h0M625.2 352.1h0M615.7 339.6h0M600.9 328.1h0M623.2 347.5h0M617.0 321.1h0M526.7 336.1h0M627.1 346.2h0M610.7 332.4h0M610.7 345.8h0M544.2 266.0h0M621.7 325.4h0M618.1 329.4h0M622.9 303.8h0M617.9 345.4h0M627.0 326.5h0M541.7 271.8h0M535.9 335.2h0M614.5 325.7h0M547.4 265.5h0M542.8 334.7h0M538.9 265.8h0M614.9 352.8h0M536.6 268.8h0M606.4 344.3h0M623.4 325.0h0M621.5 334.7h0M527.0 334.9h0M526.0 334.5h0M524.1 258.8h0M632.8 330.2h0M625.4 351.1h0M619.2 339.0h0M610.9 350.3h0M633.9 350.8h0M624.6 342.8h0M537.8 265.3h0M611.8 350.2h0M539.2 257.5h0M539.5 263.9h0M536.4 335.9h0M542.6 238.5h0M539.8 258.2h0M600.9 321.4h0M538.8 268.0h0M520.8 256.3h0M535.5 274.4h0M609.4 324.8h0M642.0 311.9h0M538.6 336.6h0M538.1 273.8h0M539.7 254.4h0M606.6 340.0h0M539.1 254.2h0M615.1 292.6h0M626.8 341.7h0M542.3 265.9h0M622.5 338.6h0M529.9 260.7h0M624.1 348.9h0M630.6 328.1h0M606.4 343.2h0M538.0 335.8h0M613.1 351.3h0M628.4 343.6h0M635.8 346.8h0M639.4 344.9h0M614.8 347.9h0M616.9 338.0h0M532.1 236.2h0M617.9 337.0h0M533.4 266.3h0M642.8 326.2h0M527.0 326.8h0M625.5 313.0h0M609.3 327.8h0M608.0 351.3h0M628.2 341.5h0M643.3 327.7h0M607.7 345.3h0M623.3 330.6h0M601.2 318.1h0M627.2 351.5h0M610.0 327.0h0M614.4 333.4h0M523.7 332.1h0M534.9 265.7h0M612.0 336.2h0M607.6 311.3h0M612.5 338.7h0M613.6 349.4h0M635.6 327.1h0M622.8 349.5h0M538.7 268.0h0M620.2 319.8h0M532.5 265.8h0M631.6 314.3h0M533.9 267.9h0M605.7 334.9h0M537.7 335.7h0M620.9 319.3h0M637.7 319.0h0M613.6 330.4h0M526.5 262.0h0M626.1 309.5h0M607.6 341.5h0M601.0 330.1h0M628.2 326.1h0M620.2 339.4h0M609.3 348.6h0M538.2 261.7h0M544.9 274.1h0M619.0 333.5h0M620.8 331.0h0M539.2 254.8h0M631.4 350.9h0M540.3 264.1h0M634.6 344.8h0M527.5 336.3h0M547.1 272.7h0M618.2 319.1h0M543.3 260.3h0M550.2 260.0h0M603.2 336.1h0M544.0 255.2h0M527.3 265.2h0M643.3 309.4h0M531.1 261.8h0M519.1 254.3h0M621.1 338.6h0M638.6 346.3h0M528.9 257.3h0M614.2 351.8h0M626.4 322.8h0M601.7 345.4h0M528.3 329.4h0M624.4 346.2h0M538.4 253.7h0M599.7 325.4h0M615.6 345.1h0M619.7 347.9h0M622.9 344.3h0M534.7 261.6h0M527.1 335.7h0M623.0 301.0h0M525.5 327.6h0M610.3 352.3h0M600.8 314.3h0M545.8 274.7h0M623.3 297.5h0M622.6 352.6h0M608.5 348.7h0M630.5 333.1h0M621.0 331.3h0M620.5 338.1h0M531.6 257.9h0M611.7 331.1h0M601.3 332.3h0M549.9 261.1h0M625.0 345.4h0M625.9 329.6h0M618.7 350.5h0M617.0 333.4h0M614.0 330.5h0M597.8 316.9h0M542.2 335.9h0M610.7 331.2h0M624.0 339.7h0M528.3 263.9h0M642.3 335.3h0M613.7 344.2h0M639.7 345.1h0M636.2 346.4h0M550.6 261.2h0M529.0 261.9h0M615.3 346.1h0M624.3 344.7h0M524.5 259.8h0M631.8 330.5h0M637.1 315.8h0M607.0 339.9h0M635.0 327.3h0M544.0 262.7h0M633.6 318.1h0M619.8 345.1h0M547.3 266.0h0M613.1 346.7h0M641.0 329.5h0M528.1 328.6h0M540.1 271.7h0M638.4 346.4h0M534.2 273.0h0M604.6 327.6h0M634.1 343.2h0M613.9 352.2h0M640.8 327.1h0M618.0 322.8h0M547.3 263.8h0M618.2 350.1h0M622.6 326.5h0M629.7 317.3h0M635.6 319.7h0M540.3 335.9h0M625.9 334.1h0M632.8 335.2h0M541.7 335.9h0M612.4 324.4h0M609.5 341.5h0M534.1 255.3h0M535.0 336.2h0M639.2 345.5h0M601.3 320.1h0M619.8 322.7h0M622.4 329.0h0M617.0 352.0h0M619.4 302.5h0M616.9 318.9h0M641.1 323.2h0M524.8 253.5h0M636.3 333.6h0M534.7 266.8h0M532.4 266.6h0M623.2 321.5h0M545.1 270.8h0M635.4 344.4h0M530.4 328.5h0M548.1 259.4h0M626.4 345.3h0M621.7 330.2h0M619.7 328.7h0M630.7 317.2h0M603.3 336.9h0M534.8 274.9h0M643.1 325.6h0M540.9 266.6h0M622.6 338.3h0M530.5 259.1h0M597.2 328.0h0M544.2 264.8h0M639.8 318.9h0M604.0 348.6h0M631.2 334.7h0M628.5 333.6h0M622.8 346.2h0M532.8 271.2h0M613.3 331.3h0M608.6 332.0h0M525.4 335.5h0M624.3 319.3h0M621.5 329.4h0M617.5 322.7h0M545.4 270.2h0M631.2 338.0h0M624.7 342.0h0M543.5 271.7h0M546.1 269.9h0M634.8 343.2h0M556.2 278.9h0M606.7 338.9h0M617.9 346.9h0M597.8 334.5h0M603.2 313.4h0M610.0 349.2h0M637.0 335.2h0M626.8 318.3h0M641.0 338.5h0M626.8 337.2h0M601.4 333.5h0M624.1 337.0h0M625.9 327.9h0M641.3 326.0h0M633.7 342.2h0M635.9 336.0h0M640.8 324.2h0M630.9 322.8h0M543.1 271.7h0M543.6 255.6h0M549.9 252.6h0M535.7 267.1h0M626.8 342.2h0M605.8 315.6h0M543.3 267.4h0M617.6 341.3h0M523.0 250.4h0M614.2 335.6h0M618.0 321.7h0M536.9 336.0h0M548.6 248.8h0M605.3 308.4h0M625.7 341.9h0M527.1 331.1h0M602.5 338.1h0M611.2 345.0h0M537.7 254.4h0M616.6 340.1h0M550.5 265.8h0M527.0 252.1h0M542.8 272.2h0M523.7 260.9h0M605.8 323.6h0M529.9 267.5h0M534.1 269.3h0M632.9 345.5h0M607.4 328.9h0M630.2 315.3h0M625.6 312.9h0M539.2 335.6h0M625.5 318.6h0M622.9 339.0h0M546.6 259.5h0M644.1 328.1h0M545.9 260.5h0M546.5 269.4h0M612.8 348.4h0M545.3 271.7h0M542.3 271.7h0M620.6 332.6h0M636.3 333.9h0M600.2 335.7h0M636.5 343.8h0M624.1 340.3h0M619.6 341.7h0M635.6 335.6h0M641.4 324.4h0M627.9 323.1h0M612.6 328.6h0M598.2 311.8h0M638.0 345.0h0M541.0 268.5h0M612.0 337.8h0M634.4 333.7h0M627.4 293.8h0M602.3 319.3h0M601.6 332.5h0M541.7 276.3h0M610.9 305.9h0M618.0 346.4h0M538.4 262.3h0M605.6 339.6h0M623.8 335.6h0M626.8 336.5h0M636.8 343.3h0M620.1 349.5h0M641.8 333.9h0M525.7 257.7h0M551.9 275.1h0M528.4 244.7h0M526.9 257.0h0M625.0 337.7h0M618.4 330.7h0M605.5 335.0h0M547.1 259.4h0M540.6 271.2h0M613.1 329.7h0M624.7 335.9h0M546.2 269.6h0M616.6 342.4h0M626.2 334.1h0M533.9 269.0h0M636.8 313.8h0M628.5 329.0h0M643.5 326.0h0M602.1 343.9h0M639.4 336.4h0M637.1 336.9h0M536.1 269.8h0M541.5 269.8h0M532.8 267.5h0M636.4 348.8h0M607.0 326.0h0M615.8 329.3h0M605.1 339.2h0M633.2 326.7h0M529.6 267.5h0M549.9 261.0h0M633.0 330.6h0M523.4 256.3h0M619.5 341.9h0M644.0 316.4h0M630.1 321.0h0M543.0 271.2h0M600.6 312.0h0M637.0 324.6h0M632.4 327.0h0M543.3 266.5h0M621.3 312.3h0M534.1 272.6h0M625.9 336.1h0M609.9 343.2h0M629.2 343.9h0M610.0 348.6h0M636.7 348.1h0M533.2 262.9h0M641.7 329.0h0M618.4 349.1h0M608.8 314.4h0M612.2 331.7h0M631.0 316.1h0M617.4 340.8h0M541.0 268.0h0M628.4 315.7h0M630.0 317.1h0M626.0 298.8h0M607.3 346.7h0M635.9 348.7h0M633.3 333.4h0M600.2 325.7h0M640.4 326.6h0M630.6 306.6h0M618.4 335.4h0M528.1 262.0h0M627.4 329.6h0M634.8 330.4h0M623.8 335.4h0M545.4 261.3h0M536.7 254.1h0M609.9 316.4h0M538.7 272.9h0M538.5 255.0h0M541.1 262.2h0M523.9 259.0h0M612.7 302.1h0M613.6 327.7h0M542.5 254.7h0M606.3 326.5h0M633.9 322.5h0M608.2 332.4h0M615.1 329.0h0M615.8 330.6h0M634.4 322.2h0M633.5 331.8h0M611.0 318.9h0M613.4 344.9h0M624.5 322.8h0M630.9 343.0h0M542.4 271.7h0M610.8 309.3h0M524.0 251.0h0M631.6 331.1h0M541.0 273.2h0M620.3 327.8h0M620.3 351.9h0M523.3 258.8h0M543.0 271.2h0M535.5 258.5h0M627.1 336.2h0M640.8 324.1h0M533.1 335.6h0M616.7 339.9h0M547.3 271.7h0M637.0 325.6h0M633.6 321.1h0M523.8 258.6h0M602.4 343.0h0M626.3 309.5h0M530.5 254.6h0M606.5 341.8h0M621.4 334.2h0M541.9 257.4h0M619.7 331.8h0M536.6 335.3h0M533.1 268.1h0M604.8 310.3h0M526.3 252.9h0M612.0 341.7h0M627.1 331.6h0M545.6 263.7h0M614.9 341.8h0M540.1 255.3h0M609.1 324.4h0M550.2 264.8h0M623.7 338.2h0M614.8 316.8h0M640.4 342.1h0M620.4 330.0h0M603.9 335.9h0M618.5 311.0h0M543.5 254.8h0M642.1 337.4h0M636.1 340.6h0M607.6 320.9h0" stroke="#9080e0" stroke-width="0.65" stroke-linecap="round" fill="none"/>
<path d="M543.3 251.9h0M550.1 253.9h0M521.1 246.4h0M623.9 303.7h0M628.3 313.4h0M643.0 321.6h0M628.0 288.7h0M536.2 244.2h0M625.2 308.1h0M545.1 239.3h0M612.7 318.2h0M627.7 286.7h0M524.2 250.8h0M635.8 296.2h0M618.3 316.1h0M638.8 291.5h0M606.1 293.6h0M534.7 236.2h0M617.6 311.8h0M614.3 304.5h0M643.4 316.6h0M522.1 245.0h0M633.2 316.0h0M624.5 295.8h0M525.3 250.3h0M544.7 255.3h0M640.4 314.3h0M619.6 309.4h0M616.7 287.8h0M538.4 255.7h0M619.3 306.4h0M542.0 243.4h0M622.0 310.2h0M539.4 254.8h0M630.5 300.3h0M623.5 290.2h0M534.5 242.1h0M608.0 300.2h0M599.4 303.7h0M638.0 308.4h0M633.0 309.9h0M636.5 297.7h0M612.6 293.8h0M626.8 339.7h0M602.0 306.1h0M617.9 323.0h0M530.6 248.2h0M640.0 313.1h0M603.0 302.9h0M636.4 307.3h0M637.9 312.4h0M542.4 249.1h0M623.5 329.0h0M548.8 245.9h0M524.2 249.8h0M605.6 307.7h0M620.8 288.0h0M615.0 307.4h0M606.9 312.6h0M625.6 293.3h0M637.5 306.2h0M621.9 308.2h0M536.0 241.8h0M546.1 252.3h0M520.8 248.9h0M606.5 300.0h0M530.1 235.9h0M538.8 240.4h0M608.3 309.0h0M615.9 287.3h0M617.5 300.2h0M609.0 306.7h0M615.6 307.6h0M524.4 244.8h0M541.4 238.1h0M541.6 247.6h0M605.8 298.3h0M606.8 298.4h0M611.4 304.3h0M634.8 301.0h0M620.7 306.9h0M613.0 291.2h0M542.8 237.0h0M628.7 334.9h0M640.8 321.7h0M523.2 251.4h0M549.8 253.4h0M604.0 293.7h0M543.8 245.1h0M536.7 248.3h0M599.9 301.7h0M534.8 249.9h0M637.5 293.6h0M606.1 295.7h0M622.9 311.4h0M536.9 252.6h0M528.1 236.7h0M556.7 278.9h0M624.8 293.8h0M632.0 309.9h0M606.9 301.6h0M598.9 314.3h0M628.2 296.7h0M623.1 306.8h0M600.7 300.4h0M620.7 296.2h0M605.2 295.6h0M626.2 297.2h0M624.2 289.8h0M540.1 246.6h0M606.3 296.5h0M546.4 242.4h0M614.0 324.3h0M529.5 240.9h0M608.0 304.8h0M625.9 314.7h0M630.7 312.0h0M599.0 302.4h0M544.7 244.8h0M534.8 249.7h0M609.3 320.7h0M616.5 290.6h0M633.8 324.2h0M538.8 253.2h0M605.3 327.3h0M524.1 249.2h0M642.1 333.4h0M613.4 289.9h0M640.4 297.6h0M616.1 286.5h0M600.6 301.5h0M631.8 302.0h0M534.5 235.5h0M522.2 258.0h0M545.2 262.4h0M642.1 339.7h0M545.6 242.5h0M643.5 307.9h0M628.3 290.0h0M544.4 247.7h0M542.5 262.5h0M613.1 289.8h0M630.3 300.9h0M610.7 287.6h0M536.7 241.4h0M615.2 299.8h0M535.9 252.2h0M531.3 261.3h0M618.2 288.1h0M622.5 301.0h0M546.8 257.1h0M626.2 291.6h0M632.7 291.9h0M623.8 310.8h0M626.4 318.6h0M631.1 331.4h0M621.0 313.6h0M597.1 321.0h0M618.6 287.1h0M624.3 302.4h0M550.6 258.3h0M538.6 237.3h0M533.8 243.5h0M609.8 291.1h0M542.5 250.9h0M539.2 247.4h0M527.0 254.6h0M539.3 239.6h0M617.0 286.4h0M630.7 299.3h0M542.1 240.9h0M642.1 303.0h0M549.8 256.0h0M633.6 301.4h0M629.7 314.7h0M538.5 248.3h0M639.6 316.3h0M605.6 294.0h0M609.5 310.1h0M601.0 313.3h0M608.9 305.8h0M545.8 240.9h0M519.2 249.0h0M637.5 295.4h0M542.6 249.2h0M532.3 238.0h0M621.9 308.7h0M538.7 256.5h0M618.1 302.7h0M624.8 294.5h0M598.5 333.3h0M635.8 310.2h0M533.4 237.7h0M611.3 292.9h0M540.3 252.4h0M528.6 239.9h0M618.6 313.2h0M540.6 261.9h0M638.5 301.2h0M630.4 304.0h0M634.2 288.3h0M534.0 256.9h0M627.3 291.2h0M622.4 292.6h0M612.4 290.1h0M519.0 253.1h0M619.9 304.5h0M616.5 306.2h0M604.9 297.5h0M611.2 305.6h0M635.7 303.4h0M629.2 313.4h0M529.4 264.8h0M633.1 313.2h0M617.8 303.3h0M626.0 313.2h0M609.8 314.1h0M548.8 250.6h0M626.9 327.7h0M536.3 234.4h0M614.6 305.6h0M615.0 307.3h0M636.0 314.6h0M547.7 255.0h0M630.9 304.9h0M626.3 312.6h0M543.0 259.1h0M547.1 241.9h0M543.7 241.7h0M612.9 318.5h0M612.4 318.2h0M622.6 289.5h0M625.4 315.7h0M523.2 242.8h0M542.5 254.2h0M532.5 236.1h0M537.2 239.2h0M597.8 320.1h0M523.0 248.8h0M608.9 300.4h0M636.9 306.2h0M609.7 309.6h0M520.3 255.1h0M630.4 287.7h0M637.4 340.0h0M632.5 315.1h0M541.2 275.8h0M624.9 295.9h0M617.9 318.1h0M530.6 334.1h0M621.0 294.6h0M626.9 295.8h0M523.3 248.2h0M625.8 286.5h0M604.8 308.0h0M606.2 305.5h0M533.3 242.9h0M637.9 325.4h0M547.8 244.3h0M609.9 304.0h0M633.0 297.4h0M547.0 259.7h0M611.8 309.2h0M532.9 235.4h0M598.4 326.1h0M547.5 253.9h0M641.0 297.9h0M602.2 296.5h0M629.2 311.4h0M534.4 246.9h0M521.0 249.7h0M529.4 238.2h0M608.9 295.7h0M529.5 253.0h0M642.4 302.5h0M615.4 287.8h0M609.5 299.7h0M623.1 307.2h0M633.3 317.4h0M619.7 329.9h0M542.9 253.9h0M520.3 246.0h0M610.0 291.1h0M637.7 290.2h0M618.0 320.3h0M531.4 250.6h0M537.0 249.3h0M618.5 298.9h0M621.4 290.1h0M540.4 264.3h0M621.5 312.6h0M533.3 240.2h0M518.8 251.5h0M538.1 243.3h0M525.3 255.5h0M619.1 297.6h0M616.8 326.4h0M532.8 250.3h0M538.5 251.2h0M542.3 255.8h0M642.0 300.1h0M643.2 307.3h0M624.1 292.4h0M544.2 268.2h0M536.6 235.3h0M523.4 247.3h0M607.1 288.0h0M617.2 307.3h0M531.2 236.9h0M602.4 317.5h0M638.7 309.7h0M625.7 309.3h0M528.5 236.3h0M641.9 298.2h0M612.5 300.3h0M621.0 315.0h0M523.9 253.1h0M639.0 305.8h0M536.6 258.9h0M619.3 305.0h0M619.6 305.2h0M537.4 256.5h0M611.2 289.4h0M544.6 238.6h0M533.4 260.7h0M546.5 244.5h0M623.9 295.0h0M535.7 234.4h0M631.4 296.8h0M543.8 253.8h0M530.2 239.3h0M545.4 245.1h0M635.5 308.4h0M536.3 245.8h0M541.7 245.3h0M600.3 301.4h0M620.9 332.5h0M640.9 319.2h0M624.6 321.4h0M597.9 317.9h0M603.0 293.5h0M539.4 239.8h0M597.8 309.3h0M527.6 248.5h0M598.8 313.8h0M534.7 250.5h0M609.8 290.0h0M523.0 248.5h0M522.3 242.6h0M532.6 246.4h0M639.2 297.9h0M641.2 300.1h0M603.6 292.1h0M524.2 241.1h0M613.2 303.9h0M627.0 303.4h0M532.6 254.4h0M619.7 298.0h0M642.4 306.5h0M620.1 301.1h0M537.7 239.3h0M533.3 240.5h0M525.1 243.8h0M626.7 301.3h0M634.2 294.7h0M618.2 308.3h0M531.9 242.6h0M612.9 311.8h0M597.5 314.0h0M528.8 252.5h0M538.6 246.5h0M627.4 338.1h0M540.1 251.1h0M527.4 243.8h0M635.0 305.3h0M638.4 309.3h0M525.4 253.1h0M638.5 300.3h0M634.4 302.5h0M626.9 322.5h0M638.0 290.8h0M629.2 289.2h0M608.6 303.3h0M613.7 309.9h0M606.0 290.8h0M641.9 298.1h0M612.4 305.3h0M542.3 252.0h0" stroke="#e08070" stroke-width="0.65" stroke-linecap="round" fill="none"/>
<path d="M610.6 295.2h0M536.2 251.6h0M618.7 298.4h0M634.0 291.0h0M616.3 290.0h0M617.1 317.4h0M541.2 249.1h0M609.3 298.3h0M541.4 248.1h0M536.1 243.5h0M545.6 251.5h0M632.2 307.8h0M643.5 328.3h0M533.3 250.3h0M532.7 248.2h0M625.0 294.1h0M632.9 313.8h0M521.8 249.7h0M534.1 243.7h0M626.9 289.4h0M634.6 288.8h0M631.9 300.6h0M636.6 302.6h0M543.7 250.3h0M614.0 297.4h0M612.0 295.7h0M623.8 297.5h0M629.3 316.4h0M540.7 251.6h0M531.4 249.6h0M631.6 292.6h0M537.3 236.6h0M529.3 330.5h0M545.3 240.7h0M630.2 289.4h0M616.6 303.4h0M616.7 288.8h0M623.0 309.4h0M640.8 311.5h0M535.1 239.6h0M542.7 247.7h0M620.8 294.8h0M604.6 292.9h0M540.4 253.5h0M634.2 288.6h0M607.7 287.3h0M632.9 307.2h0M629.6 303.3h0M541.7 249.7h0M606.9 304.5h0M618.6 305.7h0M602.9 309.4h0M601.8 297.3h0M644.2 319.1h0M607.8 316.8h0M525.8 239.0h0M540.6 242.9h0M542.0 239.2h0M633.8 308.1h0M642.5 300.0h0" stroke="#e0a0a0" stroke-width="0.65" stroke-linecap="round" fill="none"/>
<path d="M540.9 250.4h0M604.7 314.4h0M534.3 239.7h0M540.2 251.4h0M606.5 296.1h0M535.2 247.1h0M542.2 243.9h0M631.8 306.6h0M611.4 314.0h0M638.1 306.2h0M548.6 248.5h0M547.2 252.8h0M619.7 300.4h0M529.8 241.5h0M624.1 313.9h0M611.4 297.5h0M546.7 244.3h0M610.8 295.1h0M608.9 305.9h0M635.4 292.3h0M545.7 255.2h0M628.5 294.5h0M614.8 310.5h0M617.2 343.6h0M641.5 309.4h0M548.2 247.7h0M543.8 260.7h0M617.7 286.8h0M603.8 305.8h0M608.5 305.9h0M545.0 246.1h0M608.6 299.5h0M532.2 251.4h0M529.8 336.8h0M630.8 304.5h0M537.3 235.1h0M620.8 296.4h0M616.5 304.8h0M541.9 253.9h0M522.2 242.5h0M643.7 311.4h0M606.4 294.2h0M525.7 241.5h0M631.9 314.1h0M525.9 257.7h0M641.3 318.9h0M602.8 295.5h0M535.6 245.8h0M534.3 235.7h0M606.7 295.0h0M541.6 246.5h0M535.7 243.4h0M626.9 309.0h0M623.8 301.3h0M612.6 305.7h0M617.7 310.0h0M523.6 241.0h0M545.2 252.5h0M529.8 240.8h0M545.2 260.7h0M549.4 248.8h0M641.4 296.2h0M629.6 296.7h0M619.3 301.0h0M602.2 302.6h0M616.0 298.1h0M605.0 296.7h0M526.9 333.9h0M600.2 295.4h0M533.3 250.4h0M526.2 251.6h0M632.3 308.8h0M636.2 291.9h0M541.7 248.1h0M543.2 248.2h0M631.3 306.0h0M640.5 306.8h0M641.7 309.5h0M603.1 297.7h0M526.8 250.1h0M531.3 250.2h0M610.1 291.6h0M610.7 293.3h0M626.5 303.7h0M634.6 304.1h0M534.5 244.1h0M545.1 243.0h0M629.6 301.7h0M533.2 259.0h0M641.1 308.0h0M629.7 320.3h0M532.6 254.6h0M639.0 308.5h0M520.1 248.2h0M624.4 311.3h0M612.6 319.9h0M618.8 303.8h0M526.3 242.5h0M613.6 290.1h0M599.7 302.8h0M621.5 302.3h0M528.6 258.3h0M608.4 295.7h0M608.7 303.5h0M604.2 308.0h0M606.8 302.3h0M598.9 301.0h0M627.4 297.9h0M634.6 300.8h0M525.8 335.4h0M523.1 245.7h0M540.6 257.5h0M599.9 307.2h0M519.4 250.4h0M640.4 296.7h0M628.1 290.8h0M527.6 261.2h0M543.0 247.5h0M542.4 241.7h0M603.4 299.6h0M542.4 260.7h0M598.8 300.9h0M535.5 247.3h0M529.8 266.7h0M610.7 303.5h0M604.3 306.2h0M532.9 253.6h0M609.0 290.9h0M541.7 239.8h0M636.6 318.3h0M641.3 313.2h0M535.0 258.8h0M530.9 263.4h0M613.6 297.7h0M621.5 302.0h0M546.0 248.8h0M522.0 248.8h0M640.2 294.7h0M628.6 300.3h0M538.3 239.0h0M625.5 309.4h0M639.4 305.5h0M529.0 251.0h0M617.0 307.8h0M530.7 239.9h0M520.2 248.5h0M539.2 253.6h0M611.3 309.4h0M537.2 236.8h0M538.0 241.1h0M610.8 298.2h0M519.3 254.0h0M540.7 238.5h0M627.3 307.4h0M534.9 237.8h0M625.0 311.5h0M607.2 312.1h0M544.9 266.3h0M626.5 305.5h0M543.0 239.3h0M527.3 245.1h0M630.3 343.1h0M600.0 295.1h0M521.4 248.3h0M525.6 260.8h0M539.6 238.1h0M634.3 296.0h0M628.7 300.5h0M608.1 321.4h0M538.6 253.8h0M530.2 238.9h0M550.4 256.4h0M611.4 290.8h0" stroke="#f07050" stroke-width="0.65" stroke-linecap="round" fill="none"/>
<path d="M631.7 308.1h0M607.1 297.4h0M628.3 310.7h0M639.4 312.6h0M601.0 309.0h0M600.2 321.7h0M610.2 286.9h0M609.0 294.9h0M537.1 236.3h0M635.6 299.7h0M532.4 238.8h0M523.8 246.4h0M612.0 317.4h0M639.7 312.5h0M615.5 290.1h0M527.7 253.3h0M632.8 306.7h0M619.3 320.0h0M643.8 327.5h0M618.3 298.4h0M542.8 250.2h0M634.1 287.7h0M631.1 343.3h0M601.3 310.7h0M604.1 300.3h0M616.1 324.0h0M600.5 301.5h0M631.5 309.9h0M630.8 288.0h0M533.6 240.5h0M540.0 237.4h0M629.8 306.5h0M640.1 313.1h0M635.9 304.4h0M547.0 256.9h0M613.6 319.7h0M547.7 244.3h0M601.1 321.1h0M546.9 253.1h0M612.7 306.1h0M608.9 337.3h0M625.2 297.6h0M547.3 247.1h0M635.3 288.7h0M609.3 291.0h0M522.5 249.0h0M532.7 243.7h0M521.9 243.8h0M617.3 289.6h0M531.3 235.8h0M608.7 316.8h0M626.3 297.3h0M611.3 298.0h0M635.4 318.0h0M521.2 249.5h0M526.6 241.7h0M639.0 313.5h0M639.9 301.9h0M613.6 336.5h0M631.5 303.3h0M634.0 313.1h0M612.8 301.8h0M612.2 303.2h0M627.0 298.5h0M603.7 305.8h0M623.6 303.3h0M631.9 293.5h0M549.0 272.3h0M533.9 252.3h0M533.8 240.4h0M634.2 293.5h0M616.7 302.8h0M606.8 292.6h0M643.7 305.2h0M638.9 304.3h0M604.5 301.9h0M548.2 248.2h0M547.2 262.2h0M623.8 292.4h0M537.2 237.0h0M522.9 243.4h0M543.7 237.5h0M619.2 340.3h0M524.5 242.6h0M536.9 242.9h0M540.1 249.6h0M548.6 245.7h0M542.2 244.4h0M548.0 244.7h0M639.3 302.9h0M613.7 307.3h0M541.6 242.1h0M612.1 295.0h0M622.0 315.5h0M537.7 242.0h0M526.4 240.1h0M524.4 240.5h0M599.8 317.8h0M626.8 313.0h0M533.2 238.2h0M629.6 311.8h0M627.4 329.3h0M610.0 293.7h0M610.7 294.5h0M534.4 252.5h0M639.9 314.7h0M620.4 291.5h0M605.7 326.0h0M635.6 303.7h0M531.8 256.0h0M602.5 326.8h0M632.2 302.0h0M543.5 246.0h0M543.9 237.8h0M610.1 292.8h0M622.1 332.6h0M634.7 301.0h0M630.7 325.4h0M543.6 255.7h0M614.3 314.5h0M641.5 302.5h0M621.8 300.8h0M524.1 257.9h0M612.6 298.5h0M611.2 300.2h0M528.4 239.2h0M636.8 316.9h0M616.0 298.1h0M545.8 240.5h0M534.4 243.6h0M544.4 247.5h0M612.1 291.0h0M541.2 275.6h0M529.1 245.1h0M627.1 290.1h0M543.1 252.7h0M533.1 243.2h0M609.0 298.9h0M520.4 251.0h0M625.9 297.0h0M643.1 329.0h0M636.0 303.3h0M635.7 295.8h0M543.6 247.1h0M636.8 309.4h0M525.6 241.6h0M617.4 310.8h0M614.7 288.5h0M632.2 293.8h0M550.4 263.8h0M539.6 251.9h0M623.4 296.2h0M602.4 315.6h0M540.7 243.5h0M602.5 309.0h0M614.5 301.3h0M538.0 235.7h0M620.2 299.7h0M606.1 299.6h0M613.1 292.3h0M539.5 237.8h0M538.9 235.2h0M599.9 321.0h0M547.0 248.5h0M540.9 253.5h0M601.7 300.0h0M605.7 305.0h0M615.5 287.8h0M547.5 248.8h0M622.9 312.8h0M526.6 247.7h0M535.6 239.1h0M632.5 294.0h0M611.3 288.8h0M608.0 289.5h0M541.0 250.1h0M528.3 250.4h0M616.4 304.0h0M620.4 308.3h0M642.3 298.6h0M619.9 289.5h0M635.1 313.3h0M542.5 239.2h0M620.1 289.0h0M535.3 255.8h0M541.6 237.8h0M628.5 302.8h0M599.2 315.8h0M604.3 292.6h0M523.3 242.6h0M521.7 245.8h0M601.8 304.5h0M538.6 235.0h0M540.6 251.8h0M536.6 244.0h0M542.5 272.0h0M542.5 265.7h0M539.2 256.5h0M620.3 304.1h0M609.6 307.6h0M532.0 245.2h0M611.3 307.2h0M629.9 308.4h0M548.3 245.7h0M642.6 311.9h0M538.4 262.7h0M628.6 315.8h0M627.2 306.0h0M535.5 266.2h0M532.0 240.0h0M611.4 304.3h0M641.3 303.7h0M631.3 296.2h0M620.9 305.5h0M535.3 250.9h0M600.0 302.0h0M630.3 307.9h0M607.2 296.1h0M546.3 252.6h0M526.9 250.0h0M536.4 245.6h0M610.5 311.1h0M525.0 252.6h0M526.5 240.4h0M536.3 239.9h0M638.0 290.7h0M525.9 243.9h0M545.7 258.6h0M538.4 256.7h0M611.5 290.5h0M626.5 302.3h0M530.4 256.1h0M633.8 312.0h0M620.4 311.1h0M638.4 291.6h0M637.7 299.4h0M535.6 235.9h0M544.7 241.7h0M523.8 242.1h0M608.8 299.0h0M630.2 289.3h0M519.0 252.3h0M643.0 305.6h0M539.2 244.0h0M639.1 320.2h0M641.9 298.1h0M629.3 300.2h0M644.1 314.4h0M536.2 238.2h0M537.1 236.0h0M612.6 311.8h0M545.3 244.9h0M530.6 249.4h0M629.1 323.9h0M527.5 251.8h0M523.3 247.9h0M626.6 297.9h0M519.5 248.1h0M541.0 253.3h0M618.1 299.7h0M628.6 287.4h0M633.0 305.3h0M538.2 239.9h0M624.1 311.8h0M614.3 297.6h0M525.3 254.5h0M611.4 334.4h0M550.3 258.0h0M610.1 304.5h0M639.1 306.5h0M537.5 261.5h0M632.1 299.5h0M601.4 299.1h0M640.4 306.2h0M537.8 257.6h0M642.2 339.1h0M608.0 298.8h0M540.3 253.6h0M609.0 297.5h0M607.1 313.7h0M550.4 253.1h0M611.6 287.9h0M638.6 302.2h0" stroke="#f06040" stroke-width="0.65" stroke-linecap="round" fill="none"/>
<path d="M622.8 322.0h0M629.4 320.2h0M640.9 303.5h0M633.9 344.9h0M618.8 346.9h0M609.2 329.4h0M617.4 336.2h0M639.0 293.7h0M626.6 333.3h0M614.7 351.0h0M629.5 299.1h0M541.2 258.7h0M618.7 345.0h0M622.7 352.1h0M604.0 315.5h0M624.2 330.4h0M622.4 330.6h0M625.9 330.3h0M610.0 324.4h0M618.8 343.7h0M522.3 256.1h0M528.6 256.7h0M611.6 341.8h0M604.5 333.1h0M603.9 331.2h0M611.7 325.0h0M640.2 318.0h0M535.0 266.4h0M634.5 319.3h0M620.9 330.7h0M547.7 265.7h0M617.6 311.7h0M539.1 275.2h0M638.0 335.1h0M546.4 258.6h0M547.1 263.0h0M547.1 260.6h0M615.6 325.5h0M630.8 346.4h0M616.0 327.8h0M636.3 302.0h0M535.9 243.9h0M609.5 336.8h0M621.5 351.1h0M605.3 334.5h0M613.9 342.6h0M643.7 325.4h0M617.9 317.7h0M613.8 340.4h0M630.3 340.9h0M533.2 265.1h0M620.5 318.6h0M605.6 304.2h0M640.7 323.5h0M641.9 314.9h0M635.8 347.1h0M611.1 339.3h0M536.1 259.1h0M535.1 253.8h0M538.5 270.0h0M546.6 271.2h0M625.8 317.9h0M547.0 270.6h0M633.5 345.3h0M596.8 319.4h0M616.5 342.2h0M615.6 345.3h0M611.1 314.2h0M533.2 266.7h0M619.0 348.4h0M632.9 336.5h0M540.1 245.0h0M627.4 349.0h0M524.4 260.5h0M629.5 331.1h0M633.3 331.6h0M537.8 275.8h0M612.8 317.0h0M531.8 253.7h0M617.5 326.1h0M606.0 339.0h0" stroke="#b0a0e0" stroke-width="0.65" stroke-linecap="round" fill="none"/>
<path d="M634.9 292.0h0M537.8 238.3h0M619.2 294.6h0M599.9 322.6h0M607.8 313.4h0M540.9 242.5h0M638.2 298.8h0M537.2 238.2h0M627.0 314.4h0M631.2 321.7h0M543.9 255.8h0M539.9 239.1h0M643.4 310.8h0M627.1 314.4h0M536.4 249.0h0M611.9 327.7h0M521.1 245.7h0M519.0 252.1h0M536.1 250.7h0M537.3 242.7h0M538.8 252.1h0M550.2 252.7h0M622.1 291.2h0M603.8 295.8h0M635.1 310.8h0M531.4 248.1h0M525.4 250.1h0M629.8 319.6h0M604.5 306.2h0M640.0 298.1h0M624.2 295.7h0M548.6 251.3h0M637.2 304.3h0M597.9 323.1h0M631.7 301.4h0M609.6 303.5h0M631.2 288.7h0M604.5 295.6h0M621.9 300.6h0M619.1 294.2h0M525.4 257.6h0M527.5 256.6h0M604.9 290.5h0M614.9 319.3h0M611.2 312.0h0M637.7 304.1h0M635.2 296.5h0M639.8 307.4h0M627.4 294.5h0M545.8 253.4h0M531.3 237.1h0M615.6 327.5h0M526.6 249.7h0M628.1 302.1h0M617.2 299.7h0M606.1 308.5h0M620.2 306.8h0M599.8 307.0h0M601.2 306.3h0M603.5 308.5h0M630.6 289.7h0M542.4 241.9h0M630.7 324.1h0M548.7 255.4h0M531.6 255.3h0M627.3 295.0h0M615.2 301.7h0M545.5 250.3h0M638.6 294.2h0M620.5 295.2h0M524.8 244.0h0M618.6 303.7h0M613.8 308.4h0M640.2 314.5h0M619.7 316.6h0M616.0 311.4h0M521.5 243.6h0M635.9 320.9h0M629.6 302.2h0M637.6 292.5h0M539.5 253.0h0M522.8 241.9h0M606.0 313.9h0M605.6 305.5h0M529.9 257.9h0M530.3 250.0h0M637.2 290.8h0M598.0 318.2h0M533.0 249.7h0M614.5 293.2h0M541.8 246.3h0M638.1 296.0h0M624.8 295.4h0M548.5 262.2h0M628.7 295.0h0M620.1 316.9h0M604.7 324.2h0M546.7 251.1h0M621.3 299.7h0M632.6 305.8h0M618.1 309.5h0M625.7 313.3h0M615.4 311.1h0M607.1 296.0h0M626.6 335.5h0M611.4 320.8h0M641.4 300.2h0M528.9 247.7h0M535.4 243.8h0M611.2 301.6h0M548.3 249.8h0M602.8 315.1h0M530.7 247.5h0M525.5 260.3h0M541.4 257.4h0M598.9 298.9h0M552.3 274.2h0M603.8 302.9h0M521.6 253.1h0M615.1 303.4h0M606.6 311.1h0M636.0 303.8h0M619.6 294.8h0M622.5 319.0h0M606.8 297.2h0M638.4 314.4h0M618.6 291.5h0M641.2 297.4h0M546.8 260.8h0M532.7 250.4h0M618.0 298.2h0M639.2 324.5h0M540.3 263.2h0M622.3 299.8h0M540.7 255.9h0M610.9 291.7h0M623.6 300.1h0M630.5 301.9h0M600.3 320.4h0M620.3 317.8h0M544.4 245.6h0M537.7 251.2h0M528.2 247.7h0M525.2 247.8h0M638.1 313.9h0M529.7 243.7h0M617.8 309.3h0M633.3 330.1h0M631.0 287.9h0M618.3 298.7h0M621.1 298.1h0M613.7 342.8h0M626.5 287.7h0M533.1 235.4h0M546.4 243.7h0M620.5 289.8h0M544.7 248.6h0M550.0 251.4h0M606.8 315.0h0M547.5 241.9h0M636.0 321.0h0M612.7 313.4h0M620.4 304.2h0M544.9 242.8h0M609.7 289.0h0M519.1 249.5h0M604.2 296.3h0M527.2 251.1h0M626.4 298.7h0M632.9 308.2h0M614.1 286.8h0M618.5 300.2h0M623.7 293.9h0M547.9 246.0h0M622.9 293.6h0M530.8 332.4h0M626.6 310.1h0M532.9 240.1h0M617.0 304.6h0M532.7 235.2h0M535.9 257.4h0M530.6 238.1h0M526.8 241.0h0M542.6 241.7h0M621.4 301.6h0M621.7 297.1h0M541.3 241.4h0M547.5 245.9h0M637.5 299.6h0M630.1 296.1h0M622.6 298.4h0M546.0 257.1h0M616.1 332.8h0M535.9 244.6h0M521.8 253.7h0M634.7 293.7h0M635.1 293.9h0M521.4 248.6h0M542.8 260.7h0M534.6 237.4h0" stroke="#f07060" stroke-width="0.65" stroke-linecap="round" fill="none"/>
<path d="M555.1 277.8h0M605.9 292.7h0M531.6 260.8h0M631.1 313.5h0M605.1 327.4h0M634.9 293.8h0M616.3 291.1h0M543.3 261.5h0M549.3 248.6h0M538.1 235.0h0M638.1 295.7h0M617.6 294.9h0M600.8 304.3h0M544.7 251.2h0M621.0 295.9h0M615.5 302.1h0M537.2 236.2h0M539.5 245.3h0M612.9 334.2h0M631.5 302.0h0M540.1 251.0h0M529.8 240.1h0M625.7 301.7h0M616.2 289.3h0M630.1 301.8h0M540.8 239.9h0M603.4 308.8h0M533.9 245.1h0M631.1 289.1h0M622.4 291.8h0M609.2 306.0h0M606.5 312.9h0M532.6 264.0h0M526.1 259.9h0M603.6 308.7h0M621.0 309.2h0M637.1 316.9h0M605.8 294.5h0M632.2 302.9h0M544.3 238.4h0M617.5 308.8h0M538.1 245.8h0M639.1 300.7h0M633.8 303.2h0M633.1 309.6h0M631.1 294.0h0M533.8 259.3h0M612.1 294.3h0M530.7 249.4h0M540.1 264.8h0M620.2 298.8h0M609.1 290.8h0M522.5 259.6h0M618.0 299.3h0M616.0 312.2h0M624.0 290.2h0M608.0 304.7h0M636.3 316.2h0M613.5 288.7h0M621.5 297.4h0M639.6 311.1h0M624.9 317.6h0M533.7 248.7h0M541.8 244.7h0M639.6 334.9h0M618.5 301.4h0M622.4 314.0h0M602.8 316.0h0M634.0 301.1h0M620.7 298.7h0M520.2 246.2h0M530.2 238.6h0M613.8 309.1h0M634.0 310.0h0M525.7 240.6h0M632.6 305.9h0M633.8 299.2h0M631.7 349.7h0M601.5 299.6h0M622.6 305.8h0M636.7 302.6h0M614.1 300.1h0M537.2 255.4h0M635.6 303.6h0M541.1 240.9h0M526.0 241.8h0M617.1 317.2h0M627.0 303.4h0M538.7 239.8h0M611.2 309.3h0M615.5 323.4h0M526.6 239.0h0M541.1 245.6h0M535.4 252.9h0M535.5 236.8h0M617.2 291.7h0M540.8 264.7h0M610.5 296.5h0M603.0 299.9h0M616.0 287.6h0M621.4 312.0h0M621.0 314.9h0M623.0 291.3h0M539.4 246.5h0M617.9 310.9h0M524.2 243.7h0M530.7 251.1h0M528.6 252.4h0M521.4 247.5h0M617.9 287.1h0M603.7 308.1h0M614.2 344.7h0M622.7 309.1h0M621.3 288.1h0M640.7 303.6h0M610.0 291.7h0M626.0 326.9h0M614.3 308.8h0M602.0 318.5h0M621.1 312.6h0M625.4 297.9h0M622.3 299.0h0M615.7 289.2h0M538.3 240.2h0M544.2 246.8h0M604.2 295.5h0M634.5 288.6h0M644.1 314.3h0M621.7 296.0h0M639.2 310.3h0M637.2 319.8h0M600.0 295.4h0M600.7 295.6h0M636.8 318.2h0M539.4 243.4h0M601.0 315.0h0M626.4 292.7h0M537.2 254.9h0M613.3 313.9h0M639.1 299.2h0M620.6 310.5h0M540.6 237.2h0M600.3 301.2h0M636.8 311.7h0M541.6 259.7h0M529.7 241.8h0M638.2 301.9h0M610.9 290.2h0M642.3 302.1h0M642.0 305.8h0M539.7 239.4h0M638.2 312.4h0M637.2 302.5h0M544.6 267.9h0M602.0 297.6h0M626.9 296.8h0M598.2 320.6h0M607.6 288.1h0M606.5 312.9h0M639.5 295.8h0M613.3 304.5h0M627.8 308.8h0M531.4 239.2h0M621.6 301.7h0M610.0 293.6h0M539.9 252.6h0M538.3 239.1h0M520.7 257.4h0M637.2 316.8h0M641.4 304.4h0M631.0 310.7h0M529.3 247.0h0M540.2 258.0h0M527.0 256.8h0M641.8 315.1h0M619.4 328.8h0M600.0 315.0h0M619.0 295.0h0M530.0 251.3h0M533.1 246.9h0M612.1 293.4h0M610.7 290.9h0M613.3 303.2h0M538.2 238.4h0M530.3 251.9h0M610.6 308.1h0M616.0 306.9h0M637.4 297.4h0M632.1 288.4h0M617.4 306.4h0M641.6 302.2h0M528.0 239.6h0M629.0 296.3h0M530.8 237.2h0M622.0 288.6h0M609.9 289.9h0M630.6 300.7h0M633.6 288.3h0M633.0 309.8h0M598.8 301.3h0M532.0 238.9h0M540.4 239.8h0M537.8 242.4h0M635.2 313.6h0M521.5 247.5h0M529.1 248.9h0M608.6 308.3h0M617.1 296.2h0M631.8 295.0h0M606.4 316.4h0M599.3 303.9h0M613.8 300.0h0M634.5 288.9h0M625.3 300.1h0M598.7 328.5h0M519.6 255.7h0M604.9 295.4h0M611.3 310.4h0M541.0 255.5h0M600.1 316.0h0M538.1 242.2h0M545.5 239.9h0M615.1 311.7h0M618.2 301.9h0M526.3 254.3h0M525.2 244.5h0M617.7 315.4h0M535.5 242.9h0M608.2 312.2h0M614.6 300.4h0M530.6 251.0h0M544.5 239.4h0M641.2 310.5h0" stroke="#e09090" stroke-width="0.65" stroke-linecap="round" fill="none"/>
<path d="M521.9 257.6h0M608.3 288.7h0M607.9 290.7h0M521.1 246.9h0M640.2 313.7h0M601.8 307.3h0M615.2 312.3h0M624.2 289.0h0M531.1 257.1h0M625.3 294.4h0M622.3 291.1h0M539.9 254.4h0M538.6 242.2h0M530.9 241.1h0M531.0 239.8h0M625.2 290.4h0M602.9 309.2h0M531.0 252.0h0M530.8 239.3h0M605.6 298.0h0M629.7 346.6h0M545.2 249.4h0M606.3 291.8h0M537.0 246.7h0M602.8 292.8h0M627.6 294.4h0M531.8 249.5h0M621.7 299.9h0M618.9 304.7h0M624.7 323.6h0M542.7 256.5h0M615.4 292.9h0M640.7 306.6h0M532.0 247.5h0M541.2 255.9h0M611.7 306.3h0M631.6 303.1h0M617.0 295.2h0M643.0 311.7h0M624.0 294.3h0M547.2 246.7h0M525.1 247.6h0M630.8 297.4h0M619.1 299.7h0M540.2 251.2h0M602.6 309.5h0M613.6 295.4h0M605.3 302.3h0M530.4 241.6h0M638.7 292.8h0M539.2 241.7h0M546.6 257.9h0M612.6 286.4h0M620.4 339.0h0M637.8 317.8h0M634.0 313.8h0M531.6 326.2h0M617.2 290.5h0M608.7 294.1h0M611.2 302.1h0M620.7 296.3h0M640.8 298.3h0M614.0 289.5h0M521.3 252.4h0M541.9 241.3h0M523.1 241.3h0M522.4 257.2h0M617.6 300.9h0M534.3 236.2h0M609.8 300.9h0M626.6 320.9h0M525.1 252.1h0M615.3 302.9h0M522.8 242.0h0M525.5 239.7h0M601.9 312.4h0M548.9 257.1h0M547.6 266.1h0M627.5 313.9h0M614.8 317.4h0M620.9 310.6h0M625.0 309.8h0M545.6 241.1h0M533.5 266.3h0M598.5 314.0h0M542.9 257.6h0M600.3 304.0h0M532.7 245.5h0M607.3 295.3h0" stroke="#e08080" stroke-width="0.65" stroke-linecap="round" fill="none"/>
<path d="M607.6 318.4h0M604.6 327.2h0M539.3 251.3h0M610.3 302.6h0M635.3 302.0h0M604.1 316.5h0M527.7 335.1h0M525.9 251.2h0M541.4 250.7h0M603.6 321.1h0M523.3 249.8h0M609.8 297.9h0M599.0 313.1h0M614.5 306.1h0M546.7 250.6h0M614.7 327.2h0M634.4 306.1h0M631.0 307.1h0M603.2 322.2h0M538.9 245.3h0M527.2 257.9h0M611.1 305.0h0M638.9 312.8h0M627.6 302.3h0M631.4 306.0h0M626.1 299.3h0M623.1 289.1h0M522.2 256.8h0M617.4 299.4h0M638.4 301.5h0M544.4 244.2h0M613.0 319.5h0M618.9 287.5h0M540.4 245.1h0M520.8 248.7h0M542.2 253.2h0M538.8 237.8h0M544.4 240.0h0M621.7 294.5h0M640.1 313.3h0M604.9 290.5h0M545.8 249.4h0M631.1 289.3h0M537.7 274.1h0M537.5 240.6h0M604.8 304.5h0M527.7 250.1h0M534.7 236.6h0M628.4 291.0h0M546.7 250.1h0M616.7 315.9h0M608.8 305.0h0M611.7 293.6h0M624.2 290.5h0M633.8 289.5h0M618.4 301.4h0M613.9 313.8h0M613.9 308.5h0M536.7 247.9h0M613.5 298.8h0M621.6 321.2h0M639.3 305.2h0M615.9 303.0h0M537.4 256.4h0M625.5 296.9h0M541.7 259.2h0M526.3 248.2h0M628.4 302.4h0M632.3 317.0h0M543.1 258.9h0M615.0 297.1h0M620.7 289.8h0M603.9 292.5h0M601.9 344.9h0M598.9 298.7h0M618.5 344.9h0M541.6 249.9h0M624.6 312.5h0M547.8 254.8h0M519.3 249.1h0M619.4 290.0h0M543.4 250.3h0M625.3 295.5h0M536.0 242.8h0M608.6 288.9h0M621.1 322.7h0M611.4 302.1h0M534.9 234.7h0M622.3 296.8h0M606.5 292.4h0M617.0 308.8h0M624.8 295.9h0M602.4 306.5h0M623.4 315.2h0M630.0 344.5h0M538.4 250.2h0M615.0 299.3h0M543.3 265.0h0M603.2 309.3h0M618.0 299.5h0M616.6 320.7h0M541.0 243.3h0M609.1 341.8h0M529.4 250.5h0M614.1 303.0h0M600.9 310.1h0M546.0 246.8h0M629.6 313.5h0M597.3 327.5h0M598.5 331.1h0M543.7 246.5h0M613.1 329.9h0M608.9 289.3h0M639.7 312.1h0M624.6 309.7h0M635.2 293.0h0M642.2 302.4h0M638.5 297.9h0M622.4 313.4h0M612.1 306.9h0M602.1 317.0h0M619.9 300.7h0M636.1 311.2h0M619.5 301.2h0M542.5 250.9h0M545.6 258.5h0M632.5 303.3h0M534.4 259.3h0M641.2 297.0h0M521.4 254.2h0M599.7 305.1h0M626.1 291.2h0M615.0 304.8h0M541.1 246.0h0M599.5 315.6h0M534.6 236.9h0M621.6 301.3h0M631.0 302.9h0M620.1 316.0h0M540.9 246.4h0M606.6 310.9h0M605.8 299.4h0M606.8 293.6h0M534.0 258.6h0M617.2 313.2h0M616.8 309.4h0M631.6 302.7h0M602.7 293.6h0M639.2 306.1h0M544.1 246.1h0M614.1 309.4h0M540.4 260.0h0M615.3 288.7h0M613.9 305.6h0M617.7 306.4h0M610.9 314.4h0M603.7 306.0h0M538.7 250.5h0M642.0 299.7h0M620.5 310.4h0M636.7 295.4h0M549.3 261.9h0M522.9 251.6h0M609.4 313.8h0M626.1 313.1h0M523.2 255.5h0" stroke="#f06050" stroke-width="0.65" stroke-linecap="round" fill="none"/>
<path d="M616.5 300.4h0M629.6 287.6h0M627.1 288.8h0M617.1 332.0h0M643.2 304.9h0M627.3 298.3h0M540.7 246.3h0M630.3 302.0h0M608.1 294.9h0M633.8 299.7h0M546.1 249.4h0M531.7 249.8h0M537.5 243.0h0M639.4 293.9h0M530.2 240.2h0M635.2 300.9h0M525.7 239.1h0M606.4 335.3h0M535.5 251.1h0M610.6 306.6h0M631.1 301.2h0M525.6 242.0h0M630.3 299.1h0M621.6 312.9h0M537.7 251.7h0M629.9 307.9h0M599.7 317.9h0M624.0 300.9h0M530.9 237.8h0M626.8 290.0h0M624.0 294.7h0M616.2 307.3h0M613.9 306.7h0M538.7 241.1h0M520.9 250.4h0M537.9 249.7h0M608.7 298.2h0M628.5 296.8h0M526.0 258.9h0M637.7 299.9h0M622.6 296.7h0M633.5 291.0h0M623.8 288.7h0M523.6 248.1h0M543.7 245.5h0M541.7 242.8h0M537.8 246.1h0M598.0 318.0h0M616.7 304.5h0M631.9 312.3h0M619.7 294.1h0M532.8 256.2h0M600.1 308.8h0M539.9 240.2h0M632.8 320.3h0M620.0 290.5h0M603.9 316.0h0M544.5 239.9h0M549.9 267.3h0M539.4 271.1h0M546.2 252.5h0M640.5 311.1h0M544.8 259.2h0M532.8 266.1h0M536.5 248.6h0M617.3 304.7h0M519.0 252.0h0M524.8 246.7h0M602.7 316.4h0M614.4 310.6h0M632.1 302.8h0M632.5 294.2h0M608.1 302.2h0M615.2 309.1h0M629.7 296.6h0M637.3 330.8h0M538.1 247.3h0M542.5 251.1h0M534.1 239.8h0M620.1 296.3h0M603.5 307.6h0M539.2 237.8h0M543.5 335.4h0M528.9 253.7h0M524.3 252.0h0M547.1 243.0h0M640.1 309.7h0M537.4 246.7h0M541.1 238.1h0M522.2 246.9h0M630.6 294.6h0M603.2 300.2h0M526.3 263.5h0M614.3 309.5h0M629.8 321.9h0M636.8 301.7h0M521.6 245.0h0M618.9 342.5h0M544.3 262.4h0M534.9 245.2h0M526.8 239.4h0M538.4 239.1h0M605.9 295.6h0M521.0 245.8h0M542.1 238.1h0M536.5 236.1h0M627.5 321.5h0M521.4 244.2h0M629.9 349.3h0M531.3 236.3h0M537.0 236.0h0M610.8 307.3h0M620.9 301.3h0M542.5 245.0h0M533.6 251.9h0M534.5 237.3h0M538.6 238.7h0M639.8 304.8h0M627.0 299.3h0M531.7 240.6h0M639.7 293.2h0M539.3 248.8h0M610.0 326.7h0M635.1 308.7h0M635.6 313.9h0M520.3 245.3h0M618.2 331.3h0M622.4 332.1h0M618.2 297.1h0M606.6 314.1h0M546.8 256.8h0M640.9 321.2h0M534.0 256.9h0M635.6 292.3h0M520.8 248.4h0M608.4 289.9h0M525.3 248.3h0M520.8 255.2h0M549.1 253.1h0M628.7 286.7h0M520.0 256.9h0M637.8 295.7h0M639.2 305.9h0M535.0 242.7h0M616.8 299.9h0M623.5 314.2h0M600.0 315.7h0M620.7 294.3h0M618.1 307.1h0M623.4 300.0h0M542.9 273.5h0M549.1 247.2h0M620.7 309.5h0M541.1 241.6h0M524.8 257.2h0M626.0 312.2h0M642.2 303.6h0M629.3 299.7h0M632.2 288.3h0M615.7 296.9h0M635.0 289.4h0M535.4 240.0h0M630.1 288.5h0M621.9 288.2h0M640.8 301.5h0M538.0 245.4h0M620.3 329.5h0M624.4 345.8h0M602.9 293.1h0M606.5 313.1h0M545.2 274.4h0M629.0 310.0h0M524.5 248.6h0M538.2 249.6h0M618.8 293.8h0M535.2 251.7h0M634.2 289.4h0M613.2 288.5h0M630.6 304.5h0M542.8 237.4h0M613.4 295.7h0M639.1 313.9h0M521.7 248.4h0M540.8 253.1h0M600.4 304.0h0M623.7 297.4h0M615.3 309.9h0M524.0 245.6h0M543.1 247.0h0M519.3 253.2h0M620.7 287.1h0M624.3 294.6h0M519.2 248.3h0M631.3 300.7h0M524.4 245.1h0M604.8 309.7h0M518.5 248.1h0M622.5 304.6h0M617.1 305.6h0M630.5 312.8h0M606.3 290.3h0M627.5 287.0h0M609.0 303.0h0M617.7 298.3h0M598.2 308.4h0M629.8 316.8h0" stroke="#f05030" stroke-width="0.65" stroke-linecap="round" fill="none"/>
<path d="M624.7 320.1h0M623.3 304.0h0M544.8 241.4h0M539.5 243.7h0M602.5 295.2h0M624.4 352.3h0M639.2 299.9h0M642.7 319.7h0M631.6 307.2h0M605.4 300.2h0M635.7 308.8h0M540.2 236.5h0M543.3 257.7h0M618.1 288.3h0M520.1 251.6h0M545.0 254.1h0M601.4 303.2h0M523.6 248.8h0M534.3 238.8h0M623.5 294.7h0M532.9 244.0h0M601.7 315.2h0M523.6 250.4h0M617.0 286.1h0M527.9 237.8h0M540.5 253.4h0M624.4 292.2h0M530.9 239.8h0M622.5 312.8h0M612.1 312.6h0M548.3 248.3h0M622.2 290.4h0M623.1 305.8h0M641.3 296.8h0M540.7 246.6h0M599.3 302.7h0M546.3 244.8h0M536.3 241.1h0M632.4 338.1h0M639.7 311.7h0M604.6 296.7h0M545.6 249.0h0M620.2 301.9h0M623.7 325.6h0M527.4 238.3h0M606.6 291.6h0M525.7 254.8h0M634.4 302.7h0M611.6 298.2h0M636.7 340.8h0M620.6 321.3h0M519.2 247.5h0M543.0 241.5h0M637.6 310.0h0M614.3 287.8h0M603.8 302.5h0M623.2 311.2h0M531.4 243.6h0M638.5 299.0h0M531.4 238.9h0M631.0 322.7h0M623.6 288.6h0M603.0 311.6h0M624.1 303.4h0M637.3 306.3h0M526.7 238.4h0M642.2 299.1h0M538.9 241.6h0M525.3 241.9h0M536.4 239.1h0M535.0 262.9h0M615.3 316.0h0M522.8 242.0h0M610.4 296.3h0M542.2 238.2h0M543.9 237.6h0M634.7 288.6h0M548.1 268.8h0M543.1 242.7h0M627.4 299.3h0M635.6 301.3h0M525.4 240.5h0M530.7 265.2h0M638.9 302.5h0M620.6 316.7h0M623.0 346.0h0M638.6 294.2h0M637.1 307.3h0M628.7 288.9h0M607.9 302.9h0M532.3 247.9h0M612.0 305.0h0M631.1 294.4h0M537.6 240.1h0M633.2 300.0h0M637.0 312.7h0M609.4 297.8h0M635.2 299.3h0M635.8 311.2h0M626.8 310.8h0M538.1 248.8h0M615.2 316.1h0M541.9 245.9h0M535.4 249.1h0M519.1 250.4h0M603.9 301.5h0M622.4 323.6h0M611.3 301.3h0M629.0 289.8h0M599.3 306.8h0M534.5 256.0h0M638.3 299.1h0M623.3 293.5h0M610.6 294.3h0M540.2 244.6h0M615.7 294.9h0M635.6 297.0h0M631.7 287.9h0M604.6 291.8h0M623.1 296.0h0M601.5 295.4h0M624.8 314.3h0M620.5 302.3h0M531.6 238.2h0M618.9 305.7h0M606.3 297.3h0M522.2 250.2h0M526.3 253.6h0M530.4 244.5h0M616.6 306.5h0M528.9 256.0h0M629.2 300.9h0" stroke="#e0a090" stroke-width="0.65" stroke-linecap="round" fill="none"/>
<path d="M610.0 328.2h0M627.4 334.8h0M643.9 321.5h0M538.6 276.1h0M625.5 351.9h0M606.5 333.8h0M556.5 280.0h0M542.3 263.6h0M613.3 352.8h0M625.4 322.1h0M623.7 343.4h0M603.4 331.1h0M622.3 329.5h0M631.3 320.8h0M542.1 275.2h0M546.2 260.8h0M525.9 330.2h0M603.5 343.3h0M541.7 256.8h0M543.2 267.5h0M619.0 323.2h0M636.9 316.9h0M543.6 272.2h0M619.2 349.4h0M610.6 326.2h0M632.2 329.6h0M616.4 305.2h0M530.4 263.8h0M632.3 322.3h0M534.9 268.0h0M643.0 304.3h0M528.1 260.3h0M640.4 333.8h0M548.2 264.5h0M536.3 273.7h0M529.2 330.4h0M618.9 323.6h0M617.1 344.3h0M629.6 305.7h0M604.4 344.4h0" stroke="#a0a0e0" stroke-width="0.65" stroke-linecap="round" fill="none"/>
<path d="M609.8 287.4h0M543.9 250.2h0M532.3 257.8h0M531.4 249.2h0M642.3 301.4h0M542.3 253.5h0M601.9 310.8h0M535.6 235.7h0M525.1 250.5h0M642.2 298.3h0M534.5 243.4h0M627.6 292.1h0M629.5 335.7h0M628.9 321.8h0M641.0 315.3h0M625.1 289.1h0M606.1 297.3h0M545.0 251.9h0M632.7 312.4h0M600.1 303.2h0M599.9 308.8h0M634.4 313.5h0M602.1 301.9h0M534.1 248.8h0M636.7 309.5h0M541.2 250.3h0M599.5 306.2h0M607.9 293.4h0M607.5 300.9h0M532.0 248.4h0M534.3 234.5h0M542.6 242.7h0M522.5 249.5h0M622.0 320.6h0M642.3 300.1h0M545.9 243.9h0M629.4 325.0h0M545.7 242.8h0M642.4 313.2h0" stroke="#f05040" stroke-width="0.65" stroke-linecap="round" fill="none"/>
<path d="M626.5 323.6h0M534.7 249.6h0M638.9 301.7h0M544.5 253.0h0M620.5 312.9h0M542.4 256.9h0M605.2 290.1h0M525.7 241.4h0M531.8 254.4h0M624.4 300.2h0M607.7 327.2h0M545.8 245.4h0M637.6 295.9h0M635.8 335.5h0M617.7 301.6h0M544.6 241.4h0M540.8 269.2h0M603.2 304.8h0M540.5 251.5h0M611.2 291.5h0M604.6 329.9h0M521.8 255.4h0M525.4 260.3h0M550.2 252.4h0M541.1 253.3h0M604.8 300.3h0M620.4 291.6h0M597.0 318.0h0M628.2 315.3h0M640.6 317.0h0M621.3 295.0h0M546.4 242.9h0M606.2 291.2h0M532.8 264.6h0" stroke="#e08060" stroke-width="0.65" stroke-linecap="round" fill="none"/>
<path d="M634.2 337.8h0M616.1 327.6h0M633.2 341.2h0M642.0 311.3h0M544.0 272.8h0M628.7 330.8h0M531.4 267.1h0M620.0 320.0h0M527.0 334.3h0M598.6 334.0h0M633.3 300.5h0M627.6 337.8h0M627.4 331.0h0M526.0 261.9h0M607.8 329.0h0M631.7 337.0h0M537.0 335.6h0" stroke="#b0a0d0" stroke-width="0.65" stroke-linecap="round" fill="none"/>
<path d="M540.1 267.9h0M542.6 335.5h0M630.0 350.8h0M617.2 341.6h0M543.8 274.5h0M622.3 345.7h0M533.9 260.9h0M615.1 336.9h0" stroke="#c0b0d0" stroke-width="0.65" stroke-linecap="round" fill="none"/>
<path d="M605.1 333.2h0M540.5 250.4h0M530.6 259.2h0M633.3 346.5h0M527.6 259.5h0" stroke="#9090e0" stroke-width="0.65" stroke-linecap="round" fill="none"/>
<path d="M533.6 248.1h0M628.5 349.7h0M627.3 338.2h0M641.5 336.6h0M633.3 331.3h0M642.8 327.6h0M632.5 329.4h0" stroke="#b0b0d0" stroke-width="0.65" stroke-linecap="round" fill="none"/>
<line x1="512.8" y1="227.8" x2="512.8" y2="359.3" stroke="#4d4d4d" stroke-width="0.7"/>
<line x1="512.8" y1="359.3" x2="650" y2="359.3" stroke="#4d4d4d" stroke-width="0.7"/>
<line x1="509.6" y1="262.4" x2="512.8" y2="262.4" stroke="#4d4d4d" stroke-width="0.7"/>
<text x="505.8" y="265" font-size="7.6" text-anchor="end" textLength="4.44" lengthAdjust="spacingAndGlyphs">5</text>
<line x1="509.6" y1="301.1" x2="512.8" y2="301.1" stroke="#4d4d4d" stroke-width="0.7"/>
<text x="505.8" y="303.7" font-size="7.6" text-anchor="end" textLength="4.44" lengthAdjust="spacingAndGlyphs">0</text>
<line x1="509.6" y1="339.9" x2="512.8" y2="339.9" stroke="#4d4d4d" stroke-width="0.7"/>
<text x="505.8" y="342.5" font-size="7.6" text-anchor="end" textLength="9.1" lengthAdjust="spacingAndGlyphs">−5</text>
<line x1="516.4" y1="359.3" x2="516.4" y2="362.6" stroke="#4d4d4d" stroke-width="0.7"/>
<text x="516.4" y="372.5" font-size="7.6" text-anchor="middle" textLength="13.54" lengthAdjust="spacingAndGlyphs">−10</text>
<line x1="554.2" y1="359.3" x2="554.2" y2="362.6" stroke="#4d4d4d" stroke-width="0.7"/>
<text x="554.2" y="372.5" font-size="7.6" text-anchor="middle" textLength="9.1" lengthAdjust="spacingAndGlyphs">−5</text>
<line x1="592" y1="359.3" x2="592" y2="362.6" stroke="#4d4d4d" stroke-width="0.7"/>
<text x="592" y="372.5" font-size="7.6" text-anchor="middle" textLength="4.44" lengthAdjust="spacingAndGlyphs">0</text>
<line x1="629.8" y1="359.3" x2="629.8" y2="362.6" stroke="#4d4d4d" stroke-width="0.7"/>
<text x="629.8" y="372.5" font-size="7.6" text-anchor="middle" textLength="4.44" lengthAdjust="spacingAndGlyphs">5</text>
<text x="581.6" y="386.2" font-size="8.6" text-anchor="middle" textLength="26.9" lengthAdjust="spacingAndGlyphs">UMAP1</text>
<text transform="translate(490,293.2) rotate(-90)" text-anchor="middle" font-size="8.6" textLength="28.3" lengthAdjust="spacingAndGlyphs" fill="#231f20">UMAP2</text>
<rect x="616.9" y="392.2" width="40.1" height="8.6" fill="url(#g4)"/>
<text x="617.4" y="409.8" font-size="7.6" text-anchor="middle">0</text>
<line x1="630.2" y1="399.2" x2="630.2" y2="400.8" stroke="#fff" stroke-width="0.6"/>
<text x="630.2" y="409.8" font-size="7.6" text-anchor="middle">2</text>
<line x1="642.9" y1="399.2" x2="642.9" y2="400.8" stroke="#fff" stroke-width="0.6"/>
<text x="642.9" y="409.8" font-size="7.6" text-anchor="middle">4</text>
<line x1="655.7" y1="399.2" x2="655.7" y2="400.8" stroke="#fff" stroke-width="0.6"/>
<text x="655.7" y="409.8" font-size="7.6" text-anchor="middle">6</text>
<text x="605.6" y="420.6" font-size="8.6" textLength="12.2" lengthAdjust="spacingAndGlyphs">log</text>
<text x="618.3" y="422.4" font-size="5.2">2</text>
<text x="622.2" y="420.6" font-size="8.6" textLength="46.3" lengthAdjust="spacingAndGlyphs">1p (tp100K)</text>
<text x="-0.9" y="209.4" font-size="12.4" font-weight="bold" fill="#000" stroke="#000" stroke-width="0.45">d</text>
<text x="73.5" y="219" font-size="8.6" text-anchor="middle" textLength="51.3" lengthAdjust="spacingAndGlyphs">Monoculture</text>
<text transform="translate(13.2,287.7) rotate(-90)" text-anchor="middle" font-size="8.6" textLength="118.4" lengthAdjust="spacingAndGlyphs" fill="#231f20">MYC GA signature expression</text>
<line x1="33.6" y1="225.2" x2="33.6" y2="351" stroke="#4d4d4d" stroke-width="0.7"/>
<line x1="33.6" y1="351" x2="113.8" y2="351" stroke="#4d4d4d" stroke-width="0.7"/>
<line x1="30.2" y1="245.7" x2="33.6" y2="245.7" stroke="#4d4d4d" stroke-width="0.7"/>
<text x="26.7" y="248.3" font-size="7.4" text-anchor="end" textLength="4.32" lengthAdjust="spacingAndGlyphs">2</text>
<line x1="30.2" y1="272.5" x2="33.6" y2="272.5" stroke="#4d4d4d" stroke-width="0.7"/>
<text x="26.7" y="275.1" font-size="7.4" text-anchor="end" textLength="4.32" lengthAdjust="spacingAndGlyphs">1</text>
<line x1="30.2" y1="299.2" x2="33.6" y2="299.2" stroke="#4d4d4d" stroke-width="0.7"/>
<text x="26.7" y="301.8" font-size="7.4" text-anchor="end" textLength="4.32" lengthAdjust="spacingAndGlyphs">0</text>
<line x1="30.2" y1="325.9" x2="33.6" y2="325.9" stroke="#4d4d4d" stroke-width="0.7"/>
<text x="26.7" y="328.5" font-size="7.4" text-anchor="end" textLength="8.86" lengthAdjust="spacingAndGlyphs">−1</text>
<line x1="45.2" y1="351" x2="45.2" y2="354.4" stroke="#4d4d4d" stroke-width="0.7"/>
<line x1="64.3" y1="351" x2="64.3" y2="354.4" stroke="#4d4d4d" stroke-width="0.7"/>
<line x1="83.4" y1="351" x2="83.4" y2="354.4" stroke="#4d4d4d" stroke-width="0.7"/>
<line x1="102.5" y1="351" x2="102.5" y2="354.4" stroke="#4d4d4d" stroke-width="0.7"/>
<line x1="45.1" y1="273.4" x2="45.1" y2="345" stroke="#111" stroke-width="0.55"/>
<path d="M44.80 273.40L44.50 282.00L43.60 286.00L42.30 292.00L41.20 298.00L40.20 304.00L39.40 310.00L39.50 314.00L40.30 318.00L41.50 322.00L42.90 326.00L44.10 330.00L44.70 334.00L45.50 334.00L46.10 330.00L47.30 326.00L48.70 322.00L49.90 318.00L50.70 314.00L50.80 310.00L50.00 304.00L49.00 298.00L47.90 292.00L46.60 286.00L45.70 282.00L45.40 273.40Z" fill="#F8766D" stroke="#1a1a1a" stroke-width="0.5"/>
<line x1="45.1" y1="273.4" x2="45.1" y2="334" stroke="#1a1a1a" stroke-width="0.45"/>
<circle cx="45.1" cy="331.5" r="0.9" fill="#111"/>
<circle cx="45.1" cy="333.5" r="0.9" fill="#111"/>
<circle cx="45.1" cy="335.5" r="0.9" fill="#111"/>
<rect x="43.8" y="302" width="2.6" height="15.4" fill="#fff" stroke="#111" stroke-width="0.4"/>
<line x1="43.8" y1="310.6" x2="46.4" y2="310.6" stroke="#111" stroke-width="0.5"/>
<line x1="64.2" y1="264.2" x2="64.2" y2="330.5" stroke="#111" stroke-width="0.55"/>
<path d="M63.90 266.00L63.20 269.50L61.20 272.50L58.30 276.50L56.40 279.50L55.90 281.20L56.60 284.00L58.10 288.00L59.70 292.00L61.20 296.00L62.40 300.00L63.50 304.00L63.90 306.00L64.50 306.00L64.90 304.00L66.00 300.00L67.20 296.00L68.70 292.00L70.30 288.00L71.80 284.00L72.50 281.20L72.00 279.50L70.10 276.50L67.20 272.50L65.20 269.50L64.50 266.00Z" fill="#7CAE00" stroke="#1a1a1a" stroke-width="0.5"/>
<line x1="64.2" y1="266" x2="64.2" y2="306" stroke="#1a1a1a" stroke-width="0.45"/>
<circle cx="64.2" cy="305" r="0.9" fill="#111"/>
<circle cx="64.2" cy="307" r="0.9" fill="#111"/>
<circle cx="64.2" cy="309" r="0.9" fill="#111"/>
<circle cx="64.2" cy="310.5" r="0.9" fill="#111"/>
<circle cx="64.2" cy="312" r="0.9" fill="#111"/>
<circle cx="64.2" cy="313.5" r="0.9" fill="#111"/>
<circle cx="64.2" cy="315" r="0.9" fill="#111"/>
<circle cx="64.2" cy="316.5" r="0.9" fill="#111"/>
<circle cx="64.2" cy="318" r="0.9" fill="#111"/>
<circle cx="64.2" cy="320" r="0.9" fill="#111"/>
<circle cx="64.2" cy="322" r="0.9" fill="#111"/>
<circle cx="64.2" cy="324.5" r="0.9" fill="#111"/>
<circle cx="64.2" cy="327" r="0.9" fill="#111"/>
<rect x="62.9" y="279.5" width="2.6" height="12.1" fill="#fff" stroke="#111" stroke-width="0.4"/>
<line x1="62.9" y1="284.7" x2="65.5" y2="284.7" stroke="#111" stroke-width="0.5"/>
<line x1="83.3" y1="263" x2="83.3" y2="331" stroke="#111" stroke-width="0.55"/>
<path d="M83.00 263.00L82.40 266.00L80.30 269.00L77.30 273.00L75.10 277.00L74.50 280.00L75.70 284.00L78.10 288.00L79.60 292.00L80.30 296.00L81.10 300.00L82.30 303.00L83.00 305.50L83.60 305.50L84.30 303.00L85.50 300.00L86.30 296.00L87.00 292.00L88.50 288.00L90.90 284.00L92.10 280.00L91.50 277.00L89.30 273.00L86.30 269.00L84.20 266.00L83.60 263.00Z" fill="#00BFC4" stroke="#1a1a1a" stroke-width="0.5"/>
<line x1="83.3" y1="263" x2="83.3" y2="305.5" stroke="#1a1a1a" stroke-width="0.45"/>
<circle cx="83.3" cy="306" r="0.9" fill="#111"/>
<circle cx="83.3" cy="308" r="0.9" fill="#111"/>
<circle cx="83.3" cy="309.5" r="0.9" fill="#111"/>
<circle cx="83.3" cy="311" r="0.9" fill="#111"/>
<circle cx="83.3" cy="313" r="0.9" fill="#111"/>
<circle cx="83.3" cy="315" r="0.9" fill="#111"/>
<circle cx="83.3" cy="317" r="0.9" fill="#111"/>
<circle cx="83.3" cy="320" r="0.9" fill="#111"/>
<circle cx="83.3" cy="326" r="0.9" fill="#111"/>
<circle cx="83.3" cy="330.5" r="0.9" fill="#111"/>
<rect x="82" y="279.3" width="2.6" height="10.4" fill="#fff" stroke="#111" stroke-width="0.4"/>
<line x1="82" y1="283.4" x2="84.6" y2="283.4" stroke="#111" stroke-width="0.5"/>
<line x1="102.5" y1="261.2" x2="102.5" y2="326" stroke="#111" stroke-width="0.55"/>
<path d="M102.20 261.00L101.60 265.00L99.90 268.00L97.50 272.00L95.70 276.00L95.00 280.00L95.90 284.00L97.90 288.00L99.40 292.00L100.20 296.00L100.90 300.00L101.50 304.00L102.20 307.50L102.80 307.50L103.50 304.00L104.10 300.00L104.80 296.00L105.60 292.00L107.10 288.00L109.10 284.00L110.00 280.00L109.30 276.00L107.50 272.00L105.10 268.00L103.40 265.00L102.80 261.00Z" fill="#C77CFF" stroke="#1a1a1a" stroke-width="0.5"/>
<line x1="102.5" y1="261" x2="102.5" y2="307.5" stroke="#1a1a1a" stroke-width="0.45"/>
<circle cx="102.5" cy="308" r="0.9" fill="#111"/>
<circle cx="102.5" cy="310" r="0.9" fill="#111"/>
<circle cx="102.5" cy="312" r="0.9" fill="#111"/>
<circle cx="102.5" cy="314" r="0.9" fill="#111"/>
<circle cx="102.5" cy="318" r="0.9" fill="#111"/>
<rect x="101.2" y="278" width="2.6" height="11.7" fill="#fff" stroke="#111" stroke-width="0.4"/>
<line x1="101.2" y1="283.2" x2="103.8" y2="283.2" stroke="#111" stroke-width="0.5"/>
<path d="M45.2 266.8V264.5H64.4V266.8" fill="none" stroke="#555" stroke-width="0.6"/>
<path d="M45.2 259V256.7H83.4V259" fill="none" stroke="#555" stroke-width="0.6"/>
<path d="M45.2 249.7V247.4H102.6V249.7" fill="none" stroke="#555" stroke-width="0.6"/>
<path d="M64.4 241.7V239.4H83.4V241.7" fill="none" stroke="#555" stroke-width="0.6"/>
<path d="M83.4 232.7V230.4H102.6V232.7" fill="none" stroke="#555" stroke-width="0.6"/>
<path d="M47.85 259.30L48.47 260.55L49.85 260.75L48.85 261.72L49.08 263.10L47.85 262.45L46.62 263.10L46.85 261.72L45.85 260.75L47.23 260.55ZM52.35 259.30L52.97 260.55L54.35 260.75L53.35 261.72L53.58 263.10L52.35 262.45L51.12 263.10L51.35 261.72L50.35 260.75L51.73 260.55ZM56.85 259.30L57.47 260.55L58.85 260.75L57.85 261.72L58.08 263.10L56.85 262.45L55.62 263.10L55.85 261.72L54.85 260.75L56.23 260.55ZM61.35 259.30L61.97 260.55L63.35 260.75L62.35 261.72L62.58 263.10L61.35 262.45L60.12 263.10L60.35 261.72L59.35 260.75L60.73 260.55Z" fill="#111"/>
<path d="M56.85 250.90L57.47 252.15L58.85 252.35L57.85 253.32L58.08 254.70L56.85 254.05L55.62 254.70L55.85 253.32L54.85 252.35L56.23 252.15ZM61.35 250.90L61.97 252.15L63.35 252.35L62.35 253.32L62.58 254.70L61.35 254.05L60.12 254.70L60.35 253.32L59.35 252.35L60.73 252.15ZM65.85 250.90L66.47 252.15L67.85 252.35L66.85 253.32L67.08 254.70L65.85 254.05L64.62 254.70L64.85 253.32L63.85 252.35L65.23 252.15ZM70.35 250.90L70.97 252.15L72.35 252.35L71.35 253.32L71.58 254.70L70.35 254.05L69.12 254.70L69.35 253.32L68.35 252.35L69.73 252.15Z" fill="#111"/>
<path d="M66.45 242.90L67.07 244.15L68.45 244.35L67.45 245.32L67.68 246.70L66.45 246.05L65.22 246.70L65.45 245.32L64.45 244.35L65.83 244.15ZM70.95 242.90L71.57 244.15L72.95 244.35L71.95 245.32L72.18 246.70L70.95 246.05L69.72 246.70L69.95 245.32L68.95 244.35L70.33 244.15ZM75.45 242.90L76.07 244.15L77.45 244.35L76.45 245.32L76.68 246.70L75.45 246.05L74.22 246.70L74.45 245.32L73.45 244.35L74.83 244.15ZM79.95 242.90L80.57 244.15L81.95 244.35L80.95 245.32L81.18 246.70L79.95 246.05L78.72 246.70L78.95 245.32L77.95 244.35L79.33 244.15Z" fill="#111"/>
<text x="73.4" y="237.8" font-size="7" text-anchor="middle">NS</text>
<text x="92.4" y="229.2" font-size="7" text-anchor="middle">NS</text>
<text x="197.3" y="218.7" font-size="8.6" text-anchor="middle" textLength="40" lengthAdjust="spacingAndGlyphs">Coculture</text>
<text transform="translate(135.2,287.7) rotate(-90)" text-anchor="middle" font-size="8.6" textLength="118.4" lengthAdjust="spacingAndGlyphs" fill="#231f20">MYC GA signature expression</text>
<line x1="157.4" y1="225.2" x2="157.4" y2="351" stroke="#4d4d4d" stroke-width="0.7"/>
<line x1="157.4" y1="351" x2="237.4" y2="351" stroke="#4d4d4d" stroke-width="0.7"/>
<line x1="154" y1="227.8" x2="157.4" y2="227.8" stroke="#4d4d4d" stroke-width="0.7"/>
<text x="150.5" y="230.4" font-size="7.4" text-anchor="end" textLength="4.32" lengthAdjust="spacingAndGlyphs">3</text>
<line x1="154" y1="250.4" x2="157.4" y2="250.4" stroke="#4d4d4d" stroke-width="0.7"/>
<text x="150.5" y="253" font-size="7.4" text-anchor="end" textLength="4.32" lengthAdjust="spacingAndGlyphs">2</text>
<line x1="154" y1="273.1" x2="157.4" y2="273.1" stroke="#4d4d4d" stroke-width="0.7"/>
<text x="150.5" y="275.7" font-size="7.4" text-anchor="end" textLength="4.32" lengthAdjust="spacingAndGlyphs">1</text>
<line x1="154" y1="295.8" x2="157.4" y2="295.8" stroke="#4d4d4d" stroke-width="0.7"/>
<text x="150.5" y="298.4" font-size="7.4" text-anchor="end" textLength="4.32" lengthAdjust="spacingAndGlyphs">0</text>
<line x1="154" y1="318.5" x2="157.4" y2="318.5" stroke="#4d4d4d" stroke-width="0.7"/>
<text x="150.5" y="321.1" font-size="7.4" text-anchor="end" textLength="8.86" lengthAdjust="spacingAndGlyphs">−1</text>
<line x1="154" y1="341.2" x2="157.4" y2="341.2" stroke="#4d4d4d" stroke-width="0.7"/>
<text x="150.5" y="343.8" font-size="7.4" text-anchor="end" textLength="8.86" lengthAdjust="spacingAndGlyphs">−2</text>
<line x1="168.5" y1="351" x2="168.5" y2="354.4" stroke="#4d4d4d" stroke-width="0.7"/>
<line x1="187.8" y1="351" x2="187.8" y2="354.4" stroke="#4d4d4d" stroke-width="0.7"/>
<line x1="206.9" y1="351" x2="206.9" y2="354.4" stroke="#4d4d4d" stroke-width="0.7"/>
<line x1="168.6" y1="276.7" x2="168.6" y2="345.7" stroke="#111" stroke-width="0.55"/>
<path d="M168.30 276.70L167.90 283.00L166.80 287.00L165.40 292.00L164.30 297.00L163.50 303.00L163.80 308.00L164.60 313.00L165.80 318.00L166.90 322.00L167.80 326.00L168.30 329.00L168.90 329.00L169.40 326.00L170.30 322.00L171.40 318.00L172.60 313.00L173.40 308.00L173.70 303.00L172.90 297.00L171.80 292.00L170.40 287.00L169.30 283.00L168.90 276.70Z" fill="#F8766D" stroke="#1a1a1a" stroke-width="0.5"/>
<line x1="168.6" y1="276.7" x2="168.6" y2="329" stroke="#1a1a1a" stroke-width="0.45"/>
<circle cx="168.6" cy="328.5" r="0.9" fill="#111"/>
<circle cx="168.6" cy="332.5" r="0.9" fill="#111"/>
<circle cx="168.6" cy="339" r="0.9" fill="#111"/>
<rect x="167.3" y="297.9" width="2.6" height="14.9" fill="#fff" stroke="#111" stroke-width="0.4"/>
<line x1="167.3" y1="306.4" x2="169.9" y2="306.4" stroke="#111" stroke-width="0.5"/>
<line x1="187.8" y1="260" x2="187.8" y2="333" stroke="#111" stroke-width="0.55"/>
<path d="M187.00 271.40L185.30 274.00L183.50 277.00L182.50 281.00L182.80 285.00L183.80 289.00L184.80 293.00L185.10 295.00L183.60 298.00L182.60 300.50L183.20 303.00L184.80 305.00L186.50 307.00L187.50 309.00L188.10 309.00L189.10 307.00L190.80 305.00L192.40 303.00L193.00 300.50L192.00 298.00L190.50 295.00L190.80 293.00L191.80 289.00L192.80 285.00L193.10 281.00L192.10 277.00L190.30 274.00L188.60 271.40Z" fill="#7CAE00" stroke="#1a1a1a" stroke-width="0.5"/>
<line x1="187.8" y1="271.4" x2="187.8" y2="309" stroke="#1a1a1a" stroke-width="0.45"/>
<circle cx="187.8" cy="325.5" r="0.9" fill="#111"/>
<rect x="186.5" y="282" width="2.6" height="17" fill="#fff" stroke="#111" stroke-width="0.4"/>
<line x1="186.5" y1="288.4" x2="189.1" y2="288.4" stroke="#111" stroke-width="0.5"/>
<line x1="206.9" y1="263.6" x2="206.9" y2="323.4" stroke="#111" stroke-width="0.55"/>
<path d="M206.50 271.00L203.90 274.60L200.40 278.00L198.10 282.00L197.80 285.00L198.70 288.00L200.50 291.00L202.50 294.00L204.40 297.00L205.70 300.00L206.60 302.50L207.20 302.50L208.10 300.00L209.40 297.00L211.30 294.00L213.30 291.00L215.10 288.00L216.00 285.00L215.70 282.00L213.40 278.00L209.90 274.60L207.30 271.00Z" fill="#00BFC4" stroke="#1a1a1a" stroke-width="0.5"/>
<line x1="206.9" y1="271" x2="206.9" y2="302.5" stroke="#1a1a1a" stroke-width="0.45"/>
<circle cx="206.9" cy="300.5" r="0.9" fill="#111"/>
<circle cx="206.9" cy="303" r="0.9" fill="#111"/>
<circle cx="206.9" cy="305.5" r="0.9" fill="#111"/>
<circle cx="206.9" cy="308" r="0.9" fill="#111"/>
<circle cx="206.9" cy="310.5" r="0.9" fill="#111"/>
<circle cx="206.9" cy="313" r="0.9" fill="#111"/>
<circle cx="206.9" cy="316" r="0.9" fill="#111"/>
<rect x="205.6" y="279.4" width="2.6" height="8.6" fill="#fff" stroke="#111" stroke-width="0.4"/>
<line x1="205.6" y1="283" x2="208.2" y2="283" stroke="#111" stroke-width="0.5"/>
<line x1="226" y1="263" x2="226" y2="327.6" stroke="#111" stroke-width="0.55"/>
<path d="M225.60 266.00L223.50 270.30L221.00 274.00L219.00 278.00L218.40 281.00L219.20 285.00L221.00 289.00L222.80 293.00L223.50 297.00L223.50 301.00L223.90 304.00L225.00 307.50L225.70 310.00L226.30 310.00L227.00 307.50L228.10 304.00L228.50 301.00L228.50 297.00L229.20 293.00L231.00 289.00L232.80 285.00L233.60 281.00L233.00 278.00L231.00 274.00L228.50 270.30L226.40 266.00Z" fill="#C77CFF" stroke="#1a1a1a" stroke-width="0.5"/>
<line x1="226" y1="266" x2="226" y2="310" stroke="#1a1a1a" stroke-width="0.45"/>
<circle cx="226" cy="319.5" r="0.9" fill="#111"/>
<rect x="224.7" y="278.2" width="2.6" height="13.8" fill="#fff" stroke="#111" stroke-width="0.4"/>
<line x1="224.7" y1="282" x2="227.3" y2="282" stroke="#111" stroke-width="0.5"/>
<circle cx="196.3" cy="339.3" r="0.5" fill="#333"/>
<path d="M168.4 266.8V264.5H187.9V266.8" fill="none" stroke="#555" stroke-width="0.6"/>
<path d="M168.4 258.6V256.3H206.8V258.6" fill="none" stroke="#555" stroke-width="0.6"/>
<path d="M168.4 250V247.7H225.8V250" fill="none" stroke="#555" stroke-width="0.6"/>
<path d="M187.9 241.7V239.4H206.8V241.7" fill="none" stroke="#555" stroke-width="0.6"/>
<path d="M206.8 232.6V230.3H225.8V232.6" fill="none" stroke="#555" stroke-width="0.6"/>
<path d="M170.85 258.80L171.47 260.05L172.85 260.25L171.85 261.22L172.08 262.60L170.85 261.95L169.62 262.60L169.85 261.22L168.85 260.25L170.23 260.05ZM175.35 258.80L175.97 260.05L177.35 260.25L176.35 261.22L176.58 262.60L175.35 261.95L174.12 262.60L174.35 261.22L173.35 260.25L174.73 260.05ZM179.85 258.80L180.47 260.05L181.85 260.25L180.85 261.22L181.08 262.60L179.85 261.95L178.62 262.60L178.85 261.22L177.85 260.25L179.23 260.05ZM184.35 258.80L184.97 260.05L186.35 260.25L185.35 261.22L185.58 262.60L184.35 261.95L183.12 262.60L183.35 261.22L182.35 260.25L183.73 260.05Z" fill="#111"/>
<path d="M181.15 249.70L181.77 250.95L183.15 251.15L182.15 252.12L182.38 253.50L181.15 252.85L179.92 253.50L180.15 252.12L179.15 251.15L180.53 250.95ZM185.65 249.70L186.27 250.95L187.65 251.15L186.65 252.12L186.88 253.50L185.65 252.85L184.42 253.50L184.65 252.12L183.65 251.15L185.03 250.95ZM190.15 249.70L190.77 250.95L192.15 251.15L191.15 252.12L191.38 253.50L190.15 252.85L188.92 253.50L189.15 252.12L188.15 251.15L189.53 250.95ZM194.65 249.70L195.27 250.95L196.65 251.15L195.65 252.12L195.88 253.50L194.65 252.85L193.42 253.50L193.65 252.12L192.65 251.15L194.03 250.95Z" fill="#111"/>
<path d="M190.65 242.10L191.27 243.35L192.65 243.55L191.65 244.52L191.88 245.90L190.65 245.25L189.42 245.90L189.65 244.52L188.65 243.55L190.03 243.35ZM195.15 242.10L195.77 243.35L197.15 243.55L196.15 244.52L196.38 245.90L195.15 245.25L193.92 245.90L194.15 244.52L193.15 243.55L194.53 243.35ZM199.65 242.10L200.27 243.35L201.65 243.55L200.65 244.52L200.88 245.90L199.65 245.25L198.42 245.90L198.65 244.52L197.65 243.55L199.03 243.35ZM204.15 242.10L204.77 243.35L206.15 243.55L205.15 244.52L205.38 245.90L204.15 245.25L202.92 245.90L203.15 244.52L202.15 243.55L203.53 243.35Z" fill="#111"/>
<path d="M190.65 232.70L191.27 233.95L192.65 234.15L191.65 235.12L191.88 236.50L190.65 235.85L189.42 236.50L189.65 235.12L188.65 234.15L190.03 233.95ZM195.15 232.70L195.77 233.95L197.15 234.15L196.15 235.12L196.38 236.50L195.15 235.85L193.92 236.50L194.15 235.12L193.15 234.15L194.53 233.95ZM199.65 232.70L200.27 233.95L201.65 234.15L200.65 235.12L200.88 236.50L199.65 235.85L198.42 236.50L198.65 235.12L197.65 234.15L199.03 233.95ZM204.15 232.70L204.77 233.95L206.15 234.15L205.15 235.12L205.38 236.50L204.15 235.85L202.92 236.50L203.15 235.12L202.15 234.15L203.53 233.95Z" fill="#111"/>
<text x="215.9" y="229" font-size="7" text-anchor="middle">NS</text>
<text x="29.2" y="366.3" font-size="8.6" textLength="213.4" lengthAdjust="spacingAndGlyphs">sgRNA target, MYC level (no. of cells in monoculture,</text>
<text x="87.4" y="376.5" font-size="8.6" textLength="97.5" lengthAdjust="spacingAndGlyphs">no. of cells in coculture)</text>
<rect x="29.2" y="385" width="7.4" height="7.2" fill="#F8766D" stroke="#222" stroke-width="0.5"/>
<text x="40.5" y="391.1" font-size="7.4" textLength="69.4" lengthAdjust="spacingAndGlyphs">NTC (<tspan font-style="italic">n</tspan> = 1658, 1002)</text>
<rect x="29.2" y="396.8" width="7.4" height="7.2" fill="#7CAE00" stroke="#222" stroke-width="0.5"/>
<text x="40.5" y="402.9" font-size="7.4" textLength="85.5" lengthAdjust="spacingAndGlyphs">MYC, low (<tspan font-style="italic">n</tspan> = 1056, 360)</text>
<rect x="137.5" y="385" width="7.4" height="7.2" fill="#00BFC4" stroke="#222" stroke-width="0.5"/>
<text x="148.8" y="391.1" font-size="7.4" textLength="97.4" lengthAdjust="spacingAndGlyphs">MYC, moderate (<tspan font-style="italic">n</tspan> = 351, 185)</text>
<rect x="137.5" y="396.8" width="7.4" height="7.2" fill="#C77CFF" stroke="#222" stroke-width="0.5"/>
<text x="148.8" y="402.9" font-size="7.4" textLength="80.6" lengthAdjust="spacingAndGlyphs">MYC, high (<tspan font-style="italic">n</tspan> = 337, 199)</text>
</svg>
</body></html>
